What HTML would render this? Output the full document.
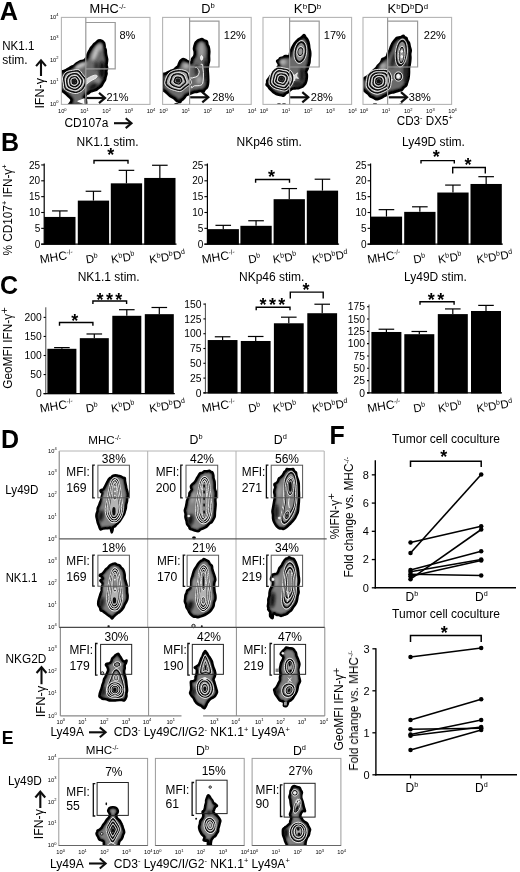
<!DOCTYPE html>
<html><head><meta charset="utf-8"><title>Figure</title>
<style>
html,body{margin:0;padding:0;background:#fff;}
body{width:520px;height:872px;overflow:hidden;font-family:"Liberation Sans",sans-serif;}
svg{display:block;font-family:"Liberation Sans",sans-serif;}
</style></head><body>
<svg width="520" height="872" viewBox="0 0 520 872">
<defs>
<filter id="gsoft" x="0" y="0" width="100%" height="100%" filterUnits="userSpaceOnUse"><feGaussianBlur stdDeviation="0.38"/></filter>
<filter id="soft" x="-5%" y="-5%" width="110%" height="110%"><feGaussianBlur stdDeviation="0.45"/></filter>
<filter id="soft3" x="-50%" y="-50%" width="200%" height="200%"><feGaussianBlur stdDeviation="1.6"/></filter>
<filter id="b06" x="-30%" y="-30%" width="160%" height="160%"><feGaussianBlur stdDeviation="0.6"/></filter>
<filter id="b08" x="-30%" y="-30%" width="160%" height="160%"><feGaussianBlur stdDeviation="0.9"/></filter>
<filter id="soft2" x="-5%" y="-5%" width="110%" height="110%"><feGaussianBlur stdDeviation="0.3"/></filter>
</defs>
<rect x="0" y="0" width="520" height="872" fill="#fff"/>
<g filter="url(#gsoft)">
<text x="-0.3" y="20.2" font-size="25.3" text-anchor="start" font-weight="bold" fill="#000">A</text>
<text x="0.9" y="150.9" font-size="25" text-anchor="start" font-weight="bold" fill="#000">B</text>
<text x="0.0" y="294.4" font-size="25" text-anchor="start" font-weight="bold" fill="#000">C</text>
<text x="0.9" y="447.9" font-size="25" text-anchor="start" font-weight="bold" fill="#000">D</text>
<text x="1.8" y="744.1" font-size="17.6" text-anchor="start" font-weight="bold" fill="#000">E</text>
<text x="329.5" y="443.8" font-size="25" text-anchor="start" font-weight="bold" fill="#000">F</text>
<text x="12.0" y="255.5" font-size="12" text-anchor="start" textLength="91" lengthAdjust="spacingAndGlyphs" fill="#000" transform="rotate(-90 12.0 255.5)">% CD107<tspan font-size="7.44" dy="-4.56">+</tspan><tspan dy="4.56"> IFN-γ</tspan><tspan font-size="7.44" dy="-4.56">+</tspan></text>
<rect x="44.2" y="216.938" width="31.3" height="27.762" fill="#000"/>
<line x1="59.85" y1="216.938" x2="59.85" y2="210.915" stroke="#000" stroke-width="1.2" stroke-linecap="butt"/>
<line x1="52.050000000000004" y1="210.915" x2="67.65" y2="210.915" stroke="#000" stroke-width="1.2" stroke-linecap="butt"/>
<rect x="77.8" y="200.61249999999998" width="31.3" height="44.087500000000006" fill="#000"/>
<line x1="93.45" y1="200.61249999999998" x2="93.45" y2="191.261" stroke="#000" stroke-width="1.2" stroke-linecap="butt"/>
<line x1="85.65" y1="191.261" x2="101.25" y2="191.261" stroke="#000" stroke-width="1.2" stroke-linecap="butt"/>
<rect x="110.8" y="183.33599999999998" width="31.3" height="61.364000000000004" fill="#000"/>
<line x1="126.45" y1="183.33599999999998" x2="126.45" y2="170.339" stroke="#000" stroke-width="1.2" stroke-linecap="butt"/>
<line x1="118.65" y1="170.339" x2="134.25" y2="170.339" stroke="#000" stroke-width="1.2" stroke-linecap="butt"/>
<rect x="144.2" y="177.947" width="31.3" height="66.75299999999999" fill="#000"/>
<line x1="159.85" y1="177.947" x2="159.85" y2="165.267" stroke="#000" stroke-width="1.2" stroke-linecap="butt"/>
<line x1="152.04999999999998" y1="165.267" x2="167.65" y2="165.267" stroke="#000" stroke-width="1.2" stroke-linecap="butt"/>
<line x1="44.2" y1="163.5" x2="44.2" y2="244.79999999999998" stroke="#000" stroke-width="1.2" stroke-linecap="butt"/>
<line x1="41.2" y1="244.2" x2="176.5" y2="244.2" stroke="#000" stroke-width="1.3" stroke-linecap="butt"/>
<line x1="41.2" y1="244.2" x2="44.2" y2="244.2" stroke="#000" stroke-width="1.1" stroke-linecap="butt"/>
<text x="40.2" y="247.79999999999998" font-size="10" text-anchor="end" fill="#000">0</text>
<line x1="41.2" y1="228.35" x2="44.2" y2="228.35" stroke="#000" stroke-width="1.1" stroke-linecap="butt"/>
<text x="40.2" y="231.95" font-size="10" text-anchor="end" fill="#000">5</text>
<line x1="41.2" y1="212.5" x2="44.2" y2="212.5" stroke="#000" stroke-width="1.1" stroke-linecap="butt"/>
<text x="40.2" y="216.1" font-size="10" text-anchor="end" fill="#000">10</text>
<line x1="41.2" y1="196.64999999999998" x2="44.2" y2="196.64999999999998" stroke="#000" stroke-width="1.1" stroke-linecap="butt"/>
<text x="40.2" y="200.24999999999997" font-size="10" text-anchor="end" fill="#000">15</text>
<line x1="41.2" y1="180.79999999999998" x2="44.2" y2="180.79999999999998" stroke="#000" stroke-width="1.1" stroke-linecap="butt"/>
<text x="40.2" y="184.39999999999998" font-size="10" text-anchor="end" fill="#000">20</text>
<line x1="41.2" y1="164.95" x2="44.2" y2="164.95" stroke="#000" stroke-width="1.1" stroke-linecap="butt"/>
<text x="40.2" y="168.54999999999998" font-size="10" text-anchor="end" fill="#000">25</text>
<text x="40.5" y="263.5" font-size="12" text-anchor="start" fill="#000" transform="rotate(-9 40.5 263.5)">MHC<tspan font-size="6.60" dy="-4.56">-/-</tspan></text>
<text x="86.5" y="263.5" font-size="11.5" text-anchor="start" fill="#000" transform="rotate(-9 86.5 263.5)">D<tspan font-size="7.13" dy="-4.37">b</tspan></text>
<text x="111.8" y="263.5" font-size="11.5" text-anchor="start" fill="#000" transform="rotate(-9 111.8 263.5)">K<tspan font-size="7.13" dy="-4.37">b</tspan><tspan dy="4.37">D</tspan><tspan font-size="7.13" dy="-4.37">b</tspan></text>
<text x="150" y="263.5" font-size="11.5" text-anchor="start" fill="#000" transform="rotate(-9 150 263.5)">K<tspan font-size="7.13" dy="-4.37">b</tspan><tspan dy="4.37">D</tspan><tspan font-size="7.13" dy="-4.37">b</tspan><tspan dy="4.37">D</tspan><tspan font-size="7.13" dy="-4.37">d</tspan></text>
<text x="76.5" y="145.5" font-size="12" text-anchor="start" fill="#000">NK1.1 stim.</text>
<path d="M94,163.7 L94,160.5 L128,160.5 L128,163.7" fill="none" stroke="#000" stroke-width="1.4" />
<text x="110.75" y="160.68" font-size="18" text-anchor="middle" font-weight="bold" fill="#000">*</text>
<rect x="207.6" y="229.14249999999998" width="31.3" height="15.557500000000005" fill="#000"/>
<line x1="223.25" y1="229.14249999999998" x2="223.25" y2="225.33849999999998" stroke="#000" stroke-width="1.2" stroke-linecap="butt"/>
<line x1="215.45" y1="225.33849999999998" x2="231.05" y2="225.33849999999998" stroke="#000" stroke-width="1.2" stroke-linecap="butt"/>
<rect x="240.4" y="225.814" width="31.3" height="18.885999999999996" fill="#000"/>
<line x1="256.05" y1="225.814" x2="256.05" y2="220.742" stroke="#000" stroke-width="1.2" stroke-linecap="butt"/>
<line x1="248.25" y1="220.742" x2="263.85" y2="220.742" stroke="#000" stroke-width="1.2" stroke-linecap="butt"/>
<rect x="273.6" y="199.18599999999998" width="31.3" height="45.51400000000001" fill="#000"/>
<line x1="289.25" y1="199.18599999999998" x2="289.25" y2="188.5665" stroke="#000" stroke-width="1.2" stroke-linecap="butt"/>
<line x1="281.45" y1="188.5665" x2="297.05" y2="188.5665" stroke="#000" stroke-width="1.2" stroke-linecap="butt"/>
<rect x="306.8" y="190.627" width="31.3" height="54.07299999999998" fill="#000"/>
<line x1="322.45" y1="190.627" x2="322.45" y2="179.21499999999997" stroke="#000" stroke-width="1.2" stroke-linecap="butt"/>
<line x1="314.65" y1="179.21499999999997" x2="330.25" y2="179.21499999999997" stroke="#000" stroke-width="1.2" stroke-linecap="butt"/>
<line x1="207.4" y1="163.5" x2="207.4" y2="244.79999999999998" stroke="#000" stroke-width="1.2" stroke-linecap="butt"/>
<line x1="204.4" y1="244.2" x2="339.1" y2="244.2" stroke="#000" stroke-width="1.3" stroke-linecap="butt"/>
<line x1="204.4" y1="244.2" x2="207.4" y2="244.2" stroke="#000" stroke-width="1.1" stroke-linecap="butt"/>
<text x="203.4" y="247.79999999999998" font-size="10" text-anchor="end" fill="#000">0</text>
<line x1="204.4" y1="228.35" x2="207.4" y2="228.35" stroke="#000" stroke-width="1.1" stroke-linecap="butt"/>
<text x="203.4" y="231.95" font-size="10" text-anchor="end" fill="#000">5</text>
<line x1="204.4" y1="212.5" x2="207.4" y2="212.5" stroke="#000" stroke-width="1.1" stroke-linecap="butt"/>
<text x="203.4" y="216.1" font-size="10" text-anchor="end" fill="#000">10</text>
<line x1="204.4" y1="196.64999999999998" x2="207.4" y2="196.64999999999998" stroke="#000" stroke-width="1.1" stroke-linecap="butt"/>
<text x="203.4" y="200.24999999999997" font-size="10" text-anchor="end" fill="#000">15</text>
<line x1="204.4" y1="180.79999999999998" x2="207.4" y2="180.79999999999998" stroke="#000" stroke-width="1.1" stroke-linecap="butt"/>
<text x="203.4" y="184.39999999999998" font-size="10" text-anchor="end" fill="#000">20</text>
<line x1="204.4" y1="164.95" x2="207.4" y2="164.95" stroke="#000" stroke-width="1.1" stroke-linecap="butt"/>
<text x="203.4" y="168.54999999999998" font-size="10" text-anchor="end" fill="#000">25</text>
<text x="202.5" y="263.5" font-size="12" text-anchor="start" fill="#000" transform="rotate(-9 202.5 263.5)">MHC<tspan font-size="6.60" dy="-4.56">-/-</tspan></text>
<text x="249" y="263.5" font-size="11.5" text-anchor="start" fill="#000" transform="rotate(-9 249 263.5)">D<tspan font-size="7.13" dy="-4.37">b</tspan></text>
<text x="273.5" y="263.5" font-size="11.5" text-anchor="start" fill="#000" transform="rotate(-9 273.5 263.5)">K<tspan font-size="7.13" dy="-4.37">b</tspan><tspan dy="4.37">D</tspan><tspan font-size="7.13" dy="-4.37">b</tspan></text>
<text x="312.7" y="263.5" font-size="11.5" text-anchor="start" fill="#000" transform="rotate(-9 312.7 263.5)">K<tspan font-size="7.13" dy="-4.37">b</tspan><tspan dy="4.37">D</tspan><tspan font-size="7.13" dy="-4.37">b</tspan><tspan dy="4.37">D</tspan><tspan font-size="7.13" dy="-4.37">d</tspan></text>
<text x="236.5" y="145.5" font-size="12" text-anchor="start" fill="#000">NKp46 stim.</text>
<path d="M255.6,182.7 L255.6,179.5 L289.5,179.5 L289.5,182.7" fill="none" stroke="#000" stroke-width="1.4" />
<text x="271.5" y="182.58" font-size="18" text-anchor="middle" font-weight="bold" fill="#000">*</text>
<rect x="370.8" y="216.62099999999998" width="31.3" height="28.079000000000008" fill="#000"/>
<line x1="386.45" y1="216.62099999999998" x2="386.45" y2="209.647" stroke="#000" stroke-width="1.2" stroke-linecap="butt"/>
<line x1="378.65" y1="209.647" x2="394.25" y2="209.647" stroke="#000" stroke-width="1.2" stroke-linecap="butt"/>
<rect x="404.2" y="211.86599999999999" width="31.3" height="32.834" fill="#000"/>
<line x1="419.84999999999997" y1="211.86599999999999" x2="419.84999999999997" y2="206.79399999999998" stroke="#000" stroke-width="1.2" stroke-linecap="butt"/>
<line x1="412.04999999999995" y1="206.79399999999998" x2="427.65" y2="206.79399999999998" stroke="#000" stroke-width="1.2" stroke-linecap="butt"/>
<rect x="437.3" y="192.529" width="31.3" height="52.17099999999999" fill="#000"/>
<line x1="452.95" y1="192.529" x2="452.95" y2="185.0795" stroke="#000" stroke-width="1.2" stroke-linecap="butt"/>
<line x1="445.15" y1="185.0795" x2="460.75" y2="185.0795" stroke="#000" stroke-width="1.2" stroke-linecap="butt"/>
<rect x="470.5" y="183.97" width="31.3" height="60.72999999999999" fill="#000"/>
<line x1="486.15" y1="183.97" x2="486.15" y2="176.67899999999997" stroke="#000" stroke-width="1.2" stroke-linecap="butt"/>
<line x1="478.34999999999997" y1="176.67899999999997" x2="493.95" y2="176.67899999999997" stroke="#000" stroke-width="1.2" stroke-linecap="butt"/>
<line x1="370.6" y1="163.5" x2="370.6" y2="244.79999999999998" stroke="#000" stroke-width="1.2" stroke-linecap="butt"/>
<line x1="367.6" y1="244.2" x2="502.8" y2="244.2" stroke="#000" stroke-width="1.3" stroke-linecap="butt"/>
<line x1="367.6" y1="244.2" x2="370.6" y2="244.2" stroke="#000" stroke-width="1.1" stroke-linecap="butt"/>
<text x="366.6" y="247.79999999999998" font-size="10" text-anchor="end" fill="#000">0</text>
<line x1="367.6" y1="228.35" x2="370.6" y2="228.35" stroke="#000" stroke-width="1.1" stroke-linecap="butt"/>
<text x="366.6" y="231.95" font-size="10" text-anchor="end" fill="#000">5</text>
<line x1="367.6" y1="212.5" x2="370.6" y2="212.5" stroke="#000" stroke-width="1.1" stroke-linecap="butt"/>
<text x="366.6" y="216.1" font-size="10" text-anchor="end" fill="#000">10</text>
<line x1="367.6" y1="196.64999999999998" x2="370.6" y2="196.64999999999998" stroke="#000" stroke-width="1.1" stroke-linecap="butt"/>
<text x="366.6" y="200.24999999999997" font-size="10" text-anchor="end" fill="#000">15</text>
<line x1="367.6" y1="180.79999999999998" x2="370.6" y2="180.79999999999998" stroke="#000" stroke-width="1.1" stroke-linecap="butt"/>
<text x="366.6" y="184.39999999999998" font-size="10" text-anchor="end" fill="#000">20</text>
<line x1="367.6" y1="164.95" x2="370.6" y2="164.95" stroke="#000" stroke-width="1.1" stroke-linecap="butt"/>
<text x="366.6" y="168.54999999999998" font-size="10" text-anchor="end" fill="#000">25</text>
<text x="368" y="263.5" font-size="12" text-anchor="start" fill="#000" transform="rotate(-9 368 263.5)">MHC<tspan font-size="6.60" dy="-4.56">-/-</tspan></text>
<text x="414" y="263.5" font-size="11.5" text-anchor="start" fill="#000" transform="rotate(-9 414 263.5)">D<tspan font-size="7.13" dy="-4.37">b</tspan></text>
<text x="438.7" y="263.5" font-size="11.5" text-anchor="start" fill="#000" transform="rotate(-9 438.7 263.5)">K<tspan font-size="7.13" dy="-4.37">b</tspan><tspan dy="4.37">D</tspan><tspan font-size="7.13" dy="-4.37">b</tspan></text>
<text x="477.3" y="263.5" font-size="11.5" text-anchor="start" fill="#000" transform="rotate(-9 477.3 263.5)">K<tspan font-size="7.13" dy="-4.37">b</tspan><tspan dy="4.37">D</tspan><tspan font-size="7.13" dy="-4.37">b</tspan><tspan dy="4.37">D</tspan><tspan font-size="7.13" dy="-4.37">d</tspan></text>
<text x="402" y="145.5" font-size="12" text-anchor="start" fill="#000">Ly49D stim.</text>
<path d="M421,163.6 L421,160.6 L454.3,160.6 L454.3,163.6" fill="none" stroke="#000" stroke-width="1.4" />
<text x="436.3" y="163.08" font-size="18" text-anchor="middle" font-weight="bold" fill="#000">*</text>
<path d="M452.7,173.5 L452.7,167.5 L485.3,167.5 L485.3,173.5" fill="none" stroke="#000" stroke-width="1.4" />
<text x="468.0" y="170.88000000000002" font-size="18" text-anchor="middle" font-weight="bold" fill="#000">*</text>
<text x="12.0" y="388.8" font-size="12" text-anchor="start" textLength="81.5" lengthAdjust="spacingAndGlyphs" fill="#000" transform="rotate(-90 12.0 388.8)">GeoMFI IFN-γ<tspan font-size="11.40" dy="-3.60">+</tspan></text>
<rect x="47.4" y="348.7944" width="29" height="45.30560000000003" fill="#000"/>
<line x1="61.9" y1="348.7944" x2="61.9" y2="347.61330000000004" stroke="#000" stroke-width="1.2" stroke-linecap="butt"/>
<line x1="54.1" y1="347.61330000000004" x2="69.7" y2="347.61330000000004" stroke="#000" stroke-width="1.2" stroke-linecap="butt"/>
<rect x="79.8" y="338.16450000000003" width="29" height="55.93549999999999" fill="#000"/>
<line x1="94.3" y1="338.16450000000003" x2="94.3" y2="333.9735" stroke="#000" stroke-width="1.2" stroke-linecap="butt"/>
<line x1="86.5" y1="333.9735" x2="102.1" y2="333.9735" stroke="#000" stroke-width="1.2" stroke-linecap="butt"/>
<rect x="112.3" y="315.7998" width="29" height="78.30020000000002" fill="#000"/>
<line x1="126.8" y1="315.7998" x2="126.8" y2="309.7038" stroke="#000" stroke-width="1.2" stroke-linecap="butt"/>
<line x1="119.0" y1="309.7038" x2="134.6" y2="309.7038" stroke="#000" stroke-width="1.2" stroke-linecap="butt"/>
<rect x="144.8" y="314.16150000000005" width="29" height="79.93849999999998" fill="#000"/>
<line x1="159.3" y1="314.16150000000005" x2="159.3" y2="307.494" stroke="#000" stroke-width="1.2" stroke-linecap="butt"/>
<line x1="151.5" y1="307.494" x2="167.10000000000002" y2="307.494" stroke="#000" stroke-width="1.2" stroke-linecap="butt"/>
<line x1="45.8" y1="307.3" x2="45.8" y2="394.20000000000005" stroke="#333" stroke-width="0.9" stroke-linecap="butt"/>
<line x1="43.599999999999994" y1="393.6" x2="174.8" y2="393.6" stroke="#000" stroke-width="1.3" stroke-linecap="butt"/>
<line x1="43.599999999999994" y1="393.6" x2="45.8" y2="393.6" stroke="#000" stroke-width="1.1" stroke-linecap="butt"/>
<text x="41.8" y="397.20000000000005" font-size="10.3" text-anchor="end" fill="#000">0</text>
<line x1="43.599999999999994" y1="374.55" x2="45.8" y2="374.55" stroke="#000" stroke-width="1.1" stroke-linecap="butt"/>
<text x="41.8" y="378.15000000000003" font-size="10.3" text-anchor="end" fill="#000">50</text>
<line x1="43.599999999999994" y1="355.5" x2="45.8" y2="355.5" stroke="#000" stroke-width="1.1" stroke-linecap="butt"/>
<text x="41.8" y="359.1" font-size="10.3" text-anchor="end" fill="#000">100</text>
<line x1="43.599999999999994" y1="336.45000000000005" x2="45.8" y2="336.45000000000005" stroke="#000" stroke-width="1.1" stroke-linecap="butt"/>
<text x="41.8" y="340.05000000000007" font-size="10.3" text-anchor="end" fill="#000">150</text>
<line x1="43.599999999999994" y1="317.40000000000003" x2="45.8" y2="317.40000000000003" stroke="#000" stroke-width="1.1" stroke-linecap="butt"/>
<text x="41.8" y="321.00000000000006" font-size="10.3" text-anchor="end" fill="#000">200</text>
<text x="40.5" y="412.5" font-size="12" text-anchor="start" fill="#000" transform="rotate(-9 40.5 412.5)">MHC<tspan font-size="6.60" dy="-4.56">-/-</tspan></text>
<text x="86.5" y="412.5" font-size="11.5" text-anchor="start" fill="#000" transform="rotate(-9 86.5 412.5)">D<tspan font-size="7.13" dy="-4.37">b</tspan></text>
<text x="111.8" y="412.5" font-size="11.5" text-anchor="start" fill="#000" transform="rotate(-9 111.8 412.5)">K<tspan font-size="7.13" dy="-4.37">b</tspan><tspan dy="4.37">D</tspan><tspan font-size="7.13" dy="-4.37">b</tspan></text>
<text x="150" y="412.5" font-size="11.5" text-anchor="start" fill="#000" transform="rotate(-9 150 412.5)">K<tspan font-size="7.13" dy="-4.37">b</tspan><tspan dy="4.37">D</tspan><tspan font-size="7.13" dy="-4.37">b</tspan><tspan dy="4.37">D</tspan><tspan font-size="7.13" dy="-4.37">d</tspan></text>
<text x="77.7" y="280.6" font-size="12" text-anchor="start" fill="#000">NK1.1 stim.</text>
<path d="M59.5,325.7 L59.5,322.5 L92.9,322.5 L92.9,325.7" fill="none" stroke="#000" stroke-width="1.4" />
<text x="74.7" y="327.38" font-size="18" text-anchor="middle" font-weight="bold" fill="#000">*</text>
<path d="M92.9,304 L92.9,301 L126.6,301 L126.6,304" fill="none" stroke="#000" stroke-width="1.4" />
<text x="100.10000000000001" y="305.68" font-size="18" text-anchor="middle" font-weight="bold" fill="#000">*</text>
<text x="109.4" y="305.68" font-size="18" text-anchor="middle" font-weight="bold" fill="#000">*</text>
<text x="118.70000000000002" y="305.68" font-size="18" text-anchor="middle" font-weight="bold" fill="#000">*</text>
<rect x="207.7" y="340.0344" width="29.8" height="53.36559999999997" fill="#000"/>
<line x1="222.6" y1="340.0344" x2="222.6" y2="336.7784" stroke="#000" stroke-width="1.2" stroke-linecap="butt"/>
<line x1="214.79999999999998" y1="336.7784" x2="230.4" y2="336.7784" stroke="#000" stroke-width="1.2" stroke-linecap="butt"/>
<rect x="240.8" y="340.98159999999996" width="29.8" height="52.41840000000002" fill="#000"/>
<line x1="255.70000000000002" y1="340.98159999999996" x2="255.70000000000002" y2="336.4824" stroke="#000" stroke-width="1.2" stroke-linecap="butt"/>
<line x1="247.9" y1="336.4824" x2="263.5" y2="336.4824" stroke="#000" stroke-width="1.2" stroke-linecap="butt"/>
<rect x="273.9" y="323.2808" width="29.8" height="70.11919999999998" fill="#000"/>
<line x1="288.79999999999995" y1="323.2808" x2="288.79999999999995" y2="317.18319999999994" stroke="#000" stroke-width="1.2" stroke-linecap="butt"/>
<line x1="280.99999999999994" y1="317.18319999999994" x2="296.59999999999997" y2="317.18319999999994" stroke="#000" stroke-width="1.2" stroke-linecap="butt"/>
<rect x="307.3" y="313.2168" width="29.8" height="80.1832" fill="#000"/>
<line x1="322.2" y1="313.2168" x2="322.2" y2="304.2184" stroke="#000" stroke-width="1.2" stroke-linecap="butt"/>
<line x1="314.4" y1="304.2184" x2="330.0" y2="304.2184" stroke="#000" stroke-width="1.2" stroke-linecap="butt"/>
<line x1="205.4" y1="303.4" x2="205.4" y2="393.5" stroke="#333" stroke-width="0.9" stroke-linecap="butt"/>
<line x1="203.4" y1="392.9" x2="338.1" y2="392.9" stroke="#000" stroke-width="1.3" stroke-linecap="butt"/>
<line x1="203.4" y1="392.9" x2="205.4" y2="392.9" stroke="#000" stroke-width="1.1" stroke-linecap="butt"/>
<text x="201.4" y="396.5" font-size="10.3" text-anchor="end" fill="#000">0</text>
<line x1="203.4" y1="378.09999999999997" x2="205.4" y2="378.09999999999997" stroke="#000" stroke-width="1.1" stroke-linecap="butt"/>
<text x="201.4" y="381.7" font-size="10.3" text-anchor="end" fill="#000">25</text>
<line x1="203.4" y1="363.29999999999995" x2="205.4" y2="363.29999999999995" stroke="#000" stroke-width="1.1" stroke-linecap="butt"/>
<text x="201.4" y="366.9" font-size="10.3" text-anchor="end" fill="#000">50</text>
<line x1="203.4" y1="348.5" x2="205.4" y2="348.5" stroke="#000" stroke-width="1.1" stroke-linecap="butt"/>
<text x="201.4" y="352.1" font-size="10.3" text-anchor="end" fill="#000">75</text>
<line x1="203.4" y1="333.7" x2="205.4" y2="333.7" stroke="#000" stroke-width="1.1" stroke-linecap="butt"/>
<text x="201.4" y="337.3" font-size="10.3" text-anchor="end" fill="#000">100</text>
<line x1="203.4" y1="318.9" x2="205.4" y2="318.9" stroke="#000" stroke-width="1.1" stroke-linecap="butt"/>
<text x="201.4" y="322.5" font-size="10.3" text-anchor="end" fill="#000">125</text>
<line x1="203.4" y1="304.09999999999997" x2="205.4" y2="304.09999999999997" stroke="#000" stroke-width="1.1" stroke-linecap="butt"/>
<text x="201.4" y="307.7" font-size="10.3" text-anchor="end" fill="#000">150</text>
<text x="202.5" y="412.5" font-size="12" text-anchor="start" fill="#000" transform="rotate(-9 202.5 412.5)">MHC<tspan font-size="6.60" dy="-4.56">-/-</tspan></text>
<text x="249" y="412.5" font-size="11.5" text-anchor="start" fill="#000" transform="rotate(-9 249 412.5)">D<tspan font-size="7.13" dy="-4.37">b</tspan></text>
<text x="273.5" y="412.5" font-size="11.5" text-anchor="start" fill="#000" transform="rotate(-9 273.5 412.5)">K<tspan font-size="7.13" dy="-4.37">b</tspan><tspan dy="4.37">D</tspan><tspan font-size="7.13" dy="-4.37">b</tspan></text>
<text x="312.7" y="412.5" font-size="11.5" text-anchor="start" fill="#000" transform="rotate(-9 312.7 412.5)">K<tspan font-size="7.13" dy="-4.37">b</tspan><tspan dy="4.37">D</tspan><tspan font-size="7.13" dy="-4.37">b</tspan><tspan dy="4.37">D</tspan><tspan font-size="7.13" dy="-4.37">d</tspan></text>
<text x="239" y="280.6" font-size="12" text-anchor="start" fill="#000">NKp46 stim.</text>
<path d="M256.2,310.3 L256.2,307.3 L290,307.3 L290,310.3" fill="none" stroke="#000" stroke-width="1.4" />
<text x="263.09999999999997" y="310.68" font-size="18" text-anchor="middle" font-weight="bold" fill="#000">*</text>
<text x="272.4" y="310.68" font-size="18" text-anchor="middle" font-weight="bold" fill="#000">*</text>
<text x="281.7" y="310.68" font-size="18" text-anchor="middle" font-weight="bold" fill="#000">*</text>
<path d="M290.3,298.6 L290.3,292.1 L323.2,292.1 L323.2,298.6" fill="none" stroke="#000" stroke-width="1.4" />
<text x="305.9" y="295.68" font-size="18" text-anchor="middle" font-weight="bold" fill="#000">*</text>
<rect x="371.4" y="331.97774999999996" width="30" height="61.42225000000002" fill="#000"/>
<line x1="386.4" y1="331.97774999999996" x2="386.4" y2="329.21975" stroke="#000" stroke-width="1.2" stroke-linecap="butt"/>
<line x1="378.59999999999997" y1="329.21975" x2="394.2" y2="329.21975" stroke="#000" stroke-width="1.2" stroke-linecap="butt"/>
<rect x="404.3" y="334.19399999999996" width="30" height="59.20600000000002" fill="#000"/>
<line x1="419.3" y1="334.19399999999996" x2="419.3" y2="331.48524999999995" stroke="#000" stroke-width="1.2" stroke-linecap="butt"/>
<line x1="411.5" y1="331.48524999999995" x2="427.1" y2="331.48524999999995" stroke="#000" stroke-width="1.2" stroke-linecap="butt"/>
<rect x="437.8" y="314.09999999999997" width="30" height="79.30000000000001" fill="#000"/>
<line x1="452.8" y1="314.09999999999997" x2="452.8" y2="308.92875" stroke="#000" stroke-width="1.2" stroke-linecap="butt"/>
<line x1="445.0" y1="308.92875" x2="460.6" y2="308.92875" stroke="#000" stroke-width="1.2" stroke-linecap="butt"/>
<rect x="471" y="310.99725" width="30" height="82.40274999999997" fill="#000"/>
<line x1="486.0" y1="310.99725" x2="486.0" y2="305.38275" stroke="#000" stroke-width="1.2" stroke-linecap="butt"/>
<line x1="478.2" y1="305.38275" x2="493.8" y2="305.38275" stroke="#000" stroke-width="1.2" stroke-linecap="butt"/>
<line x1="369" y1="304.5" x2="369" y2="393.5" stroke="#333" stroke-width="0.9" stroke-linecap="butt"/>
<line x1="367.0" y1="392.9" x2="502" y2="392.9" stroke="#000" stroke-width="1.3" stroke-linecap="butt"/>
<line x1="367.0" y1="392.9" x2="369" y2="392.9" stroke="#000" stroke-width="1.1" stroke-linecap="butt"/>
<text x="365.0" y="396.5" font-size="10.3" text-anchor="end" fill="#000">0</text>
<line x1="367.0" y1="380.5875" x2="369" y2="380.5875" stroke="#000" stroke-width="1.1" stroke-linecap="butt"/>
<text x="365.0" y="384.1875" font-size="10.3" text-anchor="end" fill="#000">25</text>
<line x1="367.0" y1="368.275" x2="369" y2="368.275" stroke="#000" stroke-width="1.1" stroke-linecap="butt"/>
<text x="365.0" y="371.875" font-size="10.3" text-anchor="end" fill="#000">50</text>
<line x1="367.0" y1="355.9625" x2="369" y2="355.9625" stroke="#000" stroke-width="1.1" stroke-linecap="butt"/>
<text x="365.0" y="359.5625" font-size="10.3" text-anchor="end" fill="#000">75</text>
<line x1="367.0" y1="343.65" x2="369" y2="343.65" stroke="#000" stroke-width="1.1" stroke-linecap="butt"/>
<text x="365.0" y="347.25" font-size="10.3" text-anchor="end" fill="#000">100</text>
<line x1="367.0" y1="331.3375" x2="369" y2="331.3375" stroke="#000" stroke-width="1.1" stroke-linecap="butt"/>
<text x="365.0" y="334.9375" font-size="10.3" text-anchor="end" fill="#000">125</text>
<line x1="367.0" y1="319.025" x2="369" y2="319.025" stroke="#000" stroke-width="1.1" stroke-linecap="butt"/>
<text x="365.0" y="322.625" font-size="10.3" text-anchor="end" fill="#000">150</text>
<line x1="367.0" y1="306.7125" x2="369" y2="306.7125" stroke="#000" stroke-width="1.1" stroke-linecap="butt"/>
<text x="365.0" y="310.3125" font-size="10.3" text-anchor="end" fill="#000">175</text>
<text x="368" y="412.5" font-size="12" text-anchor="start" fill="#000" transform="rotate(-9 368 412.5)">MHC<tspan font-size="6.60" dy="-4.56">-/-</tspan></text>
<text x="414" y="412.5" font-size="11.5" text-anchor="start" fill="#000" transform="rotate(-9 414 412.5)">D<tspan font-size="7.13" dy="-4.37">b</tspan></text>
<text x="438.7" y="412.5" font-size="11.5" text-anchor="start" fill="#000" transform="rotate(-9 438.7 412.5)">K<tspan font-size="7.13" dy="-4.37">b</tspan><tspan dy="4.37">D</tspan><tspan font-size="7.13" dy="-4.37">b</tspan></text>
<text x="477.3" y="412.5" font-size="11.5" text-anchor="start" fill="#000" transform="rotate(-9 477.3 412.5)">K<tspan font-size="7.13" dy="-4.37">b</tspan><tspan dy="4.37">D</tspan><tspan font-size="7.13" dy="-4.37">b</tspan><tspan dy="4.37">D</tspan><tspan font-size="7.13" dy="-4.37">d</tspan></text>
<text x="404" y="280.6" font-size="12" text-anchor="start" fill="#000">Ly49D stim.</text>
<path d="M420,304.8 L420,301.8 L454.1,301.8 L454.1,304.8" fill="none" stroke="#000" stroke-width="1.4" />
<text x="431.35" y="305.68" font-size="18" text-anchor="middle" font-weight="bold" fill="#000">*</text>
<text x="440.65000000000003" y="305.68" font-size="18" text-anchor="middle" font-weight="bold" fill="#000">*</text>
<text x="2.3" y="49.6" font-size="12" text-anchor="start" textLength="32" lengthAdjust="spacingAndGlyphs" fill="#000">NK1.1</text>
<text x="2.3" y="64.3" font-size="12" text-anchor="start" fill="#000">stim.</text>
<line x1="41" y1="76" x2="41" y2="61.3" stroke="#111" stroke-width="2.1" stroke-linecap="butt"/>
<path d="M36.07,66.1 L41,60.3 L45.93,66.1" fill="none" stroke="#111" stroke-width="2.1" />
<text x="44.2" y="108.6" font-size="12" text-anchor="start" textLength="30.5" lengthAdjust="spacingAndGlyphs" fill="#000" transform="rotate(-90 44.2 108.6)">IFN-γ</text>
<text x="64.5" y="126.6" font-size="12" text-anchor="start" textLength="43.8" lengthAdjust="spacingAndGlyphs" fill="#000">CD107a</text>
<line x1="114" y1="123.2" x2="130.5" y2="123.2" stroke="#111" stroke-width="2.1" stroke-linecap="butt"/>
<path d="M125.7,118.27000000000001 L131.5,123.2 L125.7,128.13" fill="none" stroke="#111" stroke-width="2.1" />
<clipPath id="clipA0"><rect x="61.4" y="17.4" width="88.6" height="87.0"/></clipPath>
<g clip-path="url(#clipA0)">
<clipPath id="bc1"><path d="M60.0,72.5C60.5,70.8 62.0,71.6 63.0,71.2C64.0,70.8 65.1,70.4 66.0,70.0C66.9,69.6 67.7,69.1 68.5,68.6C69.4,68.1 70.1,67.5 71.0,67.0C71.9,66.5 72.9,66.3 73.7,65.8C74.6,65.2 75.3,64.3 76.0,63.8C76.7,63.3 77.3,62.9 78.0,62.5C78.6,62.1 79.3,61.6 80.0,61.3C80.7,61.0 81.3,61.0 82.0,60.8C82.7,60.6 83.4,60.6 84.0,60.3C84.6,60.0 85.1,59.3 85.6,58.7C86.1,58.2 86.7,57.7 87.0,57.0C87.3,56.3 87.2,55.2 87.5,54.4C87.8,53.6 88.2,52.8 88.6,52.0C89.0,51.2 89.4,50.6 89.8,49.9C90.2,49.1 90.5,48.4 91.0,47.7C91.5,47.0 92.1,46.5 92.6,45.9C93.1,45.3 93.5,44.5 94.0,44.0C94.5,43.5 95.2,43.4 95.7,43.0C96.2,42.6 96.5,42.0 97.0,41.6C97.5,41.2 97.9,40.8 98.4,40.5C99.0,40.3 99.7,40.2 100.2,40.2C100.7,40.2 101.2,40.5 101.7,40.7C102.1,40.9 102.6,41.1 103.0,41.5C103.4,41.9 103.9,42.5 104.2,43.1C104.4,43.7 104.5,44.3 104.6,45.0C104.7,45.7 104.7,46.7 104.9,47.6C105.1,48.4 105.6,49.1 105.8,50.0C106.0,50.9 105.8,52.0 106.0,53.0C106.1,54.0 106.3,55.0 106.5,56.0C106.7,57.0 107.1,58.0 107.2,59.0C107.3,60.0 107.1,61.0 107.0,62.0C106.9,63.0 106.6,64.0 106.6,65.0C106.7,66.0 107.2,67.0 107.2,68.0C107.2,69.0 106.5,70.0 106.4,71.0C106.3,72.0 106.7,73.0 106.6,74.0C106.5,75.0 105.9,76.0 105.7,77.0C105.4,78.0 105.4,79.1 105.0,80.0C104.6,80.9 103.9,81.6 103.4,82.4C102.9,83.3 102.5,84.2 102.0,85.0C101.5,85.8 100.9,86.4 100.2,87.0C99.6,87.6 98.7,88.0 98.0,88.5C97.3,89.0 96.9,89.6 96.2,89.9C95.6,90.3 94.7,90.3 94.0,90.5C93.3,90.7 92.7,91.0 92.0,91.2C91.3,91.5 90.6,91.6 90.0,92.0C89.4,92.4 89.1,93.0 88.5,93.4C87.9,93.7 87.0,93.6 86.5,94.0C86.0,94.4 86.1,95.2 85.8,95.7C85.4,96.2 84.5,96.5 84.5,97.0C84.5,97.5 85.2,98.1 85.5,98.6C85.7,99.2 85.9,99.7 86.0,100.5C86.1,101.3 86.3,102.4 86.2,103.3C86.1,104.2 87.1,105.5 85.5,106.0C83.9,106.5 79.7,106.0 76.8,106.0C73.8,106.0 69.3,106.3 68.0,106.0C66.7,105.7 68.8,104.8 69.2,104.2C69.6,103.6 70.1,103.2 70.5,102.5C70.9,101.8 71.5,100.7 71.5,100.0C71.5,99.3 70.8,98.6 70.3,98.0C69.8,97.4 69.0,97.0 68.5,96.5C68.0,96.0 67.5,95.5 67.0,95.0C66.5,94.5 66.0,93.9 65.5,93.5C65.0,93.1 64.6,92.7 64.1,92.4C63.6,92.0 63.2,91.8 62.5,91.5C61.8,91.2 60.4,92.2 60.0,90.5C59.6,88.8 60.0,84.5 60.0,81.5C60.0,78.5 59.5,74.2 60.0,72.5Z"/></clipPath>
<path d="M60.0,72.5C60.5,70.8 62.0,71.6 63.0,71.2C64.0,70.8 65.1,70.4 66.0,70.0C66.9,69.6 67.7,69.1 68.5,68.6C69.4,68.1 70.1,67.5 71.0,67.0C71.9,66.5 72.9,66.3 73.7,65.8C74.6,65.2 75.3,64.3 76.0,63.8C76.7,63.3 77.3,62.9 78.0,62.5C78.6,62.1 79.3,61.6 80.0,61.3C80.7,61.0 81.3,61.0 82.0,60.8C82.7,60.6 83.4,60.6 84.0,60.3C84.6,60.0 85.1,59.3 85.6,58.7C86.1,58.2 86.7,57.7 87.0,57.0C87.3,56.3 87.2,55.2 87.5,54.4C87.8,53.6 88.2,52.8 88.6,52.0C89.0,51.2 89.4,50.6 89.8,49.9C90.2,49.1 90.5,48.4 91.0,47.7C91.5,47.0 92.1,46.5 92.6,45.9C93.1,45.3 93.5,44.5 94.0,44.0C94.5,43.5 95.2,43.4 95.7,43.0C96.2,42.6 96.5,42.0 97.0,41.6C97.5,41.2 97.9,40.8 98.4,40.5C99.0,40.3 99.7,40.2 100.2,40.2C100.7,40.2 101.2,40.5 101.7,40.7C102.1,40.9 102.6,41.1 103.0,41.5C103.4,41.9 103.9,42.5 104.2,43.1C104.4,43.7 104.5,44.3 104.6,45.0C104.7,45.7 104.7,46.7 104.9,47.6C105.1,48.4 105.6,49.1 105.8,50.0C106.0,50.9 105.8,52.0 106.0,53.0C106.1,54.0 106.3,55.0 106.5,56.0C106.7,57.0 107.1,58.0 107.2,59.0C107.3,60.0 107.1,61.0 107.0,62.0C106.9,63.0 106.6,64.0 106.6,65.0C106.7,66.0 107.2,67.0 107.2,68.0C107.2,69.0 106.5,70.0 106.4,71.0C106.3,72.0 106.7,73.0 106.6,74.0C106.5,75.0 105.9,76.0 105.7,77.0C105.4,78.0 105.4,79.1 105.0,80.0C104.6,80.9 103.9,81.6 103.4,82.4C102.9,83.3 102.5,84.2 102.0,85.0C101.5,85.8 100.9,86.4 100.2,87.0C99.6,87.6 98.7,88.0 98.0,88.5C97.3,89.0 96.9,89.6 96.2,89.9C95.6,90.3 94.7,90.3 94.0,90.5C93.3,90.7 92.7,91.0 92.0,91.2C91.3,91.5 90.6,91.6 90.0,92.0C89.4,92.4 89.1,93.0 88.5,93.4C87.9,93.7 87.0,93.6 86.5,94.0C86.0,94.4 86.1,95.2 85.8,95.7C85.4,96.2 84.5,96.5 84.5,97.0C84.5,97.5 85.2,98.1 85.5,98.6C85.7,99.2 85.9,99.7 86.0,100.5C86.1,101.3 86.3,102.4 86.2,103.3C86.1,104.2 87.1,105.5 85.5,106.0C83.9,106.5 79.7,106.0 76.8,106.0C73.8,106.0 69.3,106.3 68.0,106.0C66.7,105.7 68.8,104.8 69.2,104.2C69.6,103.6 70.1,103.2 70.5,102.5C70.9,101.8 71.5,100.7 71.5,100.0C71.5,99.3 70.8,98.6 70.3,98.0C69.8,97.4 69.0,97.0 68.5,96.5C68.0,96.0 67.5,95.5 67.0,95.0C66.5,94.5 66.0,93.9 65.5,93.5C65.0,93.1 64.6,92.7 64.1,92.4C63.6,92.0 63.2,91.8 62.5,91.5C61.8,91.2 60.4,92.2 60.0,90.5C59.6,88.8 60.0,84.5 60.0,81.5C60.0,78.5 59.5,74.2 60.0,72.5Z" fill="#6a6a6a" stroke="#000" stroke-width="2.4" stroke-linejoin="round"/>
<g clip-path="url(#bc1)">
<path d="M60.0,72.5C60.5,70.8 62.0,71.6 63.0,71.2C64.0,70.8 65.1,70.4 66.0,70.0C66.9,69.6 67.7,69.1 68.5,68.6C69.4,68.1 70.1,67.5 71.0,67.0C71.9,66.5 72.9,66.3 73.7,65.8C74.6,65.2 75.3,64.3 76.0,63.8C76.7,63.3 77.3,62.9 78.0,62.5C78.6,62.1 79.3,61.6 80.0,61.3C80.7,61.0 81.3,61.0 82.0,60.8C82.7,60.6 83.4,60.6 84.0,60.3C84.6,60.0 85.1,59.3 85.6,58.7C86.1,58.2 86.7,57.7 87.0,57.0C87.3,56.3 87.2,55.2 87.5,54.4C87.8,53.6 88.2,52.8 88.6,52.0C89.0,51.2 89.4,50.6 89.8,49.9C90.2,49.1 90.5,48.4 91.0,47.7C91.5,47.0 92.1,46.5 92.6,45.9C93.1,45.3 93.5,44.5 94.0,44.0C94.5,43.5 95.2,43.4 95.7,43.0C96.2,42.6 96.5,42.0 97.0,41.6C97.5,41.2 97.9,40.8 98.4,40.5C99.0,40.3 99.7,40.2 100.2,40.2C100.7,40.2 101.2,40.5 101.7,40.7C102.1,40.9 102.6,41.1 103.0,41.5C103.4,41.9 103.9,42.5 104.2,43.1C104.4,43.7 104.5,44.3 104.6,45.0C104.7,45.7 104.7,46.7 104.9,47.6C105.1,48.4 105.6,49.1 105.8,50.0C106.0,50.9 105.8,52.0 106.0,53.0C106.1,54.0 106.3,55.0 106.5,56.0C106.7,57.0 107.1,58.0 107.2,59.0C107.3,60.0 107.1,61.0 107.0,62.0C106.9,63.0 106.6,64.0 106.6,65.0C106.7,66.0 107.2,67.0 107.2,68.0C107.2,69.0 106.5,70.0 106.4,71.0C106.3,72.0 106.7,73.0 106.6,74.0C106.5,75.0 105.9,76.0 105.7,77.0C105.4,78.0 105.4,79.1 105.0,80.0C104.6,80.9 103.9,81.6 103.4,82.4C102.9,83.3 102.5,84.2 102.0,85.0C101.5,85.8 100.9,86.4 100.2,87.0C99.6,87.6 98.7,88.0 98.0,88.5C97.3,89.0 96.9,89.6 96.2,89.9C95.6,90.3 94.7,90.3 94.0,90.5C93.3,90.7 92.7,91.0 92.0,91.2C91.3,91.5 90.6,91.6 90.0,92.0C89.4,92.4 89.1,93.0 88.5,93.4C87.9,93.7 87.0,93.6 86.5,94.0C86.0,94.4 86.1,95.2 85.8,95.7C85.4,96.2 84.5,96.5 84.5,97.0C84.5,97.5 85.2,98.1 85.5,98.6C85.7,99.2 85.9,99.7 86.0,100.5C86.1,101.3 86.3,102.4 86.2,103.3C86.1,104.2 87.1,105.5 85.5,106.0C83.9,106.5 79.7,106.0 76.8,106.0C73.8,106.0 69.3,106.3 68.0,106.0C66.7,105.7 68.8,104.8 69.2,104.2C69.6,103.6 70.1,103.2 70.5,102.5C70.9,101.8 71.5,100.7 71.5,100.0C71.5,99.3 70.8,98.6 70.3,98.0C69.8,97.4 69.0,97.0 68.5,96.5C68.0,96.0 67.5,95.5 67.0,95.0C66.5,94.5 66.0,93.9 65.5,93.5C65.0,93.1 64.6,92.7 64.1,92.4C63.6,92.0 63.2,91.8 62.5,91.5C61.8,91.2 60.4,92.2 60.0,90.5C59.6,88.8 60.0,84.5 60.0,81.5C60.0,78.5 59.5,74.2 60.0,72.5Z" fill="none" stroke="#060606" stroke-width="4.2" filter="url(#b08)"/>
<ellipse cx="95.5" cy="53" rx="2.2" ry="8.5" fill="#d0d0d0" opacity="0.95" filter="url(#soft3)" transform="rotate(22 95.5 53)"/>
<ellipse cx="100" cy="47" rx="2.5" ry="3.5" fill="#bdbdbd" opacity="0.8" filter="url(#soft3)" transform="rotate(0 100 47)"/>
<ellipse cx="102" cy="70" rx="3.0" ry="9" fill="#080808" opacity="1" filter="url(#soft3)" transform="rotate(0 102 70)"/>
<ellipse cx="96.5" cy="66" rx="2.2" ry="4" fill="#2a2a2a" opacity="1" filter="url(#soft3)" transform="rotate(0 96.5 66)"/>
<ellipse cx="80.5" cy="65.5" rx="6.5" ry="2.0" fill="#cfcfcf" opacity="1" filter="url(#soft3)" transform="rotate(-25 80.5 65.5)"/>
<ellipse cx="93" cy="86.5" rx="5.5" ry="2.5" fill="#0c0c0c" opacity="1" filter="url(#soft3)" transform="rotate(-30 93 86.5)"/>
<ellipse cx="97" cy="80" rx="3" ry="3" fill="#9a9a9a" opacity="0.7" filter="url(#soft3)" transform="rotate(0 97 80)"/>
</g>
<path d="M86.0,80.0C86.5,78.9 88.1,78.0 89.5,77.2C90.9,76.4 93.2,75.4 94.5,75.2C95.8,75.0 97.0,75.3 97.2,75.8C97.5,76.3 96.8,77.3 96.0,78.0C95.2,78.7 93.7,79.3 92.5,80.0C91.3,80.7 90.0,81.5 89.0,82.2C88.0,82.9 87.0,84.4 86.5,84.0C86.0,83.6 85.5,81.1 86.0,80.0Z" fill="#d6d6d6" stroke="#fff" stroke-width="0.8"/>
<path d="M86.5,79.3C87.0,81.1 86.6,83.5 85.9,85.3C85.2,87.2 83.9,89.2 82.4,90.5C80.8,91.9 78.5,93.2 76.4,93.5C74.4,93.8 72.0,93.0 70.0,92.3C68.0,91.6 65.6,90.7 64.5,89.2C63.4,87.8 63.6,85.4 63.3,83.4C62.9,81.5 62.2,79.5 62.6,77.6C63.1,75.7 64.3,73.4 66.0,72.1C67.6,70.9 70.2,70.7 72.3,70.3C74.5,69.9 77.1,69.2 78.9,69.9C80.7,70.6 81.7,73.1 83.0,74.6C84.2,76.2 86.0,77.6 86.5,79.3Z" fill="#a8a8a8"/>
<path d="M85.5,79.5C85.9,81.2 85.5,83.3 84.9,85.0C84.3,86.7 83.1,88.5 81.7,89.8C80.2,91.0 78.1,92.2 76.2,92.5C74.3,92.7 72.2,92.0 70.4,91.4C68.5,90.7 66.4,89.9 65.3,88.6C64.3,87.2 64.5,85.1 64.2,83.3C63.9,81.5 63.2,79.7 63.6,78.0C64.0,76.2 65.2,74.0 66.7,72.9C68.1,71.8 70.5,71.6 72.5,71.2C74.5,70.9 76.9,70.2 78.5,70.9C80.2,71.5 81.1,73.8 82.2,75.2C83.4,76.7 85.0,77.9 85.5,79.5Z" fill="none" stroke="#080808" stroke-width="1.7" filter="url(#b06)"/>
<path d="M86.5,79.3C87.0,81.1 86.6,83.5 85.9,85.3C85.2,87.2 83.9,89.2 82.4,90.5C80.8,91.9 78.5,93.2 76.4,93.5C74.4,93.8 72.0,93.0 70.0,92.3C68.0,91.6 65.6,90.7 64.5,89.2C63.4,87.8 63.6,85.4 63.3,83.4C62.9,81.5 62.2,79.5 62.6,77.6C63.1,75.7 64.3,73.4 66.0,72.1C67.6,70.9 70.2,70.7 72.3,70.3C74.5,69.9 77.1,69.2 78.9,69.9C80.7,70.6 81.7,73.1 83.0,74.6C84.2,76.2 86.0,77.6 86.5,79.3Z" fill="none" stroke="#fff" stroke-width="0.85"/>
<path d="M83.4,79.9C83.7,81.3 83.3,83.0 82.8,84.4C82.2,85.7 81.2,87.0 80.0,88.0C78.9,89.1 77.4,90.3 75.9,90.6C74.4,90.9 72.6,90.2 71.1,89.6C69.6,89.1 68.0,88.4 67.1,87.3C66.2,86.2 66.0,84.5 65.7,83.0C65.5,81.6 65.3,80.0 65.7,78.6C66.1,77.2 67.1,75.7 68.3,74.7C69.5,73.7 71.2,73.0 72.7,72.7C74.3,72.4 76.3,72.4 77.6,73.0C79.0,73.6 80.0,75.0 80.9,76.2C81.9,77.3 83.1,78.5 83.4,79.9Z" fill="#a8a8a8"/>
<path d="M82.4,80.1C82.6,81.3 82.3,82.8 81.8,84.0C81.3,85.2 80.4,86.4 79.4,87.3C78.4,88.2 77.1,89.3 75.7,89.6C74.4,89.8 72.8,89.2 71.5,88.7C70.2,88.2 68.7,87.6 67.9,86.6C67.1,85.6 66.9,84.1 66.7,82.8C66.5,81.6 66.3,80.2 66.7,78.9C67.1,77.7 67.9,76.4 69.0,75.5C70.0,74.6 71.5,73.9 72.9,73.7C74.3,73.4 76.1,73.4 77.3,73.9C78.5,74.5 79.4,75.8 80.2,76.8C81.1,77.8 82.1,78.9 82.4,80.1Z" fill="none" stroke="#080808" stroke-width="1.7" filter="url(#b06)"/>
<path d="M83.4,79.9C83.7,81.3 83.3,83.0 82.8,84.4C82.2,85.7 81.2,87.0 80.0,88.0C78.9,89.1 77.4,90.3 75.9,90.6C74.4,90.9 72.6,90.2 71.1,89.6C69.6,89.1 68.0,88.4 67.1,87.3C66.2,86.2 66.0,84.5 65.7,83.0C65.5,81.6 65.3,80.0 65.7,78.6C66.1,77.2 67.1,75.7 68.3,74.7C69.5,73.7 71.2,73.0 72.7,72.7C74.3,72.4 76.3,72.4 77.6,73.0C79.0,73.6 80.0,75.0 80.9,76.2C81.9,77.3 83.1,78.5 83.4,79.9Z" fill="none" stroke="#fff" stroke-width="0.85"/>
<path d="M80.3,80.4C80.6,81.4 80.7,82.6 80.4,83.6C80.1,84.6 79.2,85.5 78.4,86.2C77.6,87.0 76.5,87.7 75.4,87.9C74.4,88.1 73.1,87.8 72.1,87.4C71.1,87.0 69.9,86.3 69.4,85.5C68.8,84.7 68.9,83.5 68.7,82.5C68.6,81.5 68.5,80.5 68.7,79.6C69.0,78.6 69.5,77.5 70.3,76.8C71.0,76.2 72.2,75.9 73.3,75.7C74.3,75.6 75.6,75.4 76.5,75.7C77.4,76.1 78.1,77.1 78.8,77.9C79.4,78.6 80.0,79.5 80.3,80.4Z" fill="#a8a8a8"/>
<path d="M79.3,80.6C79.5,81.4 79.7,82.5 79.4,83.3C79.1,84.1 78.4,84.9 77.7,85.5C77.0,86.1 76.1,86.7 75.2,86.8C74.4,87.0 73.3,86.8 72.4,86.4C71.6,86.1 70.7,85.5 70.2,84.8C69.7,84.2 69.7,83.1 69.7,82.3C69.6,81.5 69.4,80.7 69.7,79.9C69.9,79.1 70.3,78.1 70.9,77.6C71.6,77.1 72.6,76.8 73.5,76.7C74.3,76.5 75.4,76.4 76.1,76.7C76.9,76.9 77.5,77.8 78.0,78.5C78.6,79.1 79.1,79.8 79.3,80.6Z" fill="none" stroke="#080808" stroke-width="1.7" filter="url(#b06)"/>
<path d="M80.3,80.4C80.6,81.4 80.7,82.6 80.4,83.6C80.1,84.6 79.2,85.5 78.4,86.2C77.6,87.0 76.5,87.7 75.4,87.9C74.4,88.1 73.1,87.8 72.1,87.4C71.1,87.0 69.9,86.3 69.4,85.5C68.8,84.7 68.9,83.5 68.7,82.5C68.6,81.5 68.5,80.5 68.7,79.6C69.0,78.6 69.5,77.5 70.3,76.8C71.0,76.2 72.2,75.9 73.3,75.7C74.3,75.6 75.6,75.4 76.5,75.7C77.4,76.1 78.1,77.1 78.8,77.9C79.4,78.6 80.0,79.5 80.3,80.4Z" fill="none" stroke="#fff" stroke-width="0.85"/>
<path d="M77.7,80.9C77.9,81.5 77.9,82.2 77.7,82.8C77.6,83.3 77.1,83.9 76.6,84.3C76.1,84.7 75.5,85.0 74.9,85.1C74.3,85.2 73.6,85.2 73.0,85.0C72.5,84.8 71.8,84.4 71.5,83.9C71.1,83.4 71.2,82.7 71.1,82.1C71.1,81.5 70.9,80.9 71.0,80.3C71.2,79.7 71.4,79.0 71.9,78.6C72.3,78.2 73.1,78.2 73.7,78.1C74.3,78.0 75.1,77.7 75.6,77.9C76.1,78.1 76.4,78.9 76.7,79.4C77.1,79.9 77.5,80.4 77.7,80.9Z" fill="#a8a8a8"/>
<path d="M76.7,81.1C76.9,81.5 76.9,82.0 76.8,82.4C76.6,82.8 76.3,83.2 76.0,83.5C75.6,83.8 75.2,84.0 74.8,84.1C74.3,84.2 73.8,84.1 73.4,84.0C73.0,83.8 72.5,83.6 72.3,83.2C72.0,82.9 72.1,82.3 72.0,81.9C72.0,81.5 71.9,81.1 71.9,80.6C72.0,80.2 72.2,79.7 72.6,79.4C72.9,79.2 73.4,79.1 73.9,79.0C74.3,79.0 74.9,78.8 75.2,78.9C75.6,79.1 75.8,79.7 76.1,80.0C76.3,80.4 76.6,80.7 76.7,81.1Z" fill="none" stroke="#080808" stroke-width="1.7" filter="url(#b06)"/>
<path d="M77.7,80.9C77.9,81.5 77.9,82.2 77.7,82.8C77.6,83.3 77.1,83.9 76.6,84.3C76.1,84.7 75.5,85.0 74.9,85.1C74.3,85.2 73.6,85.2 73.0,85.0C72.5,84.8 71.8,84.4 71.5,83.9C71.1,83.4 71.2,82.7 71.1,82.1C71.1,81.5 70.9,80.9 71.0,80.3C71.2,79.7 71.4,79.0 71.9,78.6C72.3,78.2 73.1,78.2 73.7,78.1C74.3,78.0 75.1,77.7 75.6,77.9C76.1,78.1 76.4,78.9 76.7,79.4C77.1,79.9 77.5,80.4 77.7,80.9Z" fill="none" stroke="#fff" stroke-width="0.85"/>
<ellipse cx="74.3" cy="81.5" rx="1.75" ry="1.75" fill="#1a1a1a" filter="url(#b06)"/>
<path d="M84.5,98.8 L78,101.3 L84.5,103.6" fill="#fff" stroke="#fff" stroke-width="1.2" stroke-linejoin="round"/>
</g>
<rect x="61.4" y="17.4" width="88.6" height="87.0" fill="none" stroke="#b4b4b4" stroke-width="1.1"/>
<line x1="85.8" y1="17.4" x2="85.8" y2="104.4" stroke="#999" stroke-width="1.2" stroke-linecap="butt"/>
<path d="M85.8,22.5 L115.2,22.5 L115.2,68.8 L85.8,68.8" fill="none" stroke="#999" stroke-width="1.2" />
<text x="62.3" y="113.3" font-size="5.7" text-anchor="middle" fill="#000">10<tspan font-size="3.99" dy="-2.56">0</tspan></text>
<text x="84.45" y="113.3" font-size="5.7" text-anchor="middle" fill="#000">10<tspan font-size="3.99" dy="-2.56">1</tspan></text>
<text x="106.6" y="113.3" font-size="5.7" text-anchor="middle" fill="#000">10<tspan font-size="3.99" dy="-2.56">2</tspan></text>
<text x="128.75" y="113.3" font-size="5.7" text-anchor="middle" fill="#000">10<tspan font-size="3.99" dy="-2.56">3</tspan></text>
<text x="150.9" y="113.3" font-size="5.7" text-anchor="middle" fill="#000">10<tspan font-size="3.99" dy="-2.56">4</tspan></text>
<text x="58.5" y="18.5" font-size="5.7" text-anchor="end" fill="#000">10<tspan font-size="3.99" dy="-2.56">4</tspan></text>
<text x="58.5" y="40.25" font-size="5.7" text-anchor="end" fill="#000">10<tspan font-size="3.99" dy="-2.56">3</tspan></text>
<text x="58.5" y="62.0" font-size="5.7" text-anchor="end" fill="#000">10<tspan font-size="3.99" dy="-2.56">2</tspan></text>
<text x="58.5" y="83.75" font-size="5.7" text-anchor="end" fill="#000">10<tspan font-size="3.99" dy="-2.56">1</tspan></text>
<text x="58.5" y="105.5" font-size="5.7" text-anchor="end" fill="#000">10<tspan font-size="3.99" dy="-2.56">0</tspan></text>
<clipPath id="clipA1"><rect x="162.6" y="17.4" width="88.6" height="87.0"/></clipPath>
<g clip-path="url(#clipA1)">
<clipPath id="bc2"><path d="M201.8,38.9C201.1,38.8 200.5,39.4 199.9,39.6C199.3,39.9 198.6,40.0 198.0,40.3C197.4,40.6 197.0,41.1 196.6,41.5C196.2,42.0 195.7,42.3 195.4,43.0C195.1,43.7 194.7,44.9 194.5,45.9C194.2,46.8 193.9,47.8 193.9,48.8C193.9,49.8 194.5,50.7 194.6,51.6C194.7,52.6 194.7,53.6 194.6,54.5C194.5,55.4 194.2,56.2 193.7,56.9C193.3,57.7 192.3,58.2 192.0,58.9C191.7,59.6 191.8,60.2 191.6,60.9C191.5,61.5 191.4,62.6 191.0,62.8C190.6,63.0 189.7,62.4 189.1,62.1C188.5,61.8 188.0,61.4 187.4,61.0C186.8,60.6 186.1,60.0 185.4,59.7C184.7,59.3 183.7,58.9 183.1,58.9C182.5,58.9 182.0,59.4 181.5,59.8C181.1,60.1 180.6,60.4 180.2,61.0C179.8,61.6 179.4,62.7 179.0,63.5C178.6,64.4 178.5,65.4 178.0,66.1C177.5,66.8 176.5,67.3 175.8,67.9C175.1,68.5 174.5,69.2 173.7,69.7C172.9,70.2 172.0,70.3 171.1,70.6C170.3,71.0 169.6,71.3 168.7,71.8C167.8,72.3 166.6,73.0 165.5,73.5C164.4,73.9 162.6,73.1 162.0,74.5C161.4,75.9 162.1,79.5 162.1,82.0C162.1,84.5 161.5,88.0 162.0,89.5C162.5,91.0 163.9,90.6 164.8,91.2C165.7,91.9 166.4,92.7 167.2,93.5C168.0,94.3 168.9,95.3 169.9,96.0C170.8,96.7 172.2,97.3 173.0,97.8C173.8,98.3 174.3,98.4 174.8,98.8C175.3,99.3 175.5,100.0 176.0,100.5C176.5,101.0 177.3,101.4 178.0,101.6C178.7,101.9 179.6,102.4 180.2,102.2C180.8,102.0 180.9,100.9 181.3,100.4C181.8,100.0 182.5,99.8 183.1,99.3C183.7,98.8 184.2,98.2 184.7,97.6C185.2,97.0 185.4,96.2 186.0,95.7C186.6,95.2 187.6,94.8 188.4,94.5C189.3,94.1 190.3,93.8 191.0,93.5C191.7,93.2 192.2,92.9 192.8,92.7C193.4,92.4 193.9,92.1 194.6,92.0C195.3,91.9 196.1,92.1 196.9,92.0C197.6,91.9 198.3,91.4 199.0,91.3C199.7,91.2 200.5,91.1 201.2,91.2C201.9,91.3 202.7,92.3 203.3,92.0C203.9,91.7 204.2,90.3 204.8,89.6C205.4,88.9 206.4,88.6 206.9,87.7C207.4,86.8 207.8,85.4 208.0,84.2C208.2,83.0 208.3,81.7 208.3,80.5C208.3,79.3 208.2,78.1 208.2,76.9C208.1,75.7 208.1,74.6 208.0,73.3C207.9,72.0 207.7,70.4 207.7,68.9C207.8,67.5 208.1,66.0 208.3,64.6C208.5,63.2 209.1,61.8 209.2,60.3C209.3,58.9 209.1,57.5 209.1,56.0C209.1,54.5 209.4,53.1 209.4,51.6C209.3,50.2 209.1,48.5 208.8,47.3C208.5,46.1 207.8,45.5 207.5,44.5C207.2,43.6 207.4,42.2 206.9,41.5C206.4,40.8 205.2,40.7 204.3,40.3C203.5,39.8 202.5,39.0 201.8,38.9Z"/></clipPath>
<path d="M201.8,38.9C201.1,38.8 200.5,39.4 199.9,39.6C199.3,39.9 198.6,40.0 198.0,40.3C197.4,40.6 197.0,41.1 196.6,41.5C196.2,42.0 195.7,42.3 195.4,43.0C195.1,43.7 194.7,44.9 194.5,45.9C194.2,46.8 193.9,47.8 193.9,48.8C193.9,49.8 194.5,50.7 194.6,51.6C194.7,52.6 194.7,53.6 194.6,54.5C194.5,55.4 194.2,56.2 193.7,56.9C193.3,57.7 192.3,58.2 192.0,58.9C191.7,59.6 191.8,60.2 191.6,60.9C191.5,61.5 191.4,62.6 191.0,62.8C190.6,63.0 189.7,62.4 189.1,62.1C188.5,61.8 188.0,61.4 187.4,61.0C186.8,60.6 186.1,60.0 185.4,59.7C184.7,59.3 183.7,58.9 183.1,58.9C182.5,58.9 182.0,59.4 181.5,59.8C181.1,60.1 180.6,60.4 180.2,61.0C179.8,61.6 179.4,62.7 179.0,63.5C178.6,64.4 178.5,65.4 178.0,66.1C177.5,66.8 176.5,67.3 175.8,67.9C175.1,68.5 174.5,69.2 173.7,69.7C172.9,70.2 172.0,70.3 171.1,70.6C170.3,71.0 169.6,71.3 168.7,71.8C167.8,72.3 166.6,73.0 165.5,73.5C164.4,73.9 162.6,73.1 162.0,74.5C161.4,75.9 162.1,79.5 162.1,82.0C162.1,84.5 161.5,88.0 162.0,89.5C162.5,91.0 163.9,90.6 164.8,91.2C165.7,91.9 166.4,92.7 167.2,93.5C168.0,94.3 168.9,95.3 169.9,96.0C170.8,96.7 172.2,97.3 173.0,97.8C173.8,98.3 174.3,98.4 174.8,98.8C175.3,99.3 175.5,100.0 176.0,100.5C176.5,101.0 177.3,101.4 178.0,101.6C178.7,101.9 179.6,102.4 180.2,102.2C180.8,102.0 180.9,100.9 181.3,100.4C181.8,100.0 182.5,99.8 183.1,99.3C183.7,98.8 184.2,98.2 184.7,97.6C185.2,97.0 185.4,96.2 186.0,95.7C186.6,95.2 187.6,94.8 188.4,94.5C189.3,94.1 190.3,93.8 191.0,93.5C191.7,93.2 192.2,92.9 192.8,92.7C193.4,92.4 193.9,92.1 194.6,92.0C195.3,91.9 196.1,92.1 196.9,92.0C197.6,91.9 198.3,91.4 199.0,91.3C199.7,91.2 200.5,91.1 201.2,91.2C201.9,91.3 202.7,92.3 203.3,92.0C203.9,91.7 204.2,90.3 204.8,89.6C205.4,88.9 206.4,88.6 206.9,87.7C207.4,86.8 207.8,85.4 208.0,84.2C208.2,83.0 208.3,81.7 208.3,80.5C208.3,79.3 208.2,78.1 208.2,76.9C208.1,75.7 208.1,74.6 208.0,73.3C207.9,72.0 207.7,70.4 207.7,68.9C207.8,67.5 208.1,66.0 208.3,64.6C208.5,63.2 209.1,61.8 209.2,60.3C209.3,58.9 209.1,57.5 209.1,56.0C209.1,54.5 209.4,53.1 209.4,51.6C209.3,50.2 209.1,48.5 208.8,47.3C208.5,46.1 207.8,45.5 207.5,44.5C207.2,43.6 207.4,42.2 206.9,41.5C206.4,40.8 205.2,40.7 204.3,40.3C203.5,39.8 202.5,39.0 201.8,38.9Z" fill="#6a6a6a" stroke="#000" stroke-width="2.4" stroke-linejoin="round"/>
<g clip-path="url(#bc2)">
<path d="M201.8,38.9C201.1,38.8 200.5,39.4 199.9,39.6C199.3,39.9 198.6,40.0 198.0,40.3C197.4,40.6 197.0,41.1 196.6,41.5C196.2,42.0 195.7,42.3 195.4,43.0C195.1,43.7 194.7,44.9 194.5,45.9C194.2,46.8 193.9,47.8 193.9,48.8C193.9,49.8 194.5,50.7 194.6,51.6C194.7,52.6 194.7,53.6 194.6,54.5C194.5,55.4 194.2,56.2 193.7,56.9C193.3,57.7 192.3,58.2 192.0,58.9C191.7,59.6 191.8,60.2 191.6,60.9C191.5,61.5 191.4,62.6 191.0,62.8C190.6,63.0 189.7,62.4 189.1,62.1C188.5,61.8 188.0,61.4 187.4,61.0C186.8,60.6 186.1,60.0 185.4,59.7C184.7,59.3 183.7,58.9 183.1,58.9C182.5,58.9 182.0,59.4 181.5,59.8C181.1,60.1 180.6,60.4 180.2,61.0C179.8,61.6 179.4,62.7 179.0,63.5C178.6,64.4 178.5,65.4 178.0,66.1C177.5,66.8 176.5,67.3 175.8,67.9C175.1,68.5 174.5,69.2 173.7,69.7C172.9,70.2 172.0,70.3 171.1,70.6C170.3,71.0 169.6,71.3 168.7,71.8C167.8,72.3 166.6,73.0 165.5,73.5C164.4,73.9 162.6,73.1 162.0,74.5C161.4,75.9 162.1,79.5 162.1,82.0C162.1,84.5 161.5,88.0 162.0,89.5C162.5,91.0 163.9,90.6 164.8,91.2C165.7,91.9 166.4,92.7 167.2,93.5C168.0,94.3 168.9,95.3 169.9,96.0C170.8,96.7 172.2,97.3 173.0,97.8C173.8,98.3 174.3,98.4 174.8,98.8C175.3,99.3 175.5,100.0 176.0,100.5C176.5,101.0 177.3,101.4 178.0,101.6C178.7,101.9 179.6,102.4 180.2,102.2C180.8,102.0 180.9,100.9 181.3,100.4C181.8,100.0 182.5,99.8 183.1,99.3C183.7,98.8 184.2,98.2 184.7,97.6C185.2,97.0 185.4,96.2 186.0,95.7C186.6,95.2 187.6,94.8 188.4,94.5C189.3,94.1 190.3,93.8 191.0,93.5C191.7,93.2 192.2,92.9 192.8,92.7C193.4,92.4 193.9,92.1 194.6,92.0C195.3,91.9 196.1,92.1 196.9,92.0C197.6,91.9 198.3,91.4 199.0,91.3C199.7,91.2 200.5,91.1 201.2,91.2C201.9,91.3 202.7,92.3 203.3,92.0C203.9,91.7 204.2,90.3 204.8,89.6C205.4,88.9 206.4,88.6 206.9,87.7C207.4,86.8 207.8,85.4 208.0,84.2C208.2,83.0 208.3,81.7 208.3,80.5C208.3,79.3 208.2,78.1 208.2,76.9C208.1,75.7 208.1,74.6 208.0,73.3C207.9,72.0 207.7,70.4 207.7,68.9C207.8,67.5 208.1,66.0 208.3,64.6C208.5,63.2 209.1,61.8 209.2,60.3C209.3,58.9 209.1,57.5 209.1,56.0C209.1,54.5 209.4,53.1 209.4,51.6C209.3,50.2 209.1,48.5 208.8,47.3C208.5,46.1 207.8,45.5 207.5,44.5C207.2,43.6 207.4,42.2 206.9,41.5C206.4,40.8 205.2,40.7 204.3,40.3C203.5,39.8 202.5,39.0 201.8,38.9Z" fill="none" stroke="#060606" stroke-width="4.2" filter="url(#b08)"/>
<ellipse cx="201.5" cy="50" rx="2.6" ry="8" fill="#a8a8a8" opacity="0.9" filter="url(#soft3)" transform="rotate(0 201.5 50)"/>
<ellipse cx="205.5" cy="70" rx="2" ry="12" fill="#141414" opacity="1" filter="url(#soft3)" transform="rotate(0 205.5 70)"/>
<ellipse cx="196.5" cy="70" rx="2" ry="6" fill="#202020" opacity="1" filter="url(#soft3)" transform="rotate(0 196.5 70)"/>
<ellipse cx="186" cy="66" rx="3.5" ry="3" fill="#b0b0b0" opacity="1" filter="url(#soft3)" transform="rotate(0 186 66)"/>
<ellipse cx="199" cy="80" rx="3" ry="4" fill="#b0b0b0" opacity="0.8" filter="url(#soft3)" transform="rotate(0 199 80)"/>
</g>
<path d="M201.1,64.6C203.0,61.7 202.6,67.1 203.0,69.0C203.4,70.9 203.5,73.6 203.4,76.0C203.3,78.4 203.2,81.8 202.6,83.4C201.9,85.0 200.8,85.2 199.5,85.6C198.2,86.0 195.9,85.6 194.6,85.8C193.3,86.0 190.4,90.0 191.5,86.5" fill="none" stroke="#fff" stroke-width="0.95" stroke-linecap="round"/>
<path d="M195.4,67.5C196.6,66.2 197.8,68.7 198.4,69.5C199.0,70.3 199.3,71.4 199.2,72.5C199.0,73.6 198.4,75.4 197.5,76.2C196.6,77.0 195.1,77.2 194.0,77.4C192.9,77.6 190.8,79.2 191.0,77.6" fill="none" stroke="#fff" stroke-width="0.95" stroke-linecap="round"/>
<path d="M202.6,57.9C202.6,58.2 202.6,58.5 202.5,58.8C202.5,59.1 202.4,59.3 202.3,59.5C202.2,59.7 202.1,59.9 202.0,60.0C201.9,60.1 201.7,60.2 201.6,60.2C201.5,60.2 201.3,60.1 201.2,60.0C201.1,59.9 201.0,59.7 200.9,59.5C200.8,59.3 200.7,59.1 200.7,58.8C200.6,58.5 200.6,58.2 200.6,57.9C200.6,57.6 200.6,57.3 200.7,57.0C200.7,56.7 200.8,56.5 200.9,56.3C201.0,56.1 201.1,55.9 201.2,55.8C201.3,55.7 201.5,55.6 201.6,55.6C201.7,55.6 201.9,55.7 202.0,55.8C202.1,55.9 202.2,56.1 202.3,56.3C202.4,56.5 202.5,56.7 202.5,57.0C202.6,57.3 202.6,57.6 202.6,57.9Z" fill="#ddd" stroke="#fff" stroke-width="0.95" stroke-linecap="round"/>
<path d="M189.6,77.4C190.2,79.3 191.8,81.6 191.2,83.3C190.6,85.0 187.7,86.2 186.0,87.6C184.3,88.9 182.8,90.9 180.9,91.4C179.0,91.9 176.6,91.0 174.7,90.5C172.7,90.0 170.9,89.4 169.2,88.4C167.6,87.3 165.4,85.7 164.9,84.0C164.3,82.3 165.3,79.9 166.0,78.0C166.7,76.1 167.7,74.0 169.2,72.7C170.7,71.4 173.1,70.5 175.2,70.0C177.3,69.5 179.5,69.4 181.6,69.7C183.6,70.1 186.2,70.7 187.6,71.9C188.9,73.2 189.0,75.5 189.6,77.4Z" fill="#a8a8a8"/>
<path d="M188.6,77.6C189.2,79.4 190.7,81.5 190.1,83.0C189.6,84.6 186.9,85.7 185.3,87.0C183.7,88.2 182.4,90.1 180.7,90.5C179.0,91.0 176.7,90.1 174.9,89.7C173.2,89.2 171.5,88.7 170.0,87.7C168.5,86.7 166.5,85.3 166.0,83.7C165.5,82.1 166.3,79.9 167.0,78.2C167.7,76.5 168.5,74.6 169.9,73.4C171.4,72.1 173.5,71.4 175.4,70.9C177.3,70.5 179.4,70.3 181.3,70.6C183.2,70.9 185.5,71.5 186.8,72.7C188.0,73.8 188.1,75.9 188.6,77.6Z" fill="none" stroke="#080808" stroke-width="1.7" filter="url(#b06)"/>
<path d="M189.6,77.4C190.2,79.3 191.8,81.6 191.2,83.3C190.6,85.0 187.7,86.2 186.0,87.6C184.3,88.9 182.8,90.9 180.9,91.4C179.0,91.9 176.6,91.0 174.7,90.5C172.7,90.0 170.9,89.4 169.2,88.4C167.6,87.3 165.4,85.7 164.9,84.0C164.3,82.3 165.3,79.9 166.0,78.0C166.7,76.1 167.7,74.0 169.2,72.7C170.7,71.4 173.1,70.5 175.2,70.0C177.3,69.5 179.5,69.4 181.6,69.7C183.6,70.1 186.2,70.7 187.6,71.9C188.9,73.2 189.0,75.5 189.6,77.4Z" fill="none" stroke="#fff" stroke-width="0.85"/>
<path d="M185.7,78.4C186.2,79.7 187.2,81.4 186.8,82.6C186.5,83.8 184.7,84.7 183.6,85.7C182.5,86.7 181.5,88.2 180.2,88.5C178.9,88.9 177.2,88.2 175.8,87.8C174.4,87.4 173.1,87.0 172.0,86.2C170.9,85.4 169.4,84.1 169.1,82.9C168.8,81.6 169.6,80.0 170.0,78.6C170.5,77.3 170.8,75.6 171.8,74.7C172.8,73.7 174.5,73.1 175.9,72.8C177.3,72.5 178.9,72.6 180.3,72.9C181.6,73.3 183.1,74.0 184.0,74.9C184.9,75.8 185.3,77.1 185.7,78.4Z" fill="#a8a8a8"/>
<path d="M184.8,78.7C185.2,79.8 186.1,81.3 185.8,82.3C185.4,83.4 183.9,84.2 182.9,85.1C181.9,86.0 181.0,87.3 179.9,87.6C178.8,87.9 177.3,87.2 176.1,86.9C174.9,86.5 173.7,86.2 172.7,85.5C171.7,84.8 170.5,83.7 170.2,82.6C169.9,81.5 170.6,80.1 171.0,78.9C171.4,77.6 171.7,76.2 172.5,75.4C173.4,74.5 174.9,74.0 176.2,73.7C177.4,73.5 178.8,73.5 180.0,73.9C181.2,74.2 182.4,74.8 183.2,75.6C184.0,76.4 184.4,77.6 184.8,78.7Z" fill="none" stroke="#080808" stroke-width="1.7" filter="url(#b06)"/>
<path d="M185.7,78.4C186.2,79.7 187.2,81.4 186.8,82.6C186.5,83.8 184.7,84.7 183.6,85.7C182.5,86.7 181.5,88.2 180.2,88.5C178.9,88.9 177.2,88.2 175.8,87.8C174.4,87.4 173.1,87.0 172.0,86.2C170.9,85.4 169.4,84.1 169.1,82.9C168.8,81.6 169.6,80.0 170.0,78.6C170.5,77.3 170.8,75.6 171.8,74.7C172.8,73.7 174.5,73.1 175.9,72.8C177.3,72.5 178.9,72.6 180.3,72.9C181.6,73.3 183.1,74.0 184.0,74.9C184.9,75.8 185.3,77.1 185.7,78.4Z" fill="none" stroke="#fff" stroke-width="0.85"/>
<path d="M182.6,79.3C182.8,80.0 183.2,81.0 182.9,81.7C182.7,82.4 181.7,82.9 181.1,83.5C180.5,84.1 180.0,85.0 179.3,85.2C178.5,85.4 177.5,85.0 176.8,84.7C176.0,84.5 175.3,84.2 174.6,83.7C174.0,83.3 173.1,82.6 172.9,81.9C172.7,81.1 173.4,80.2 173.6,79.4C173.9,78.6 174.1,77.8 174.6,77.2C175.1,76.7 176.0,76.1 176.8,76.0C177.6,75.8 178.5,76.0 179.2,76.2C180.0,76.4 180.9,76.6 181.5,77.1C182.0,77.7 182.4,78.5 182.6,79.3Z" fill="#a8a8a8"/>
<path d="M181.6,79.5C181.8,80.1 182.1,80.9 181.9,81.5C181.7,82.0 180.9,82.4 180.4,82.9C180.0,83.3 179.6,84.0 179.0,84.2C178.4,84.4 177.6,84.0 177.0,83.8C176.4,83.6 175.9,83.4 175.4,83.0C174.9,82.7 174.1,82.1 174.0,81.6C173.9,81.0 174.3,80.3 174.6,79.6C174.8,79.0 174.9,78.4 175.3,77.9C175.7,77.5 176.4,77.1 177.0,76.9C177.7,76.8 178.4,76.9 179.0,77.1C179.6,77.2 180.3,77.5 180.7,77.9C181.2,78.3 181.4,78.9 181.6,79.5Z" fill="none" stroke="#080808" stroke-width="1.7" filter="url(#b06)"/>
<path d="M182.6,79.3C182.8,80.0 183.2,81.0 182.9,81.7C182.7,82.4 181.7,82.9 181.1,83.5C180.5,84.1 180.0,85.0 179.3,85.2C178.5,85.4 177.5,85.0 176.8,84.7C176.0,84.5 175.3,84.2 174.6,83.7C174.0,83.3 173.1,82.6 172.9,81.9C172.7,81.1 173.4,80.2 173.6,79.4C173.9,78.6 174.1,77.8 174.6,77.2C175.1,76.7 176.0,76.1 176.8,76.0C177.6,75.8 178.5,76.0 179.2,76.2C180.0,76.4 180.9,76.6 181.5,77.1C182.0,77.7 182.4,78.5 182.6,79.3Z" fill="none" stroke="#fff" stroke-width="0.85"/>
<ellipse cx="178" cy="80.5" rx="2.4" ry="2.3" fill="#1a1a1a" filter="url(#b06)"/>
<ellipse cx="176.5" cy="104.3" rx="2.5" ry="1.5" fill="#111"/>
</g>
<rect x="162.6" y="17.4" width="88.6" height="87.0" fill="none" stroke="#b4b4b4" stroke-width="1.1"/>
<line x1="189.6" y1="17.4" x2="189.6" y2="104.4" stroke="#999" stroke-width="1.2" stroke-linecap="butt"/>
<path d="M189.6,21.2 L219.0,21.2 L219.0,67.0 L189.6,67.0" fill="none" stroke="#999" stroke-width="1.2" />
<text x="163.5" y="113.3" font-size="5.7" text-anchor="middle" fill="#000">10<tspan font-size="3.99" dy="-2.56">0</tspan></text>
<text x="185.65" y="113.3" font-size="5.7" text-anchor="middle" fill="#000">10<tspan font-size="3.99" dy="-2.56">1</tspan></text>
<text x="207.79999999999998" y="113.3" font-size="5.7" text-anchor="middle" fill="#000">10<tspan font-size="3.99" dy="-2.56">2</tspan></text>
<text x="229.95" y="113.3" font-size="5.7" text-anchor="middle" fill="#000">10<tspan font-size="3.99" dy="-2.56">3</tspan></text>
<text x="252.1" y="113.3" font-size="5.7" text-anchor="middle" fill="#000">10<tspan font-size="3.99" dy="-2.56">4</tspan></text>
<clipPath id="clipA2"><rect x="263.0" y="17.4" width="88.6" height="87.0"/></clipPath>
<g clip-path="url(#clipA2)">
<clipPath id="bc3"><path d="M304.0,35.0C303.3,35.1 302.2,36.7 301.2,37.4C300.3,38.1 299.1,38.7 298.2,39.4C297.3,40.1 296.6,40.9 295.9,41.8C295.2,42.6 294.5,43.5 293.9,44.4C293.3,45.3 292.8,46.3 292.3,47.2C291.8,48.2 291.4,49.3 291.0,50.2C290.6,51.1 290.2,51.9 290.0,52.8C289.7,53.7 290.0,55.0 289.6,55.6C289.2,56.2 288.2,56.0 287.5,56.1C286.8,56.2 286.1,55.8 285.3,56.0C284.5,56.2 283.7,56.9 282.9,57.3C282.0,57.6 280.9,57.7 280.2,58.1C279.5,58.5 279.4,59.3 278.8,59.8C278.3,60.3 277.1,60.5 277.0,61.0C276.9,61.5 277.9,62.4 278.2,63.1C278.5,63.8 279.0,64.6 278.8,65.4C278.6,66.2 277.6,67.2 277.1,68.1C276.7,69.1 276.5,70.2 275.9,71.1C275.3,72.0 274.4,72.8 273.6,73.6C272.7,74.3 271.6,74.8 270.8,75.5C270.0,76.2 269.6,77.1 269.0,78.0C268.4,78.8 267.5,79.7 267.2,80.5C266.9,81.3 267.2,82.0 267.1,82.7C267.0,83.4 266.3,84.2 266.5,84.8C266.7,85.4 267.6,85.9 268.1,86.5C268.6,87.1 268.9,87.8 269.4,88.4C269.9,89.0 270.6,89.6 271.2,90.2C271.8,90.8 272.2,91.4 273.0,92.0C273.8,92.6 274.8,93.3 275.7,93.8C276.7,94.2 277.9,94.6 278.8,94.9C279.7,95.2 280.4,95.3 281.3,95.4C282.1,95.5 283.1,96.0 283.8,95.7C284.5,95.4 284.9,94.2 285.7,93.7C286.4,93.1 287.5,92.9 288.1,92.4C288.7,91.9 288.9,91.3 289.4,90.8C289.9,90.4 290.3,90.0 291.0,89.6C291.7,89.2 292.6,88.9 293.4,88.7C294.3,88.5 295.1,88.5 296.0,88.4C296.9,88.3 298.1,88.3 299.0,88.1C300.0,87.8 301.1,87.4 301.9,87.0C302.7,86.6 303.3,86.0 303.9,85.4C304.5,84.8 305.1,84.2 305.5,83.4C305.9,82.6 306.3,81.5 306.5,80.6C306.7,79.6 306.8,78.6 306.9,77.6C307.0,76.6 307.0,75.6 306.9,74.7C306.8,73.7 306.1,72.7 306.2,71.8C306.3,70.9 307.1,70.0 307.5,69.0C307.8,68.1 308.0,67.2 308.3,66.1C308.6,65.0 309.2,63.8 309.5,62.6C309.7,61.4 309.7,60.1 309.8,58.9C309.9,57.7 310.2,56.5 310.3,55.3C310.4,54.0 310.4,52.8 310.2,51.6C310.0,50.4 309.6,49.2 309.4,48.0C309.2,46.8 309.2,45.5 309.0,44.4C308.8,43.3 308.6,42.4 308.3,41.4C307.9,40.5 307.4,39.5 306.9,38.7C306.4,37.9 305.9,37.5 305.4,36.9C305.0,36.2 304.7,34.9 304.0,35.0Z"/></clipPath>
<path d="M304.0,35.0C303.3,35.1 302.2,36.7 301.2,37.4C300.3,38.1 299.1,38.7 298.2,39.4C297.3,40.1 296.6,40.9 295.9,41.8C295.2,42.6 294.5,43.5 293.9,44.4C293.3,45.3 292.8,46.3 292.3,47.2C291.8,48.2 291.4,49.3 291.0,50.2C290.6,51.1 290.2,51.9 290.0,52.8C289.7,53.7 290.0,55.0 289.6,55.6C289.2,56.2 288.2,56.0 287.5,56.1C286.8,56.2 286.1,55.8 285.3,56.0C284.5,56.2 283.7,56.9 282.9,57.3C282.0,57.6 280.9,57.7 280.2,58.1C279.5,58.5 279.4,59.3 278.8,59.8C278.3,60.3 277.1,60.5 277.0,61.0C276.9,61.5 277.9,62.4 278.2,63.1C278.5,63.8 279.0,64.6 278.8,65.4C278.6,66.2 277.6,67.2 277.1,68.1C276.7,69.1 276.5,70.2 275.9,71.1C275.3,72.0 274.4,72.8 273.6,73.6C272.7,74.3 271.6,74.8 270.8,75.5C270.0,76.2 269.6,77.1 269.0,78.0C268.4,78.8 267.5,79.7 267.2,80.5C266.9,81.3 267.2,82.0 267.1,82.7C267.0,83.4 266.3,84.2 266.5,84.8C266.7,85.4 267.6,85.9 268.1,86.5C268.6,87.1 268.9,87.8 269.4,88.4C269.9,89.0 270.6,89.6 271.2,90.2C271.8,90.8 272.2,91.4 273.0,92.0C273.8,92.6 274.8,93.3 275.7,93.8C276.7,94.2 277.9,94.6 278.8,94.9C279.7,95.2 280.4,95.3 281.3,95.4C282.1,95.5 283.1,96.0 283.8,95.7C284.5,95.4 284.9,94.2 285.7,93.7C286.4,93.1 287.5,92.9 288.1,92.4C288.7,91.9 288.9,91.3 289.4,90.8C289.9,90.4 290.3,90.0 291.0,89.6C291.7,89.2 292.6,88.9 293.4,88.7C294.3,88.5 295.1,88.5 296.0,88.4C296.9,88.3 298.1,88.3 299.0,88.1C300.0,87.8 301.1,87.4 301.9,87.0C302.7,86.6 303.3,86.0 303.9,85.4C304.5,84.8 305.1,84.2 305.5,83.4C305.9,82.6 306.3,81.5 306.5,80.6C306.7,79.6 306.8,78.6 306.9,77.6C307.0,76.6 307.0,75.6 306.9,74.7C306.8,73.7 306.1,72.7 306.2,71.8C306.3,70.9 307.1,70.0 307.5,69.0C307.8,68.1 308.0,67.2 308.3,66.1C308.6,65.0 309.2,63.8 309.5,62.6C309.7,61.4 309.7,60.1 309.8,58.9C309.9,57.7 310.2,56.5 310.3,55.3C310.4,54.0 310.4,52.8 310.2,51.6C310.0,50.4 309.6,49.2 309.4,48.0C309.2,46.8 309.2,45.5 309.0,44.4C308.8,43.3 308.6,42.4 308.3,41.4C307.9,40.5 307.4,39.5 306.9,38.7C306.4,37.9 305.9,37.5 305.4,36.9C305.0,36.2 304.7,34.9 304.0,35.0Z" fill="#6a6a6a" stroke="#000" stroke-width="2.4" stroke-linejoin="round"/>
<g clip-path="url(#bc3)">
<path d="M304.0,35.0C303.3,35.1 302.2,36.7 301.2,37.4C300.3,38.1 299.1,38.7 298.2,39.4C297.3,40.1 296.6,40.9 295.9,41.8C295.2,42.6 294.5,43.5 293.9,44.4C293.3,45.3 292.8,46.3 292.3,47.2C291.8,48.2 291.4,49.3 291.0,50.2C290.6,51.1 290.2,51.9 290.0,52.8C289.7,53.7 290.0,55.0 289.6,55.6C289.2,56.2 288.2,56.0 287.5,56.1C286.8,56.2 286.1,55.8 285.3,56.0C284.5,56.2 283.7,56.9 282.9,57.3C282.0,57.6 280.9,57.7 280.2,58.1C279.5,58.5 279.4,59.3 278.8,59.8C278.3,60.3 277.1,60.5 277.0,61.0C276.9,61.5 277.9,62.4 278.2,63.1C278.5,63.8 279.0,64.6 278.8,65.4C278.6,66.2 277.6,67.2 277.1,68.1C276.7,69.1 276.5,70.2 275.9,71.1C275.3,72.0 274.4,72.8 273.6,73.6C272.7,74.3 271.6,74.8 270.8,75.5C270.0,76.2 269.6,77.1 269.0,78.0C268.4,78.8 267.5,79.7 267.2,80.5C266.9,81.3 267.2,82.0 267.1,82.7C267.0,83.4 266.3,84.2 266.5,84.8C266.7,85.4 267.6,85.9 268.1,86.5C268.6,87.1 268.9,87.8 269.4,88.4C269.9,89.0 270.6,89.6 271.2,90.2C271.8,90.8 272.2,91.4 273.0,92.0C273.8,92.6 274.8,93.3 275.7,93.8C276.7,94.2 277.9,94.6 278.8,94.9C279.7,95.2 280.4,95.3 281.3,95.4C282.1,95.5 283.1,96.0 283.8,95.7C284.5,95.4 284.9,94.2 285.7,93.7C286.4,93.1 287.5,92.9 288.1,92.4C288.7,91.9 288.9,91.3 289.4,90.8C289.9,90.4 290.3,90.0 291.0,89.6C291.7,89.2 292.6,88.9 293.4,88.7C294.3,88.5 295.1,88.5 296.0,88.4C296.9,88.3 298.1,88.3 299.0,88.1C300.0,87.8 301.1,87.4 301.9,87.0C302.7,86.6 303.3,86.0 303.9,85.4C304.5,84.8 305.1,84.2 305.5,83.4C305.9,82.6 306.3,81.5 306.5,80.6C306.7,79.6 306.8,78.6 306.9,77.6C307.0,76.6 307.0,75.6 306.9,74.7C306.8,73.7 306.1,72.7 306.2,71.8C306.3,70.9 307.1,70.0 307.5,69.0C307.8,68.1 308.0,67.2 308.3,66.1C308.6,65.0 309.2,63.8 309.5,62.6C309.7,61.4 309.7,60.1 309.8,58.9C309.9,57.7 310.2,56.5 310.3,55.3C310.4,54.0 310.4,52.8 310.2,51.6C310.0,50.4 309.6,49.2 309.4,48.0C309.2,46.8 309.2,45.5 309.0,44.4C308.8,43.3 308.6,42.4 308.3,41.4C307.9,40.5 307.4,39.5 306.9,38.7C306.4,37.9 305.9,37.5 305.4,36.9C305.0,36.2 304.7,34.9 304.0,35.0Z" fill="none" stroke="#060606" stroke-width="4.2" filter="url(#b08)"/>
<ellipse cx="283" cy="62" rx="3.5" ry="3" fill="#b0b0b0" opacity="1" filter="url(#soft3)" transform="rotate(0 283 62)"/>
<ellipse cx="302" cy="75" rx="2.5" ry="8" fill="#161616" opacity="1" filter="url(#soft3)" transform="rotate(0 302 75)"/>
<ellipse cx="297" cy="84" rx="5" ry="2.5" fill="#1c1c1c" opacity="1" filter="url(#soft3)" transform="rotate(0 297 84)"/>
</g>
<path d="M306.6,52.9C306.4,54.8 305.8,56.9 305.0,58.5C304.3,60.0 303.2,61.5 302.1,62.3C301.1,63.1 299.8,63.5 298.8,63.4C297.8,63.2 296.7,62.5 295.9,61.4C295.1,60.3 294.5,58.7 294.2,56.9C293.9,55.2 293.9,53.0 294.2,51.1C294.4,49.2 295.0,47.1 295.8,45.5C296.5,44.0 297.6,42.5 298.7,41.7C299.7,40.9 301.0,40.5 302.0,40.6C303.0,40.8 304.1,41.5 304.9,42.6C305.7,43.7 306.3,45.3 306.6,47.1C306.9,48.8 306.9,51.0 306.6,52.9Z" fill="#8c8c8c"/>
<path d="M305.8,52.8C305.6,54.4 305.0,56.2 304.4,57.6C303.7,59.0 302.8,60.2 301.9,60.9C301.0,61.7 299.9,62.0 299.0,61.9C298.1,61.8 297.2,61.1 296.5,60.2C295.8,59.2 295.3,57.8 295.0,56.3C294.8,54.8 294.8,52.9 295.0,51.2C295.2,49.6 295.8,47.8 296.4,46.4C297.1,45.0 298.0,43.8 298.9,43.1C299.8,42.3 300.9,42.0 301.8,42.1C302.7,42.2 303.6,42.9 304.3,43.8C305.0,44.8 305.5,46.2 305.8,47.7C306.0,49.2 306.0,51.1 305.8,52.8Z" fill="none" stroke="#0c0c0c" stroke-width="2.0" filter="url(#b06)"/>
<path d="M306.6,52.9C306.4,54.8 305.8,56.9 305.0,58.5C304.3,60.0 303.2,61.5 302.1,62.3C301.1,63.1 299.8,63.5 298.8,63.4C297.8,63.2 296.7,62.5 295.9,61.4C295.1,60.3 294.5,58.7 294.2,56.9C293.9,55.2 293.9,53.0 294.2,51.1C294.4,49.2 295.0,47.1 295.8,45.5C296.5,44.0 297.6,42.5 298.7,41.7C299.7,40.9 301.0,40.5 302.0,40.6C303.0,40.8 304.1,41.5 304.9,42.6C305.7,43.7 306.3,45.3 306.6,47.1C306.9,48.8 306.9,51.0 306.6,52.9Z" fill="none" stroke="#fff" stroke-width="0.85"/>
<path d="M303.8,52.1C303.7,52.9 303.3,53.8 303.0,54.5C302.6,55.2 302.0,55.8 301.5,56.1C300.9,56.5 300.3,56.6 299.7,56.6C299.1,56.5 298.5,56.1 298.1,55.7C297.7,55.2 297.3,54.4 297.1,53.7C297.0,52.9 296.9,52.0 297.0,51.1C297.1,50.3 297.5,49.4 297.8,48.7C298.2,48.0 298.8,47.4 299.3,47.1C299.9,46.7 300.5,46.6 301.1,46.6C301.7,46.7 302.3,47.1 302.7,47.5C303.1,48.0 303.5,48.8 303.7,49.5C303.8,50.3 303.9,51.2 303.8,52.1Z" fill="#9a9a9a"/>
<path d="M303.1,52.0C303.0,52.7 302.8,53.4 302.5,53.9C302.2,54.5 301.7,55.0 301.3,55.3C300.8,55.5 300.3,55.7 299.8,55.6C299.4,55.6 298.9,55.3 298.5,54.9C298.2,54.5 297.9,53.9 297.8,53.3C297.6,52.7 297.6,51.9 297.7,51.2C297.8,50.5 298.0,49.8 298.3,49.3C298.6,48.7 299.1,48.2 299.5,47.9C300.0,47.7 300.5,47.5 301.0,47.6C301.4,47.6 301.9,47.9 302.3,48.3C302.6,48.7 302.9,49.3 303.0,49.9C303.2,50.5 303.2,51.3 303.1,52.0Z" fill="none" stroke="#0c0c0c" stroke-width="1.2" filter="url(#b06)"/>
<path d="M303.8,52.1C303.7,52.9 303.3,53.8 303.0,54.5C302.6,55.2 302.0,55.8 301.5,56.1C300.9,56.5 300.3,56.6 299.7,56.6C299.1,56.5 298.5,56.1 298.1,55.7C297.7,55.2 297.3,54.4 297.1,53.7C297.0,52.9 296.9,52.0 297.0,51.1C297.1,50.3 297.5,49.4 297.8,48.7C298.2,48.0 298.8,47.4 299.3,47.1C299.9,46.7 300.5,46.6 301.1,46.6C301.7,46.7 302.3,47.1 302.7,47.5C303.1,48.0 303.5,48.8 303.7,49.5C303.8,50.3 303.9,51.2 303.8,52.1Z" fill="none" stroke="#fff" stroke-width="0.85"/>
<path d="M291.5,73.5C292.1,72.9 293.5,75.1 294.5,75.0C295.5,74.9 297.1,72.6 297.5,72.8C297.9,73.0 296.6,75.0 296.8,76.0C297.0,77.0 298.7,78.1 298.5,78.5C298.3,78.9 296.2,77.8 295.5,78.2C294.8,78.6 294.9,81.0 294.5,81.0C294.1,81.0 293.9,78.6 293.3,78.2C292.7,77.8 291.3,79.3 291.0,78.5C290.7,77.7 290.9,74.1 291.5,73.5Z" fill="#d8d8d8" stroke="#fff" stroke-width="0.6"/>
<path d="M293.4,74.8C294.0,76.7 294.0,79.1 293.5,81.1C293.1,83.1 292.0,85.0 290.7,86.6C289.4,88.3 287.7,90.3 285.9,90.9C284.0,91.5 281.6,90.5 279.6,90.1C277.6,89.7 275.5,89.3 273.8,88.3C272.1,87.2 270.0,85.4 269.3,83.6C268.6,81.7 269.3,79.2 269.8,77.1C270.2,75.0 270.8,72.8 272.0,71.2C273.3,69.5 275.3,67.8 277.3,67.2C279.2,66.7 281.6,67.5 283.7,67.9C285.7,68.3 288.0,68.5 289.6,69.7C291.2,70.8 292.7,72.9 293.4,74.8Z" fill="#a8a8a8"/>
<path d="M292.4,75.2C293.0,76.9 292.9,79.1 292.5,81.0C292.1,82.8 291.1,84.5 290.0,86.0C288.8,87.5 287.2,89.4 285.5,89.9C283.8,90.4 281.6,89.6 279.7,89.2C277.9,88.8 276.0,88.5 274.5,87.5C272.9,86.5 270.9,84.9 270.3,83.2C269.7,81.5 270.3,79.2 270.7,77.3C271.2,75.4 271.7,73.3 272.8,71.8C274.0,70.3 275.9,68.7 277.6,68.2C279.4,67.7 281.6,68.5 283.5,68.8C285.4,69.2 287.5,69.4 288.9,70.5C290.4,71.5 291.8,73.4 292.4,75.2Z" fill="none" stroke="#080808" stroke-width="1.7" filter="url(#b06)"/>
<path d="M293.4,74.8C294.0,76.7 294.0,79.1 293.5,81.1C293.1,83.1 292.0,85.0 290.7,86.6C289.4,88.3 287.7,90.3 285.9,90.9C284.0,91.5 281.6,90.5 279.6,90.1C277.6,89.7 275.5,89.3 273.8,88.3C272.1,87.2 270.0,85.4 269.3,83.6C268.6,81.7 269.3,79.2 269.8,77.1C270.2,75.0 270.8,72.8 272.0,71.2C273.3,69.5 275.3,67.8 277.3,67.2C279.2,66.7 281.6,67.5 283.7,67.9C285.7,68.3 288.0,68.5 289.6,69.7C291.2,70.8 292.7,72.9 293.4,74.8Z" fill="none" stroke="#fff" stroke-width="0.85"/>
<path d="M290.4,75.9C290.9,77.4 291.1,79.2 290.8,80.7C290.5,82.2 289.7,83.7 288.7,85.0C287.8,86.4 286.6,88.3 285.1,88.7C283.7,89.2 281.6,88.3 280.0,87.9C278.4,87.5 276.8,87.2 275.5,86.3C274.2,85.4 272.6,84.0 272.1,82.5C271.7,81.1 272.5,79.2 272.8,77.6C273.2,76.0 273.4,74.3 274.3,73.0C275.2,71.7 276.7,70.2 278.2,69.7C279.7,69.3 281.5,70.1 283.2,70.4C284.8,70.8 286.7,70.7 287.9,71.6C289.1,72.6 289.9,74.4 290.4,75.9Z" fill="#a8a8a8"/>
<path d="M289.5,76.2C289.9,77.6 290.1,79.2 289.9,80.5C289.6,81.9 288.8,83.2 288.0,84.4C287.1,85.6 286.0,87.3 284.7,87.7C283.4,88.1 281.6,87.3 280.2,86.9C278.8,86.6 277.3,86.3 276.2,85.5C275.0,84.7 273.5,83.5 273.1,82.2C272.7,80.9 273.4,79.2 273.7,77.8C274.1,76.3 274.2,74.8 275.0,73.6C275.8,72.5 277.2,71.1 278.6,70.7C279.9,70.3 281.6,71.1 283.0,71.4C284.5,71.6 286.2,71.6 287.2,72.4C288.3,73.2 289.0,74.9 289.5,76.2Z" fill="none" stroke="#080808" stroke-width="1.7" filter="url(#b06)"/>
<path d="M290.4,75.9C290.9,77.4 291.1,79.2 290.8,80.7C290.5,82.2 289.7,83.7 288.7,85.0C287.8,86.4 286.6,88.3 285.1,88.7C283.7,89.2 281.6,88.3 280.0,87.9C278.4,87.5 276.8,87.2 275.5,86.3C274.2,85.4 272.6,84.0 272.1,82.5C271.7,81.1 272.5,79.2 272.8,77.6C273.2,76.0 273.4,74.3 274.3,73.0C275.2,71.7 276.7,70.2 278.2,69.7C279.7,69.3 281.5,70.1 283.2,70.4C284.8,70.8 286.7,70.7 287.9,71.6C289.1,72.6 289.9,74.4 290.4,75.9Z" fill="none" stroke="#fff" stroke-width="0.85"/>
<path d="M288.2,76.7C288.5,77.7 288.3,79.0 288.0,80.1C287.7,81.2 287.2,82.1 286.5,83.0C285.8,84.0 285.0,85.3 284.0,85.6C283.0,85.9 281.6,85.2 280.4,85.0C279.3,84.7 278.1,84.8 277.1,84.2C276.2,83.7 274.9,82.7 274.6,81.7C274.3,80.6 275.1,79.3 275.4,78.1C275.7,77.0 275.7,75.7 276.3,74.8C277.0,74.0 278.3,73.3 279.4,73.0C280.4,72.6 281.7,72.8 282.8,72.9C283.9,73.1 285.2,73.3 286.1,73.9C287.0,74.5 287.9,75.7 288.2,76.7Z" fill="#a8a8a8"/>
<path d="M287.2,77.1C287.5,77.9 287.3,79.1 287.0,80.0C286.8,80.9 286.3,81.7 285.8,82.5C285.2,83.2 284.5,84.4 283.6,84.6C282.8,84.9 281.6,84.3 280.6,84.1C279.7,83.9 278.6,83.9 277.8,83.4C277.0,83.0 275.9,82.1 275.6,81.3C275.4,80.4 276.1,79.2 276.4,78.3C276.6,77.3 276.6,76.2 277.1,75.5C277.7,74.8 278.8,74.2 279.7,73.9C280.6,73.6 281.7,73.7 282.6,73.9C283.6,74.0 284.7,74.2 285.5,74.7C286.2,75.2 287.0,76.2 287.2,77.1Z" fill="none" stroke="#080808" stroke-width="1.7" filter="url(#b06)"/>
<path d="M288.2,76.7C288.5,77.7 288.3,79.0 288.0,80.1C287.7,81.2 287.2,82.1 286.5,83.0C285.8,84.0 285.0,85.3 284.0,85.6C283.0,85.9 281.6,85.2 280.4,85.0C279.3,84.7 278.1,84.8 277.1,84.2C276.2,83.7 274.9,82.7 274.6,81.7C274.3,80.6 275.1,79.3 275.4,78.1C275.7,77.0 275.7,75.7 276.3,74.8C277.0,74.0 278.3,73.3 279.4,73.0C280.4,72.6 281.7,72.8 282.8,72.9C283.9,73.1 285.2,73.3 286.1,73.9C287.0,74.5 287.9,75.7 288.2,76.7Z" fill="none" stroke="#fff" stroke-width="0.85"/>
<path d="M285.3,77.8C285.5,78.4 285.5,79.1 285.3,79.8C285.2,80.4 284.8,80.9 284.4,81.5C284.0,82.0 283.6,82.9 283.0,83.1C282.5,83.3 281.6,82.8 281.0,82.6C280.3,82.5 279.7,82.4 279.1,82.1C278.5,81.7 277.9,81.2 277.6,80.5C277.4,79.9 277.6,79.1 277.8,78.4C277.9,77.8 278.1,77.0 278.5,76.5C278.9,76.0 279.6,75.5 280.2,75.3C280.8,75.1 281.6,75.2 282.3,75.4C282.9,75.5 283.6,75.8 284.1,76.2C284.6,76.6 285.0,77.2 285.3,77.8Z" fill="#a8a8a8"/>
<path d="M284.3,78.1C284.5,78.6 284.5,79.1 284.4,79.6C284.3,80.0 284.0,80.5 283.7,80.9C283.4,81.3 283.1,81.9 282.7,82.0C282.2,82.2 281.6,81.9 281.1,81.7C280.6,81.6 280.2,81.6 279.7,81.3C279.3,81.1 278.8,80.6 278.6,80.2C278.5,79.7 278.6,79.1 278.8,78.6C278.9,78.1 279.0,77.6 279.3,77.2C279.6,76.8 280.1,76.4 280.6,76.3C281.0,76.1 281.6,76.2 282.1,76.3C282.6,76.4 283.1,76.6 283.4,76.9C283.8,77.2 284.2,77.7 284.3,78.1Z" fill="none" stroke="#080808" stroke-width="1.7" filter="url(#b06)"/>
<path d="M285.3,77.8C285.5,78.4 285.5,79.1 285.3,79.8C285.2,80.4 284.8,80.9 284.4,81.5C284.0,82.0 283.6,82.9 283.0,83.1C282.5,83.3 281.6,82.8 281.0,82.6C280.3,82.5 279.7,82.4 279.1,82.1C278.5,81.7 277.9,81.2 277.6,80.5C277.4,79.9 277.6,79.1 277.8,78.4C277.9,77.8 278.1,77.0 278.5,76.5C278.9,76.0 279.6,75.5 280.2,75.3C280.8,75.1 281.6,75.2 282.3,75.4C282.9,75.5 283.6,75.8 284.1,76.2C284.6,76.6 285.0,77.2 285.3,77.8Z" fill="none" stroke="#fff" stroke-width="0.85"/>
<ellipse cx="281.6" cy="79.1" rx="2.0" ry="2.0" fill="#1a1a1a" filter="url(#b06)"/>
<ellipse cx="279" cy="104.5" rx="2.2" ry="1.2" fill="#111"/>
<ellipse cx="284" cy="104.5" rx="2.2" ry="1.2" fill="#111"/>
</g>
<rect x="263.0" y="17.4" width="88.6" height="87.0" fill="none" stroke="#b4b4b4" stroke-width="1.1"/>
<line x1="289.6" y1="17.4" x2="289.6" y2="104.4" stroke="#999" stroke-width="1.2" stroke-linecap="butt"/>
<path d="M289.6,21.2 L319.2,21.2 L319.2,67.0 L289.6,67.0" fill="none" stroke="#999" stroke-width="1.2" />
<text x="263.9" y="113.3" font-size="5.7" text-anchor="middle" fill="#000">10<tspan font-size="3.99" dy="-2.56">0</tspan></text>
<text x="286.04999999999995" y="113.3" font-size="5.7" text-anchor="middle" fill="#000">10<tspan font-size="3.99" dy="-2.56">1</tspan></text>
<text x="308.2" y="113.3" font-size="5.7" text-anchor="middle" fill="#000">10<tspan font-size="3.99" dy="-2.56">2</tspan></text>
<text x="330.35" y="113.3" font-size="5.7" text-anchor="middle" fill="#000">10<tspan font-size="3.99" dy="-2.56">3</tspan></text>
<text x="352.5" y="113.3" font-size="5.7" text-anchor="middle" fill="#000">10<tspan font-size="3.99" dy="-2.56">4</tspan></text>
<clipPath id="clipA3"><rect x="363.0" y="17.4" width="88.6" height="87.0"/></clipPath>
<g clip-path="url(#clipA3)">
<clipPath id="bc4"><path d="M403.3,35.8C402.5,35.8 401.3,36.9 400.2,37.2C399.1,37.6 397.7,37.4 396.8,37.9C395.9,38.4 395.2,39.5 394.5,40.3C393.8,41.2 393.1,42.0 392.5,43.0C391.9,44.0 391.4,45.3 390.9,46.5C390.4,47.7 390.1,49.1 389.6,50.2C389.1,51.3 388.2,52.2 387.7,53.3C387.3,54.4 387.2,55.9 386.7,56.7C386.2,57.5 385.4,57.6 384.7,58.0C383.9,58.4 382.9,58.4 382.4,58.9C381.9,59.4 381.9,60.4 381.5,61.2C381.2,61.9 380.8,62.5 380.2,63.2C379.6,63.9 378.6,64.7 377.9,65.5C377.2,66.4 376.7,67.3 375.9,68.2C375.1,69.1 373.9,70.0 372.9,71.0C371.9,72.0 371.0,73.2 370.1,74.0C369.2,74.8 368.5,75.4 367.7,76.0C366.8,76.6 365.8,77.1 365.0,77.6C364.2,78.1 363.7,78.4 363.1,78.9C362.5,79.4 361.8,79.6 361.5,80.5C361.2,81.4 361.6,82.9 361.6,84.1C361.6,85.3 361.2,86.7 361.5,87.7C361.8,88.7 362.7,89.3 363.5,90.0C364.2,90.8 365.0,91.4 365.8,92.0C366.6,92.6 367.5,93.2 368.2,93.9C368.9,94.7 369.3,95.8 370.1,96.4C370.9,97.0 372.2,97.1 373.1,97.6C374.1,98.1 374.9,99.1 375.9,99.3C376.9,99.5 377.9,99.2 378.9,98.9C379.8,98.7 380.7,98.3 381.6,97.8C382.5,97.3 383.2,96.7 384.1,96.2C384.9,95.7 385.9,95.3 386.7,94.9C387.5,94.5 388.0,94.0 388.7,93.6C389.5,93.3 390.1,93.0 391.0,92.8C391.9,92.6 393.0,92.6 394.0,92.3C394.9,92.1 395.9,91.6 396.8,91.3C397.7,91.0 398.5,91.0 399.3,90.7C400.2,90.5 401.1,90.4 401.8,89.9C402.5,89.4 403.0,88.2 403.8,87.5C404.5,86.8 405.6,86.5 406.2,85.6C406.8,84.7 406.9,83.4 407.3,82.4C407.6,81.3 408.0,80.2 408.3,79.1C408.6,78.0 408.7,76.7 408.9,75.5C409.0,74.3 409.1,73.0 409.1,71.8C409.1,70.6 409.0,69.4 409.1,68.2C409.2,67.0 409.6,65.8 409.8,64.6C410.0,63.4 410.2,62.2 410.3,61.0C410.4,59.8 410.5,58.6 410.5,57.4C410.5,56.2 410.2,55.0 410.3,53.8C410.3,52.6 410.9,51.4 410.8,50.2C410.7,49.0 410.1,47.8 409.8,46.6C409.5,45.4 409.5,44.0 409.1,43.0C408.7,42.0 407.9,41.5 407.4,40.6C407.0,39.8 406.9,38.5 406.5,37.9C406.1,37.3 405.3,37.4 404.7,37.1C404.2,36.7 404.1,35.8 403.3,35.8Z"/></clipPath>
<path d="M403.3,35.8C402.5,35.8 401.3,36.9 400.2,37.2C399.1,37.6 397.7,37.4 396.8,37.9C395.9,38.4 395.2,39.5 394.5,40.3C393.8,41.2 393.1,42.0 392.5,43.0C391.9,44.0 391.4,45.3 390.9,46.5C390.4,47.7 390.1,49.1 389.6,50.2C389.1,51.3 388.2,52.2 387.7,53.3C387.3,54.4 387.2,55.9 386.7,56.7C386.2,57.5 385.4,57.6 384.7,58.0C383.9,58.4 382.9,58.4 382.4,58.9C381.9,59.4 381.9,60.4 381.5,61.2C381.2,61.9 380.8,62.5 380.2,63.2C379.6,63.9 378.6,64.7 377.9,65.5C377.2,66.4 376.7,67.3 375.9,68.2C375.1,69.1 373.9,70.0 372.9,71.0C371.9,72.0 371.0,73.2 370.1,74.0C369.2,74.8 368.5,75.4 367.7,76.0C366.8,76.6 365.8,77.1 365.0,77.6C364.2,78.1 363.7,78.4 363.1,78.9C362.5,79.4 361.8,79.6 361.5,80.5C361.2,81.4 361.6,82.9 361.6,84.1C361.6,85.3 361.2,86.7 361.5,87.7C361.8,88.7 362.7,89.3 363.5,90.0C364.2,90.8 365.0,91.4 365.8,92.0C366.6,92.6 367.5,93.2 368.2,93.9C368.9,94.7 369.3,95.8 370.1,96.4C370.9,97.0 372.2,97.1 373.1,97.6C374.1,98.1 374.9,99.1 375.9,99.3C376.9,99.5 377.9,99.2 378.9,98.9C379.8,98.7 380.7,98.3 381.6,97.8C382.5,97.3 383.2,96.7 384.1,96.2C384.9,95.7 385.9,95.3 386.7,94.9C387.5,94.5 388.0,94.0 388.7,93.6C389.5,93.3 390.1,93.0 391.0,92.8C391.9,92.6 393.0,92.6 394.0,92.3C394.9,92.1 395.9,91.6 396.8,91.3C397.7,91.0 398.5,91.0 399.3,90.7C400.2,90.5 401.1,90.4 401.8,89.9C402.5,89.4 403.0,88.2 403.8,87.5C404.5,86.8 405.6,86.5 406.2,85.6C406.8,84.7 406.9,83.4 407.3,82.4C407.6,81.3 408.0,80.2 408.3,79.1C408.6,78.0 408.7,76.7 408.9,75.5C409.0,74.3 409.1,73.0 409.1,71.8C409.1,70.6 409.0,69.4 409.1,68.2C409.2,67.0 409.6,65.8 409.8,64.6C410.0,63.4 410.2,62.2 410.3,61.0C410.4,59.8 410.5,58.6 410.5,57.4C410.5,56.2 410.2,55.0 410.3,53.8C410.3,52.6 410.9,51.4 410.8,50.2C410.7,49.0 410.1,47.8 409.8,46.6C409.5,45.4 409.5,44.0 409.1,43.0C408.7,42.0 407.9,41.5 407.4,40.6C407.0,39.8 406.9,38.5 406.5,37.9C406.1,37.3 405.3,37.4 404.7,37.1C404.2,36.7 404.1,35.8 403.3,35.8Z" fill="#6a6a6a" stroke="#000" stroke-width="2.4" stroke-linejoin="round"/>
<g clip-path="url(#bc4)">
<path d="M403.3,35.8C402.5,35.8 401.3,36.9 400.2,37.2C399.1,37.6 397.7,37.4 396.8,37.9C395.9,38.4 395.2,39.5 394.5,40.3C393.8,41.2 393.1,42.0 392.5,43.0C391.9,44.0 391.4,45.3 390.9,46.5C390.4,47.7 390.1,49.1 389.6,50.2C389.1,51.3 388.2,52.2 387.7,53.3C387.3,54.4 387.2,55.9 386.7,56.7C386.2,57.5 385.4,57.6 384.7,58.0C383.9,58.4 382.9,58.4 382.4,58.9C381.9,59.4 381.9,60.4 381.5,61.2C381.2,61.9 380.8,62.5 380.2,63.2C379.6,63.9 378.6,64.7 377.9,65.5C377.2,66.4 376.7,67.3 375.9,68.2C375.1,69.1 373.9,70.0 372.9,71.0C371.9,72.0 371.0,73.2 370.1,74.0C369.2,74.8 368.5,75.4 367.7,76.0C366.8,76.6 365.8,77.1 365.0,77.6C364.2,78.1 363.7,78.4 363.1,78.9C362.5,79.4 361.8,79.6 361.5,80.5C361.2,81.4 361.6,82.9 361.6,84.1C361.6,85.3 361.2,86.7 361.5,87.7C361.8,88.7 362.7,89.3 363.5,90.0C364.2,90.8 365.0,91.4 365.8,92.0C366.6,92.6 367.5,93.2 368.2,93.9C368.9,94.7 369.3,95.8 370.1,96.4C370.9,97.0 372.2,97.1 373.1,97.6C374.1,98.1 374.9,99.1 375.9,99.3C376.9,99.5 377.9,99.2 378.9,98.9C379.8,98.7 380.7,98.3 381.6,97.8C382.5,97.3 383.2,96.7 384.1,96.2C384.9,95.7 385.9,95.3 386.7,94.9C387.5,94.5 388.0,94.0 388.7,93.6C389.5,93.3 390.1,93.0 391.0,92.8C391.9,92.6 393.0,92.6 394.0,92.3C394.9,92.1 395.9,91.6 396.8,91.3C397.7,91.0 398.5,91.0 399.3,90.7C400.2,90.5 401.1,90.4 401.8,89.9C402.5,89.4 403.0,88.2 403.8,87.5C404.5,86.8 405.6,86.5 406.2,85.6C406.8,84.7 406.9,83.4 407.3,82.4C407.6,81.3 408.0,80.2 408.3,79.1C408.6,78.0 408.7,76.7 408.9,75.5C409.0,74.3 409.1,73.0 409.1,71.8C409.1,70.6 409.0,69.4 409.1,68.2C409.2,67.0 409.6,65.8 409.8,64.6C410.0,63.4 410.2,62.2 410.3,61.0C410.4,59.8 410.5,58.6 410.5,57.4C410.5,56.2 410.2,55.0 410.3,53.8C410.3,52.6 410.9,51.4 410.8,50.2C410.7,49.0 410.1,47.8 409.8,46.6C409.5,45.4 409.5,44.0 409.1,43.0C408.7,42.0 407.9,41.5 407.4,40.6C407.0,39.8 406.9,38.5 406.5,37.9C406.1,37.3 405.3,37.4 404.7,37.1C404.2,36.7 404.1,35.8 403.3,35.8Z" fill="none" stroke="#060606" stroke-width="4.2" filter="url(#b08)"/>
<ellipse cx="383" cy="66" rx="3.5" ry="3" fill="#a8a8a8" opacity="1" filter="url(#soft3)" transform="rotate(-40 383 66)"/>
<ellipse cx="405.5" cy="72" rx="2" ry="12" fill="#141414" opacity="1" filter="url(#soft3)" transform="rotate(0 405.5 72)"/>
<ellipse cx="393.5" cy="60" rx="2" ry="8" fill="#181818" opacity="1" filter="url(#soft3)" transform="rotate(15 393.5 60)"/>
</g>
<path d="M407.3,53.6C407.0,55.9 406.4,58.5 405.7,60.5C405.0,62.5 404.0,64.3 403.0,65.4C402.0,66.4 400.8,67.0 399.8,66.9C398.8,66.8 397.8,66.0 397.0,64.7C396.3,63.5 395.7,61.5 395.4,59.4C395.1,57.4 395.1,54.7 395.3,52.4C395.6,50.1 396.2,47.5 396.9,45.5C397.6,43.5 398.6,41.7 399.6,40.6C400.6,39.6 401.8,39.0 402.8,39.1C403.8,39.2 404.8,40.0 405.6,41.3C406.3,42.5 406.9,44.5 407.2,46.6C407.5,48.6 407.5,51.3 407.3,53.6Z" fill="#8c8c8c"/>
<path d="M406.6,53.6C406.4,55.6 405.9,57.9 405.2,59.6C404.6,61.4 403.7,63.0 402.8,63.9C401.9,64.9 400.9,65.4 400.0,65.3C399.1,65.2 398.2,64.5 397.5,63.4C396.9,62.3 396.3,60.5 396.1,58.7C395.8,56.9 395.8,54.5 396.0,52.4C396.2,50.4 396.7,48.1 397.4,46.4C398.0,44.6 398.9,43.0 399.8,42.1C400.7,41.1 401.7,40.6 402.6,40.7C403.5,40.8 404.4,41.5 405.1,42.6C405.7,43.7 406.3,45.5 406.5,47.3C406.8,49.1 406.8,51.5 406.6,53.6Z" fill="none" stroke="#0c0c0c" stroke-width="2.0" filter="url(#b06)"/>
<path d="M407.3,53.6C407.0,55.9 406.4,58.5 405.7,60.5C405.0,62.5 404.0,64.3 403.0,65.4C402.0,66.4 400.8,67.0 399.8,66.9C398.8,66.8 397.8,66.0 397.0,64.7C396.3,63.5 395.7,61.5 395.4,59.4C395.1,57.4 395.1,54.7 395.3,52.4C395.6,50.1 396.2,47.5 396.9,45.5C397.6,43.5 398.6,41.7 399.6,40.6C400.6,39.6 401.8,39.0 402.8,39.1C403.8,39.2 404.8,40.0 405.6,41.3C406.3,42.5 406.9,44.5 407.2,46.6C407.5,48.6 407.5,51.3 407.3,53.6Z" fill="none" stroke="#fff" stroke-width="0.85"/>
<path d="M404.8,55.2C404.7,56.6 404.5,58.3 404.1,59.5C403.8,60.8 403.3,62.0 402.8,62.7C402.3,63.4 401.7,63.8 401.1,63.8C400.6,63.8 400.0,63.3 399.6,62.5C399.2,61.8 398.8,60.5 398.6,59.2C398.4,58.0 398.3,56.3 398.4,54.8C398.5,53.4 398.7,51.7 399.1,50.5C399.4,49.2 399.9,48.0 400.4,47.3C400.9,46.6 401.5,46.2 402.1,46.2C402.6,46.2 403.2,46.7 403.6,47.5C404.0,48.2 404.4,49.5 404.6,50.8C404.8,52.0 404.9,53.7 404.8,55.2Z" fill="#9a9a9a"/>
<path d="M404.4,55.1C404.3,56.4 404.1,57.9 403.8,59.0C403.5,60.1 403.1,61.1 402.6,61.7C402.2,62.3 401.7,62.7 401.2,62.7C400.7,62.7 400.2,62.2 399.9,61.6C399.5,60.9 399.2,59.8 399.0,58.7C398.8,57.6 398.7,56.1 398.8,54.9C398.9,53.6 399.1,52.1 399.4,51.0C399.7,49.9 400.1,48.9 400.6,48.3C401.0,47.7 401.5,47.3 402.0,47.3C402.5,47.3 403.0,47.8 403.3,48.4C403.7,49.1 404.0,50.2 404.2,51.3C404.4,52.4 404.5,53.9 404.4,55.1Z" fill="none" stroke="#0c0c0c" stroke-width="1.3" filter="url(#b06)"/>
<path d="M404.8,55.2C404.7,56.6 404.5,58.3 404.1,59.5C403.8,60.8 403.3,62.0 402.8,62.7C402.3,63.4 401.7,63.8 401.1,63.8C400.6,63.8 400.0,63.3 399.6,62.5C399.2,61.8 398.8,60.5 398.6,59.2C398.4,58.0 398.3,56.3 398.4,54.8C398.5,53.4 398.7,51.7 399.1,50.5C399.4,49.2 399.9,48.0 400.4,47.3C400.9,46.6 401.5,46.2 402.1,46.2C402.6,46.2 403.2,46.7 403.6,47.5C404.0,48.2 404.4,49.5 404.6,50.8C404.8,52.0 404.9,53.7 404.8,55.2Z" fill="none" stroke="#fff" stroke-width="0.85"/>
<path d="M402.5,51.4C402.5,51.5 402.5,51.7 402.4,51.8C402.4,51.9 402.4,52.0 402.3,52.1C402.2,52.2 402.2,52.3 402.1,52.3C402.0,52.4 401.9,52.4 401.8,52.4C401.7,52.4 401.6,52.4 401.5,52.3C401.4,52.3 401.4,52.2 401.3,52.1C401.2,52.0 401.2,51.9 401.2,51.8C401.1,51.7 401.1,51.5 401.1,51.4C401.1,51.3 401.1,51.1 401.2,51.0C401.2,50.9 401.2,50.8 401.3,50.7C401.4,50.6 401.4,50.5 401.5,50.5C401.6,50.4 401.7,50.4 401.8,50.4C401.9,50.4 402.0,50.4 402.1,50.5C402.2,50.5 402.2,50.6 402.3,50.7C402.4,50.8 402.4,50.9 402.4,51.0C402.5,51.1 402.5,51.3 402.5,51.4Z" fill="#eee" stroke="#fff" stroke-width="0.95" stroke-linecap="round"/>
<path d="M402.5,56.7C402.5,56.9 402.5,57.0 402.4,57.2C402.4,57.4 402.4,57.5 402.3,57.6C402.2,57.7 402.2,57.8 402.1,57.9C402.0,58.0 401.9,58.0 401.8,58.0C401.7,58.0 401.6,58.0 401.5,57.9C401.4,57.8 401.4,57.7 401.3,57.6C401.2,57.5 401.2,57.4 401.2,57.2C401.1,57.0 401.1,56.9 401.1,56.7C401.1,56.5 401.1,56.4 401.2,56.2C401.2,56.0 401.2,55.9 401.3,55.8C401.4,55.7 401.4,55.6 401.5,55.5C401.6,55.4 401.7,55.4 401.8,55.4C401.9,55.4 402.0,55.4 402.1,55.5C402.2,55.6 402.2,55.7 402.3,55.8C402.4,55.9 402.4,56.0 402.4,56.2C402.5,56.4 402.5,56.5 402.5,56.7Z" fill="#eee" stroke="#fff" stroke-width="0.95" stroke-linecap="round"/>
<path d="M402.6,76.5C402.6,77.3 402.4,78.1 402.0,78.8C401.7,79.5 401.1,80.1 400.5,80.5C399.9,80.9 399.1,81.1 398.4,81.1C397.7,81.1 396.9,80.9 396.3,80.5C395.7,80.1 395.1,79.5 394.8,78.8C394.4,78.1 394.2,77.3 394.2,76.5C394.2,75.7 394.4,74.9 394.8,74.2C395.1,73.5 395.7,72.9 396.3,72.5C396.9,72.1 397.7,71.9 398.4,71.9C399.1,71.9 399.9,72.1 400.5,72.5C401.1,72.9 401.7,73.5 402.0,74.2C402.4,74.9 402.6,75.7 402.6,76.5Z" fill="#9a9a9a"/>
<path d="M401.7,76.5C401.7,77.1 401.6,77.8 401.3,78.3C401.0,78.9 400.6,79.4 400.1,79.7C399.6,80.0 399.0,80.2 398.4,80.2C397.8,80.2 397.2,80.0 396.7,79.7C396.2,79.4 395.8,78.9 395.5,78.3C395.2,77.8 395.1,77.1 395.1,76.5C395.1,75.9 395.2,75.2 395.5,74.7C395.8,74.1 396.2,73.6 396.7,73.3C397.2,73.0 397.8,72.8 398.4,72.8C399.0,72.8 399.6,73.0 400.1,73.3C400.6,73.6 401.0,74.1 401.3,74.7C401.6,75.2 401.7,75.9 401.7,76.5Z" fill="none" stroke="#0c0c0c" stroke-width="1.4" filter="url(#b06)"/>
<path d="M402.6,76.5C402.6,77.3 402.4,78.1 402.0,78.8C401.7,79.5 401.1,80.1 400.5,80.5C399.9,80.9 399.1,81.1 398.4,81.1C397.7,81.1 396.9,80.9 396.3,80.5C395.7,80.1 395.1,79.5 394.8,78.8C394.4,78.1 394.2,77.3 394.2,76.5C394.2,75.7 394.4,74.9 394.8,74.2C395.1,73.5 395.7,72.9 396.3,72.5C396.9,72.1 397.7,71.9 398.4,71.9C399.1,71.9 399.9,72.1 400.5,72.5C401.1,72.9 401.7,73.5 402.0,74.2C402.4,74.9 402.6,75.7 402.6,76.5Z" fill="none" stroke="#fff" stroke-width="0.85"/>
<path d="M399.3,76.2C399.3,76.4 399.3,76.7 399.2,76.9C399.2,77.2 399.1,77.4 399.0,77.5C398.9,77.7 398.8,77.9 398.6,78.0C398.5,78.0 398.3,78.1 398.2,78.1C398.1,78.1 397.9,78.0 397.8,78.0C397.6,77.9 397.5,77.7 397.4,77.5C397.3,77.4 397.2,77.2 397.2,76.9C397.1,76.7 397.1,76.4 397.1,76.2C397.1,76.0 397.1,75.7 397.2,75.5C397.2,75.2 397.3,75.0 397.4,74.9C397.5,74.7 397.6,74.5 397.8,74.4C397.9,74.4 398.1,74.3 398.2,74.3C398.3,74.3 398.5,74.4 398.6,74.4C398.8,74.5 398.9,74.7 399.0,74.9C399.1,75.0 399.2,75.2 399.2,75.5C399.3,75.7 399.3,76.0 399.3,76.2Z" fill="#eee" stroke="#fff" stroke-width="0.95" stroke-linecap="round"/>
<path d="M389.0,77.5C389.6,77.0 392.5,79.0 392.5,79.8C392.5,80.6 389.6,82.9 389.0,82.5C388.4,82.1 388.4,78.0 389.0,77.5Z" fill="#ddd" stroke="#fff" stroke-width="0.6"/>
<path d="M391.3,75.4C392.0,77.4 391.5,79.8 391.2,82.0C391.0,84.1 390.9,86.7 389.7,88.4C388.5,90.1 385.9,91.1 383.9,92.1C381.8,93.0 379.5,94.2 377.3,94.2C375.1,94.2 372.6,93.2 370.8,92.0C369.0,90.8 367.2,88.9 366.4,87.0C365.7,85.0 366.2,82.6 366.5,80.5C366.8,78.3 366.9,75.9 368.1,74.1C369.3,72.4 371.6,70.9 373.6,70.1C375.6,69.3 377.9,69.5 380.2,69.4C382.4,69.4 385.3,68.9 387.2,69.9C389.0,70.9 390.6,73.4 391.3,75.4Z" fill="#a8a8a8"/>
<path d="M390.3,75.8C391.0,77.7 390.5,79.9 390.3,81.9C390.0,83.9 390.0,86.3 388.9,87.8C387.7,89.4 385.4,90.3 383.5,91.2C381.6,92.1 379.4,93.2 377.4,93.2C375.4,93.1 373.1,92.2 371.4,91.1C369.8,90.0 368.1,88.3 367.4,86.5C366.7,84.7 367.2,82.5 367.4,80.5C367.7,78.5 367.8,76.3 368.9,74.7C370.0,73.1 372.2,71.7 374.0,71.0C375.9,70.2 378.0,70.4 380.1,70.4C382.1,70.3 384.8,69.9 386.5,70.8C388.2,71.7 389.7,74.0 390.3,75.8Z" fill="none" stroke="#080808" stroke-width="1.7" filter="url(#b06)"/>
<path d="M391.3,75.4C392.0,77.4 391.5,79.8 391.2,82.0C391.0,84.1 390.9,86.7 389.7,88.4C388.5,90.1 385.9,91.1 383.9,92.1C381.8,93.0 379.5,94.2 377.3,94.2C375.1,94.2 372.6,93.2 370.8,92.0C369.0,90.8 367.2,88.9 366.4,87.0C365.7,85.0 366.2,82.6 366.5,80.5C366.8,78.3 366.9,75.9 368.1,74.1C369.3,72.4 371.6,70.9 373.6,70.1C375.6,69.3 377.9,69.5 380.2,69.4C382.4,69.4 385.3,68.9 387.2,69.9C389.0,70.9 390.6,73.4 391.3,75.4Z" fill="none" stroke="#fff" stroke-width="0.85"/>
<path d="M388.6,76.6C389.3,78.2 389.5,80.2 389.3,81.8C389.0,83.5 388.4,85.5 387.3,86.8C386.2,88.1 384.2,88.7 382.6,89.4C381.0,90.2 379.3,91.2 377.7,91.2C376.0,91.2 374.1,90.5 372.6,89.6C371.1,88.7 369.4,87.3 368.9,85.8C368.3,84.3 368.9,82.3 369.2,80.6C369.5,78.9 369.6,77.1 370.6,75.7C371.5,74.4 373.1,72.9 374.6,72.3C376.2,71.6 378.1,71.8 379.9,71.8C381.6,71.8 383.8,71.6 385.3,72.4C386.8,73.2 388.0,75.0 388.6,76.6Z" fill="#a8a8a8"/>
<path d="M387.7,77.1C388.3,78.5 388.4,80.3 388.2,81.8C388.0,83.3 387.4,85.1 386.4,86.2C385.4,87.4 383.7,88.0 382.3,88.6C380.8,89.3 379.3,90.2 377.8,90.2C376.3,90.2 374.5,89.6 373.2,88.8C371.9,88.0 370.4,86.7 369.9,85.4C369.3,84.0 369.9,82.2 370.1,80.7C370.4,79.1 370.5,77.5 371.4,76.3C372.2,75.0 373.7,73.8 375.1,73.2C376.5,72.6 378.2,72.7 379.8,72.7C381.4,72.7 383.3,72.5 384.7,73.3C386.0,74.0 387.1,75.6 387.7,77.1Z" fill="none" stroke="#080808" stroke-width="1.7" filter="url(#b06)"/>
<path d="M388.6,76.6C389.3,78.2 389.5,80.2 389.3,81.8C389.0,83.5 388.4,85.5 387.3,86.8C386.2,88.1 384.2,88.7 382.6,89.4C381.0,90.2 379.3,91.2 377.7,91.2C376.0,91.2 374.1,90.5 372.6,89.6C371.1,88.7 369.4,87.3 368.9,85.8C368.3,84.3 368.9,82.3 369.2,80.6C369.5,78.9 369.6,77.1 370.6,75.7C371.5,74.4 373.1,72.9 374.6,72.3C376.2,71.6 378.1,71.8 379.9,71.8C381.6,71.8 383.8,71.6 385.3,72.4C386.8,73.2 388.0,75.0 388.6,76.6Z" fill="none" stroke="#fff" stroke-width="0.85"/>
<path d="M385.5,78.1C386.0,79.2 385.9,80.5 385.8,81.7C385.7,82.9 385.6,84.4 384.9,85.4C384.2,86.3 382.9,87.1 381.8,87.6C380.7,88.1 379.3,88.6 378.1,88.6C376.8,88.5 375.4,88.0 374.4,87.3C373.4,86.6 372.4,85.5 372.0,84.4C371.6,83.3 371.9,81.9 372.1,80.7C372.2,79.5 372.2,78.1 372.8,77.1C373.4,76.1 374.6,75.2 375.8,74.7C376.9,74.2 378.2,74.1 379.5,74.2C380.8,74.2 382.4,74.2 383.4,74.8C384.4,75.5 385.1,76.9 385.5,78.1Z" fill="#a8a8a8"/>
<path d="M384.6,78.5C385.0,79.5 385.0,80.6 384.9,81.7C384.8,82.7 384.6,83.9 384.1,84.8C383.5,85.6 382.4,86.3 381.4,86.7C380.4,87.2 379.2,87.6 378.2,87.5C377.1,87.5 375.9,87.1 375.0,86.5C374.1,85.9 373.3,84.9 372.9,83.9C372.6,83.0 372.9,81.8 373.0,80.8C373.1,79.7 373.1,78.5 373.6,77.7C374.2,76.8 375.2,76.0 376.2,75.6C377.1,75.2 378.3,75.1 379.4,75.1C380.5,75.1 381.9,75.1 382.7,75.7C383.6,76.3 384.3,77.5 384.6,78.5Z" fill="none" stroke="#080808" stroke-width="1.7" filter="url(#b06)"/>
<path d="M385.5,78.1C386.0,79.2 385.9,80.5 385.8,81.7C385.7,82.9 385.6,84.4 384.9,85.4C384.2,86.3 382.9,87.1 381.8,87.6C380.7,88.1 379.3,88.6 378.1,88.6C376.8,88.5 375.4,88.0 374.4,87.3C373.4,86.6 372.4,85.5 372.0,84.4C371.6,83.3 371.9,81.9 372.1,80.7C372.2,79.5 372.2,78.1 372.8,77.1C373.4,76.1 374.6,75.2 375.8,74.7C376.9,74.2 378.2,74.1 379.5,74.2C380.8,74.2 382.4,74.2 383.4,74.8C384.4,75.5 385.1,76.9 385.5,78.1Z" fill="none" stroke="#fff" stroke-width="0.85"/>
<path d="M383.0,79.2C383.3,79.9 383.2,80.8 383.1,81.6C383.0,82.3 383.0,83.2 382.5,83.8C382.1,84.4 381.3,84.7 380.6,85.1C379.9,85.4 379.1,85.9 378.4,85.9C377.6,85.9 376.8,85.4 376.2,85.0C375.5,84.5 374.8,83.9 374.6,83.2C374.3,82.5 374.6,81.6 374.7,80.8C374.8,80.1 374.8,79.3 375.2,78.7C375.6,78.1 376.2,77.5 376.9,77.1C377.6,76.8 378.4,76.7 379.2,76.7C380.0,76.8 380.9,76.9 381.5,77.3C382.2,77.7 382.8,78.5 383.0,79.2Z" fill="#a8a8a8"/>
<path d="M382.1,79.7C382.3,80.2 382.2,80.9 382.2,81.5C382.1,82.1 382.0,82.8 381.7,83.2C381.4,83.7 380.7,83.9 380.2,84.2C379.7,84.5 379.1,84.9 378.5,84.9C377.9,84.9 377.3,84.5 376.8,84.1C376.3,83.8 375.7,83.3 375.5,82.7C375.3,82.2 375.5,81.5 375.6,80.9C375.7,80.3 375.7,79.7 376.0,79.2C376.3,78.8 376.8,78.3 377.3,78.0C377.8,77.8 378.5,77.7 379.1,77.7C379.7,77.7 380.4,77.8 380.9,78.2C381.4,78.5 381.9,79.1 382.1,79.7Z" fill="none" stroke="#080808" stroke-width="1.7" filter="url(#b06)"/>
<path d="M383.0,79.2C383.3,79.9 383.2,80.8 383.1,81.6C383.0,82.3 383.0,83.2 382.5,83.8C382.1,84.4 381.3,84.7 380.6,85.1C379.9,85.4 379.1,85.9 378.4,85.9C377.6,85.9 376.8,85.4 376.2,85.0C375.5,84.5 374.8,83.9 374.6,83.2C374.3,82.5 374.6,81.6 374.7,80.8C374.8,80.1 374.8,79.3 375.2,78.7C375.6,78.1 376.2,77.5 376.9,77.1C377.6,76.8 378.4,76.7 379.2,76.7C380.0,76.8 380.9,76.9 381.5,77.3C382.2,77.7 382.8,78.5 383.0,79.2Z" fill="none" stroke="#fff" stroke-width="0.85"/>
<ellipse cx="378.8" cy="81.2" rx="2.25" ry="2.25" fill="#111" filter="url(#b06)"/>
<ellipse cx="375" cy="104.5" rx="2.5" ry="1.2" fill="#111"/>
<ellipse cx="401" cy="104.6" rx="2.2" ry="1.0" fill="#111"/>
</g>
<rect x="363.0" y="17.4" width="88.6" height="87.0" fill="none" stroke="#b4b4b4" stroke-width="1.1"/>
<line x1="387.6" y1="17.4" x2="387.6" y2="104.4" stroke="#999" stroke-width="1.2" stroke-linecap="butt"/>
<path d="M387.6,21.2 L417.6,21.2 L417.6,67.0 L387.6,67.0" fill="none" stroke="#999" stroke-width="1.2" />
<text x="363.9" y="113.3" font-size="5.7" text-anchor="middle" fill="#000">10<tspan font-size="3.99" dy="-2.56">0</tspan></text>
<text x="386.04999999999995" y="113.3" font-size="5.7" text-anchor="middle" fill="#000">10<tspan font-size="3.99" dy="-2.56">1</tspan></text>
<text x="408.2" y="113.3" font-size="5.7" text-anchor="middle" fill="#000">10<tspan font-size="3.99" dy="-2.56">2</tspan></text>
<text x="430.35" y="113.3" font-size="5.7" text-anchor="middle" fill="#000">10<tspan font-size="3.99" dy="-2.56">3</tspan></text>
<text x="452.5" y="113.3" font-size="5.7" text-anchor="middle" fill="#000">10<tspan font-size="3.99" dy="-2.56">4</tspan></text>
<text x="89.5" y="13.3" font-size="12.8" text-anchor="start" fill="#000">MHC<tspan font-size="7.68" dy="-4.61">-/-</tspan></text>
<text x="201.3" y="13.3" font-size="12.8" text-anchor="start" fill="#000">D<tspan font-size="7.68" dy="-4.86">b</tspan></text>
<text x="293.8" y="13.3" font-size="12.5" text-anchor="start" textLength="27.5" lengthAdjust="spacingAndGlyphs" fill="#000">K<tspan font-size="7.50" dy="-4.75">b</tspan><tspan dy="4.75">D</tspan><tspan font-size="7.50" dy="-4.75">b</tspan></text>
<text x="387.5" y="13.3" font-size="12.5" text-anchor="start" textLength="40.5" lengthAdjust="spacingAndGlyphs" fill="#000">K<tspan font-size="7.50" dy="-4.75">b</tspan><tspan dy="4.75">D</tspan><tspan font-size="7.50" dy="-4.75">b</tspan><tspan dy="4.75">D</tspan><tspan font-size="7.50" dy="-4.75">d</tspan></text>
<text x="119.5" y="38.8" font-size="11" text-anchor="start" fill="#000">8%</text>
<text x="223.8" y="38.8" font-size="11" text-anchor="start" fill="#000">12%</text>
<text x="323.8" y="38.8" font-size="11" text-anchor="start" fill="#000">17%</text>
<text x="423.8" y="38.8" font-size="11" text-anchor="start" fill="#000">22%</text>
<text x="106.5" y="100.5" font-size="11" text-anchor="start" fill="#000">21%</text>
<text x="212.2" y="100.5" font-size="11" text-anchor="start" fill="#000">28%</text>
<text x="310.8" y="100.5" font-size="11" text-anchor="start" fill="#000">28%</text>
<text x="408.8" y="100.5" font-size="11" text-anchor="start" fill="#000">38%</text>
<line x1="86.5" y1="98" x2="104" y2="98" stroke="#111" stroke-width="2.2" stroke-linecap="butt"/>
<path d="M99.0,92.9 L105,98 L99.0,103.1" fill="none" stroke="#111" stroke-width="2.2" />
<line x1="190.2" y1="97.3" x2="207.3" y2="97.3" stroke="#111" stroke-width="2.2" stroke-linecap="butt"/>
<path d="M202.3,92.2 L208.3,97.3 L202.3,102.39999999999999" fill="none" stroke="#111" stroke-width="2.2" />
<line x1="290.2" y1="97.3" x2="307.3" y2="97.3" stroke="#111" stroke-width="2.2" stroke-linecap="butt"/>
<path d="M302.3,92.2 L308.3,97.3 L302.3,102.39999999999999" fill="none" stroke="#111" stroke-width="2.2" />
<line x1="388.8" y1="97.3" x2="406" y2="97.3" stroke="#111" stroke-width="2.2" stroke-linecap="butt"/>
<path d="M401.0,92.2 L407,97.3 L401.0,102.39999999999999" fill="none" stroke="#111" stroke-width="2.2" />
<text x="396.8" y="125" font-size="12" text-anchor="start" textLength="55.8" lengthAdjust="spacingAndGlyphs" fill="#000">CD3<tspan font-size="7.44" dy="-4.56">-</tspan><tspan dy="4.56"> DX5</tspan><tspan font-size="7.44" dy="-4.56">+</tspan></text>
<line x1="375.3" y1="460.2" x2="375.3" y2="588.5" stroke="#000" stroke-width="1.4" stroke-linecap="butt"/>
<line x1="374.6" y1="587.8" x2="516" y2="587.8" stroke="#000" stroke-width="1.5" stroke-linecap="butt"/>
<line x1="371.8" y1="587.8" x2="375.3" y2="587.8" stroke="#000" stroke-width="1.3" stroke-linecap="butt"/>
<text x="368.90000000000003" y="591.6999999999999" font-size="11" text-anchor="end" fill="#000">0</text>
<line x1="371.8" y1="559.56" x2="375.3" y2="559.56" stroke="#000" stroke-width="1.3" stroke-linecap="butt"/>
<text x="368.90000000000003" y="563.4599999999999" font-size="11" text-anchor="end" fill="#000">2</text>
<line x1="371.8" y1="531.3199999999999" x2="375.3" y2="531.3199999999999" stroke="#000" stroke-width="1.3" stroke-linecap="butt"/>
<text x="368.90000000000003" y="535.2199999999999" font-size="11" text-anchor="end" fill="#000">4</text>
<line x1="371.8" y1="503.0799999999999" x2="375.3" y2="503.0799999999999" stroke="#000" stroke-width="1.3" stroke-linecap="butt"/>
<text x="368.90000000000003" y="506.9799999999999" font-size="11" text-anchor="end" fill="#000">6</text>
<line x1="371.8" y1="474.84" x2="375.3" y2="474.84" stroke="#000" stroke-width="1.3" stroke-linecap="butt"/>
<text x="368.90000000000003" y="478.73999999999995" font-size="11" text-anchor="end" fill="#000">8</text>
<line x1="410.5" y1="553" x2="481.2" y2="474.5" stroke="#000" stroke-width="1.6" stroke-linecap="butt"/>
<line x1="410.5" y1="542.5" x2="481.2" y2="526.2" stroke="#000" stroke-width="1.6" stroke-linecap="butt"/>
<line x1="410.5" y1="579.2" x2="481.2" y2="529.5" stroke="#000" stroke-width="1.6" stroke-linecap="butt"/>
<line x1="410.5" y1="570" x2="481.2" y2="551.2" stroke="#000" stroke-width="1.6" stroke-linecap="butt"/>
<line x1="410.5" y1="571.8" x2="481.2" y2="559.5" stroke="#000" stroke-width="1.6" stroke-linecap="butt"/>
<line x1="410.5" y1="576.2" x2="481.2" y2="560.5" stroke="#000" stroke-width="1.6" stroke-linecap="butt"/>
<line x1="410.5" y1="574.2" x2="481.2" y2="575.5" stroke="#000" stroke-width="1.6" stroke-linecap="butt"/>
<circle cx="410.5" cy="553" r="2.25" fill="#000"/>
<circle cx="481.2" cy="474.5" r="2.25" fill="#000"/>
<circle cx="410.5" cy="542.5" r="2.25" fill="#000"/>
<circle cx="481.2" cy="526.2" r="2.25" fill="#000"/>
<circle cx="410.5" cy="579.2" r="2.25" fill="#000"/>
<circle cx="481.2" cy="529.5" r="2.25" fill="#000"/>
<circle cx="410.5" cy="570" r="2.25" fill="#000"/>
<circle cx="481.2" cy="551.2" r="2.25" fill="#000"/>
<circle cx="410.5" cy="571.8" r="2.25" fill="#000"/>
<circle cx="481.2" cy="559.5" r="2.25" fill="#000"/>
<circle cx="410.5" cy="576.2" r="2.25" fill="#000"/>
<circle cx="481.2" cy="560.5" r="2.25" fill="#000"/>
<circle cx="410.5" cy="574.2" r="2.25" fill="#000"/>
<circle cx="481.2" cy="575.5" r="2.25" fill="#000"/>
<path d="M410.5,467.0 L410.5,461.2 L481.2,461.2 L481.2,467.0" fill="none" stroke="#000" stroke-width="1.5" />
<text x="443.8" y="462.58" font-size="18" text-anchor="middle" font-weight="bold" fill="#000">*</text>
<text x="405.5" y="600.5" font-size="12" text-anchor="start" fill="#000">D<tspan font-size="7.20" dy="-4.56">b</tspan></text>
<text x="475.0" y="600.5" font-size="12" text-anchor="start" fill="#000">D<tspan font-size="7.20" dy="-4.56">d</tspan></text>
<text x="392.1" y="442.5" font-size="12" text-anchor="start" textLength="107.8" lengthAdjust="spacingAndGlyphs" fill="#000">Tumor cell coculture</text>
<text x="338.7" y="539.3" font-size="12" text-anchor="start" textLength="46" lengthAdjust="spacingAndGlyphs" fill="#000" transform="rotate(-90 338.7 539.3)">%IFN-γ<tspan font-size="11.40" dy="-3.60">+</tspan></text>
<text x="353.1" y="577.6" font-size="12" text-anchor="start" textLength="120.6" lengthAdjust="spacingAndGlyphs" fill="#000" transform="rotate(-90 353.1 577.6)">Fold change vs. MHC<tspan font-size="6.96" dy="-4.56">-/-</tspan></text>
<text x="392.1" y="618" font-size="12" text-anchor="start" textLength="107.8" lengthAdjust="spacingAndGlyphs" fill="#000">Tumor cell coculture</text>
<line x1="375.9" y1="648.2" x2="375.9" y2="775.5" stroke="#000" stroke-width="1.4" stroke-linecap="butt"/>
<line x1="375.2" y1="774.8" x2="517" y2="774.8" stroke="#000" stroke-width="1.5" stroke-linecap="butt"/>
<line x1="372.4" y1="774.8" x2="375.9" y2="774.8" stroke="#000" stroke-width="1.3" stroke-linecap="butt"/>
<text x="369.5" y="778.6999999999999" font-size="11" text-anchor="end" fill="#000">0</text>
<line x1="372.4" y1="732.8" x2="375.9" y2="732.8" stroke="#000" stroke-width="1.3" stroke-linecap="butt"/>
<text x="369.5" y="736.6999999999999" font-size="11" text-anchor="end" fill="#000">1</text>
<line x1="372.4" y1="690.8" x2="375.9" y2="690.8" stroke="#000" stroke-width="1.3" stroke-linecap="butt"/>
<text x="369.5" y="694.6999999999999" font-size="11" text-anchor="end" fill="#000">2</text>
<line x1="372.4" y1="648.8" x2="375.9" y2="648.8" stroke="#000" stroke-width="1.3" stroke-linecap="butt"/>
<text x="369.5" y="652.6999999999999" font-size="11" text-anchor="end" fill="#000">3</text>
<line x1="410.5" y1="657" x2="481.2" y2="648" stroke="#000" stroke-width="1.6" stroke-linecap="butt"/>
<line x1="410.5" y1="720" x2="481.2" y2="699.2" stroke="#000" stroke-width="1.6" stroke-linecap="butt"/>
<line x1="410.5" y1="729.2" x2="481.2" y2="728.2" stroke="#000" stroke-width="1.6" stroke-linecap="butt"/>
<line x1="410.5" y1="734.5" x2="481.2" y2="720" stroke="#000" stroke-width="1.6" stroke-linecap="butt"/>
<line x1="410.5" y1="735.8" x2="481.2" y2="727" stroke="#000" stroke-width="1.6" stroke-linecap="butt"/>
<line x1="410.5" y1="750" x2="481.2" y2="730" stroke="#000" stroke-width="1.6" stroke-linecap="butt"/>
<circle cx="410.5" cy="657" r="2.25" fill="#000"/>
<circle cx="481.2" cy="648" r="2.25" fill="#000"/>
<circle cx="410.5" cy="720" r="2.25" fill="#000"/>
<circle cx="481.2" cy="699.2" r="2.25" fill="#000"/>
<circle cx="410.5" cy="729.2" r="2.25" fill="#000"/>
<circle cx="481.2" cy="728.2" r="2.25" fill="#000"/>
<circle cx="410.5" cy="734.5" r="2.25" fill="#000"/>
<circle cx="481.2" cy="720" r="2.25" fill="#000"/>
<circle cx="410.5" cy="735.8" r="2.25" fill="#000"/>
<circle cx="481.2" cy="727" r="2.25" fill="#000"/>
<circle cx="410.5" cy="750" r="2.25" fill="#000"/>
<circle cx="481.2" cy="730" r="2.25" fill="#000"/>
<line x1="410.5" y1="774.8" x2="410.5" y2="778.4" stroke="#000" stroke-width="1.2" stroke-linecap="butt"/>
<line x1="481.2" y1="774.8" x2="481.2" y2="778.4" stroke="#000" stroke-width="1.2" stroke-linecap="butt"/>
<path d="M410.5,642.0 L410.5,635.5 L481.2,635.5 L481.2,642.0" fill="none" stroke="#000" stroke-width="1.5" />
<text x="444.2" y="639.2800000000001" font-size="18" text-anchor="middle" font-weight="bold" fill="#000">*</text>
<text x="405.5" y="792" font-size="12" text-anchor="start" fill="#000">D<tspan font-size="7.20" dy="-4.56">b</tspan></text>
<text x="475.0" y="792" font-size="12" text-anchor="start" fill="#000">D<tspan font-size="7.20" dy="-4.56">d</tspan></text>
<text x="392.1" y="-100" font-size="12" text-anchor="start" textLength="107.8" lengthAdjust="spacingAndGlyphs" fill="#000">Tumor cell coculture</text>
<text x="343.1" y="750.6" font-size="12" text-anchor="start" textLength="83" lengthAdjust="spacingAndGlyphs" fill="#000" transform="rotate(-90 343.1 750.6)">GeoMFI IFN-γ<tspan font-size="11.40" dy="-3.60">+</tspan></text>
<text x="357.6" y="770.6" font-size="12" text-anchor="start" textLength="120" lengthAdjust="spacingAndGlyphs" fill="#000" transform="rotate(-90 357.6 770.6)">Fold change vs. MHC<tspan font-size="6.96" dy="-4.56">-/-</tspan></text>
<clipPath id="bc5"><path d="M115.6,475.3C116.5,475.3 117.4,475.4 118.3,475.6C119.1,475.7 120.1,476.1 120.8,476.4C121.5,476.7 122.1,477.1 122.7,477.4C123.4,477.7 124.4,477.6 124.8,478.1C125.2,478.6 124.9,479.7 125.0,480.5C125.1,481.2 125.2,481.9 125.4,482.8C125.6,483.7 125.8,484.7 126.0,485.6C126.2,486.6 126.2,487.5 126.5,488.5C126.8,489.5 127.2,490.7 127.5,491.9C127.7,493.0 128.0,494.3 128.0,495.4C128.0,496.5 127.4,497.3 127.3,498.3C127.1,499.2 127.3,500.1 127.1,501.2C126.9,502.3 126.4,503.5 126.2,504.6C126.0,505.8 126.1,507.0 125.9,508.1C125.7,509.2 125.3,510.0 125.0,511.0C124.8,512.0 124.6,512.9 124.2,513.9C123.8,514.9 123.1,515.8 122.5,516.8C121.9,517.8 121.4,518.8 120.8,519.7C120.2,520.6 119.6,521.4 118.9,522.2C118.2,522.9 117.3,523.6 116.7,524.3C116.1,525.0 115.8,525.6 115.2,526.1C114.7,526.6 113.6,526.6 113.2,527.2C112.8,527.8 112.8,529.0 112.6,529.9C112.4,530.8 112.1,532.6 111.8,532.6C111.5,532.6 111.3,530.9 111.1,530.1C110.8,529.3 110.7,528.0 110.2,527.7C109.7,527.4 108.8,528.3 108.1,528.4C107.3,528.5 106.6,528.3 105.8,528.3C105.0,528.3 104.0,528.4 103.1,528.6C102.3,528.8 101.2,529.7 100.6,529.5C100.0,529.3 99.8,528.2 99.5,527.5C99.2,526.9 99.1,526.2 98.8,525.4C98.5,524.6 98.0,523.6 97.7,522.6C97.4,521.7 97.3,520.7 97.1,519.7C96.9,518.7 96.5,517.8 96.4,516.8C96.3,515.9 96.3,514.9 96.5,513.9C96.7,512.9 97.3,512.1 97.5,511.1C97.7,510.1 97.4,509.1 97.7,508.1C98.0,507.1 98.7,506.3 99.0,505.3C99.4,504.4 99.6,503.4 100.0,502.4C100.4,501.4 100.9,500.6 101.2,499.6C101.5,498.6 101.5,497.4 101.7,496.6C101.9,495.8 102.1,495.5 102.2,494.9C102.3,494.3 102.7,493.6 102.5,493.1C102.3,492.6 101.5,492.5 101.1,492.1C100.8,491.7 100.3,491.0 100.4,490.6C100.5,490.2 101.4,490.0 101.9,489.7C102.4,489.5 103.0,489.6 103.5,489.1C104.0,488.6 104.4,487.4 104.9,486.5C105.4,485.6 105.8,484.8 106.3,483.9C106.8,483.0 107.2,481.8 107.8,480.8C108.3,479.9 109.2,478.7 109.8,478.1C110.4,477.5 111.0,477.7 111.5,477.3C112.0,476.9 112.0,476.1 112.7,475.8C113.4,475.5 114.7,475.3 115.6,475.3Z"/></clipPath>
<path d="M115.6,475.3C116.5,475.3 117.4,475.4 118.3,475.6C119.1,475.7 120.1,476.1 120.8,476.4C121.5,476.7 122.1,477.1 122.7,477.4C123.4,477.7 124.4,477.6 124.8,478.1C125.2,478.6 124.9,479.7 125.0,480.5C125.1,481.2 125.2,481.9 125.4,482.8C125.6,483.7 125.8,484.7 126.0,485.6C126.2,486.6 126.2,487.5 126.5,488.5C126.8,489.5 127.2,490.7 127.5,491.9C127.7,493.0 128.0,494.3 128.0,495.4C128.0,496.5 127.4,497.3 127.3,498.3C127.1,499.2 127.3,500.1 127.1,501.2C126.9,502.3 126.4,503.5 126.2,504.6C126.0,505.8 126.1,507.0 125.9,508.1C125.7,509.2 125.3,510.0 125.0,511.0C124.8,512.0 124.6,512.9 124.2,513.9C123.8,514.9 123.1,515.8 122.5,516.8C121.9,517.8 121.4,518.8 120.8,519.7C120.2,520.6 119.6,521.4 118.9,522.2C118.2,522.9 117.3,523.6 116.7,524.3C116.1,525.0 115.8,525.6 115.2,526.1C114.7,526.6 113.6,526.6 113.2,527.2C112.8,527.8 112.8,529.0 112.6,529.9C112.4,530.8 112.1,532.6 111.8,532.6C111.5,532.6 111.3,530.9 111.1,530.1C110.8,529.3 110.7,528.0 110.2,527.7C109.7,527.4 108.8,528.3 108.1,528.4C107.3,528.5 106.6,528.3 105.8,528.3C105.0,528.3 104.0,528.4 103.1,528.6C102.3,528.8 101.2,529.7 100.6,529.5C100.0,529.3 99.8,528.2 99.5,527.5C99.2,526.9 99.1,526.2 98.8,525.4C98.5,524.6 98.0,523.6 97.7,522.6C97.4,521.7 97.3,520.7 97.1,519.7C96.9,518.7 96.5,517.8 96.4,516.8C96.3,515.9 96.3,514.9 96.5,513.9C96.7,512.9 97.3,512.1 97.5,511.1C97.7,510.1 97.4,509.1 97.7,508.1C98.0,507.1 98.7,506.3 99.0,505.3C99.4,504.4 99.6,503.4 100.0,502.4C100.4,501.4 100.9,500.6 101.2,499.6C101.5,498.6 101.5,497.4 101.7,496.6C101.9,495.8 102.1,495.5 102.2,494.9C102.3,494.3 102.7,493.6 102.5,493.1C102.3,492.6 101.5,492.5 101.1,492.1C100.8,491.7 100.3,491.0 100.4,490.6C100.5,490.2 101.4,490.0 101.9,489.7C102.4,489.5 103.0,489.6 103.5,489.1C104.0,488.6 104.4,487.4 104.9,486.5C105.4,485.6 105.8,484.8 106.3,483.9C106.8,483.0 107.2,481.8 107.8,480.8C108.3,479.9 109.2,478.7 109.8,478.1C110.4,477.5 111.0,477.7 111.5,477.3C112.0,476.9 112.0,476.1 112.7,475.8C113.4,475.5 114.7,475.3 115.6,475.3Z" fill="#808080" stroke="#000" stroke-width="2.4" stroke-linejoin="round"/>
<g clip-path="url(#bc5)">
<path d="M115.6,475.3C116.5,475.3 117.4,475.4 118.3,475.6C119.1,475.7 120.1,476.1 120.8,476.4C121.5,476.7 122.1,477.1 122.7,477.4C123.4,477.7 124.4,477.6 124.8,478.1C125.2,478.6 124.9,479.7 125.0,480.5C125.1,481.2 125.2,481.9 125.4,482.8C125.6,483.7 125.8,484.7 126.0,485.6C126.2,486.6 126.2,487.5 126.5,488.5C126.8,489.5 127.2,490.7 127.5,491.9C127.7,493.0 128.0,494.3 128.0,495.4C128.0,496.5 127.4,497.3 127.3,498.3C127.1,499.2 127.3,500.1 127.1,501.2C126.9,502.3 126.4,503.5 126.2,504.6C126.0,505.8 126.1,507.0 125.9,508.1C125.7,509.2 125.3,510.0 125.0,511.0C124.8,512.0 124.6,512.9 124.2,513.9C123.8,514.9 123.1,515.8 122.5,516.8C121.9,517.8 121.4,518.8 120.8,519.7C120.2,520.6 119.6,521.4 118.9,522.2C118.2,522.9 117.3,523.6 116.7,524.3C116.1,525.0 115.8,525.6 115.2,526.1C114.7,526.6 113.6,526.6 113.2,527.2C112.8,527.8 112.8,529.0 112.6,529.9C112.4,530.8 112.1,532.6 111.8,532.6C111.5,532.6 111.3,530.9 111.1,530.1C110.8,529.3 110.7,528.0 110.2,527.7C109.7,527.4 108.8,528.3 108.1,528.4C107.3,528.5 106.6,528.3 105.8,528.3C105.0,528.3 104.0,528.4 103.1,528.6C102.3,528.8 101.2,529.7 100.6,529.5C100.0,529.3 99.8,528.2 99.5,527.5C99.2,526.9 99.1,526.2 98.8,525.4C98.5,524.6 98.0,523.6 97.7,522.6C97.4,521.7 97.3,520.7 97.1,519.7C96.9,518.7 96.5,517.8 96.4,516.8C96.3,515.9 96.3,514.9 96.5,513.9C96.7,512.9 97.3,512.1 97.5,511.1C97.7,510.1 97.4,509.1 97.7,508.1C98.0,507.1 98.7,506.3 99.0,505.3C99.4,504.4 99.6,503.4 100.0,502.4C100.4,501.4 100.9,500.6 101.2,499.6C101.5,498.6 101.5,497.4 101.7,496.6C101.9,495.8 102.1,495.5 102.2,494.9C102.3,494.3 102.7,493.6 102.5,493.1C102.3,492.6 101.5,492.5 101.1,492.1C100.8,491.7 100.3,491.0 100.4,490.6C100.5,490.2 101.4,490.0 101.9,489.7C102.4,489.5 103.0,489.6 103.5,489.1C104.0,488.6 104.4,487.4 104.9,486.5C105.4,485.6 105.8,484.8 106.3,483.9C106.8,483.0 107.2,481.8 107.8,480.8C108.3,479.9 109.2,478.7 109.8,478.1C110.4,477.5 111.0,477.7 111.5,477.3C112.0,476.9 112.0,476.1 112.7,475.8C113.4,475.5 114.7,475.3 115.6,475.3Z" fill="none" stroke="#060606" stroke-width="3.0" filter="url(#b08)"/>
<ellipse cx="101" cy="516" rx="2.5" ry="6" fill="#0a0a0a" opacity="1" filter="url(#soft3)" transform="rotate(10 101 516)"/>
<ellipse cx="104.5" cy="497" rx="1.8" ry="5" fill="#b0b0b0" opacity="0.8" filter="url(#soft3)" transform="rotate(15 104.5 497)"/>
</g>
<path d="M114.8,477.6C115.7,477.6 117.0,478.1 117.8,479.1C118.5,480.1 118.9,481.3 119.5,483.3C120.0,485.3 120.5,488.4 120.9,491.2C121.3,494.0 121.6,497.1 122.0,500.0C122.4,502.8 123.2,505.9 123.3,508.4C123.4,510.8 122.9,512.7 122.4,514.5C121.9,516.4 121.0,518.2 120.0,519.5C119.1,520.8 117.8,521.8 116.9,522.3C115.9,522.9 115.2,522.8 114.2,522.8C113.2,522.7 111.8,522.7 110.8,522.1C109.8,521.5 109.1,520.5 108.3,519.3C107.5,518.1 106.4,516.6 105.9,514.8C105.4,512.9 105.1,510.7 105.3,508.3C105.4,505.8 106.3,503.1 106.8,500.2C107.3,497.3 107.9,493.8 108.4,490.9C109.0,488.1 109.5,485.3 110.1,483.3C110.8,481.3 111.4,479.9 112.2,479.0C113.0,478.0 113.9,477.6 114.8,477.6Z" fill="#b4b4b4"/>
<path d="M114.8,478.7C115.7,478.7 116.9,479.2 117.6,480.1C118.3,481.0 118.7,482.2 119.2,484.1C119.7,486.0 120.2,489.0 120.6,491.7C121.0,494.3 121.3,497.3 121.6,500.0C122.0,502.7 122.8,505.7 122.9,508.0C122.9,510.3 122.5,512.1 122.0,513.9C121.5,515.6 120.7,517.3 119.8,518.5C118.9,519.8 117.7,520.7 116.8,521.3C115.8,521.8 115.2,521.7 114.2,521.7C113.2,521.7 111.9,521.6 111.0,521.1C110.0,520.5 109.4,519.6 108.6,518.4C107.8,517.2 106.8,515.8 106.3,514.1C105.9,512.3 105.6,510.2 105.7,507.9C105.9,505.6 106.6,502.9 107.1,500.2C107.6,497.4 108.2,494.1 108.7,491.4C109.3,488.7 109.7,486.0 110.3,484.1C110.9,482.2 111.6,480.9 112.3,480.0C113.0,479.1 113.9,478.6 114.8,478.7Z" fill="none" stroke="#050505" stroke-width="1.15" filter="url(#b06)"/>
<path d="M114.8,477.6C115.7,477.6 117.0,478.1 117.8,479.1C118.5,480.1 118.9,481.3 119.5,483.3C120.0,485.3 120.5,488.4 120.9,491.2C121.3,494.0 121.6,497.1 122.0,500.0C122.4,502.8 123.2,505.9 123.3,508.4C123.4,510.8 122.9,512.7 122.4,514.5C121.9,516.4 121.0,518.2 120.0,519.5C119.1,520.8 117.8,521.8 116.9,522.3C115.9,522.9 115.2,522.8 114.2,522.8C113.2,522.7 111.8,522.7 110.8,522.1C109.8,521.5 109.1,520.5 108.3,519.3C107.5,518.1 106.4,516.6 105.9,514.8C105.4,512.9 105.1,510.7 105.3,508.3C105.4,505.8 106.3,503.1 106.8,500.2C107.3,497.3 107.9,493.8 108.4,490.9C109.0,488.1 109.5,485.3 110.1,483.3C110.8,481.3 111.4,479.9 112.2,479.0C113.0,478.0 113.9,477.6 114.8,477.6Z" fill="none" stroke="#fff" stroke-width="0.85"/>
<path d="M115.2,479.6C115.8,479.6 116.4,480.2 116.9,481.1C117.5,482.0 118.1,483.4 118.5,485.2C118.8,487.0 118.8,489.4 119.2,491.9C119.5,494.5 120.2,497.8 120.6,500.4C121.0,503.0 121.6,505.5 121.6,507.7C121.6,509.9 121.3,512.0 120.8,513.6C120.4,515.3 119.5,516.6 118.8,517.7C118.1,518.9 117.4,519.8 116.6,520.3C115.8,520.9 114.9,521.1 114.0,521.0C113.1,521.0 112.2,520.6 111.4,520.0C110.6,519.5 110.1,518.7 109.4,517.6C108.8,516.6 107.9,515.2 107.5,513.6C107.2,511.9 107.2,510.1 107.4,507.8C107.5,505.6 108.0,502.9 108.4,500.3C108.9,497.7 109.5,494.7 110.1,492.2C110.6,489.6 111.0,486.8 111.5,484.9C112.0,483.1 112.5,481.9 113.1,481.0C113.7,480.1 114.5,479.6 115.2,479.6Z" fill="#b4b4b4"/>
<path d="M115.1,480.7C115.7,480.7 116.3,481.2 116.8,482.1C117.3,483.0 117.9,484.3 118.2,486.0C118.6,487.7 118.6,490.0 118.9,492.4C119.3,494.8 119.9,497.9 120.3,500.4C120.7,502.9 121.2,505.2 121.2,507.3C121.2,509.4 120.9,511.3 120.5,512.9C120.0,514.5 119.2,515.7 118.5,516.8C117.9,517.9 117.2,518.7 116.5,519.3C115.7,519.8 114.9,520.0 114.0,519.9C113.2,519.9 112.3,519.5 111.6,519.0C110.8,518.4 110.3,517.7 109.7,516.7C109.1,515.7 108.2,514.4 107.9,512.9C107.6,511.3 107.6,509.5 107.8,507.4C107.9,505.3 108.3,502.7 108.7,500.3C109.2,497.8 109.8,495.0 110.3,492.6C110.8,490.2 111.2,487.5 111.7,485.7C112.2,484.0 112.6,482.9 113.1,482.0C113.7,481.2 114.5,480.7 115.1,480.7Z" fill="none" stroke="#050505" stroke-width="1.15" filter="url(#b06)"/>
<path d="M115.2,479.6C115.8,479.6 116.4,480.2 116.9,481.1C117.5,482.0 118.1,483.4 118.5,485.2C118.8,487.0 118.8,489.4 119.2,491.9C119.5,494.5 120.2,497.8 120.6,500.4C121.0,503.0 121.6,505.5 121.6,507.7C121.6,509.9 121.3,512.0 120.8,513.6C120.4,515.3 119.5,516.6 118.8,517.7C118.1,518.9 117.4,519.8 116.6,520.3C115.8,520.9 114.9,521.1 114.0,521.0C113.1,521.0 112.2,520.6 111.4,520.0C110.6,519.5 110.1,518.7 109.4,517.6C108.8,516.6 107.9,515.2 107.5,513.6C107.2,511.9 107.2,510.1 107.4,507.8C107.5,505.6 108.0,502.9 108.4,500.3C108.9,497.7 109.5,494.7 110.1,492.2C110.6,489.6 111.0,486.8 111.5,484.9C112.0,483.1 112.5,481.9 113.1,481.0C113.7,480.1 114.5,479.6 115.2,479.6Z" fill="none" stroke="#fff" stroke-width="0.85"/>
<path d="M114.8,481.9C115.2,481.9 115.9,482.6 116.3,483.3C116.7,484.1 116.7,484.8 116.9,486.5C117.2,488.1 117.5,490.9 117.9,493.2C118.2,495.5 118.7,498.1 119.0,500.4C119.3,502.7 119.8,504.9 119.8,507.0C119.8,509.0 119.4,511.0 119.1,512.5C118.7,514.0 118.3,515.0 117.7,516.0C117.2,517.0 116.3,517.8 115.7,518.3C115.1,518.7 114.8,518.7 114.2,518.8C113.7,518.8 113.0,518.9 112.4,518.4C111.8,518.0 111.2,517.2 110.7,516.1C110.2,515.1 109.7,513.8 109.5,512.3C109.2,510.8 109.0,509.0 109.1,507.1C109.1,505.1 109.5,503.0 109.9,500.6C110.3,498.2 111.1,495.1 111.6,492.8C112.0,490.5 112.4,488.2 112.8,486.6C113.1,485.0 113.5,484.0 113.8,483.2C114.1,482.4 114.4,481.9 114.8,481.9Z" fill="#b4b4b4"/>
<path d="M114.8,483.0C115.1,483.0 115.9,483.6 116.2,484.4C116.5,485.1 116.5,485.8 116.8,487.3C117.0,488.9 117.3,491.4 117.7,493.6C118.0,495.8 118.4,498.3 118.7,500.4C119.0,502.6 119.5,504.7 119.5,506.5C119.5,508.4 119.1,510.4 118.8,511.8C118.5,513.2 118.1,514.1 117.5,515.0C117.0,515.9 116.2,516.7 115.6,517.2C115.1,517.6 114.8,517.6 114.2,517.6C113.7,517.6 113.0,517.7 112.5,517.3C111.9,516.9 111.4,516.1 110.9,515.2C110.4,514.2 110.0,513.0 109.8,511.6C109.5,510.2 109.3,508.5 109.4,506.6C109.5,504.8 109.8,502.8 110.2,500.6C110.6,498.3 111.3,495.4 111.7,493.3C112.2,491.1 112.5,489.0 112.9,487.5C113.2,486.0 113.5,485.0 113.8,484.2C114.1,483.5 114.4,483.0 114.8,483.0Z" fill="none" stroke="#050505" stroke-width="1.15" filter="url(#b06)"/>
<path d="M114.8,481.9C115.2,481.9 115.9,482.6 116.3,483.3C116.7,484.1 116.7,484.8 116.9,486.5C117.2,488.1 117.5,490.9 117.9,493.2C118.2,495.5 118.7,498.1 119.0,500.4C119.3,502.7 119.8,504.9 119.8,507.0C119.8,509.0 119.4,511.0 119.1,512.5C118.7,514.0 118.3,515.0 117.7,516.0C117.2,517.0 116.3,517.8 115.7,518.3C115.1,518.7 114.8,518.7 114.2,518.8C113.7,518.8 113.0,518.9 112.4,518.4C111.8,518.0 111.2,517.2 110.7,516.1C110.2,515.1 109.7,513.8 109.5,512.3C109.2,510.8 109.0,509.0 109.1,507.1C109.1,505.1 109.5,503.0 109.9,500.6C110.3,498.2 111.1,495.1 111.6,492.8C112.0,490.5 112.4,488.2 112.8,486.6C113.1,485.0 113.5,484.0 113.8,483.2C114.1,482.4 114.4,481.9 114.8,481.9Z" fill="none" stroke="#fff" stroke-width="0.85"/>
<path d="M114.8,483.5C115.1,483.5 115.5,483.8 115.8,484.2C116.1,484.5 116.2,484.9 116.4,485.6C116.5,486.4 116.6,487.4 116.6,488.4C116.7,489.5 116.8,490.7 116.8,491.8C116.9,492.8 116.9,493.8 116.9,494.7C116.9,495.6 116.8,496.4 116.7,497.0C116.6,497.7 116.4,498.2 116.2,498.7C116.0,499.1 115.8,499.5 115.5,499.7C115.3,499.9 115.0,500.0 114.8,500.0C114.6,500.0 114.3,499.9 114.1,499.7C113.8,499.5 113.6,499.1 113.4,498.7C113.2,498.2 113.0,497.7 112.9,497.0C112.8,496.4 112.7,495.6 112.7,494.7C112.7,493.8 112.7,492.8 112.8,491.8C112.8,490.7 112.9,489.5 113.0,488.4C113.0,487.4 113.1,486.4 113.2,485.6C113.4,484.9 113.5,484.5 113.8,484.2C114.1,483.8 114.5,483.5 114.8,483.5Z" fill="#8a8a8a"/>
<path d="M114.8,484.3C115.1,484.3 115.5,484.5 115.7,484.9C115.9,485.2 116.1,485.5 116.2,486.2C116.3,486.8 116.4,487.8 116.4,488.7C116.5,489.6 116.6,490.7 116.6,491.7C116.7,492.6 116.7,493.6 116.7,494.3C116.7,495.1 116.6,495.8 116.5,496.4C116.4,497.0 116.3,497.5 116.1,497.9C115.9,498.3 115.7,498.6 115.4,498.8C115.2,499.0 115.0,499.1 114.8,499.1C114.6,499.1 114.4,499.0 114.2,498.8C113.9,498.6 113.7,498.3 113.5,497.9C113.3,497.5 113.2,497.0 113.1,496.4C113.0,495.8 112.9,495.1 112.9,494.3C112.9,493.6 112.9,492.6 113.0,491.7C113.0,490.7 113.1,489.6 113.2,488.7C113.2,487.8 113.3,486.8 113.4,486.2C113.5,485.5 113.7,485.2 113.9,484.9C114.1,484.5 114.5,484.3 114.8,484.3Z" fill="none" stroke="#0c0c0c" stroke-width="0.9" filter="url(#b06)"/>
<path d="M114.8,483.5C115.1,483.5 115.5,483.8 115.8,484.2C116.1,484.5 116.2,484.9 116.4,485.6C116.5,486.4 116.6,487.4 116.6,488.4C116.7,489.5 116.8,490.7 116.8,491.8C116.9,492.8 116.9,493.8 116.9,494.7C116.9,495.6 116.8,496.4 116.7,497.0C116.6,497.7 116.4,498.2 116.2,498.7C116.0,499.1 115.8,499.5 115.5,499.7C115.3,499.9 115.0,500.0 114.8,500.0C114.6,500.0 114.3,499.9 114.1,499.7C113.8,499.5 113.6,499.1 113.4,498.7C113.2,498.2 113.0,497.7 112.9,497.0C112.8,496.4 112.7,495.6 112.7,494.7C112.7,493.8 112.7,492.8 112.8,491.8C112.8,490.7 112.9,489.5 113.0,488.4C113.0,487.4 113.1,486.4 113.2,485.6C113.4,484.9 113.5,484.5 113.8,484.2C114.1,483.8 114.5,483.5 114.8,483.5Z" fill="none" stroke="#fff" stroke-width="0.85"/>
<ellipse cx="114.8" cy="486.8" rx="0.6" ry="0.6" fill="#e8e8e8" stroke="#fff" stroke-width="0.5"/>
<ellipse cx="115" cy="491.4" rx="0.6" ry="0.6" fill="#e8e8e8" stroke="#fff" stroke-width="0.5"/>
<ellipse cx="114.8" cy="495.4" rx="0.5" ry="0.5" fill="#e8e8e8" stroke="#fff" stroke-width="0.5"/>
<ellipse cx="113.9" cy="511.3" rx="1.7" ry="4.2" fill="#111" filter="url(#b06)" transform="rotate(0 113.9 511.3)"/>
<clipPath id="bc6"><path d="M209.6,470.7C210.2,470.8 210.4,471.6 210.8,471.9C211.3,472.2 212.1,471.9 212.5,472.4C212.9,472.9 213.2,474.2 213.4,475.2C213.6,476.1 213.4,477.0 213.6,478.1C213.8,479.2 214.4,480.4 214.6,481.5C214.8,482.7 214.8,483.9 214.8,485.1C214.8,486.3 214.7,487.5 214.9,488.6C215.1,489.8 215.7,490.8 215.9,492.0C216.1,493.2 216.0,494.7 215.9,496.1C215.9,497.4 215.4,498.8 215.4,500.1C215.4,501.4 215.7,502.8 215.7,504.1C215.7,505.4 215.5,506.8 215.4,508.1C215.3,509.4 215.1,510.8 215.0,512.1C214.9,513.5 215.0,515.0 214.8,516.2C214.6,517.4 214.0,518.2 213.5,519.2C213.0,520.1 212.6,521.2 211.9,522.0C211.2,522.8 210.1,523.1 209.4,523.7C208.6,524.4 208.1,525.3 207.3,526.0C206.5,526.7 205.7,527.2 204.8,527.7C204.0,528.1 202.9,528.6 202.1,528.9C201.3,529.2 200.7,529.3 200.1,529.7C199.5,530.1 199.2,531.0 198.6,531.2C198.0,531.4 197.2,531.2 196.6,531.1C195.9,531.0 195.3,530.8 194.6,530.6C193.9,530.4 193.1,529.9 192.3,529.7C191.6,529.4 190.6,529.4 190.0,528.9C189.4,528.4 189.4,527.2 188.9,526.4C188.4,525.6 187.5,525.2 187.1,524.3C186.7,523.4 186.7,522.0 186.4,520.8C186.1,519.7 185.6,518.6 185.4,517.4C185.2,516.2 185.6,515.0 185.5,513.9C185.4,512.7 184.7,511.5 184.8,510.4C184.9,509.3 185.5,508.1 185.8,507.0C186.1,505.8 186.3,504.6 186.5,503.5C186.7,502.4 186.7,501.5 187.0,500.5C187.3,499.6 187.9,498.6 188.3,497.8C188.7,497.0 189.0,496.3 189.2,495.5C189.4,494.7 189.2,493.8 189.4,493.1C189.6,492.4 190.2,492.0 190.6,491.4C191.0,490.9 191.6,490.3 191.7,489.7C191.8,489.1 191.3,488.6 191.1,488.0C191.0,487.4 190.7,486.8 190.9,486.2C191.1,485.6 191.7,484.9 192.2,484.3C192.8,483.7 193.4,483.4 194.0,482.8C194.6,482.2 195.2,481.4 195.7,480.6C196.2,479.8 196.5,478.9 196.9,478.1C197.3,477.3 197.9,476.6 198.4,475.8C198.9,475.1 199.2,474.0 199.8,473.5C200.4,473.0 201.5,473.1 202.3,472.7C203.0,472.3 203.6,471.5 204.4,471.2C205.2,470.9 206.2,471.3 207.0,471.2C207.9,471.1 209.0,470.6 209.6,470.7Z"/></clipPath>
<path d="M209.6,470.7C210.2,470.8 210.4,471.6 210.8,471.9C211.3,472.2 212.1,471.9 212.5,472.4C212.9,472.9 213.2,474.2 213.4,475.2C213.6,476.1 213.4,477.0 213.6,478.1C213.8,479.2 214.4,480.4 214.6,481.5C214.8,482.7 214.8,483.9 214.8,485.1C214.8,486.3 214.7,487.5 214.9,488.6C215.1,489.8 215.7,490.8 215.9,492.0C216.1,493.2 216.0,494.7 215.9,496.1C215.9,497.4 215.4,498.8 215.4,500.1C215.4,501.4 215.7,502.8 215.7,504.1C215.7,505.4 215.5,506.8 215.4,508.1C215.3,509.4 215.1,510.8 215.0,512.1C214.9,513.5 215.0,515.0 214.8,516.2C214.6,517.4 214.0,518.2 213.5,519.2C213.0,520.1 212.6,521.2 211.9,522.0C211.2,522.8 210.1,523.1 209.4,523.7C208.6,524.4 208.1,525.3 207.3,526.0C206.5,526.7 205.7,527.2 204.8,527.7C204.0,528.1 202.9,528.6 202.1,528.9C201.3,529.2 200.7,529.3 200.1,529.7C199.5,530.1 199.2,531.0 198.6,531.2C198.0,531.4 197.2,531.2 196.6,531.1C195.9,531.0 195.3,530.8 194.6,530.6C193.9,530.4 193.1,529.9 192.3,529.7C191.6,529.4 190.6,529.4 190.0,528.9C189.4,528.4 189.4,527.2 188.9,526.4C188.4,525.6 187.5,525.2 187.1,524.3C186.7,523.4 186.7,522.0 186.4,520.8C186.1,519.7 185.6,518.6 185.4,517.4C185.2,516.2 185.6,515.0 185.5,513.9C185.4,512.7 184.7,511.5 184.8,510.4C184.9,509.3 185.5,508.1 185.8,507.0C186.1,505.8 186.3,504.6 186.5,503.5C186.7,502.4 186.7,501.5 187.0,500.5C187.3,499.6 187.9,498.6 188.3,497.8C188.7,497.0 189.0,496.3 189.2,495.5C189.4,494.7 189.2,493.8 189.4,493.1C189.6,492.4 190.2,492.0 190.6,491.4C191.0,490.9 191.6,490.3 191.7,489.7C191.8,489.1 191.3,488.6 191.1,488.0C191.0,487.4 190.7,486.8 190.9,486.2C191.1,485.6 191.7,484.9 192.2,484.3C192.8,483.7 193.4,483.4 194.0,482.8C194.6,482.2 195.2,481.4 195.7,480.6C196.2,479.8 196.5,478.9 196.9,478.1C197.3,477.3 197.9,476.6 198.4,475.8C198.9,475.1 199.2,474.0 199.8,473.5C200.4,473.0 201.5,473.1 202.3,472.7C203.0,472.3 203.6,471.5 204.4,471.2C205.2,470.9 206.2,471.3 207.0,471.2C207.9,471.1 209.0,470.6 209.6,470.7Z" fill="#808080" stroke="#000" stroke-width="2.4" stroke-linejoin="round"/>
<g clip-path="url(#bc6)">
<path d="M209.6,470.7C210.2,470.8 210.4,471.6 210.8,471.9C211.3,472.2 212.1,471.9 212.5,472.4C212.9,472.9 213.2,474.2 213.4,475.2C213.6,476.1 213.4,477.0 213.6,478.1C213.8,479.2 214.4,480.4 214.6,481.5C214.8,482.7 214.8,483.9 214.8,485.1C214.8,486.3 214.7,487.5 214.9,488.6C215.1,489.8 215.7,490.8 215.9,492.0C216.1,493.2 216.0,494.7 215.9,496.1C215.9,497.4 215.4,498.8 215.4,500.1C215.4,501.4 215.7,502.8 215.7,504.1C215.7,505.4 215.5,506.8 215.4,508.1C215.3,509.4 215.1,510.8 215.0,512.1C214.9,513.5 215.0,515.0 214.8,516.2C214.6,517.4 214.0,518.2 213.5,519.2C213.0,520.1 212.6,521.2 211.9,522.0C211.2,522.8 210.1,523.1 209.4,523.7C208.6,524.4 208.1,525.3 207.3,526.0C206.5,526.7 205.7,527.2 204.8,527.7C204.0,528.1 202.9,528.6 202.1,528.9C201.3,529.2 200.7,529.3 200.1,529.7C199.5,530.1 199.2,531.0 198.6,531.2C198.0,531.4 197.2,531.2 196.6,531.1C195.9,531.0 195.3,530.8 194.6,530.6C193.9,530.4 193.1,529.9 192.3,529.7C191.6,529.4 190.6,529.4 190.0,528.9C189.4,528.4 189.4,527.2 188.9,526.4C188.4,525.6 187.5,525.2 187.1,524.3C186.7,523.4 186.7,522.0 186.4,520.8C186.1,519.7 185.6,518.6 185.4,517.4C185.2,516.2 185.6,515.0 185.5,513.9C185.4,512.7 184.7,511.5 184.8,510.4C184.9,509.3 185.5,508.1 185.8,507.0C186.1,505.8 186.3,504.6 186.5,503.5C186.7,502.4 186.7,501.5 187.0,500.5C187.3,499.6 187.9,498.6 188.3,497.8C188.7,497.0 189.0,496.3 189.2,495.5C189.4,494.7 189.2,493.8 189.4,493.1C189.6,492.4 190.2,492.0 190.6,491.4C191.0,490.9 191.6,490.3 191.7,489.7C191.8,489.1 191.3,488.6 191.1,488.0C191.0,487.4 190.7,486.8 190.9,486.2C191.1,485.6 191.7,484.9 192.2,484.3C192.8,483.7 193.4,483.4 194.0,482.8C194.6,482.2 195.2,481.4 195.7,480.6C196.2,479.8 196.5,478.9 196.9,478.1C197.3,477.3 197.9,476.6 198.4,475.8C198.9,475.1 199.2,474.0 199.8,473.5C200.4,473.0 201.5,473.1 202.3,472.7C203.0,472.3 203.6,471.5 204.4,471.2C205.2,470.9 206.2,471.3 207.0,471.2C207.9,471.1 209.0,470.6 209.6,470.7Z" fill="none" stroke="#060606" stroke-width="3.0" filter="url(#b08)"/>
<ellipse cx="190.5" cy="520" rx="3" ry="6" fill="#0a0a0a" opacity="1" filter="url(#soft3)" transform="rotate(10 190.5 520)"/>
<ellipse cx="193" cy="498" rx="1.8" ry="6" fill="#b0b0b0" opacity="0.8" filter="url(#soft3)" transform="rotate(15 193 498)"/>
</g>
<path d="M204.8,476.4C205.7,476.4 206.4,476.9 207.2,477.9C207.9,478.9 208.8,480.4 209.4,482.5C209.9,484.6 210.1,487.5 210.4,490.4C210.8,493.4 211.1,497.1 211.4,500.2C211.7,503.2 212.1,506.0 212.0,508.5C212.0,511.1 211.6,513.4 211.1,515.3C210.7,517.3 210.0,519.1 209.2,520.4C208.4,521.7 207.4,522.5 206.4,523.1C205.5,523.6 204.4,523.9 203.4,523.9C202.4,523.8 201.3,523.4 200.4,522.8C199.5,522.2 198.6,521.3 197.9,520.1C197.2,518.9 196.4,517.5 196.0,515.6C195.6,513.7 195.5,511.4 195.6,508.7C195.7,506.1 196.1,502.9 196.5,499.9C196.9,496.8 197.5,493.2 198.1,490.4C198.6,487.5 199.1,484.7 199.7,482.7C200.3,480.6 200.9,479.0 201.8,478.0C202.6,476.9 203.9,476.4 204.8,476.4Z" fill="#b4b4b4"/>
<path d="M204.8,477.5C205.6,477.5 206.3,478.0 207.0,478.9C207.8,479.9 208.6,481.3 209.1,483.3C209.6,485.3 209.8,488.1 210.1,490.9C210.4,493.7 210.8,497.3 211.1,500.2C211.3,503.0 211.7,505.7 211.7,508.1C211.6,510.6 211.2,512.7 210.8,514.6C210.3,516.5 209.7,518.3 208.9,519.5C208.2,520.7 207.2,521.5 206.3,522.0C205.4,522.6 204.4,522.8 203.4,522.8C202.4,522.7 201.4,522.4 200.6,521.8C199.7,521.2 198.9,520.3 198.2,519.2C197.5,518.0 196.7,516.7 196.4,514.9C196.0,513.1 195.9,510.8 196.0,508.3C196.1,505.8 196.5,502.8 196.9,499.9C197.3,497.0 197.8,493.5 198.3,490.8C198.8,488.1 199.3,485.4 199.9,483.5C200.5,481.5 201.1,480.0 201.9,479.0C202.7,478.0 203.9,477.5 204.8,477.5Z" fill="none" stroke="#050505" stroke-width="1.15" filter="url(#b06)"/>
<path d="M204.8,476.4C205.7,476.4 206.4,476.9 207.2,477.9C207.9,478.9 208.8,480.4 209.4,482.5C209.9,484.6 210.1,487.5 210.4,490.4C210.8,493.4 211.1,497.1 211.4,500.2C211.7,503.2 212.1,506.0 212.0,508.5C212.0,511.1 211.6,513.4 211.1,515.3C210.7,517.3 210.0,519.1 209.2,520.4C208.4,521.7 207.4,522.5 206.4,523.1C205.5,523.6 204.4,523.9 203.4,523.9C202.4,523.8 201.3,523.4 200.4,522.8C199.5,522.2 198.6,521.3 197.9,520.1C197.2,518.9 196.4,517.5 196.0,515.6C195.6,513.7 195.5,511.4 195.6,508.7C195.7,506.1 196.1,502.9 196.5,499.9C196.9,496.8 197.5,493.2 198.1,490.4C198.6,487.5 199.1,484.7 199.7,482.7C200.3,480.6 200.9,479.0 201.8,478.0C202.6,476.9 203.9,476.4 204.8,476.4Z" fill="none" stroke="#fff" stroke-width="0.85"/>
<path d="M204.8,478.5C205.5,478.6 206.2,479.4 206.7,480.3C207.3,481.3 207.8,482.3 208.1,484.2C208.4,486.1 208.5,489.1 208.8,491.7C209.1,494.4 209.7,497.3 209.9,500.0C210.2,502.8 210.4,505.8 210.4,508.2C210.3,510.5 209.9,512.4 209.5,514.2C209.1,515.9 208.5,517.5 207.9,518.7C207.2,519.9 206.4,520.7 205.6,521.3C204.9,521.9 204.0,522.2 203.3,522.2C202.6,522.2 202.1,521.7 201.4,521.1C200.7,520.5 199.8,519.9 199.1,518.7C198.5,517.6 198.1,515.9 197.8,514.1C197.5,512.4 197.1,510.3 197.2,508.0C197.3,505.6 198.0,502.8 198.4,500.0C198.8,497.3 199.4,494.0 199.8,491.4C200.3,488.7 200.6,485.8 201.1,484.0C201.6,482.1 202.1,481.2 202.7,480.2C203.3,479.3 204.1,478.5 204.8,478.5Z" fill="#b4b4b4"/>
<path d="M204.8,479.7C205.4,479.7 206.1,480.5 206.6,481.4C207.1,482.3 207.6,483.2 207.9,485.0C208.2,486.8 208.2,489.7 208.5,492.2C208.8,494.7 209.4,497.4 209.6,500.0C209.9,502.6 210.1,505.5 210.0,507.7C210.0,510.0 209.6,511.8 209.2,513.4C208.9,515.1 208.3,516.6 207.7,517.8C207.1,518.9 206.3,519.7 205.5,520.2C204.8,520.7 204.0,521.1 203.4,521.1C202.7,521.0 202.2,520.6 201.6,520.0C200.9,519.5 200.0,518.9 199.4,517.8C198.8,516.7 198.4,515.1 198.1,513.4C197.8,511.7 197.4,509.8 197.5,507.6C197.6,505.3 198.3,502.7 198.7,500.0C199.1,497.4 199.6,494.4 200.0,491.8C200.5,489.3 200.8,486.6 201.3,484.8C201.7,483.0 202.2,482.1 202.8,481.3C203.4,480.4 204.1,479.6 204.8,479.7Z" fill="none" stroke="#050505" stroke-width="1.15" filter="url(#b06)"/>
<path d="M204.8,478.5C205.5,478.6 206.2,479.4 206.7,480.3C207.3,481.3 207.8,482.3 208.1,484.2C208.4,486.1 208.5,489.1 208.8,491.7C209.1,494.4 209.7,497.3 209.9,500.0C210.2,502.8 210.4,505.8 210.4,508.2C210.3,510.5 209.9,512.4 209.5,514.2C209.1,515.9 208.5,517.5 207.9,518.7C207.2,519.9 206.4,520.7 205.6,521.3C204.9,521.9 204.0,522.2 203.3,522.2C202.6,522.2 202.1,521.7 201.4,521.1C200.7,520.5 199.8,519.9 199.1,518.7C198.5,517.6 198.1,515.9 197.8,514.1C197.5,512.4 197.1,510.3 197.2,508.0C197.3,505.6 198.0,502.8 198.4,500.0C198.8,497.3 199.4,494.0 199.8,491.4C200.3,488.7 200.6,485.8 201.1,484.0C201.6,482.1 202.1,481.2 202.7,480.2C203.3,479.3 204.1,478.5 204.8,478.5Z" fill="none" stroke="#fff" stroke-width="0.85"/>
<path d="M204.6,480.6C205.1,480.6 205.6,481.4 205.9,482.2C206.3,483.0 206.4,483.8 206.6,485.6C206.9,487.3 207.1,490.2 207.4,492.6C207.6,495.1 207.9,497.6 208.1,500.1C208.3,502.6 208.6,505.4 208.6,507.5C208.7,509.6 208.4,511.2 208.1,512.8C207.8,514.3 207.3,515.6 206.8,516.6C206.3,517.7 205.7,518.5 205.1,519.1C204.5,519.7 203.8,520.2 203.3,520.2C202.7,520.2 202.1,519.8 201.6,519.2C201.2,518.6 200.9,517.7 200.5,516.7C200.1,515.7 199.4,514.6 199.1,513.1C198.9,511.6 198.9,509.6 199.0,507.5C199.1,505.4 199.4,502.7 199.7,500.2C200.0,497.7 200.6,494.9 200.9,492.5C201.3,490.1 201.6,487.7 202.0,485.9C202.3,484.2 202.6,483.2 203.0,482.3C203.5,481.4 204.1,480.6 204.6,480.6Z" fill="#b4b4b4"/>
<path d="M204.6,481.7C205.0,481.7 205.5,482.5 205.8,483.3C206.1,484.0 206.2,484.8 206.5,486.4C206.7,488.1 207.0,490.8 207.2,493.1C207.4,495.4 207.7,497.8 207.9,500.1C208.1,502.4 208.4,505.1 208.4,507.1C208.4,509.1 208.2,510.6 207.9,512.0C207.6,513.4 207.1,514.7 206.6,515.7C206.2,516.7 205.6,517.4 205.0,518.0C204.5,518.5 203.9,519.0 203.3,519.0C202.8,519.0 202.2,518.6 201.8,518.1C201.3,517.6 201.1,516.7 200.7,515.7C200.3,514.8 199.7,513.8 199.4,512.3C199.2,510.9 199.2,509.1 199.3,507.1C199.4,505.0 199.7,502.6 200.0,500.2C200.3,497.9 200.8,495.2 201.1,493.0C201.5,490.7 201.8,488.4 202.1,486.8C202.4,485.2 202.7,484.2 203.1,483.3C203.5,482.5 204.1,481.8 204.6,481.7Z" fill="none" stroke="#050505" stroke-width="1.15" filter="url(#b06)"/>
<path d="M204.6,480.6C205.1,480.6 205.6,481.4 205.9,482.2C206.3,483.0 206.4,483.8 206.6,485.6C206.9,487.3 207.1,490.2 207.4,492.6C207.6,495.1 207.9,497.6 208.1,500.1C208.3,502.6 208.6,505.4 208.6,507.5C208.7,509.6 208.4,511.2 208.1,512.8C207.8,514.3 207.3,515.6 206.8,516.6C206.3,517.7 205.7,518.5 205.1,519.1C204.5,519.7 203.8,520.2 203.3,520.2C202.7,520.2 202.1,519.8 201.6,519.2C201.2,518.6 200.9,517.7 200.5,516.7C200.1,515.7 199.4,514.6 199.1,513.1C198.9,511.6 198.9,509.6 199.0,507.5C199.1,505.4 199.4,502.7 199.7,500.2C200.0,497.7 200.6,494.9 200.9,492.5C201.3,490.1 201.6,487.7 202.0,485.9C202.3,484.2 202.6,483.2 203.0,482.3C203.5,481.4 204.1,480.6 204.6,480.6Z" fill="none" stroke="#fff" stroke-width="0.85"/>
<path d="M204.4,481.0C204.8,481.0 205.2,481.7 205.5,482.5C205.7,483.3 205.9,484.2 206.1,485.9C206.3,487.5 206.3,489.9 206.4,492.2C206.5,494.6 206.6,497.4 206.7,499.8C206.7,502.1 206.8,504.5 206.8,506.5C206.8,508.5 206.7,510.2 206.6,511.8C206.5,513.2 206.3,514.5 206.0,515.5C205.8,516.5 205.5,517.2 205.2,517.8C204.9,518.2 204.7,518.5 204.4,518.5C204.1,518.5 203.9,518.2 203.6,517.8C203.3,517.2 203.0,516.5 202.8,515.5C202.5,514.5 202.3,513.2 202.2,511.8C202.1,510.2 202.0,508.5 202.0,506.5C202.0,504.5 202.1,502.1 202.1,499.8C202.2,497.4 202.3,494.6 202.4,492.2C202.5,489.9 202.5,487.5 202.7,485.9C202.9,484.2 203.1,483.3 203.3,482.5C203.6,481.7 204.0,481.0 204.4,481.0Z" fill="#8a8a8a"/>
<path d="M204.4,481.9C204.7,481.9 205.1,482.6 205.4,483.3C205.7,484.1 205.9,485.0 206.0,486.5C206.2,488.1 206.2,490.4 206.3,492.6C206.4,494.8 206.5,497.5 206.5,499.8C206.6,502.0 206.7,504.3 206.7,506.2C206.7,508.1 206.6,509.8 206.5,511.2C206.4,512.6 206.2,513.8 205.9,514.8C205.7,515.7 205.4,516.4 205.2,516.9C204.9,517.4 204.6,517.6 204.4,517.6C204.1,517.6 203.9,517.4 203.6,516.9C203.4,516.4 203.1,515.7 202.8,514.8C202.6,513.8 202.4,512.6 202.3,511.2C202.2,509.8 202.1,508.1 202.1,506.2C202.1,504.3 202.2,502.0 202.2,499.8C202.3,497.5 202.4,494.8 202.5,492.6C202.6,490.4 202.6,488.1 202.8,486.5C202.9,485.0 203.1,484.1 203.4,483.3C203.6,482.6 204.1,481.9 204.4,481.9Z" fill="none" stroke="#0c0c0c" stroke-width="0.9" filter="url(#b06)"/>
<path d="M204.4,481.0C204.8,481.0 205.2,481.7 205.5,482.5C205.7,483.3 205.9,484.2 206.1,485.9C206.3,487.5 206.3,489.9 206.4,492.2C206.5,494.6 206.6,497.4 206.7,499.8C206.7,502.1 206.8,504.5 206.8,506.5C206.8,508.5 206.7,510.2 206.6,511.8C206.5,513.2 206.3,514.5 206.0,515.5C205.8,516.5 205.5,517.2 205.2,517.8C204.9,518.2 204.7,518.5 204.4,518.5C204.1,518.5 203.9,518.2 203.6,517.8C203.3,517.2 203.0,516.5 202.8,515.5C202.5,514.5 202.3,513.2 202.2,511.8C202.1,510.2 202.0,508.5 202.0,506.5C202.0,504.5 202.1,502.1 202.1,499.8C202.2,497.4 202.3,494.6 202.4,492.2C202.5,489.9 202.5,487.5 202.7,485.9C202.9,484.2 203.1,483.3 203.3,482.5C203.6,481.7 204.0,481.0 204.4,481.0Z" fill="none" stroke="#fff" stroke-width="0.85"/>
<ellipse cx="204.1" cy="486" rx="0.9" ry="1.8" fill="#111" filter="url(#b06)" transform="rotate(0 204.1 486)"/>
<ellipse cx="204.1" cy="492" rx="0.9" ry="1.8" fill="#111" filter="url(#b06)" transform="rotate(0 204.1 492)"/>
<ellipse cx="204.1" cy="498.5" rx="0.9" ry="1.8" fill="#111" filter="url(#b06)" transform="rotate(0 204.1 498.5)"/>
<ellipse cx="204.1" cy="505" rx="0.9" ry="1.8" fill="#111" filter="url(#b06)" transform="rotate(0 204.1 505)"/>
<ellipse cx="204.1" cy="512" rx="0.9" ry="1.8" fill="#111" filter="url(#b06)" transform="rotate(0 204.1 512)"/>
<ellipse cx="188.8" cy="516" rx="1.2" ry="0.9" fill="#e8e8e8" stroke="#fff" stroke-width="0.5"/>
<ellipse cx="194" cy="537.8" rx="1.9" ry="1.6" fill="#111"/>
<clipPath id="bc7"><path d="M286.8,468.9C287.5,468.7 288.9,469.3 290.0,469.3C291.0,469.3 292.4,468.6 293.1,468.9C293.8,469.2 293.8,470.3 294.2,470.9C294.7,471.5 295.6,471.6 296.0,472.4C296.4,473.2 296.3,474.8 296.6,475.9C296.9,477.1 297.4,478.2 297.8,479.3C298.2,480.4 298.5,481.5 298.7,482.7C298.9,483.8 298.9,484.9 298.9,486.2C298.9,487.5 298.9,488.9 298.9,490.3C299.0,491.6 299.1,493.0 299.1,494.3C299.1,495.6 299.1,497.0 299.1,498.4C299.0,499.7 299.0,501.2 298.9,502.4C298.8,503.6 298.7,504.7 298.6,505.8C298.5,507.0 298.4,508.2 298.3,509.3C298.2,510.4 298.1,511.3 297.8,512.3C297.5,513.3 297.0,514.1 296.6,515.1C296.2,516.1 295.7,517.1 295.1,518.1C294.5,519.0 293.8,520.0 293.1,520.8C292.4,521.6 291.6,522.4 290.8,523.1C290.1,523.9 289.2,524.7 288.5,525.4C287.8,526.1 287.1,526.8 286.4,527.3C285.6,527.9 284.7,528.7 283.9,528.9C283.1,529.1 282.4,528.7 281.6,528.6C280.8,528.5 280.1,528.6 279.3,528.3C278.5,528.0 277.7,527.3 277.0,526.6C276.3,525.9 275.8,525.1 275.3,524.3C274.8,523.5 274.2,522.5 273.8,521.5C273.4,520.6 273.2,519.6 273.0,518.5C272.8,517.4 273.0,516.2 272.9,515.0C272.8,513.9 272.4,512.7 272.4,511.6C272.4,510.5 272.7,509.3 272.9,508.1C273.1,507.0 273.3,505.8 273.5,504.7C273.7,503.6 273.9,502.4 274.1,501.3C274.3,500.1 274.6,498.9 274.7,497.8C274.8,496.7 274.7,495.8 274.6,494.9C274.5,493.9 274.1,492.9 274.1,492.0C274.1,491.1 274.4,490.2 274.6,489.4C274.8,488.5 275.3,487.5 275.3,486.8C275.3,486.1 274.6,485.9 274.5,485.5C274.4,485.0 274.2,484.3 274.5,483.9C274.8,483.5 275.7,483.3 276.2,483.0C276.7,482.6 277.3,482.1 277.6,481.6C277.9,481.1 278.0,480.7 278.2,480.2C278.4,479.7 278.3,479.2 278.7,478.7C279.1,478.2 280.0,477.8 280.5,477.4C281.1,476.9 281.7,476.4 282.2,475.8C282.7,475.2 283.1,474.5 283.4,473.9C283.8,473.2 284.1,472.3 284.5,471.8C284.9,471.3 285.6,471.1 286.0,470.6C286.4,470.1 286.1,469.1 286.8,468.9Z"/></clipPath>
<path d="M286.8,468.9C287.5,468.7 288.9,469.3 290.0,469.3C291.0,469.3 292.4,468.6 293.1,468.9C293.8,469.2 293.8,470.3 294.2,470.9C294.7,471.5 295.6,471.6 296.0,472.4C296.4,473.2 296.3,474.8 296.6,475.9C296.9,477.1 297.4,478.2 297.8,479.3C298.2,480.4 298.5,481.5 298.7,482.7C298.9,483.8 298.9,484.9 298.9,486.2C298.9,487.5 298.9,488.9 298.9,490.3C299.0,491.6 299.1,493.0 299.1,494.3C299.1,495.6 299.1,497.0 299.1,498.4C299.0,499.7 299.0,501.2 298.9,502.4C298.8,503.6 298.7,504.7 298.6,505.8C298.5,507.0 298.4,508.2 298.3,509.3C298.2,510.4 298.1,511.3 297.8,512.3C297.5,513.3 297.0,514.1 296.6,515.1C296.2,516.1 295.7,517.1 295.1,518.1C294.5,519.0 293.8,520.0 293.1,520.8C292.4,521.6 291.6,522.4 290.8,523.1C290.1,523.9 289.2,524.7 288.5,525.4C287.8,526.1 287.1,526.8 286.4,527.3C285.6,527.9 284.7,528.7 283.9,528.9C283.1,529.1 282.4,528.7 281.6,528.6C280.8,528.5 280.1,528.6 279.3,528.3C278.5,528.0 277.7,527.3 277.0,526.6C276.3,525.9 275.8,525.1 275.3,524.3C274.8,523.5 274.2,522.5 273.8,521.5C273.4,520.6 273.2,519.6 273.0,518.5C272.8,517.4 273.0,516.2 272.9,515.0C272.8,513.9 272.4,512.7 272.4,511.6C272.4,510.5 272.7,509.3 272.9,508.1C273.1,507.0 273.3,505.8 273.5,504.7C273.7,503.6 273.9,502.4 274.1,501.3C274.3,500.1 274.6,498.9 274.7,497.8C274.8,496.7 274.7,495.8 274.6,494.9C274.5,493.9 274.1,492.9 274.1,492.0C274.1,491.1 274.4,490.2 274.6,489.4C274.8,488.5 275.3,487.5 275.3,486.8C275.3,486.1 274.6,485.9 274.5,485.5C274.4,485.0 274.2,484.3 274.5,483.9C274.8,483.5 275.7,483.3 276.2,483.0C276.7,482.6 277.3,482.1 277.6,481.6C277.9,481.1 278.0,480.7 278.2,480.2C278.4,479.7 278.3,479.2 278.7,478.7C279.1,478.2 280.0,477.8 280.5,477.4C281.1,476.9 281.7,476.4 282.2,475.8C282.7,475.2 283.1,474.5 283.4,473.9C283.8,473.2 284.1,472.3 284.5,471.8C284.9,471.3 285.6,471.1 286.0,470.6C286.4,470.1 286.1,469.1 286.8,468.9Z" fill="#808080" stroke="#000" stroke-width="2.4" stroke-linejoin="round"/>
<g clip-path="url(#bc7)">
<path d="M286.8,468.9C287.5,468.7 288.9,469.3 290.0,469.3C291.0,469.3 292.4,468.6 293.1,468.9C293.8,469.2 293.8,470.3 294.2,470.9C294.7,471.5 295.6,471.6 296.0,472.4C296.4,473.2 296.3,474.8 296.6,475.9C296.9,477.1 297.4,478.2 297.8,479.3C298.2,480.4 298.5,481.5 298.7,482.7C298.9,483.8 298.9,484.9 298.9,486.2C298.9,487.5 298.9,488.9 298.9,490.3C299.0,491.6 299.1,493.0 299.1,494.3C299.1,495.6 299.1,497.0 299.1,498.4C299.0,499.7 299.0,501.2 298.9,502.4C298.8,503.6 298.7,504.7 298.6,505.8C298.5,507.0 298.4,508.2 298.3,509.3C298.2,510.4 298.1,511.3 297.8,512.3C297.5,513.3 297.0,514.1 296.6,515.1C296.2,516.1 295.7,517.1 295.1,518.1C294.5,519.0 293.8,520.0 293.1,520.8C292.4,521.6 291.6,522.4 290.8,523.1C290.1,523.9 289.2,524.7 288.5,525.4C287.8,526.1 287.1,526.8 286.4,527.3C285.6,527.9 284.7,528.7 283.9,528.9C283.1,529.1 282.4,528.7 281.6,528.6C280.8,528.5 280.1,528.6 279.3,528.3C278.5,528.0 277.7,527.3 277.0,526.6C276.3,525.9 275.8,525.1 275.3,524.3C274.8,523.5 274.2,522.5 273.8,521.5C273.4,520.6 273.2,519.6 273.0,518.5C272.8,517.4 273.0,516.2 272.9,515.0C272.8,513.9 272.4,512.7 272.4,511.6C272.4,510.5 272.7,509.3 272.9,508.1C273.1,507.0 273.3,505.8 273.5,504.7C273.7,503.6 273.9,502.4 274.1,501.3C274.3,500.1 274.6,498.9 274.7,497.8C274.8,496.7 274.7,495.8 274.6,494.9C274.5,493.9 274.1,492.9 274.1,492.0C274.1,491.1 274.4,490.2 274.6,489.4C274.8,488.5 275.3,487.5 275.3,486.8C275.3,486.1 274.6,485.9 274.5,485.5C274.4,485.0 274.2,484.3 274.5,483.9C274.8,483.5 275.7,483.3 276.2,483.0C276.7,482.6 277.3,482.1 277.6,481.6C277.9,481.1 278.0,480.7 278.2,480.2C278.4,479.7 278.3,479.2 278.7,478.7C279.1,478.2 280.0,477.8 280.5,477.4C281.1,476.9 281.7,476.4 282.2,475.8C282.7,475.2 283.1,474.5 283.4,473.9C283.8,473.2 284.1,472.3 284.5,471.8C284.9,471.3 285.6,471.1 286.0,470.6C286.4,470.1 286.1,469.1 286.8,468.9Z" fill="none" stroke="#060606" stroke-width="3.0" filter="url(#b08)"/>
<ellipse cx="276.5" cy="512" rx="2" ry="8" fill="#0a0a0a" opacity="1" filter="url(#soft3)" transform="rotate(0 276.5 512)"/>
<ellipse cx="279.5" cy="492" rx="1.6" ry="7" fill="#b0b0b0" opacity="0.8" filter="url(#soft3)" transform="rotate(8 279.5 492)"/>
</g>
<path d="M290.5,471.3C292.0,470.8 293.5,472.4 294.5,474.0C295.5,475.6 295.9,478.3 296.3,481.0C296.7,483.7 296.9,486.8 297.0,490.0C297.1,493.2 297.1,496.8 296.8,500.0C296.6,503.2 296.2,506.3 295.5,509.0C294.8,511.7 293.7,513.9 292.5,516.0C291.3,518.1 289.8,520.1 288.5,521.5C287.2,522.9 285.7,524.4 284.5,524.5C283.3,524.6 282.1,523.8 281.5,522.0C280.9,520.2 280.9,516.8 281.2,514.0C281.4,511.2 282.6,508.2 283.0,505.0C283.4,501.8 283.4,498.3 283.5,495.0C283.6,491.7 283.5,488.0 283.8,485.0C284.1,482.0 284.4,479.3 285.5,477.0C286.6,474.7 289.0,471.8 290.5,471.3Z" fill="#868686"/>
<path d="M290.5,472.8C291.9,472.3 293.3,473.8 294.2,475.3C295.2,476.8 295.6,479.4 295.9,481.9C296.3,484.4 296.5,487.4 296.6,490.4C296.7,493.4 296.7,496.8 296.4,499.8C296.2,502.8 295.9,505.8 295.2,508.3C294.5,510.8 293.5,513.0 292.4,514.9C291.3,516.9 289.8,518.8 288.6,520.1C287.3,521.5 285.9,522.9 284.8,522.9C283.7,523.0 282.5,522.2 282.0,520.6C281.5,518.9 281.5,515.7 281.7,513.0C281.9,510.4 283.0,507.5 283.4,504.5C283.8,501.6 283.7,498.3 283.9,495.1C284.0,492.0 283.8,488.5 284.2,485.7C284.5,482.8 284.7,480.3 285.8,478.1C286.8,476.0 289.1,473.2 290.5,472.8Z" fill="none" stroke="#080808" stroke-width="1.7" filter="url(#b06)"/>
<path d="M290.5,471.3C292.0,470.8 293.5,472.4 294.5,474.0C295.5,475.6 295.9,478.3 296.3,481.0C296.7,483.7 296.9,486.8 297.0,490.0C297.1,493.2 297.1,496.8 296.8,500.0C296.6,503.2 296.2,506.3 295.5,509.0C294.8,511.7 293.7,513.9 292.5,516.0C291.3,518.1 289.8,520.1 288.5,521.5C287.2,522.9 285.7,524.4 284.5,524.5C283.3,524.6 282.1,523.8 281.5,522.0C280.9,520.2 280.9,516.8 281.2,514.0C281.4,511.2 282.6,508.2 283.0,505.0C283.4,501.8 283.4,498.3 283.5,495.0C283.6,491.7 283.5,488.0 283.8,485.0C284.1,482.0 284.4,479.3 285.5,477.0C286.6,474.7 289.0,471.8 290.5,471.3Z" fill="none" stroke="#fff" stroke-width="0.85"/>
<path d="M290.4,477.0C291.6,476.6 292.8,477.8 293.5,479.1C294.3,480.3 294.6,482.4 294.9,484.5C295.2,486.6 295.4,489.1 295.5,491.5C295.5,494.0 295.5,496.9 295.3,499.3C295.1,501.8 294.8,504.3 294.3,506.4C293.7,508.4 292.9,510.2 291.9,511.8C291.0,513.4 289.9,515.0 288.8,516.1C287.8,517.2 286.6,518.4 285.7,518.5C284.8,518.5 283.8,517.9 283.4,516.5C282.9,515.1 282.9,512.5 283.1,510.3C283.3,508.1 284.2,505.7 284.5,503.2C284.8,500.8 284.8,498.0 284.9,495.4C285.0,492.8 284.9,490.0 285.2,487.6C285.4,485.3 285.6,483.2 286.5,481.4C287.4,479.6 289.2,477.3 290.4,477.0Z" fill="#868686"/>
<path d="M290.4,478.4C291.4,478.0 292.6,479.2 293.3,480.4C294.0,481.5 294.3,483.5 294.6,485.4C294.9,487.4 295.0,489.6 295.1,491.9C295.1,494.2 295.1,496.9 294.9,499.2C294.7,501.5 294.5,503.8 294.0,505.7C293.5,507.6 292.7,509.2 291.8,510.7C291.0,512.3 289.9,513.7 288.9,514.7C288.0,515.8 286.9,516.8 286.0,516.9C285.2,517.0 284.2,516.4 283.9,515.1C283.5,513.8 283.5,511.3 283.6,509.3C283.8,507.2 284.7,505.1 284.9,502.8C285.2,500.5 285.2,498.0 285.3,495.6C285.4,493.1 285.3,490.5 285.5,488.3C285.8,486.1 285.9,484.2 286.7,482.5C287.6,480.9 289.3,478.8 290.4,478.4Z" fill="none" stroke="#080808" stroke-width="1.7" filter="url(#b06)"/>
<path d="M290.4,477.0C291.6,476.6 292.8,477.8 293.5,479.1C294.3,480.3 294.6,482.4 294.9,484.5C295.2,486.6 295.4,489.1 295.5,491.5C295.5,494.0 295.5,496.9 295.3,499.3C295.1,501.8 294.8,504.3 294.3,506.4C293.7,508.4 292.9,510.2 291.9,511.8C291.0,513.4 289.9,515.0 288.8,516.1C287.8,517.2 286.6,518.4 285.7,518.5C284.8,518.5 283.8,517.9 283.4,516.5C282.9,515.1 282.9,512.5 283.1,510.3C283.3,508.1 284.2,505.7 284.5,503.2C284.8,500.8 284.8,498.0 284.9,495.4C285.0,492.8 284.9,490.0 285.2,487.6C285.4,485.3 285.6,483.2 286.5,481.4C287.4,479.6 289.2,477.3 290.4,477.0Z" fill="none" stroke="#fff" stroke-width="0.85"/>
<path d="M293.8,487.2C293.7,488.6 293.5,490.2 293.1,491.4C292.8,492.7 292.2,493.8 291.7,494.5C291.2,495.2 290.5,495.6 289.9,495.6C289.4,495.6 288.8,495.1 288.3,494.3C287.9,493.6 287.5,492.4 287.2,491.1C287.0,489.9 286.9,488.3 287.0,486.8C287.1,485.4 287.3,483.8 287.7,482.6C288.0,481.3 288.6,480.2 289.1,479.5C289.6,478.8 290.3,478.4 290.9,478.4C291.4,478.4 292.0,478.9 292.5,479.7C292.9,480.4 293.3,481.6 293.6,482.9C293.8,484.1 293.9,485.7 293.8,487.2Z" fill="#9a9a9a"/>
<path d="M293.4,487.2C293.3,488.4 293.1,489.8 292.8,490.9C292.5,492.0 292.0,493.0 291.5,493.6C291.1,494.2 290.5,494.5 290.0,494.5C289.5,494.5 289.0,494.1 288.6,493.4C288.2,492.8 287.8,491.7 287.6,490.6C287.4,489.5 287.4,488.1 287.4,486.8C287.5,485.6 287.7,484.2 288.0,483.1C288.3,482.0 288.8,481.0 289.3,480.4C289.7,479.8 290.3,479.5 290.8,479.5C291.3,479.5 291.8,479.9 292.2,480.6C292.6,481.2 293.0,482.3 293.2,483.4C293.4,484.5 293.4,485.9 293.4,487.2Z" fill="none" stroke="#0c0c0c" stroke-width="1.2" filter="url(#b06)"/>
<path d="M293.8,487.2C293.7,488.6 293.5,490.2 293.1,491.4C292.8,492.7 292.2,493.8 291.7,494.5C291.2,495.2 290.5,495.6 289.9,495.6C289.4,495.6 288.8,495.1 288.3,494.3C287.9,493.6 287.5,492.4 287.2,491.1C287.0,489.9 286.9,488.3 287.0,486.8C287.1,485.4 287.3,483.8 287.7,482.6C288.0,481.3 288.6,480.2 289.1,479.5C289.6,478.8 290.3,478.4 290.9,478.4C291.4,478.4 292.0,478.9 292.5,479.7C292.9,480.4 293.3,481.6 293.6,482.9C293.8,484.1 293.9,485.7 293.8,487.2Z" fill="none" stroke="#fff" stroke-width="0.85"/>
<ellipse cx="290.3" cy="486.8" rx="1.5" ry="5.0" fill="#111" filter="url(#b06)" transform="rotate(0 290.3 486.8)"/>
<path d="M289.5,515.9C289.3,516.6 289.0,517.4 288.6,517.9C288.2,518.5 287.7,519.0 287.3,519.2C286.8,519.5 286.3,519.6 285.9,519.5C285.4,519.3 285.0,519.0 284.8,518.5C284.5,518.1 284.3,517.4 284.3,516.7C284.2,516.1 284.3,515.2 284.5,514.5C284.7,513.8 285.0,513.0 285.4,512.5C285.8,511.9 286.3,511.4 286.7,511.2C287.2,510.9 287.7,510.8 288.1,510.9C288.6,511.1 289.0,511.4 289.2,511.9C289.5,512.3 289.7,513.0 289.7,513.7C289.8,514.3 289.7,515.2 289.5,515.9Z" fill="#9a9a9a"/>
<path d="M289.0,515.7C288.9,516.3 288.6,516.9 288.3,517.4C288.0,517.8 287.6,518.2 287.2,518.4C286.8,518.6 286.4,518.7 286.1,518.6C285.7,518.5 285.4,518.2 285.2,517.9C285.0,517.5 284.8,517.0 284.8,516.4C284.8,515.9 284.8,515.2 285.0,514.7C285.1,514.1 285.4,513.5 285.7,513.0C286.0,512.6 286.4,512.2 286.8,512.0C287.2,511.8 287.6,511.7 287.9,511.8C288.3,511.9 288.6,512.2 288.8,512.5C289.0,512.9 289.2,513.4 289.2,514.0C289.2,514.5 289.2,515.2 289.0,515.7Z" fill="none" stroke="#0c0c0c" stroke-width="1.1" filter="url(#b06)"/>
<path d="M289.5,515.9C289.3,516.6 289.0,517.4 288.6,517.9C288.2,518.5 287.7,519.0 287.3,519.2C286.8,519.5 286.3,519.6 285.9,519.5C285.4,519.3 285.0,519.0 284.8,518.5C284.5,518.1 284.3,517.4 284.3,516.7C284.2,516.1 284.3,515.2 284.5,514.5C284.7,513.8 285.0,513.0 285.4,512.5C285.8,511.9 286.3,511.4 286.7,511.2C287.2,510.9 287.7,510.8 288.1,510.9C288.6,511.1 289.0,511.4 289.2,511.9C289.5,512.3 289.7,513.0 289.7,513.7C289.8,514.3 289.7,515.2 289.5,515.9Z" fill="none" stroke="#fff" stroke-width="0.85"/>
<ellipse cx="287" cy="515.6" rx="0.9" ry="2.2" fill="#111" filter="url(#b06)" transform="rotate(15 287 515.6)"/>
<path d="M289.5,497.0C289.3,496.2 288.6,501.2 288.6,503.0C288.6,504.8 289.5,509.0 289.6,508.0" fill="none" stroke="#fff" stroke-width="0.95" stroke-linecap="round"/>
<ellipse cx="279.3" cy="518" rx="1.2" ry="1.0" fill="#e8e8e8" stroke="#fff" stroke-width="0.5"/>
<clipPath id="bc8"><path d="M115.0,563.5C115.8,563.6 116.5,564.3 117.2,564.6C118.0,564.9 119.0,564.8 119.6,565.3C120.2,565.8 120.5,566.8 121.1,567.5C121.7,568.2 122.6,568.5 123.1,569.3C123.6,570.1 123.9,571.2 124.2,572.1C124.5,573.1 124.7,574.0 124.8,575.1C124.9,576.2 124.7,577.5 124.9,578.6C125.1,579.8 125.6,580.9 125.9,582.0C126.2,583.1 126.6,584.3 126.8,585.4C127.0,586.6 127.0,587.7 127.1,588.9C127.2,590.1 127.1,591.2 127.2,592.4C127.3,593.5 127.7,594.7 127.7,595.8C127.7,596.9 127.7,597.8 127.5,598.8C127.3,599.7 126.9,600.7 126.5,601.6C126.1,602.5 125.3,603.4 124.8,604.4C124.4,605.4 124.1,606.5 123.6,607.4C123.1,608.3 122.5,609.1 121.8,609.9C121.2,610.7 120.3,611.4 119.6,612.0C118.9,612.6 118.2,612.8 117.5,613.3C116.8,613.8 116.2,614.4 115.6,614.9C115.0,615.4 114.3,616.0 113.7,616.6C113.1,617.2 112.6,618.4 112.1,618.5C111.6,618.6 111.3,617.5 110.8,617.1C110.3,616.7 109.8,616.4 109.2,616.0C108.6,615.6 107.8,615.1 107.2,614.6C106.5,614.1 105.9,613.6 105.2,613.1C104.5,612.6 103.8,611.9 103.1,611.4C102.3,610.9 101.1,610.9 100.6,610.2C100.1,609.5 100.2,608.3 99.9,607.5C99.5,606.6 98.6,606.0 98.3,605.1C98.0,604.2 98.1,603.1 98.2,602.2C98.3,601.2 98.5,600.3 98.8,599.3C99.1,598.3 99.4,597.4 99.7,596.4C100.0,595.4 100.3,594.4 100.6,593.5C100.9,592.6 101.4,591.7 101.6,590.7C101.7,589.8 101.6,588.6 101.7,587.8C101.8,587.0 102.2,586.4 102.4,585.6C102.5,584.9 102.8,584.0 102.6,583.4C102.4,582.8 101.8,582.5 101.4,582.0C101.0,581.6 100.2,581.0 100.2,580.6C100.2,580.2 101.0,579.8 101.5,579.4C102.0,579.1 103.0,578.9 103.0,578.5C103.0,578.1 102.1,577.2 101.6,576.7C101.0,576.3 99.7,576.0 99.6,575.6C99.5,575.2 100.3,574.6 100.7,574.3C101.2,574.0 101.7,574.1 102.3,573.6C102.9,573.1 103.6,572.3 104.2,571.6C104.8,570.9 105.2,570.0 105.8,569.3C106.4,568.6 107.4,568.2 108.0,567.5C108.7,566.9 109.1,565.9 109.8,565.3C110.5,564.7 111.4,564.4 112.3,564.1C113.2,563.8 114.2,563.4 115.0,563.5Z"/></clipPath>
<path d="M115.0,563.5C115.8,563.6 116.5,564.3 117.2,564.6C118.0,564.9 119.0,564.8 119.6,565.3C120.2,565.8 120.5,566.8 121.1,567.5C121.7,568.2 122.6,568.5 123.1,569.3C123.6,570.1 123.9,571.2 124.2,572.1C124.5,573.1 124.7,574.0 124.8,575.1C124.9,576.2 124.7,577.5 124.9,578.6C125.1,579.8 125.6,580.9 125.9,582.0C126.2,583.1 126.6,584.3 126.8,585.4C127.0,586.6 127.0,587.7 127.1,588.9C127.2,590.1 127.1,591.2 127.2,592.4C127.3,593.5 127.7,594.7 127.7,595.8C127.7,596.9 127.7,597.8 127.5,598.8C127.3,599.7 126.9,600.7 126.5,601.6C126.1,602.5 125.3,603.4 124.8,604.4C124.4,605.4 124.1,606.5 123.6,607.4C123.1,608.3 122.5,609.1 121.8,609.9C121.2,610.7 120.3,611.4 119.6,612.0C118.9,612.6 118.2,612.8 117.5,613.3C116.8,613.8 116.2,614.4 115.6,614.9C115.0,615.4 114.3,616.0 113.7,616.6C113.1,617.2 112.6,618.4 112.1,618.5C111.6,618.6 111.3,617.5 110.8,617.1C110.3,616.7 109.8,616.4 109.2,616.0C108.6,615.6 107.8,615.1 107.2,614.6C106.5,614.1 105.9,613.6 105.2,613.1C104.5,612.6 103.8,611.9 103.1,611.4C102.3,610.9 101.1,610.9 100.6,610.2C100.1,609.5 100.2,608.3 99.9,607.5C99.5,606.6 98.6,606.0 98.3,605.1C98.0,604.2 98.1,603.1 98.2,602.2C98.3,601.2 98.5,600.3 98.8,599.3C99.1,598.3 99.4,597.4 99.7,596.4C100.0,595.4 100.3,594.4 100.6,593.5C100.9,592.6 101.4,591.7 101.6,590.7C101.7,589.8 101.6,588.6 101.7,587.8C101.8,587.0 102.2,586.4 102.4,585.6C102.5,584.9 102.8,584.0 102.6,583.4C102.4,582.8 101.8,582.5 101.4,582.0C101.0,581.6 100.2,581.0 100.2,580.6C100.2,580.2 101.0,579.8 101.5,579.4C102.0,579.1 103.0,578.9 103.0,578.5C103.0,578.1 102.1,577.2 101.6,576.7C101.0,576.3 99.7,576.0 99.6,575.6C99.5,575.2 100.3,574.6 100.7,574.3C101.2,574.0 101.7,574.1 102.3,573.6C102.9,573.1 103.6,572.3 104.2,571.6C104.8,570.9 105.2,570.0 105.8,569.3C106.4,568.6 107.4,568.2 108.0,567.5C108.7,566.9 109.1,565.9 109.8,565.3C110.5,564.7 111.4,564.4 112.3,564.1C113.2,563.8 114.2,563.4 115.0,563.5Z" fill="#808080" stroke="#000" stroke-width="2.4" stroke-linejoin="round"/>
<g clip-path="url(#bc8)">
<path d="M115.0,563.5C115.8,563.6 116.5,564.3 117.2,564.6C118.0,564.9 119.0,564.8 119.6,565.3C120.2,565.8 120.5,566.8 121.1,567.5C121.7,568.2 122.6,568.5 123.1,569.3C123.6,570.1 123.9,571.2 124.2,572.1C124.5,573.1 124.7,574.0 124.8,575.1C124.9,576.2 124.7,577.5 124.9,578.6C125.1,579.8 125.6,580.9 125.9,582.0C126.2,583.1 126.6,584.3 126.8,585.4C127.0,586.6 127.0,587.7 127.1,588.9C127.2,590.1 127.1,591.2 127.2,592.4C127.3,593.5 127.7,594.7 127.7,595.8C127.7,596.9 127.7,597.8 127.5,598.8C127.3,599.7 126.9,600.7 126.5,601.6C126.1,602.5 125.3,603.4 124.8,604.4C124.4,605.4 124.1,606.5 123.6,607.4C123.1,608.3 122.5,609.1 121.8,609.9C121.2,610.7 120.3,611.4 119.6,612.0C118.9,612.6 118.2,612.8 117.5,613.3C116.8,613.8 116.2,614.4 115.6,614.9C115.0,615.4 114.3,616.0 113.7,616.6C113.1,617.2 112.6,618.4 112.1,618.5C111.6,618.6 111.3,617.5 110.8,617.1C110.3,616.7 109.8,616.4 109.2,616.0C108.6,615.6 107.8,615.1 107.2,614.6C106.5,614.1 105.9,613.6 105.2,613.1C104.5,612.6 103.8,611.9 103.1,611.4C102.3,610.9 101.1,610.9 100.6,610.2C100.1,609.5 100.2,608.3 99.9,607.5C99.5,606.6 98.6,606.0 98.3,605.1C98.0,604.2 98.1,603.1 98.2,602.2C98.3,601.2 98.5,600.3 98.8,599.3C99.1,598.3 99.4,597.4 99.7,596.4C100.0,595.4 100.3,594.4 100.6,593.5C100.9,592.6 101.4,591.7 101.6,590.7C101.7,589.8 101.6,588.6 101.7,587.8C101.8,587.0 102.2,586.4 102.4,585.6C102.5,584.9 102.8,584.0 102.6,583.4C102.4,582.8 101.8,582.5 101.4,582.0C101.0,581.6 100.2,581.0 100.2,580.6C100.2,580.2 101.0,579.8 101.5,579.4C102.0,579.1 103.0,578.9 103.0,578.5C103.0,578.1 102.1,577.2 101.6,576.7C101.0,576.3 99.7,576.0 99.6,575.6C99.5,575.2 100.3,574.6 100.7,574.3C101.2,574.0 101.7,574.1 102.3,573.6C102.9,573.1 103.6,572.3 104.2,571.6C104.8,570.9 105.2,570.0 105.8,569.3C106.4,568.6 107.4,568.2 108.0,567.5C108.7,566.9 109.1,565.9 109.8,565.3C110.5,564.7 111.4,564.4 112.3,564.1C113.2,563.8 114.2,563.4 115.0,563.5Z" fill="none" stroke="#060606" stroke-width="3.0" filter="url(#b08)"/>
<ellipse cx="102" cy="603" rx="2.2" ry="6" fill="#0a0a0a" opacity="1" filter="url(#soft3)" transform="rotate(10 102 603)"/>
<ellipse cx="105" cy="588" rx="1.6" ry="5" fill="#b0b0b0" opacity="0.8" filter="url(#soft3)" transform="rotate(10 105 588)"/>
</g>
<path d="M114.9,567.6C115.7,567.6 116.8,568.4 117.6,569.4C118.3,570.3 118.6,571.5 119.2,573.4C119.7,575.3 120.4,578.3 120.8,581.0C121.3,583.6 121.6,586.7 121.9,589.4C122.2,592.1 122.6,594.9 122.6,597.2C122.6,599.5 122.2,601.4 121.7,603.2C121.2,605.0 120.5,606.7 119.7,607.9C119.0,609.2 118.2,610.0 117.3,610.5C116.4,611.0 115.5,611.1 114.6,611.0C113.6,611.0 112.5,610.9 111.6,610.4C110.7,609.9 109.8,609.1 109.1,607.9C108.4,606.7 107.8,604.9 107.3,603.2C106.9,601.4 106.6,599.7 106.6,597.4C106.7,595.1 107.2,592.1 107.6,589.3C108.0,586.5 108.5,583.2 109.0,580.6C109.5,578.0 110.1,575.5 110.7,573.6C111.2,571.8 111.7,570.4 112.4,569.4C113.1,568.4 114.0,567.6 114.9,567.6Z" fill="#b4b4b4"/>
<path d="M114.9,568.7C115.7,568.7 116.7,569.5 117.4,570.4C118.1,571.3 118.4,572.4 118.9,574.2C119.5,576.0 120.1,578.9 120.5,581.4C121.0,583.9 121.3,586.8 121.6,589.4C121.9,591.9 122.2,594.6 122.2,596.8C122.2,599.0 121.8,600.8 121.4,602.5C120.9,604.2 120.2,605.9 119.5,607.0C118.8,608.2 118.0,608.9 117.2,609.4C116.3,609.9 115.5,610.0 114.6,610.0C113.7,609.9 112.6,609.8 111.8,609.3C110.9,608.8 110.1,608.1 109.4,607.0C108.7,605.8 108.1,604.2 107.7,602.5C107.3,600.8 107.0,599.2 107.1,597.0C107.1,594.8 107.6,592.0 108.0,589.3C108.3,586.7 108.8,583.5 109.3,581.1C109.8,578.6 110.3,576.2 110.9,574.4C111.4,572.7 111.8,571.4 112.5,570.4C113.1,569.5 114.0,568.7 114.9,568.7Z" fill="none" stroke="#050505" stroke-width="1.15" filter="url(#b06)"/>
<path d="M114.9,567.6C115.7,567.6 116.8,568.4 117.6,569.4C118.3,570.3 118.6,571.5 119.2,573.4C119.7,575.3 120.4,578.3 120.8,581.0C121.3,583.6 121.6,586.7 121.9,589.4C122.2,592.1 122.6,594.9 122.6,597.2C122.6,599.5 122.2,601.4 121.7,603.2C121.2,605.0 120.5,606.7 119.7,607.9C119.0,609.2 118.2,610.0 117.3,610.5C116.4,611.0 115.5,611.1 114.6,611.0C113.6,611.0 112.5,610.9 111.6,610.4C110.7,609.9 109.8,609.1 109.1,607.9C108.4,606.7 107.8,604.9 107.3,603.2C106.9,601.4 106.6,599.7 106.6,597.4C106.7,595.1 107.2,592.1 107.6,589.3C108.0,586.5 108.5,583.2 109.0,580.6C109.5,578.0 110.1,575.5 110.7,573.6C111.2,571.8 111.7,570.4 112.4,569.4C113.1,568.4 114.0,567.6 114.9,567.6Z" fill="none" stroke="#fff" stroke-width="0.85"/>
<path d="M115.2,570.0C115.9,570.1 116.5,570.9 117.0,571.7C117.5,572.6 117.8,573.4 118.1,575.1C118.5,576.7 118.9,579.3 119.2,581.7C119.5,584.1 119.7,587.1 120.0,589.5C120.3,592.0 121.0,594.3 121.0,596.4C121.0,598.5 120.4,600.6 120.0,602.2C119.6,603.8 119.2,605.1 118.6,606.1C118.0,607.1 117.2,607.8 116.5,608.3C115.9,608.8 115.4,609.1 114.6,609.0C113.9,609.0 113.0,608.8 112.2,608.3C111.5,607.8 110.9,607.0 110.3,606.0C109.7,605.0 109.0,603.8 108.7,602.3C108.4,600.7 108.1,598.8 108.3,596.7C108.4,594.5 109.1,591.9 109.5,589.4C109.8,586.9 109.9,584.0 110.3,581.6C110.7,579.2 111.4,576.8 111.8,575.2C112.3,573.5 112.4,572.3 113.0,571.5C113.5,570.6 114.5,570.0 115.2,570.0Z" fill="#b4b4b4"/>
<path d="M115.2,571.1C115.8,571.2 116.4,572.0 116.9,572.8C117.4,573.5 117.6,574.3 117.9,575.9C118.3,577.4 118.6,579.9 118.9,582.2C119.2,584.4 119.4,587.2 119.7,589.5C120.0,591.8 120.6,594.0 120.6,596.0C120.6,598.0 120.1,600.0 119.7,601.5C119.3,603.0 118.9,604.2 118.4,605.1C117.8,606.1 117.0,606.8 116.4,607.3C115.8,607.7 115.3,607.9 114.7,607.9C114.0,607.9 113.1,607.7 112.4,607.2C111.7,606.7 111.1,606.0 110.5,605.0C110.0,604.1 109.3,603.0 109.0,601.5C108.7,600.1 108.5,598.3 108.6,596.3C108.7,594.3 109.4,591.8 109.8,589.4C110.1,587.0 110.2,584.3 110.5,582.1C110.9,579.8 111.6,577.6 112.0,576.0C112.4,574.4 112.6,573.3 113.1,572.5C113.6,571.7 114.5,571.1 115.2,571.1Z" fill="none" stroke="#050505" stroke-width="1.15" filter="url(#b06)"/>
<path d="M115.2,570.0C115.9,570.1 116.5,570.9 117.0,571.7C117.5,572.6 117.8,573.4 118.1,575.1C118.5,576.7 118.9,579.3 119.2,581.7C119.5,584.1 119.7,587.1 120.0,589.5C120.3,592.0 121.0,594.3 121.0,596.4C121.0,598.5 120.4,600.6 120.0,602.2C119.6,603.8 119.2,605.1 118.6,606.1C118.0,607.1 117.2,607.8 116.5,608.3C115.9,608.8 115.4,609.1 114.6,609.0C113.9,609.0 113.0,608.8 112.2,608.3C111.5,607.8 110.9,607.0 110.3,606.0C109.7,605.0 109.0,603.8 108.7,602.3C108.4,600.7 108.1,598.8 108.3,596.7C108.4,594.5 109.1,591.9 109.5,589.4C109.8,586.9 109.9,584.0 110.3,581.6C110.7,579.2 111.4,576.8 111.8,575.2C112.3,573.5 112.4,572.3 113.0,571.5C113.5,570.6 114.5,570.0 115.2,570.0Z" fill="none" stroke="#fff" stroke-width="0.85"/>
<path d="M114.8,572.2C115.2,572.2 115.4,572.9 115.8,573.7C116.2,574.5 116.8,575.4 117.1,577.0C117.4,578.5 117.6,580.8 117.8,582.9C118.0,585.0 118.0,587.4 118.2,589.6C118.5,591.8 119.3,594.2 119.3,596.1C119.4,598.1 118.9,599.7 118.6,601.1C118.3,602.5 118.0,603.7 117.6,604.6C117.1,605.4 116.4,605.9 115.8,606.3C115.3,606.8 114.9,607.0 114.4,607.0C113.9,607.1 113.3,607.2 112.8,606.7C112.3,606.3 111.8,605.2 111.3,604.2C110.9,603.2 110.3,602.1 110.1,600.7C110.0,599.4 110.1,597.8 110.2,595.9C110.3,594.1 110.5,591.7 110.8,589.5C111.1,587.3 111.9,584.8 112.2,582.7C112.6,580.5 112.6,578.1 112.8,576.5C113.1,575.0 113.3,574.2 113.7,573.4C114.0,572.7 114.5,572.1 114.8,572.2Z" fill="#b4b4b4"/>
<path d="M114.8,573.3C115.2,573.4 115.4,574.0 115.8,574.7C116.1,575.5 116.6,576.4 116.9,577.8C117.2,579.2 117.4,581.4 117.6,583.4C117.8,585.3 117.8,587.5 118.0,589.6C118.3,591.6 119.0,593.9 119.0,595.7C119.1,597.5 118.6,599.0 118.3,600.4C118.1,601.7 117.8,602.8 117.4,603.6C116.9,604.4 116.3,604.9 115.8,605.2C115.3,605.6 114.9,605.8 114.4,605.9C113.9,605.9 113.4,606.0 112.9,605.6C112.5,605.2 111.9,604.1 111.5,603.2C111.1,602.3 110.6,601.3 110.4,600.0C110.3,598.7 110.4,597.3 110.5,595.5C110.6,593.8 110.8,591.6 111.1,589.5C111.4,587.4 112.1,585.1 112.4,583.1C112.7,581.1 112.7,578.8 112.9,577.4C113.2,575.9 113.4,575.2 113.7,574.5C114.1,573.8 114.5,573.3 114.8,573.3Z" fill="none" stroke="#050505" stroke-width="1.15" filter="url(#b06)"/>
<path d="M114.8,572.2C115.2,572.2 115.4,572.9 115.8,573.7C116.2,574.5 116.8,575.4 117.1,577.0C117.4,578.5 117.6,580.8 117.8,582.9C118.0,585.0 118.0,587.4 118.2,589.6C118.5,591.8 119.3,594.2 119.3,596.1C119.4,598.1 118.9,599.7 118.6,601.1C118.3,602.5 118.0,603.7 117.6,604.6C117.1,605.4 116.4,605.9 115.8,606.3C115.3,606.8 114.9,607.0 114.4,607.0C113.9,607.1 113.3,607.2 112.8,606.7C112.3,606.3 111.8,605.2 111.3,604.2C110.9,603.2 110.3,602.1 110.1,600.7C110.0,599.4 110.1,597.8 110.2,595.9C110.3,594.1 110.5,591.7 110.8,589.5C111.1,587.3 111.9,584.8 112.2,582.7C112.6,580.5 112.6,578.1 112.8,576.5C113.1,575.0 113.3,574.2 113.7,573.4C114.0,572.7 114.5,572.1 114.8,572.2Z" fill="none" stroke="#fff" stroke-width="0.85"/>
<path d="M114.9,574.0C115.3,574.0 115.7,574.3 116.0,574.7C116.2,575.1 116.4,575.6 116.6,576.3C116.7,577.1 116.8,578.3 116.9,579.4C117.0,580.5 117.0,581.9 117.1,583.0C117.1,584.1 117.2,585.3 117.2,586.2C117.2,587.2 117.1,588.0 117.0,588.8C116.9,589.5 116.7,590.1 116.5,590.6C116.2,591.0 115.9,591.4 115.7,591.6C115.4,591.9 115.2,592.0 114.9,592.0C114.6,592.0 114.4,591.9 114.1,591.6C113.9,591.4 113.6,591.0 113.3,590.6C113.1,590.1 112.9,589.5 112.8,588.8C112.7,588.0 112.6,587.2 112.6,586.2C112.6,585.3 112.7,584.1 112.7,583.0C112.8,581.9 112.8,580.5 112.9,579.4C113.0,578.3 113.1,577.1 113.2,576.3C113.4,575.6 113.6,575.1 113.8,574.7C114.1,574.3 114.5,574.0 114.9,574.0Z" fill="#8a8a8a"/>
<path d="M114.9,574.9C115.2,574.9 115.6,575.2 115.9,575.5C116.1,575.9 116.3,576.3 116.4,577.0C116.6,577.7 116.6,578.7 116.7,579.7C116.8,580.7 116.8,582.0 116.9,583.0C116.9,584.0 117.0,585.1 117.0,585.9C117.0,586.8 116.9,587.6 116.8,588.2C116.7,588.9 116.5,589.4 116.3,589.8C116.1,590.3 115.8,590.6 115.6,590.8C115.4,591.0 115.1,591.1 114.9,591.1C114.7,591.1 114.4,591.0 114.2,590.8C114.0,590.6 113.7,590.3 113.5,589.8C113.3,589.4 113.1,588.9 113.0,588.2C112.9,587.6 112.8,586.8 112.8,585.9C112.8,585.1 112.9,584.0 112.9,583.0C113.0,582.0 113.0,580.7 113.1,579.7C113.2,578.7 113.2,577.7 113.4,577.0C113.5,576.3 113.7,575.9 113.9,575.5C114.2,575.2 114.6,574.9 114.9,574.9Z" fill="none" stroke="#0c0c0c" stroke-width="0.9" filter="url(#b06)"/>
<path d="M114.9,574.0C115.3,574.0 115.7,574.3 116.0,574.7C116.2,575.1 116.4,575.6 116.6,576.3C116.7,577.1 116.8,578.3 116.9,579.4C117.0,580.5 117.0,581.9 117.1,583.0C117.1,584.1 117.2,585.3 117.2,586.2C117.2,587.2 117.1,588.0 117.0,588.8C116.9,589.5 116.7,590.1 116.5,590.6C116.2,591.0 115.9,591.4 115.7,591.6C115.4,591.9 115.2,592.0 114.9,592.0C114.6,592.0 114.4,591.9 114.1,591.6C113.9,591.4 113.6,591.0 113.3,590.6C113.1,590.1 112.9,589.5 112.8,588.8C112.7,588.0 112.6,587.2 112.6,586.2C112.6,585.3 112.7,584.1 112.7,583.0C112.8,581.9 112.8,580.5 112.9,579.4C113.0,578.3 113.1,577.1 113.2,576.3C113.4,575.6 113.6,575.1 113.8,574.7C114.1,574.3 114.5,574.0 114.9,574.0Z" fill="none" stroke="#fff" stroke-width="0.85"/>
<ellipse cx="114.8" cy="579.7" rx="0.6" ry="0.6" fill="#e8e8e8" stroke="#fff" stroke-width="0.5"/>
<ellipse cx="115.2" cy="588.9" rx="0.6" ry="1.0" fill="#e8e8e8" stroke="#fff" stroke-width="0.5"/>
<ellipse cx="114.4" cy="600.4" rx="1.7" ry="3.2" fill="#111" filter="url(#b06)" transform="rotate(0 114.4 600.4)"/>
<ellipse cx="108.6" cy="626.2" rx="1.2" ry="1.0" fill="#111"/>
<clipPath id="bc9"><path d="M203.8,558.9C204.4,558.9 205.4,559.6 206.1,560.0C206.9,560.3 207.8,560.6 208.4,561.2C209.0,561.8 209.3,563.0 209.8,563.7C210.4,564.5 211.5,564.9 211.9,565.8C212.3,566.7 212.2,568.2 212.4,569.4C212.7,570.5 213.2,571.7 213.6,572.8C214.0,573.9 214.4,575.0 214.7,576.2C215.0,577.3 215.4,578.7 215.4,579.7C215.4,580.7 214.7,581.5 214.5,582.5C214.3,583.4 214.2,584.3 214.2,585.4C214.2,586.5 214.3,587.7 214.4,588.9C214.5,590.1 214.6,591.2 214.8,592.4C215.0,593.6 215.4,594.7 215.5,595.8C215.6,597.0 215.6,598.2 215.4,599.3C215.2,600.4 214.4,601.5 214.1,602.6C213.8,603.8 214.0,605.1 213.6,606.2C213.2,607.3 212.4,608.3 211.8,609.2C211.1,610.2 210.4,611.2 209.6,612.0C208.8,612.8 207.8,613.3 206.8,613.9C205.8,614.4 204.8,615.0 203.8,615.4C202.8,615.8 201.9,616.1 201.0,616.4C200.0,616.7 199.0,617.1 198.1,617.2C197.2,617.3 196.6,616.9 195.8,616.8C195.0,616.7 194.3,616.9 193.5,616.6C192.7,616.3 191.9,615.5 191.2,614.8C190.5,614.2 189.9,613.4 189.4,612.6C188.9,611.8 188.6,610.8 188.1,609.9C187.6,609.1 186.9,608.3 186.5,607.4C186.1,606.5 186.2,605.4 185.9,604.4C185.7,603.4 184.9,602.6 184.8,601.6C184.7,600.6 185.0,599.5 185.1,598.5C185.2,597.4 185.2,596.2 185.4,595.3C185.6,594.4 186.2,593.8 186.5,593.0C186.8,592.3 186.7,591.2 187.1,590.6C187.5,590.0 188.3,589.8 188.9,589.3C189.5,588.8 190.2,588.5 190.6,587.8C191.0,587.1 191.1,585.9 191.1,584.9C191.2,584.0 191.1,583.0 191.1,582.0C191.1,581.0 191.2,580.0 191.4,579.0C191.6,578.1 192.0,577.2 192.3,576.2C192.6,575.2 192.7,574.3 193.0,573.3C193.3,572.4 193.6,571.5 194.0,570.5C194.4,569.5 195.1,568.6 195.7,567.6C196.3,566.6 197.0,565.6 197.5,564.7C198.0,563.8 198.4,563.1 199.0,562.5C199.6,561.8 200.4,561.1 201.0,560.7C201.6,560.3 202.2,560.5 202.6,560.2C203.1,559.9 203.2,558.9 203.8,558.9Z"/></clipPath>
<path d="M203.8,558.9C204.4,558.9 205.4,559.6 206.1,560.0C206.9,560.3 207.8,560.6 208.4,561.2C209.0,561.8 209.3,563.0 209.8,563.7C210.4,564.5 211.5,564.9 211.9,565.8C212.3,566.7 212.2,568.2 212.4,569.4C212.7,570.5 213.2,571.7 213.6,572.8C214.0,573.9 214.4,575.0 214.7,576.2C215.0,577.3 215.4,578.7 215.4,579.7C215.4,580.7 214.7,581.5 214.5,582.5C214.3,583.4 214.2,584.3 214.2,585.4C214.2,586.5 214.3,587.7 214.4,588.9C214.5,590.1 214.6,591.2 214.8,592.4C215.0,593.6 215.4,594.7 215.5,595.8C215.6,597.0 215.6,598.2 215.4,599.3C215.2,600.4 214.4,601.5 214.1,602.6C213.8,603.8 214.0,605.1 213.6,606.2C213.2,607.3 212.4,608.3 211.8,609.2C211.1,610.2 210.4,611.2 209.6,612.0C208.8,612.8 207.8,613.3 206.8,613.9C205.8,614.4 204.8,615.0 203.8,615.4C202.8,615.8 201.9,616.1 201.0,616.4C200.0,616.7 199.0,617.1 198.1,617.2C197.2,617.3 196.6,616.9 195.8,616.8C195.0,616.7 194.3,616.9 193.5,616.6C192.7,616.3 191.9,615.5 191.2,614.8C190.5,614.2 189.9,613.4 189.4,612.6C188.9,611.8 188.6,610.8 188.1,609.9C187.6,609.1 186.9,608.3 186.5,607.4C186.1,606.5 186.2,605.4 185.9,604.4C185.7,603.4 184.9,602.6 184.8,601.6C184.7,600.6 185.0,599.5 185.1,598.5C185.2,597.4 185.2,596.2 185.4,595.3C185.6,594.4 186.2,593.8 186.5,593.0C186.8,592.3 186.7,591.2 187.1,590.6C187.5,590.0 188.3,589.8 188.9,589.3C189.5,588.8 190.2,588.5 190.6,587.8C191.0,587.1 191.1,585.9 191.1,584.9C191.2,584.0 191.1,583.0 191.1,582.0C191.1,581.0 191.2,580.0 191.4,579.0C191.6,578.1 192.0,577.2 192.3,576.2C192.6,575.2 192.7,574.3 193.0,573.3C193.3,572.4 193.6,571.5 194.0,570.5C194.4,569.5 195.1,568.6 195.7,567.6C196.3,566.6 197.0,565.6 197.5,564.7C198.0,563.8 198.4,563.1 199.0,562.5C199.6,561.8 200.4,561.1 201.0,560.7C201.6,560.3 202.2,560.5 202.6,560.2C203.1,559.9 203.2,558.9 203.8,558.9Z" fill="#808080" stroke="#000" stroke-width="2.4" stroke-linejoin="round"/>
<g clip-path="url(#bc9)">
<path d="M203.8,558.9C204.4,558.9 205.4,559.6 206.1,560.0C206.9,560.3 207.8,560.6 208.4,561.2C209.0,561.8 209.3,563.0 209.8,563.7C210.4,564.5 211.5,564.9 211.9,565.8C212.3,566.7 212.2,568.2 212.4,569.4C212.7,570.5 213.2,571.7 213.6,572.8C214.0,573.9 214.4,575.0 214.7,576.2C215.0,577.3 215.4,578.7 215.4,579.7C215.4,580.7 214.7,581.5 214.5,582.5C214.3,583.4 214.2,584.3 214.2,585.4C214.2,586.5 214.3,587.7 214.4,588.9C214.5,590.1 214.6,591.2 214.8,592.4C215.0,593.6 215.4,594.7 215.5,595.8C215.6,597.0 215.6,598.2 215.4,599.3C215.2,600.4 214.4,601.5 214.1,602.6C213.8,603.8 214.0,605.1 213.6,606.2C213.2,607.3 212.4,608.3 211.8,609.2C211.1,610.2 210.4,611.2 209.6,612.0C208.8,612.8 207.8,613.3 206.8,613.9C205.8,614.4 204.8,615.0 203.8,615.4C202.8,615.8 201.9,616.1 201.0,616.4C200.0,616.7 199.0,617.1 198.1,617.2C197.2,617.3 196.6,616.9 195.8,616.8C195.0,616.7 194.3,616.9 193.5,616.6C192.7,616.3 191.9,615.5 191.2,614.8C190.5,614.2 189.9,613.4 189.4,612.6C188.9,611.8 188.6,610.8 188.1,609.9C187.6,609.1 186.9,608.3 186.5,607.4C186.1,606.5 186.2,605.4 185.9,604.4C185.7,603.4 184.9,602.6 184.8,601.6C184.7,600.6 185.0,599.5 185.1,598.5C185.2,597.4 185.2,596.2 185.4,595.3C185.6,594.4 186.2,593.8 186.5,593.0C186.8,592.3 186.7,591.2 187.1,590.6C187.5,590.0 188.3,589.8 188.9,589.3C189.5,588.8 190.2,588.5 190.6,587.8C191.0,587.1 191.1,585.9 191.1,584.9C191.2,584.0 191.1,583.0 191.1,582.0C191.1,581.0 191.2,580.0 191.4,579.0C191.6,578.1 192.0,577.2 192.3,576.2C192.6,575.2 192.7,574.3 193.0,573.3C193.3,572.4 193.6,571.5 194.0,570.5C194.4,569.5 195.1,568.6 195.7,567.6C196.3,566.6 197.0,565.6 197.5,564.7C198.0,563.8 198.4,563.1 199.0,562.5C199.6,561.8 200.4,561.1 201.0,560.7C201.6,560.3 202.2,560.5 202.6,560.2C203.1,559.9 203.2,558.9 203.8,558.9Z" fill="none" stroke="#060606" stroke-width="3.0" filter="url(#b08)"/>
<ellipse cx="190" cy="606" rx="3.2" ry="6" fill="#0a0a0a" opacity="1" filter="url(#soft3)" transform="rotate(20 190 606)"/>
<ellipse cx="193.5" cy="584" rx="1.5" ry="6" fill="#b0b0b0" opacity="0.8" filter="url(#soft3)" transform="rotate(8 193.5 584)"/>
</g>
<path d="M203.7,564.6C204.6,564.6 205.7,565.6 206.5,566.6C207.2,567.6 207.8,568.8 208.2,570.8C208.6,572.8 208.6,575.7 209.0,578.6C209.4,581.5 210.1,585.2 210.5,588.1C210.8,591.1 211.2,593.9 211.1,596.3C211.1,598.8 210.7,601.1 210.2,603.0C209.8,604.9 209.2,606.6 208.4,607.9C207.6,609.1 206.4,609.9 205.5,610.5C204.7,611.2 203.9,611.8 203.1,611.8C202.3,611.8 201.6,611.2 200.8,610.5C199.9,609.8 198.9,608.9 198.2,607.7C197.5,606.4 196.8,604.8 196.3,602.9C195.9,601.1 195.5,599.2 195.5,596.7C195.5,594.2 196.0,590.9 196.4,587.9C196.8,584.9 197.6,581.7 198.0,578.8C198.4,576.0 198.4,572.9 198.9,570.9C199.4,568.8 200.1,567.5 200.9,566.5C201.7,565.4 202.7,564.6 203.7,564.6Z" fill="#b4b4b4"/>
<path d="M203.6,565.7C204.5,565.8 205.6,566.6 206.3,567.6C207.0,568.6 207.6,569.7 208.0,571.7C208.4,573.6 208.4,576.3 208.7,579.1C209.1,581.8 209.8,585.3 210.1,588.1C210.5,590.9 210.8,593.6 210.8,595.9C210.7,598.3 210.4,600.5 209.9,602.3C209.5,604.1 208.9,605.7 208.2,606.9C207.4,608.1 206.3,608.8 205.4,609.5C204.6,610.1 203.9,610.7 203.1,610.7C202.3,610.7 201.7,610.1 200.9,609.4C200.1,608.8 199.2,607.9 198.5,606.7C197.8,605.5 197.1,604.0 196.7,602.2C196.2,600.5 195.8,598.7 195.9,596.3C195.9,593.9 196.3,590.8 196.7,587.9C197.1,585.1 197.8,582.0 198.2,579.3C198.6,576.5 198.7,573.6 199.1,571.7C199.6,569.7 200.2,568.5 201.0,567.5C201.7,566.5 202.8,565.7 203.6,565.7Z" fill="none" stroke="#050505" stroke-width="1.15" filter="url(#b06)"/>
<path d="M203.7,564.6C204.6,564.6 205.7,565.6 206.5,566.6C207.2,567.6 207.8,568.8 208.2,570.8C208.6,572.8 208.6,575.7 209.0,578.6C209.4,581.5 210.1,585.2 210.5,588.1C210.8,591.1 211.2,593.9 211.1,596.3C211.1,598.8 210.7,601.1 210.2,603.0C209.8,604.9 209.2,606.6 208.4,607.9C207.6,609.1 206.4,609.9 205.5,610.5C204.7,611.2 203.9,611.8 203.1,611.8C202.3,611.8 201.6,611.2 200.8,610.5C199.9,609.8 198.9,608.9 198.2,607.7C197.5,606.4 196.8,604.8 196.3,602.9C195.9,601.1 195.5,599.2 195.5,596.7C195.5,594.2 196.0,590.9 196.4,587.9C196.8,584.9 197.6,581.7 198.0,578.8C198.4,576.0 198.4,572.9 198.9,570.9C199.4,568.8 200.1,567.5 200.9,566.5C201.7,565.4 202.7,564.6 203.7,564.6Z" fill="none" stroke="#fff" stroke-width="0.85"/>
<path d="M203.5,566.9C204.1,566.9 205.0,567.8 205.6,568.6C206.2,569.5 206.7,570.4 207.0,572.2C207.4,574.0 207.4,576.8 207.7,579.4C207.9,582.0 208.2,585.2 208.4,587.9C208.7,590.7 209.1,593.6 209.1,595.9C209.1,598.3 208.7,600.3 208.4,602.0C208.1,603.7 207.6,604.9 207.1,606.1C206.6,607.2 206.0,608.1 205.4,608.7C204.7,609.3 203.8,609.6 203.1,609.6C202.4,609.6 201.9,609.1 201.3,608.5C200.7,607.9 200.0,607.0 199.5,605.9C198.9,604.9 198.4,603.7 198.0,602.1C197.6,600.4 197.2,598.3 197.2,596.0C197.3,593.7 197.8,591.0 198.1,588.2C198.4,585.4 198.6,582.0 199.0,579.3C199.3,576.7 199.7,574.3 200.1,572.5C200.5,570.7 200.9,569.5 201.5,568.5C202.0,567.6 202.8,566.9 203.5,566.9Z" fill="#b4b4b4"/>
<path d="M203.4,568.0C204.1,568.1 204.9,568.8 205.5,569.7C206.1,570.5 206.5,571.3 206.8,573.0C207.2,574.7 207.2,577.4 207.4,579.9C207.7,582.3 207.9,585.3 208.2,587.9C208.4,590.5 208.8,593.3 208.8,595.5C208.8,597.7 208.4,599.6 208.1,601.2C207.8,602.8 207.4,604.0 206.9,605.1C206.4,606.2 205.9,607.1 205.3,607.6C204.6,608.2 203.8,608.5 203.1,608.4C202.5,608.4 202.0,608.0 201.4,607.4C200.9,606.9 200.2,606.0 199.7,605.0C199.2,604.0 198.7,602.9 198.3,601.3C197.9,599.7 197.5,597.8 197.6,595.6C197.6,593.4 198.1,590.8 198.4,588.2C198.7,585.6 198.9,582.3 199.2,579.8C199.5,577.3 199.9,575.0 200.3,573.3C200.7,571.6 201.1,570.5 201.6,569.6C202.1,568.7 202.8,568.0 203.4,568.0Z" fill="none" stroke="#050505" stroke-width="1.15" filter="url(#b06)"/>
<path d="M203.5,566.9C204.1,566.9 205.0,567.8 205.6,568.6C206.2,569.5 206.7,570.4 207.0,572.2C207.4,574.0 207.4,576.8 207.7,579.4C207.9,582.0 208.2,585.2 208.4,587.9C208.7,590.7 209.1,593.6 209.1,595.9C209.1,598.3 208.7,600.3 208.4,602.0C208.1,603.7 207.6,604.9 207.1,606.1C206.6,607.2 206.0,608.1 205.4,608.7C204.7,609.3 203.8,609.6 203.1,609.6C202.4,609.6 201.9,609.1 201.3,608.5C200.7,607.9 200.0,607.0 199.5,605.9C198.9,604.9 198.4,603.7 198.0,602.1C197.6,600.4 197.2,598.3 197.2,596.0C197.3,593.7 197.8,591.0 198.1,588.2C198.4,585.4 198.6,582.0 199.0,579.3C199.3,576.7 199.7,574.3 200.1,572.5C200.5,570.7 200.9,569.5 201.5,568.5C202.0,567.6 202.8,566.9 203.5,566.9Z" fill="none" stroke="#fff" stroke-width="0.85"/>
<path d="M203.8,569.1C204.2,569.1 204.4,569.6 204.7,570.4C205.0,571.2 205.4,572.4 205.6,574.1C205.8,575.8 205.8,578.2 206.1,580.6C206.3,583.0 206.9,586.0 207.1,588.4C207.3,590.9 207.2,593.4 207.2,595.4C207.2,597.5 207.0,599.0 206.8,600.6C206.7,602.1 206.5,603.6 206.1,604.7C205.7,605.8 205.0,606.6 204.5,607.0C204.0,607.5 203.7,607.6 203.2,607.5C202.8,607.4 202.2,607.2 201.7,606.7C201.2,606.1 200.6,605.3 200.2,604.3C199.9,603.4 199.8,602.4 199.6,600.9C199.4,599.3 199.0,597.1 199.1,595.0C199.1,592.9 199.8,590.7 200.1,588.3C200.4,585.8 200.4,582.7 200.7,580.4C200.9,578.0 201.3,575.8 201.6,574.1C201.8,572.4 202.0,571.2 202.4,570.4C202.8,569.6 203.4,569.1 203.8,569.1Z" fill="#b4b4b4"/>
<path d="M203.8,570.3C204.1,570.3 204.3,570.7 204.6,571.4C204.9,572.2 205.3,573.3 205.5,574.9C205.7,576.5 205.7,578.8 205.9,581.1C206.1,583.3 206.7,586.1 206.9,588.4C207.0,590.7 207.0,593.1 207.0,595.0C206.9,596.9 206.8,598.3 206.6,599.8C206.5,601.3 206.3,602.7 205.9,603.7C205.6,604.7 204.9,605.5 204.5,605.9C204.0,606.3 203.7,606.4 203.2,606.3C202.8,606.3 202.3,606.0 201.8,605.5C201.4,605.0 200.8,604.3 200.4,603.3C200.1,602.4 200.0,601.6 199.8,600.1C199.6,598.6 199.2,596.5 199.3,594.6C199.4,592.6 200.0,590.5 200.3,588.3C200.5,586.0 200.6,583.1 200.8,580.8C201.0,578.6 201.4,576.5 201.7,574.9C201.9,573.4 202.1,572.3 202.5,571.5C202.8,570.7 203.4,570.3 203.8,570.3Z" fill="none" stroke="#050505" stroke-width="1.15" filter="url(#b06)"/>
<path d="M203.8,569.1C204.2,569.1 204.4,569.6 204.7,570.4C205.0,571.2 205.4,572.4 205.6,574.1C205.8,575.8 205.8,578.2 206.1,580.6C206.3,583.0 206.9,586.0 207.1,588.4C207.3,590.9 207.2,593.4 207.2,595.4C207.2,597.5 207.0,599.0 206.8,600.6C206.7,602.1 206.5,603.6 206.1,604.7C205.7,605.8 205.0,606.6 204.5,607.0C204.0,607.5 203.7,607.6 203.2,607.5C202.8,607.4 202.2,607.2 201.7,606.7C201.2,606.1 200.6,605.3 200.2,604.3C199.9,603.4 199.8,602.4 199.6,600.9C199.4,599.3 199.0,597.1 199.1,595.0C199.1,592.9 199.8,590.7 200.1,588.3C200.4,585.8 200.4,582.7 200.7,580.4C200.9,578.0 201.3,575.8 201.6,574.1C201.8,572.4 202.0,571.2 202.4,570.4C202.8,569.6 203.4,569.1 203.8,569.1Z" fill="none" stroke="#fff" stroke-width="0.85"/>
<path d="M203.5,572.0C203.8,572.0 204.2,572.3 204.5,572.7C204.8,573.1 204.9,573.6 205.1,574.4C205.2,575.2 205.3,576.4 205.3,577.5C205.4,578.7 205.5,580.1 205.5,581.2C205.6,582.4 205.6,583.6 205.6,584.6C205.6,585.6 205.5,586.4 205.4,587.2C205.3,587.9 205.1,588.5 204.9,589.0C204.7,589.5 204.5,589.9 204.2,590.1C204.0,590.4 203.7,590.5 203.5,590.5C203.3,590.5 203.0,590.4 202.8,590.1C202.5,589.9 202.3,589.5 202.1,589.0C201.9,588.5 201.7,587.9 201.6,587.2C201.5,586.4 201.4,585.6 201.4,584.6C201.4,583.6 201.4,582.4 201.5,581.2C201.5,580.1 201.6,578.7 201.7,577.5C201.7,576.4 201.8,575.2 201.9,574.4C202.1,573.6 202.2,573.1 202.5,572.7C202.8,572.3 203.2,572.0 203.5,572.0Z" fill="#8a8a8a"/>
<path d="M203.5,572.8C203.8,572.8 204.2,573.1 204.4,573.5C204.6,573.9 204.8,574.3 204.9,575.0C205.1,575.7 205.1,576.8 205.2,577.9C205.2,578.9 205.3,580.2 205.3,581.2C205.4,582.3 205.4,583.4 205.4,584.2C205.4,585.1 205.4,585.9 205.3,586.6C205.2,587.3 205.0,587.8 204.8,588.3C204.6,588.7 204.4,589.1 204.1,589.3C203.9,589.5 203.7,589.6 203.5,589.6C203.3,589.6 203.1,589.5 202.9,589.3C202.6,589.1 202.4,588.7 202.2,588.3C202.0,587.8 201.8,587.3 201.7,586.6C201.6,585.9 201.6,585.1 201.6,584.2C201.6,583.4 201.6,582.3 201.7,581.2C201.7,580.2 201.8,578.9 201.8,577.9C201.9,576.8 201.9,575.7 202.1,575.0C202.2,574.3 202.4,573.9 202.6,573.5C202.8,573.1 203.2,572.8 203.5,572.8Z" fill="none" stroke="#0c0c0c" stroke-width="0.9" filter="url(#b06)"/>
<path d="M203.5,572.0C203.8,572.0 204.2,572.3 204.5,572.7C204.8,573.1 204.9,573.6 205.1,574.4C205.2,575.2 205.3,576.4 205.3,577.5C205.4,578.7 205.5,580.1 205.5,581.2C205.6,582.4 205.6,583.6 205.6,584.6C205.6,585.6 205.5,586.4 205.4,587.2C205.3,587.9 205.1,588.5 204.9,589.0C204.7,589.5 204.5,589.9 204.2,590.1C204.0,590.4 203.7,590.5 203.5,590.5C203.3,590.5 203.0,590.4 202.8,590.1C202.5,589.9 202.3,589.5 202.1,589.0C201.9,588.5 201.7,587.9 201.6,587.2C201.5,586.4 201.4,585.6 201.4,584.6C201.4,583.6 201.4,582.4 201.5,581.2C201.5,580.1 201.6,578.7 201.7,577.5C201.7,576.4 201.8,575.2 201.9,574.4C202.1,573.6 202.2,573.1 202.5,572.7C202.8,572.3 203.2,572.0 203.5,572.0Z" fill="none" stroke="#fff" stroke-width="0.85"/>
<ellipse cx="203.5" cy="582" rx="0.7" ry="6.5" fill="#111" filter="url(#b06)" transform="rotate(0 203.5 582)"/>
<path d="M205.4,600.4C205.4,601.0 205.3,601.7 205.1,602.2C204.9,602.7 204.7,603.2 204.4,603.5C204.0,603.8 203.7,604.0 203.3,604.0C203.0,604.0 202.6,603.8 202.2,603.5C201.9,603.2 201.7,602.7 201.5,602.2C201.3,601.7 201.2,601.0 201.2,600.4C201.2,599.8 201.3,599.1 201.5,598.6C201.7,598.1 201.9,597.6 202.2,597.3C202.6,597.0 203.0,596.8 203.3,596.8C203.7,596.8 204.0,597.0 204.4,597.3C204.7,597.6 204.9,598.1 205.1,598.6C205.3,599.1 205.4,599.8 205.4,600.4Z" fill="#909090"/>
<path d="M205.0,600.4C205.0,600.9 204.9,601.4 204.7,601.8C204.6,602.2 204.4,602.6 204.1,602.9C203.9,603.1 203.6,603.3 203.3,603.3C203.0,603.3 202.7,603.1 202.5,602.9C202.2,602.6 202.0,602.2 201.9,601.8C201.7,601.4 201.6,600.9 201.6,600.4C201.6,599.9 201.7,599.4 201.9,599.0C202.0,598.6 202.2,598.2 202.5,597.9C202.7,597.7 203.0,597.5 203.3,597.5C203.6,597.5 203.9,597.7 204.1,597.9C204.4,598.2 204.6,598.6 204.7,599.0C204.9,599.4 205.0,599.9 205.0,600.4Z" fill="none" stroke="#0c0c0c" stroke-width="0.9" filter="url(#b06)"/>
<path d="M205.4,600.4C205.4,601.0 205.3,601.7 205.1,602.2C204.9,602.7 204.7,603.2 204.4,603.5C204.0,603.8 203.7,604.0 203.3,604.0C203.0,604.0 202.6,603.8 202.2,603.5C201.9,603.2 201.7,602.7 201.5,602.2C201.3,601.7 201.2,601.0 201.2,600.4C201.2,599.8 201.3,599.1 201.5,598.6C201.7,598.1 201.9,597.6 202.2,597.3C202.6,597.0 203.0,596.8 203.3,596.8C203.7,596.8 204.0,597.0 204.4,597.3C204.7,597.6 204.9,598.1 205.1,598.6C205.3,599.1 205.4,599.8 205.4,600.4Z" fill="none" stroke="#fff" stroke-width="0.85"/>
<circle cx="193.5" cy="626.0" r="1.7" fill="#ddd" stroke="#111" stroke-width="0.9"/>
<ellipse cx="201.8" cy="626.2" rx="1.0" ry="0.9" fill="#111"/>
<clipPath id="bc10"><path d="M289.1,557.2C289.7,557.2 290.6,558.0 291.3,558.3C292.1,558.5 293.0,558.3 293.7,558.9C294.4,559.5 294.9,560.7 295.4,561.7C295.9,562.6 296.2,563.6 296.6,564.7C297.0,565.8 297.4,566.9 297.7,568.1C298.0,569.2 298.1,570.4 298.3,571.6C298.5,572.8 298.5,573.9 298.6,575.1C298.7,576.2 299.0,577.3 299.1,578.5C299.2,579.7 299.2,580.8 299.1,582.0C299.0,583.1 298.4,584.2 298.3,585.4C298.2,586.6 298.2,587.7 298.3,588.9C298.3,590.1 298.8,591.3 298.7,592.4C298.6,593.5 298.0,594.6 297.7,595.8C297.5,596.9 297.4,598.2 297.2,599.3C297.0,600.4 296.8,601.4 296.4,602.4C296.1,603.3 295.5,604.2 294.9,605.1C294.3,606.0 293.6,606.7 293.0,607.6C292.4,608.5 292.1,609.5 291.4,610.3C290.7,611.1 289.7,611.6 288.8,612.3C287.9,613.0 287.1,613.8 286.2,614.3C285.3,614.8 284.4,614.8 283.6,615.0C282.7,615.3 281.8,616.0 281.0,616.0C280.2,616.0 279.6,615.2 278.8,615.1C278.0,614.9 277.2,615.2 276.4,614.9C275.6,614.6 274.8,613.1 274.2,613.2C273.6,613.3 273.2,614.7 273.0,615.6C272.7,616.4 273.1,618.0 272.6,618.2C272.1,618.4 270.6,617.2 270.2,616.5C269.8,615.8 270.1,614.9 270.0,614.2C270.0,613.4 270.3,612.6 270.0,611.8C269.7,611.0 268.5,610.2 268.2,609.5C267.9,608.8 268.4,608.4 268.3,607.8C268.2,607.3 267.8,607.0 267.8,606.2C267.8,605.4 268.2,603.9 268.3,602.8C268.4,601.6 268.1,600.4 268.3,599.3C268.5,598.2 269.1,597.1 269.3,595.9C269.5,594.8 269.3,593.5 269.5,592.4C269.7,591.3 269.9,590.3 270.3,589.3C270.6,588.4 271.4,587.4 271.8,586.6C272.2,585.8 272.6,585.3 272.9,584.5C273.1,583.8 273.4,582.8 273.2,582.2C273.0,581.6 272.2,581.4 271.8,580.9C271.4,580.4 270.9,580.0 270.8,579.3C270.7,578.6 271.2,577.6 271.5,576.8C271.8,576.0 272.2,575.0 272.8,574.5C273.4,574.0 274.2,574.2 274.9,574.0C275.6,573.8 276.4,573.8 277.0,573.3C277.6,572.8 278.0,571.7 278.4,570.8C278.8,570.0 278.8,568.9 279.3,568.1C279.8,567.3 280.8,566.6 281.4,565.8C282.0,564.9 282.3,563.8 282.8,563.0C283.3,562.2 283.6,561.6 284.1,560.9C284.6,560.2 285.0,559.3 285.6,558.9C286.2,558.5 286.9,558.6 287.5,558.3C288.1,558.0 288.5,557.2 289.1,557.2Z"/></clipPath>
<path d="M289.1,557.2C289.7,557.2 290.6,558.0 291.3,558.3C292.1,558.5 293.0,558.3 293.7,558.9C294.4,559.5 294.9,560.7 295.4,561.7C295.9,562.6 296.2,563.6 296.6,564.7C297.0,565.8 297.4,566.9 297.7,568.1C298.0,569.2 298.1,570.4 298.3,571.6C298.5,572.8 298.5,573.9 298.6,575.1C298.7,576.2 299.0,577.3 299.1,578.5C299.2,579.7 299.2,580.8 299.1,582.0C299.0,583.1 298.4,584.2 298.3,585.4C298.2,586.6 298.2,587.7 298.3,588.9C298.3,590.1 298.8,591.3 298.7,592.4C298.6,593.5 298.0,594.6 297.7,595.8C297.5,596.9 297.4,598.2 297.2,599.3C297.0,600.4 296.8,601.4 296.4,602.4C296.1,603.3 295.5,604.2 294.9,605.1C294.3,606.0 293.6,606.7 293.0,607.6C292.4,608.5 292.1,609.5 291.4,610.3C290.7,611.1 289.7,611.6 288.8,612.3C287.9,613.0 287.1,613.8 286.2,614.3C285.3,614.8 284.4,614.8 283.6,615.0C282.7,615.3 281.8,616.0 281.0,616.0C280.2,616.0 279.6,615.2 278.8,615.1C278.0,614.9 277.2,615.2 276.4,614.9C275.6,614.6 274.8,613.1 274.2,613.2C273.6,613.3 273.2,614.7 273.0,615.6C272.7,616.4 273.1,618.0 272.6,618.2C272.1,618.4 270.6,617.2 270.2,616.5C269.8,615.8 270.1,614.9 270.0,614.2C270.0,613.4 270.3,612.6 270.0,611.8C269.7,611.0 268.5,610.2 268.2,609.5C267.9,608.8 268.4,608.4 268.3,607.8C268.2,607.3 267.8,607.0 267.8,606.2C267.8,605.4 268.2,603.9 268.3,602.8C268.4,601.6 268.1,600.4 268.3,599.3C268.5,598.2 269.1,597.1 269.3,595.9C269.5,594.8 269.3,593.5 269.5,592.4C269.7,591.3 269.9,590.3 270.3,589.3C270.6,588.4 271.4,587.4 271.8,586.6C272.2,585.8 272.6,585.3 272.9,584.5C273.1,583.8 273.4,582.8 273.2,582.2C273.0,581.6 272.2,581.4 271.8,580.9C271.4,580.4 270.9,580.0 270.8,579.3C270.7,578.6 271.2,577.6 271.5,576.8C271.8,576.0 272.2,575.0 272.8,574.5C273.4,574.0 274.2,574.2 274.9,574.0C275.6,573.8 276.4,573.8 277.0,573.3C277.6,572.8 278.0,571.7 278.4,570.8C278.8,570.0 278.8,568.9 279.3,568.1C279.8,567.3 280.8,566.6 281.4,565.8C282.0,564.9 282.3,563.8 282.8,563.0C283.3,562.2 283.6,561.6 284.1,560.9C284.6,560.2 285.0,559.3 285.6,558.9C286.2,558.5 286.9,558.6 287.5,558.3C288.1,558.0 288.5,557.2 289.1,557.2Z" fill="#808080" stroke="#000" stroke-width="2.4" stroke-linejoin="round"/>
<g clip-path="url(#bc10)">
<path d="M289.1,557.2C289.7,557.2 290.6,558.0 291.3,558.3C292.1,558.5 293.0,558.3 293.7,558.9C294.4,559.5 294.9,560.7 295.4,561.7C295.9,562.6 296.2,563.6 296.6,564.7C297.0,565.8 297.4,566.9 297.7,568.1C298.0,569.2 298.1,570.4 298.3,571.6C298.5,572.8 298.5,573.9 298.6,575.1C298.7,576.2 299.0,577.3 299.1,578.5C299.2,579.7 299.2,580.8 299.1,582.0C299.0,583.1 298.4,584.2 298.3,585.4C298.2,586.6 298.2,587.7 298.3,588.9C298.3,590.1 298.8,591.3 298.7,592.4C298.6,593.5 298.0,594.6 297.7,595.8C297.5,596.9 297.4,598.2 297.2,599.3C297.0,600.4 296.8,601.4 296.4,602.4C296.1,603.3 295.5,604.2 294.9,605.1C294.3,606.0 293.6,606.7 293.0,607.6C292.4,608.5 292.1,609.5 291.4,610.3C290.7,611.1 289.7,611.6 288.8,612.3C287.9,613.0 287.1,613.8 286.2,614.3C285.3,614.8 284.4,614.8 283.6,615.0C282.7,615.3 281.8,616.0 281.0,616.0C280.2,616.0 279.6,615.2 278.8,615.1C278.0,614.9 277.2,615.2 276.4,614.9C275.6,614.6 274.8,613.1 274.2,613.2C273.6,613.3 273.2,614.7 273.0,615.6C272.7,616.4 273.1,618.0 272.6,618.2C272.1,618.4 270.6,617.2 270.2,616.5C269.8,615.8 270.1,614.9 270.0,614.2C270.0,613.4 270.3,612.6 270.0,611.8C269.7,611.0 268.5,610.2 268.2,609.5C267.9,608.8 268.4,608.4 268.3,607.8C268.2,607.3 267.8,607.0 267.8,606.2C267.8,605.4 268.2,603.9 268.3,602.8C268.4,601.6 268.1,600.4 268.3,599.3C268.5,598.2 269.1,597.1 269.3,595.9C269.5,594.8 269.3,593.5 269.5,592.4C269.7,591.3 269.9,590.3 270.3,589.3C270.6,588.4 271.4,587.4 271.8,586.6C272.2,585.8 272.6,585.3 272.9,584.5C273.1,583.8 273.4,582.8 273.2,582.2C273.0,581.6 272.2,581.4 271.8,580.9C271.4,580.4 270.9,580.0 270.8,579.3C270.7,578.6 271.2,577.6 271.5,576.8C271.8,576.0 272.2,575.0 272.8,574.5C273.4,574.0 274.2,574.2 274.9,574.0C275.6,573.8 276.4,573.8 277.0,573.3C277.6,572.8 278.0,571.7 278.4,570.8C278.8,570.0 278.8,568.9 279.3,568.1C279.8,567.3 280.8,566.6 281.4,565.8C282.0,564.9 282.3,563.8 282.8,563.0C283.3,562.2 283.6,561.6 284.1,560.9C284.6,560.2 285.0,559.3 285.6,558.9C286.2,558.5 286.9,558.6 287.5,558.3C288.1,558.0 288.5,557.2 289.1,557.2Z" fill="none" stroke="#060606" stroke-width="3.0" filter="url(#b08)"/>
<ellipse cx="272.5" cy="600" rx="2.5" ry="8" fill="#0a0a0a" opacity="1" filter="url(#soft3)" transform="rotate(5 272.5 600)"/>
<ellipse cx="276.5" cy="582" rx="1.6" ry="5" fill="#b0b0b0" opacity="0.8" filter="url(#soft3)" transform="rotate(8 276.5 582)"/>
<ellipse cx="271.5" cy="614.5" rx="1.6" ry="3" fill="#000" opacity="1" filter="url(#soft3)" transform="rotate(0 271.5 614.5)"/>
</g>
<path d="M289.8,561.6C291.0,561.6 292.6,562.9 293.6,564.5C294.6,566.1 295.1,568.4 295.6,571.0C296.1,573.6 296.5,576.8 296.6,580.0C296.7,583.2 296.7,587.0 296.4,590.0C296.1,593.0 295.7,595.6 295.0,598.0C294.3,600.4 293.2,602.7 292.0,604.5C290.8,606.3 289.2,608.0 288.0,608.6C286.8,609.2 285.5,609.2 284.5,608.4C283.5,607.6 282.5,606.1 282.0,604.0C281.5,601.9 281.5,598.8 281.6,596.0C281.7,593.2 282.2,590.0 282.4,587.0C282.6,584.0 282.7,580.8 283.0,578.0C283.3,575.2 283.5,572.2 284.0,570.0C284.5,567.8 285.2,565.9 286.2,564.5C287.2,563.1 288.6,561.6 289.8,561.6Z" fill="#868686"/>
<path d="M289.8,563.0C290.9,563.0 292.4,564.3 293.4,565.8C294.3,567.2 294.8,569.4 295.2,571.9C295.7,574.3 296.0,577.3 296.2,580.3C296.3,583.3 296.2,586.9 296.0,589.7C295.7,592.5 295.4,594.9 294.7,597.2C294.0,599.5 292.9,601.7 291.9,603.3C290.8,605.0 289.3,606.5 288.1,607.2C286.9,607.8 285.8,607.7 284.8,607.0C283.9,606.3 282.9,604.8 282.5,602.8C282.0,600.9 282.0,598.0 282.1,595.3C282.2,592.7 282.6,589.7 282.8,586.9C283.1,584.1 283.2,581.1 283.4,578.4C283.7,575.8 283.8,573.0 284.3,570.9C284.8,568.8 285.5,567.1 286.4,565.8C287.3,564.4 288.6,563.0 289.8,563.0Z" fill="none" stroke="#080808" stroke-width="1.7" filter="url(#b06)"/>
<path d="M289.8,561.6C291.0,561.6 292.6,562.9 293.6,564.5C294.6,566.1 295.1,568.4 295.6,571.0C296.1,573.6 296.5,576.8 296.6,580.0C296.7,583.2 296.7,587.0 296.4,590.0C296.1,593.0 295.7,595.6 295.0,598.0C294.3,600.4 293.2,602.7 292.0,604.5C290.8,606.3 289.2,608.0 288.0,608.6C286.8,609.2 285.5,609.2 284.5,608.4C283.5,607.6 282.5,606.1 282.0,604.0C281.5,601.9 281.5,598.8 281.6,596.0C281.7,593.2 282.2,590.0 282.4,587.0C282.6,584.0 282.7,580.8 283.0,578.0C283.3,575.2 283.5,572.2 284.0,570.0C284.5,567.8 285.2,565.9 286.2,564.5C287.2,563.1 288.6,561.6 289.8,561.6Z" fill="none" stroke="#fff" stroke-width="0.85"/>
<path d="M289.8,566.3C290.7,566.3 292.0,567.3 292.8,568.6C293.6,569.9 294.0,571.7 294.4,573.8C294.8,575.9 295.1,578.5 295.2,581.0C295.3,583.5 295.3,586.6 295.0,589.0C294.8,591.4 294.5,593.5 293.9,595.4C293.3,597.3 292.5,599.2 291.5,600.6C290.6,602.0 289.3,603.4 288.3,603.9C287.3,604.4 286.3,604.3 285.5,603.7C284.7,603.1 283.9,601.9 283.5,600.2C283.1,598.5 283.1,596.1 283.2,593.8C283.3,591.5 283.7,589.0 283.8,586.6C284.0,584.2 284.1,581.7 284.3,579.4C284.5,577.1 284.7,574.8 285.1,573.0C285.5,571.2 286.1,569.7 286.9,568.6C287.7,567.5 288.8,566.3 289.8,566.3Z" fill="#868686"/>
<path d="M289.7,567.7C290.7,567.7 291.8,568.7 292.6,569.9C293.3,571.0 293.7,572.7 294.0,574.7C294.4,576.6 294.7,579.0 294.8,581.3C294.9,583.6 294.8,586.5 294.6,588.7C294.4,590.9 294.1,592.8 293.6,594.6C293.0,596.4 292.2,598.1 291.4,599.4C290.5,600.7 289.3,602.0 288.4,602.4C287.5,602.9 286.6,602.9 285.8,602.3C285.1,601.7 284.3,600.6 284.0,599.0C283.6,597.5 283.6,595.2 283.7,593.1C283.7,591.0 284.1,588.7 284.3,586.5C284.5,584.3 284.5,581.9 284.7,579.8C284.9,577.7 285.1,575.6 285.5,573.9C285.9,572.3 286.4,570.9 287.1,569.9C287.8,568.8 288.8,567.7 289.7,567.7Z" fill="none" stroke="#080808" stroke-width="1.7" filter="url(#b06)"/>
<path d="M289.8,566.3C290.7,566.3 292.0,567.3 292.8,568.6C293.6,569.9 294.0,571.7 294.4,573.8C294.8,575.9 295.1,578.5 295.2,581.0C295.3,583.5 295.3,586.6 295.0,589.0C294.8,591.4 294.5,593.5 293.9,595.4C293.3,597.3 292.5,599.2 291.5,600.6C290.6,602.0 289.3,603.4 288.3,603.9C287.3,604.4 286.3,604.3 285.5,603.7C284.7,603.1 283.9,601.9 283.5,600.2C283.1,598.5 283.1,596.1 283.2,593.8C283.3,591.5 283.7,589.0 283.8,586.6C284.0,584.2 284.1,581.7 284.3,579.4C284.5,577.1 284.7,574.8 285.1,573.0C285.5,571.2 286.1,569.7 286.9,568.6C287.7,567.5 288.8,566.3 289.8,566.3Z" fill="none" stroke="#fff" stroke-width="0.85"/>
<path d="M289.7,571.0C290.5,571.0 291.4,571.8 292.0,572.7C292.6,573.6 292.9,575.1 293.2,576.6C293.5,578.1 293.7,580.1 293.8,582.0C293.9,583.9 293.8,586.2 293.7,588.0C293.5,589.8 293.3,591.3 292.8,592.8C292.4,594.2 291.7,595.6 291.0,596.7C290.3,597.8 289.4,598.8 288.6,599.2C287.9,599.5 287.1,599.5 286.5,599.0C285.9,598.6 285.3,597.6 285.0,596.4C284.8,595.2 284.8,593.3 284.8,591.6C284.8,589.9 285.1,588.0 285.3,586.2C285.4,584.4 285.5,582.5 285.6,580.8C285.8,579.1 285.9,577.4 286.2,576.0C286.6,574.6 287.0,573.5 287.6,572.7C288.1,571.9 289.0,571.0 289.7,571.0Z" fill="#868686"/>
<path d="M289.7,572.4C290.4,572.4 291.2,573.1 291.8,574.0C292.3,574.8 292.6,576.1 292.8,577.5C293.1,578.8 293.3,580.6 293.4,582.3C293.4,584.0 293.4,586.1 293.3,587.7C293.1,589.3 292.9,590.7 292.5,592.0C292.1,593.3 291.5,594.6 290.9,595.5C290.3,596.5 289.4,597.4 288.7,597.7C288.1,598.1 287.4,598.0 286.9,597.6C286.3,597.2 285.8,596.4 285.5,595.2C285.2,594.1 285.3,592.5 285.3,590.9C285.3,589.4 285.6,587.7 285.7,586.1C285.8,584.5 285.9,582.8 286.0,581.2C286.2,579.7 286.3,578.1 286.6,576.9C286.9,575.7 287.2,574.7 287.8,574.0C288.3,573.2 289.0,572.4 289.7,572.4Z" fill="none" stroke="#080808" stroke-width="1.7" filter="url(#b06)"/>
<path d="M289.7,571.0C290.5,571.0 291.4,571.8 292.0,572.7C292.6,573.6 292.9,575.1 293.2,576.6C293.5,578.1 293.7,580.1 293.8,582.0C293.9,583.9 293.8,586.2 293.7,588.0C293.5,589.8 293.3,591.3 292.8,592.8C292.4,594.2 291.7,595.6 291.0,596.7C290.3,597.8 289.4,598.8 288.6,599.2C287.9,599.5 287.1,599.5 286.5,599.0C285.9,598.6 285.3,597.6 285.0,596.4C284.8,595.2 284.8,593.3 284.8,591.6C284.8,589.9 285.1,588.0 285.3,586.2C285.4,584.4 285.5,582.5 285.6,580.8C285.8,579.1 285.9,577.4 286.2,576.0C286.6,574.6 287.0,573.5 287.6,572.7C288.1,571.9 289.0,571.0 289.7,571.0Z" fill="none" stroke="#fff" stroke-width="0.85"/>
<path d="M290.0,569.5C290.3,569.5 290.7,569.9 290.9,570.4C291.2,570.9 291.3,571.5 291.5,572.6C291.6,573.6 291.6,575.1 291.7,576.5C291.7,578.0 291.8,579.8 291.8,581.2C291.8,582.7 291.9,584.2 291.9,585.5C291.8,586.7 291.8,587.8 291.6,588.8C291.5,589.7 291.3,590.5 291.0,591.1C290.8,591.7 290.5,592.2 290.3,592.5C290.0,592.8 289.7,593.0 289.5,593.0C289.3,593.0 289.0,592.8 288.8,592.5C288.5,592.2 288.2,591.7 288.0,591.1C287.8,590.5 287.7,589.7 287.6,588.8C287.5,587.8 287.4,586.7 287.5,585.5C287.5,584.2 287.6,582.7 287.7,581.2C287.8,579.8 287.9,578.0 288.0,576.5C288.1,575.1 288.2,573.6 288.4,572.6C288.6,571.5 288.8,570.9 289.0,570.4C289.3,569.9 289.7,569.5 290.0,569.5Z" fill="#8a8a8a"/>
<path d="M290.0,570.4C290.3,570.4 290.6,570.8 290.8,571.2C291.1,571.7 291.2,572.2 291.3,573.2C291.5,574.1 291.5,575.5 291.5,576.9C291.6,578.2 291.6,579.9 291.7,581.2C291.7,582.6 291.7,584.0 291.7,585.1C291.7,586.3 291.6,587.3 291.5,588.2C291.4,589.1 291.2,589.8 290.9,590.4C290.7,590.9 290.5,591.4 290.2,591.7C290.0,592.0 289.8,592.1 289.5,592.1C289.3,592.1 289.1,592.0 288.8,591.7C288.6,591.4 288.4,590.9 288.2,590.4C288.0,589.8 287.8,589.1 287.7,588.2C287.6,587.3 287.6,586.3 287.6,585.1C287.7,584.0 287.8,582.6 287.8,581.2C287.9,579.9 288.0,578.2 288.2,576.9C288.3,575.5 288.4,574.1 288.5,573.2C288.7,572.2 288.8,571.7 289.1,571.2C289.3,570.8 289.7,570.4 290.0,570.4Z" fill="none" stroke="#0c0c0c" stroke-width="0.9" filter="url(#b06)"/>
<path d="M290.0,569.5C290.3,569.5 290.7,569.9 290.9,570.4C291.2,570.9 291.3,571.5 291.5,572.6C291.6,573.6 291.6,575.1 291.7,576.5C291.7,578.0 291.8,579.8 291.8,581.2C291.8,582.7 291.9,584.2 291.9,585.5C291.8,586.7 291.8,587.8 291.6,588.8C291.5,589.7 291.3,590.5 291.0,591.1C290.8,591.7 290.5,592.2 290.3,592.5C290.0,592.8 289.7,593.0 289.5,593.0C289.3,593.0 289.0,592.8 288.8,592.5C288.5,592.2 288.2,591.7 288.0,591.1C287.8,590.5 287.7,589.7 287.6,588.8C287.5,587.8 287.4,586.7 287.5,585.5C287.5,584.2 287.6,582.7 287.7,581.2C287.8,579.8 287.9,578.0 288.0,576.5C288.1,575.1 288.2,573.6 288.4,572.6C288.6,571.5 288.8,570.9 289.0,570.4C289.3,569.9 289.7,569.5 290.0,569.5Z" fill="none" stroke="#fff" stroke-width="0.85"/>
<path d="M286.5,591.0C286.7,590.0 288.4,594.2 288.5,596.0C288.6,597.8 287.5,602.8 287.2,602.0" fill="none" stroke="#fff" stroke-width="0.95" stroke-linecap="round"/>
<ellipse cx="272.8" cy="579.4" rx="1.3" ry="1.3" fill="#fff" stroke="#fff" stroke-width="0.5"/>
<clipPath id="bc11"><path d="M118.4,653.8C118.8,654.0 119.1,655.0 119.5,655.6C119.9,656.2 120.4,656.7 120.8,657.3C121.2,657.9 121.5,658.7 122.0,659.4C122.4,660.1 122.9,661.0 123.4,661.3C123.9,661.6 124.6,661.4 125.1,661.2C125.7,661.1 126.6,660.1 126.7,660.4C126.8,660.7 126.3,662.2 126.0,663.0C125.7,663.8 125.0,664.5 124.8,665.4C124.6,666.3 124.9,667.3 124.8,668.3C124.7,669.2 124.2,670.1 124.2,671.1C124.2,672.1 124.3,673.1 124.5,674.1C124.7,675.0 125.1,675.9 125.4,676.9C125.7,677.9 125.9,679.2 126.1,680.3C126.3,681.5 126.4,682.6 126.5,683.8C126.6,685.0 126.8,686.1 126.9,687.3C127.0,688.5 127.2,689.7 127.1,690.8C127.0,691.9 126.6,692.7 126.5,693.6C126.4,694.6 126.7,695.7 126.5,696.5C126.3,697.3 126.0,698.0 125.6,698.7C125.2,699.4 124.8,700.4 124.2,700.6C123.6,700.8 122.7,700.1 121.9,700.0C121.2,699.9 120.5,699.9 119.6,700.0C118.7,700.1 117.7,700.2 116.7,700.3C115.7,700.4 114.8,700.5 113.8,700.6C112.8,700.7 111.9,700.7 110.9,700.6C110.0,700.5 109.0,700.3 108.1,700.0C107.2,699.7 106.2,699.3 105.3,699.1C104.3,698.9 103.0,699.0 102.3,698.8C101.6,698.6 101.4,698.0 100.9,697.6C100.4,697.2 99.6,697.2 99.4,696.5C99.2,695.8 99.5,694.5 99.7,693.6C99.9,692.6 100.3,691.7 100.6,690.8C100.9,689.9 101.4,688.9 101.7,688.0C102.0,687.0 102.0,686.0 102.3,685.0C102.6,684.0 103.1,683.1 103.4,682.2C103.6,681.2 103.7,680.1 104.0,679.2C104.3,678.3 104.9,677.8 105.3,677.0C105.7,676.2 106.0,675.4 106.3,674.6C106.6,673.8 107.0,673.1 107.3,672.3C107.6,671.6 108.1,670.9 108.1,670.0C108.1,669.1 107.7,668.0 107.3,667.1C106.9,666.2 105.7,665.2 105.8,664.6C105.9,664.0 107.0,663.7 107.7,663.5C108.3,663.2 109.2,663.5 109.8,663.1C110.4,662.7 110.9,661.7 111.3,661.0C111.7,660.2 111.7,659.2 112.1,658.5C112.5,657.8 113.3,657.4 113.9,656.8C114.5,656.2 115.1,655.4 115.6,655.0C116.1,654.6 116.5,654.4 116.9,654.2C117.4,654.0 118.0,653.6 118.4,653.8Z"/></clipPath>
<path d="M118.4,653.8C118.8,654.0 119.1,655.0 119.5,655.6C119.9,656.2 120.4,656.7 120.8,657.3C121.2,657.9 121.5,658.7 122.0,659.4C122.4,660.1 122.9,661.0 123.4,661.3C123.9,661.6 124.6,661.4 125.1,661.2C125.7,661.1 126.6,660.1 126.7,660.4C126.8,660.7 126.3,662.2 126.0,663.0C125.7,663.8 125.0,664.5 124.8,665.4C124.6,666.3 124.9,667.3 124.8,668.3C124.7,669.2 124.2,670.1 124.2,671.1C124.2,672.1 124.3,673.1 124.5,674.1C124.7,675.0 125.1,675.9 125.4,676.9C125.7,677.9 125.9,679.2 126.1,680.3C126.3,681.5 126.4,682.6 126.5,683.8C126.6,685.0 126.8,686.1 126.9,687.3C127.0,688.5 127.2,689.7 127.1,690.8C127.0,691.9 126.6,692.7 126.5,693.6C126.4,694.6 126.7,695.7 126.5,696.5C126.3,697.3 126.0,698.0 125.6,698.7C125.2,699.4 124.8,700.4 124.2,700.6C123.6,700.8 122.7,700.1 121.9,700.0C121.2,699.9 120.5,699.9 119.6,700.0C118.7,700.1 117.7,700.2 116.7,700.3C115.7,700.4 114.8,700.5 113.8,700.6C112.8,700.7 111.9,700.7 110.9,700.6C110.0,700.5 109.0,700.3 108.1,700.0C107.2,699.7 106.2,699.3 105.3,699.1C104.3,698.9 103.0,699.0 102.3,698.8C101.6,698.6 101.4,698.0 100.9,697.6C100.4,697.2 99.6,697.2 99.4,696.5C99.2,695.8 99.5,694.5 99.7,693.6C99.9,692.6 100.3,691.7 100.6,690.8C100.9,689.9 101.4,688.9 101.7,688.0C102.0,687.0 102.0,686.0 102.3,685.0C102.6,684.0 103.1,683.1 103.4,682.2C103.6,681.2 103.7,680.1 104.0,679.2C104.3,678.3 104.9,677.8 105.3,677.0C105.7,676.2 106.0,675.4 106.3,674.6C106.6,673.8 107.0,673.1 107.3,672.3C107.6,671.6 108.1,670.9 108.1,670.0C108.1,669.1 107.7,668.0 107.3,667.1C106.9,666.2 105.7,665.2 105.8,664.6C105.9,664.0 107.0,663.7 107.7,663.5C108.3,663.2 109.2,663.5 109.8,663.1C110.4,662.7 110.9,661.7 111.3,661.0C111.7,660.2 111.7,659.2 112.1,658.5C112.5,657.8 113.3,657.4 113.9,656.8C114.5,656.2 115.1,655.4 115.6,655.0C116.1,654.6 116.5,654.4 116.9,654.2C117.4,654.0 118.0,653.6 118.4,653.8Z" fill="#808080" stroke="#000" stroke-width="2.4" stroke-linejoin="round"/>
<g clip-path="url(#bc11)">
<path d="M118.4,653.8C118.8,654.0 119.1,655.0 119.5,655.6C119.9,656.2 120.4,656.7 120.8,657.3C121.2,657.9 121.5,658.7 122.0,659.4C122.4,660.1 122.9,661.0 123.4,661.3C123.9,661.6 124.6,661.4 125.1,661.2C125.7,661.1 126.6,660.1 126.7,660.4C126.8,660.7 126.3,662.2 126.0,663.0C125.7,663.8 125.0,664.5 124.8,665.4C124.6,666.3 124.9,667.3 124.8,668.3C124.7,669.2 124.2,670.1 124.2,671.1C124.2,672.1 124.3,673.1 124.5,674.1C124.7,675.0 125.1,675.9 125.4,676.9C125.7,677.9 125.9,679.2 126.1,680.3C126.3,681.5 126.4,682.6 126.5,683.8C126.6,685.0 126.8,686.1 126.9,687.3C127.0,688.5 127.2,689.7 127.1,690.8C127.0,691.9 126.6,692.7 126.5,693.6C126.4,694.6 126.7,695.7 126.5,696.5C126.3,697.3 126.0,698.0 125.6,698.7C125.2,699.4 124.8,700.4 124.2,700.6C123.6,700.8 122.7,700.1 121.9,700.0C121.2,699.9 120.5,699.9 119.6,700.0C118.7,700.1 117.7,700.2 116.7,700.3C115.7,700.4 114.8,700.5 113.8,700.6C112.8,700.7 111.9,700.7 110.9,700.6C110.0,700.5 109.0,700.3 108.1,700.0C107.2,699.7 106.2,699.3 105.3,699.1C104.3,698.9 103.0,699.0 102.3,698.8C101.6,698.6 101.4,698.0 100.9,697.6C100.4,697.2 99.6,697.2 99.4,696.5C99.2,695.8 99.5,694.5 99.7,693.6C99.9,692.6 100.3,691.7 100.6,690.8C100.9,689.9 101.4,688.9 101.7,688.0C102.0,687.0 102.0,686.0 102.3,685.0C102.6,684.0 103.1,683.1 103.4,682.2C103.6,681.2 103.7,680.1 104.0,679.2C104.3,678.3 104.9,677.8 105.3,677.0C105.7,676.2 106.0,675.4 106.3,674.6C106.6,673.8 107.0,673.1 107.3,672.3C107.6,671.6 108.1,670.9 108.1,670.0C108.1,669.1 107.7,668.0 107.3,667.1C106.9,666.2 105.7,665.2 105.8,664.6C105.9,664.0 107.0,663.7 107.7,663.5C108.3,663.2 109.2,663.5 109.8,663.1C110.4,662.7 110.9,661.7 111.3,661.0C111.7,660.2 111.7,659.2 112.1,658.5C112.5,657.8 113.3,657.4 113.9,656.8C114.5,656.2 115.1,655.4 115.6,655.0C116.1,654.6 116.5,654.4 116.9,654.2C117.4,654.0 118.0,653.6 118.4,653.8Z" fill="none" stroke="#060606" stroke-width="3.0" filter="url(#b08)"/>
<ellipse cx="103.5" cy="692" rx="2.0" ry="5" fill="#0a0a0a" opacity="1" filter="url(#soft3)" transform="rotate(15 103.5 692)"/>
</g>
<path d="M116.2,668.5C117.4,668.3 118.5,669.6 119.5,671.0C120.5,672.4 121.2,674.8 122.0,677.0C122.8,679.2 123.6,681.7 124.0,684.0C124.4,686.3 124.8,688.9 124.6,691.0C124.4,693.1 124.1,695.4 123.0,696.6C121.9,697.8 119.8,698.2 118.0,698.4C116.2,698.6 113.8,698.5 112.0,698.0C110.2,697.5 108.4,696.8 107.5,695.5C106.6,694.2 106.3,691.9 106.4,690.0C106.5,688.1 107.3,686.0 108.0,684.0C108.7,682.0 109.7,680.0 110.5,678.0C111.3,676.0 111.6,673.6 112.6,672.0C113.5,670.4 115.0,668.7 116.2,668.5Z" fill="#7a7a7a"/>
<path d="M116.1,670.0C117.2,669.8 118.3,671.0 119.1,672.3C120.0,673.6 120.8,675.8 121.4,677.8C122.1,679.7 122.9,682.0 123.3,684.2C123.7,686.3 124.0,688.7 123.8,690.6C123.7,692.5 123.4,694.6 122.4,695.7C121.3,696.8 119.5,697.1 117.8,697.4C116.1,697.6 113.9,697.4 112.3,697.0C110.7,696.6 109.0,695.9 108.2,694.7C107.3,693.5 107.1,691.4 107.1,689.7C107.2,687.9 108.0,686.0 108.6,684.2C109.2,682.3 110.2,680.5 110.9,678.7C111.6,676.8 112.0,674.6 112.8,673.2C113.7,671.7 115.1,670.1 116.1,670.0Z" fill="none" stroke="#0c0c0c" stroke-width="1.6" filter="url(#b06)"/>
<path d="M116.2,668.5C117.4,668.3 118.5,669.6 119.5,671.0C120.5,672.4 121.2,674.8 122.0,677.0C122.8,679.2 123.6,681.7 124.0,684.0C124.4,686.3 124.8,688.9 124.6,691.0C124.4,693.1 124.1,695.4 123.0,696.6C121.9,697.8 119.8,698.2 118.0,698.4C116.2,698.6 113.8,698.5 112.0,698.0C110.2,697.5 108.4,696.8 107.5,695.5C106.6,694.2 106.3,691.9 106.4,690.0C106.5,688.1 107.3,686.0 108.0,684.0C108.7,682.0 109.7,680.0 110.5,678.0C111.3,676.0 111.6,673.6 112.6,672.0C113.5,670.4 115.0,668.7 116.2,668.5Z" fill="none" stroke="#fff" stroke-width="0.85"/>
<path d="M123.0,689.4C123.0,690.7 122.6,692.1 121.9,693.2C121.3,694.3 120.2,695.3 119.0,696.0C117.8,696.6 116.3,697.0 115.0,697.0C113.7,697.0 112.2,696.6 111.0,696.0C109.8,695.3 108.7,694.3 108.1,693.2C107.4,692.1 107.0,690.7 107.0,689.4C107.0,688.1 107.4,686.7 108.1,685.6C108.7,684.5 109.8,683.5 111.0,682.8C112.2,682.2 113.7,681.8 115.0,681.8C116.3,681.8 117.8,682.2 119.0,682.8C120.2,683.5 121.3,684.5 121.9,685.6C122.6,686.7 123.0,688.1 123.0,689.4Z" fill="#9a9a9a"/>
<path d="M122.0,689.4C122.0,690.5 121.6,691.8 121.0,692.7C120.5,693.7 119.5,694.6 118.5,695.1C117.5,695.7 116.2,696.0 115.0,696.0C113.8,696.0 112.5,695.7 111.5,695.1C110.5,694.6 109.5,693.7 109.0,692.7C108.4,691.8 108.0,690.5 108.0,689.4C108.0,688.3 108.4,687.0 109.0,686.1C109.5,685.1 110.5,684.2 111.5,683.7C112.5,683.1 113.8,682.8 115.0,682.8C116.2,682.8 117.5,683.1 118.5,683.7C119.5,684.2 120.5,685.1 121.0,686.1C121.6,687.0 122.0,688.3 122.0,689.4Z" fill="none" stroke="#0c0c0c" stroke-width="1.5" filter="url(#b06)"/>
<path d="M123.0,689.4C123.0,690.7 122.6,692.1 121.9,693.2C121.3,694.3 120.2,695.3 119.0,696.0C117.8,696.6 116.3,697.0 115.0,697.0C113.7,697.0 112.2,696.6 111.0,696.0C109.8,695.3 108.7,694.3 108.1,693.2C107.4,692.1 107.0,690.7 107.0,689.4C107.0,688.1 107.4,686.7 108.1,685.6C108.7,684.5 109.8,683.5 111.0,682.8C112.2,682.2 113.7,681.8 115.0,681.8C116.3,681.8 117.8,682.2 119.0,682.8C120.2,683.5 121.3,684.5 121.9,685.6C122.6,686.7 123.0,688.1 123.0,689.4Z" fill="none" stroke="#fff" stroke-width="0.85"/>
<path d="M120.9,689.6C120.9,690.6 120.6,691.7 120.1,692.5C119.6,693.3 118.8,694.1 118.0,694.6C117.1,695.1 116.0,695.4 115.0,695.4C114.0,695.4 112.9,695.1 112.0,694.6C111.2,694.1 110.4,693.3 109.9,692.5C109.4,691.7 109.1,690.6 109.1,689.6C109.1,688.6 109.4,687.5 109.9,686.7C110.4,685.9 111.2,685.1 112.0,684.6C112.9,684.1 114.0,683.8 115.0,683.8C116.0,683.8 117.1,684.1 118.0,684.6C118.8,685.1 119.6,685.9 120.1,686.7C120.6,687.5 120.9,688.6 120.9,689.6Z" fill="#9a9a9a"/>
<path d="M120.0,689.6C120.0,690.4 119.7,691.3 119.3,692.1C118.9,692.8 118.2,693.4 117.5,693.9C116.8,694.3 115.8,694.5 115.0,694.5C114.2,694.5 113.2,694.3 112.5,693.9C111.8,693.4 111.1,692.8 110.7,692.1C110.3,691.3 110.0,690.4 110.0,689.6C110.0,688.8 110.3,687.9 110.7,687.1C111.1,686.4 111.8,685.8 112.5,685.3C113.2,684.9 114.2,684.7 115.0,684.7C115.8,684.7 116.8,684.9 117.5,685.3C118.2,685.8 118.9,686.4 119.3,687.1C119.7,687.9 120.0,688.8 120.0,689.6Z" fill="none" stroke="#0c0c0c" stroke-width="1.4" filter="url(#b06)"/>
<path d="M120.9,689.6C120.9,690.6 120.6,691.7 120.1,692.5C119.6,693.3 118.8,694.1 118.0,694.6C117.1,695.1 116.0,695.4 115.0,695.4C114.0,695.4 112.9,695.1 112.0,694.6C111.2,694.1 110.4,693.3 109.9,692.5C109.4,691.7 109.1,690.6 109.1,689.6C109.1,688.6 109.4,687.5 109.9,686.7C110.4,685.9 111.2,685.1 112.0,684.6C112.9,684.1 114.0,683.8 115.0,683.8C116.0,683.8 117.1,684.1 118.0,684.6C118.8,685.1 119.6,685.9 120.1,686.7C120.6,687.5 120.9,688.6 120.9,689.6Z" fill="none" stroke="#fff" stroke-width="0.85"/>
<path d="M118.9,689.6C118.9,690.3 118.7,691.1 118.4,691.8C118.1,692.4 117.5,693.0 117.0,693.3C116.4,693.7 115.7,693.9 115.0,693.9C114.3,693.9 113.6,693.7 113.0,693.3C112.5,693.0 111.9,692.4 111.6,691.8C111.3,691.1 111.1,690.3 111.1,689.6C111.1,688.9 111.3,688.1 111.6,687.5C111.9,686.8 112.5,686.2 113.0,685.9C113.6,685.5 114.3,685.3 115.0,685.3C115.7,685.3 116.4,685.5 117.0,685.9C117.5,686.2 118.1,686.8 118.4,687.5C118.7,688.1 118.9,688.9 118.9,689.6Z" fill="#a8a8a8"/>
<path d="M118.1,689.6C118.1,690.2 118.0,690.8 117.7,691.3C117.5,691.8 117.0,692.3 116.6,692.6C116.1,692.9 115.5,693.1 115.0,693.1C114.5,693.1 113.9,692.9 113.4,692.6C113.0,692.3 112.5,691.8 112.3,691.3C112.0,690.8 111.9,690.2 111.9,689.6C111.9,689.0 112.0,688.4 112.3,687.9C112.5,687.4 113.0,686.9 113.4,686.6C113.9,686.3 114.5,686.1 115.0,686.1C115.5,686.1 116.1,686.3 116.6,686.6C117.0,686.9 117.5,687.4 117.7,687.9C118.0,688.4 118.1,689.0 118.1,689.6Z" fill="none" stroke="#0c0c0c" stroke-width="1.2" filter="url(#b06)"/>
<path d="M118.9,689.6C118.9,690.3 118.7,691.1 118.4,691.8C118.1,692.4 117.5,693.0 117.0,693.3C116.4,693.7 115.7,693.9 115.0,693.9C114.3,693.9 113.6,693.7 113.0,693.3C112.5,693.0 111.9,692.4 111.6,691.8C111.3,691.1 111.1,690.3 111.1,689.6C111.1,688.9 111.3,688.1 111.6,687.5C111.9,686.8 112.5,686.2 113.0,685.9C113.6,685.5 114.3,685.3 115.0,685.3C115.7,685.3 116.4,685.5 117.0,685.9C117.5,686.2 118.1,686.8 118.4,687.5C118.7,688.1 118.9,688.9 118.9,689.6Z" fill="none" stroke="#fff" stroke-width="0.85"/>
<ellipse cx="114.8" cy="689.8" rx="1.8" ry="2.3" fill="#111" filter="url(#b06)" transform="rotate(0 114.8 689.8)"/>
<path d="M116.1,673.6C116.9,673.6 118.2,676.0 118.4,677.2C118.7,678.4 118.3,680.1 117.6,680.6C116.9,681.1 115.1,680.8 114.4,680.2C113.7,679.6 113.3,678.1 113.6,677.0C113.9,675.9 115.3,673.6 116.1,673.6Z" fill="#b0b0b0"/>
<path d="M116.1,674.3C116.7,674.4 117.7,676.3 117.9,677.2C118.1,678.2 117.8,679.6 117.3,680.0C116.8,680.4 115.2,680.1 114.7,679.7C114.2,679.2 113.8,678.0 114.1,677.1C114.3,676.2 115.4,674.3 116.1,674.3Z" fill="none" stroke="#0c0c0c" stroke-width="0.9" filter="url(#b06)"/>
<path d="M116.1,673.6C116.9,673.6 118.2,676.0 118.4,677.2C118.7,678.4 118.3,680.1 117.6,680.6C116.9,681.1 115.1,680.8 114.4,680.2C113.7,679.6 113.3,678.1 113.6,677.0C113.9,675.9 115.3,673.6 116.1,673.6Z" fill="none" stroke="#fff" stroke-width="0.85"/>
<path d="M120.7,664.0C120.7,664.4 120.6,665.0 120.4,665.4C120.1,665.8 119.7,666.3 119.2,666.6C118.7,666.9 118.1,667.1 117.5,667.2C116.9,667.3 116.2,667.2 115.6,667.1C115.1,666.9 114.6,666.6 114.2,666.3C113.8,665.9 113.6,665.4 113.5,665.0C113.5,664.6 113.6,664.0 113.8,663.6C114.1,663.2 114.5,662.7 115.0,662.4C115.5,662.1 116.1,661.9 116.7,661.8C117.3,661.7 118.0,661.8 118.6,661.9C119.1,662.1 119.6,662.4 120.0,662.7C120.4,663.1 120.6,663.6 120.7,664.0Z" fill="#8c8c8c"/>
<path d="M119.8,664.1C119.8,664.5 119.7,664.9 119.5,665.2C119.4,665.5 119.0,665.8 118.7,666.0C118.3,666.3 117.8,666.4 117.4,666.5C116.9,666.6 116.4,666.5 116.0,666.4C115.6,666.3 115.2,666.1 114.9,665.8C114.7,665.6 114.5,665.2 114.4,664.9C114.4,664.5 114.5,664.1 114.7,663.8C114.8,663.5 115.2,663.2 115.5,663.0C115.9,662.7 116.4,662.6 116.8,662.5C117.3,662.4 117.8,662.5 118.2,662.6C118.6,662.7 119.0,662.9 119.3,663.2C119.5,663.4 119.7,663.8 119.8,664.1Z" fill="none" stroke="#0c0c0c" stroke-width="1.2" filter="url(#b06)"/>
<path d="M120.7,664.0C120.7,664.4 120.6,665.0 120.4,665.4C120.1,665.8 119.7,666.3 119.2,666.6C118.7,666.9 118.1,667.1 117.5,667.2C116.9,667.3 116.2,667.2 115.6,667.1C115.1,666.9 114.6,666.6 114.2,666.3C113.8,665.9 113.6,665.4 113.5,665.0C113.5,664.6 113.6,664.0 113.8,663.6C114.1,663.2 114.5,662.7 115.0,662.4C115.5,662.1 116.1,661.9 116.7,661.8C117.3,661.7 118.0,661.8 118.6,661.9C119.1,662.1 119.6,662.4 120.0,662.7C120.4,663.1 120.6,663.6 120.7,664.0Z" fill="none" stroke="#fff" stroke-width="0.85"/>
<circle cx="102.3" cy="673.2" r="1.5" fill="#ddd" stroke="#111" stroke-width="0.9"/>
<clipPath id="bc12"><path d="M205.2,651.0C205.7,651.1 206.5,652.4 207.1,653.1C207.6,653.9 207.8,654.7 208.4,655.6C209.0,656.5 209.8,657.3 210.4,658.3C211.0,659.2 211.5,660.3 211.9,661.3C212.3,662.3 212.4,663.5 212.7,664.5C213.0,665.6 213.3,666.7 213.6,667.7C213.9,668.7 214.4,669.5 214.7,670.5C215.0,671.4 215.4,672.4 215.4,673.4C215.4,674.4 215.1,675.4 214.8,676.4C214.5,677.4 213.6,678.2 213.6,679.2C213.6,680.2 214.2,681.3 214.5,682.4C214.8,683.5 215.1,684.5 215.4,685.6C215.7,686.7 216.0,687.7 216.3,688.7C216.6,689.8 217.1,691.0 217.1,691.9C217.1,692.8 216.5,693.5 216.2,694.3C215.8,695.1 215.4,695.9 214.8,696.5C214.2,697.1 213.5,697.3 212.8,697.7C212.2,698.1 211.5,698.3 210.8,698.8C210.1,699.3 209.4,700.0 208.8,700.7C208.3,701.4 207.8,702.1 207.3,702.9C206.8,703.7 206.6,704.8 206.1,705.7C205.6,706.6 205.0,708.1 204.4,708.3C203.8,708.5 203.1,707.6 202.5,707.2C202.0,706.8 201.7,706.1 201.0,705.7C200.3,705.3 199.2,705.1 198.5,704.6C197.7,704.2 196.9,703.6 196.3,702.9C195.7,702.2 195.2,701.4 194.7,700.7C194.3,699.9 194.0,699.0 193.5,698.2C193.0,697.4 192.1,696.7 191.5,695.8C190.9,695.0 190.1,694.0 190.0,693.1C189.9,692.2 190.7,691.2 190.9,690.3C191.1,689.3 191.1,688.3 191.1,687.3C191.1,686.3 190.9,685.4 190.9,684.4C190.8,683.4 190.5,682.1 190.9,681.5C191.3,680.9 192.5,681.3 193.2,681.0C193.9,680.7 194.8,680.4 195.2,679.8C195.6,679.2 195.3,678.0 195.5,677.1C195.6,676.3 196.1,675.5 196.3,674.6C196.5,673.7 196.7,672.8 196.7,671.9C196.8,671.0 196.9,669.9 196.5,669.2C196.1,668.5 194.6,668.0 194.6,667.5C194.6,667.0 195.9,666.6 196.6,666.2C197.3,665.7 198.0,665.5 198.6,664.8C199.2,664.1 199.5,662.9 199.9,662.0C200.3,661.0 200.6,659.9 201.0,659.0C201.4,658.1 201.9,657.3 202.3,656.5C202.7,655.6 203.0,654.5 203.3,653.8C203.6,653.1 203.8,652.8 204.1,652.3C204.4,651.8 204.7,650.9 205.2,651.0Z"/></clipPath>
<path d="M205.2,651.0C205.7,651.1 206.5,652.4 207.1,653.1C207.6,653.9 207.8,654.7 208.4,655.6C209.0,656.5 209.8,657.3 210.4,658.3C211.0,659.2 211.5,660.3 211.9,661.3C212.3,662.3 212.4,663.5 212.7,664.5C213.0,665.6 213.3,666.7 213.6,667.7C213.9,668.7 214.4,669.5 214.7,670.5C215.0,671.4 215.4,672.4 215.4,673.4C215.4,674.4 215.1,675.4 214.8,676.4C214.5,677.4 213.6,678.2 213.6,679.2C213.6,680.2 214.2,681.3 214.5,682.4C214.8,683.5 215.1,684.5 215.4,685.6C215.7,686.7 216.0,687.7 216.3,688.7C216.6,689.8 217.1,691.0 217.1,691.9C217.1,692.8 216.5,693.5 216.2,694.3C215.8,695.1 215.4,695.9 214.8,696.5C214.2,697.1 213.5,697.3 212.8,697.7C212.2,698.1 211.5,698.3 210.8,698.8C210.1,699.3 209.4,700.0 208.8,700.7C208.3,701.4 207.8,702.1 207.3,702.9C206.8,703.7 206.6,704.8 206.1,705.7C205.6,706.6 205.0,708.1 204.4,708.3C203.8,708.5 203.1,707.6 202.5,707.2C202.0,706.8 201.7,706.1 201.0,705.7C200.3,705.3 199.2,705.1 198.5,704.6C197.7,704.2 196.9,703.6 196.3,702.9C195.7,702.2 195.2,701.4 194.7,700.7C194.3,699.9 194.0,699.0 193.5,698.2C193.0,697.4 192.1,696.7 191.5,695.8C190.9,695.0 190.1,694.0 190.0,693.1C189.9,692.2 190.7,691.2 190.9,690.3C191.1,689.3 191.1,688.3 191.1,687.3C191.1,686.3 190.9,685.4 190.9,684.4C190.8,683.4 190.5,682.1 190.9,681.5C191.3,680.9 192.5,681.3 193.2,681.0C193.9,680.7 194.8,680.4 195.2,679.8C195.6,679.2 195.3,678.0 195.5,677.1C195.6,676.3 196.1,675.5 196.3,674.6C196.5,673.7 196.7,672.8 196.7,671.9C196.8,671.0 196.9,669.9 196.5,669.2C196.1,668.5 194.6,668.0 194.6,667.5C194.6,667.0 195.9,666.6 196.6,666.2C197.3,665.7 198.0,665.5 198.6,664.8C199.2,664.1 199.5,662.9 199.9,662.0C200.3,661.0 200.6,659.9 201.0,659.0C201.4,658.1 201.9,657.3 202.3,656.5C202.7,655.6 203.0,654.5 203.3,653.8C203.6,653.1 203.8,652.8 204.1,652.3C204.4,651.8 204.7,650.9 205.2,651.0Z" fill="#808080" stroke="#000" stroke-width="2.4" stroke-linejoin="round"/>
<g clip-path="url(#bc12)">
<path d="M205.2,651.0C205.7,651.1 206.5,652.4 207.1,653.1C207.6,653.9 207.8,654.7 208.4,655.6C209.0,656.5 209.8,657.3 210.4,658.3C211.0,659.2 211.5,660.3 211.9,661.3C212.3,662.3 212.4,663.5 212.7,664.5C213.0,665.6 213.3,666.7 213.6,667.7C213.9,668.7 214.4,669.5 214.7,670.5C215.0,671.4 215.4,672.4 215.4,673.4C215.4,674.4 215.1,675.4 214.8,676.4C214.5,677.4 213.6,678.2 213.6,679.2C213.6,680.2 214.2,681.3 214.5,682.4C214.8,683.5 215.1,684.5 215.4,685.6C215.7,686.7 216.0,687.7 216.3,688.7C216.6,689.8 217.1,691.0 217.1,691.9C217.1,692.8 216.5,693.5 216.2,694.3C215.8,695.1 215.4,695.9 214.8,696.5C214.2,697.1 213.5,697.3 212.8,697.7C212.2,698.1 211.5,698.3 210.8,698.8C210.1,699.3 209.4,700.0 208.8,700.7C208.3,701.4 207.8,702.1 207.3,702.9C206.8,703.7 206.6,704.8 206.1,705.7C205.6,706.6 205.0,708.1 204.4,708.3C203.8,708.5 203.1,707.6 202.5,707.2C202.0,706.8 201.7,706.1 201.0,705.7C200.3,705.3 199.2,705.1 198.5,704.6C197.7,704.2 196.9,703.6 196.3,702.9C195.7,702.2 195.2,701.4 194.7,700.7C194.3,699.9 194.0,699.0 193.5,698.2C193.0,697.4 192.1,696.7 191.5,695.8C190.9,695.0 190.1,694.0 190.0,693.1C189.9,692.2 190.7,691.2 190.9,690.3C191.1,689.3 191.1,688.3 191.1,687.3C191.1,686.3 190.9,685.4 190.9,684.4C190.8,683.4 190.5,682.1 190.9,681.5C191.3,680.9 192.5,681.3 193.2,681.0C193.9,680.7 194.8,680.4 195.2,679.8C195.6,679.2 195.3,678.0 195.5,677.1C195.6,676.3 196.1,675.5 196.3,674.6C196.5,673.7 196.7,672.8 196.7,671.9C196.8,671.0 196.9,669.9 196.5,669.2C196.1,668.5 194.6,668.0 194.6,667.5C194.6,667.0 195.9,666.6 196.6,666.2C197.3,665.7 198.0,665.5 198.6,664.8C199.2,664.1 199.5,662.9 199.9,662.0C200.3,661.0 200.6,659.9 201.0,659.0C201.4,658.1 201.9,657.3 202.3,656.5C202.7,655.6 203.0,654.5 203.3,653.8C203.6,653.1 203.8,652.8 204.1,652.3C204.4,651.8 204.7,650.9 205.2,651.0Z" fill="none" stroke="#060606" stroke-width="3.0" filter="url(#b08)"/>
<ellipse cx="193.5" cy="692" rx="2.0" ry="5" fill="#0a0a0a" opacity="1" filter="url(#soft3)" transform="rotate(15 193.5 692)"/>
</g>
<path d="M205.2,654.8C206.1,654.8 207.3,658.1 208.2,660.0C209.1,661.9 209.8,663.9 210.4,666.0C211.0,668.1 211.8,671.1 211.6,672.5C211.4,673.9 210.5,674.4 209.5,674.6C208.5,674.8 206.9,673.6 205.6,673.6C204.3,673.6 202.5,674.8 201.5,674.6C200.5,674.4 199.8,673.9 199.6,672.5C199.4,671.1 200.1,668.1 200.6,666.0C201.1,663.9 201.8,661.9 202.6,660.0C203.4,658.1 204.3,654.8 205.2,654.8Z" fill="#8c8c8c"/>
<path d="M205.2,656.4C206.1,656.4 207.1,659.3 207.9,660.9C208.6,662.5 209.3,664.3 209.8,666.1C210.3,667.9 210.9,670.5 210.8,671.8C210.7,673.0 209.9,673.5 209.0,673.6C208.1,673.8 206.7,672.7 205.6,672.7C204.4,672.7 202.9,673.8 202.0,673.6C201.1,673.5 200.5,673.0 200.4,671.8C200.2,670.5 200.8,667.9 201.2,666.1C201.7,664.3 202.3,662.5 203.0,660.9C203.6,659.3 204.4,656.4 205.2,656.4Z" fill="none" stroke="#0c0c0c" stroke-width="1.5" filter="url(#b06)"/>
<path d="M205.2,654.8C206.1,654.8 207.3,658.1 208.2,660.0C209.1,661.9 209.8,663.9 210.4,666.0C211.0,668.1 211.8,671.1 211.6,672.5C211.4,673.9 210.5,674.4 209.5,674.6C208.5,674.8 206.9,673.6 205.6,673.6C204.3,673.6 202.5,674.8 201.5,674.6C200.5,674.4 199.8,673.9 199.6,672.5C199.4,671.1 200.1,668.1 200.6,666.0C201.1,663.9 201.8,661.9 202.6,660.0C203.4,658.1 204.3,654.8 205.2,654.8Z" fill="none" stroke="#fff" stroke-width="0.85"/>
<path d="M205.4,660.5C206.0,660.5 206.9,663.7 207.4,665.5C207.9,667.3 208.7,670.7 208.4,671.5C208.1,672.3 206.5,670.2 205.6,670.2C204.7,670.2 203.1,672.3 202.8,671.5C202.5,670.7 203.2,667.3 203.6,665.5C204.0,663.7 204.8,660.5 205.4,660.5Z" fill="#a0a0a0"/>
<path d="M205.4,661.6C205.9,661.6 206.7,664.2 207.1,665.8C207.5,667.3 208.2,670.1 207.9,670.7C207.7,671.4 206.4,669.7 205.6,669.7C204.8,669.7 203.5,671.4 203.3,670.7C203.0,670.1 203.6,667.3 203.9,665.8C204.3,664.2 204.9,661.6 205.4,661.6Z" fill="none" stroke="#0c0c0c" stroke-width="1.1" filter="url(#b06)"/>
<path d="M205.4,660.5C206.0,660.5 206.9,663.7 207.4,665.5C207.9,667.3 208.7,670.7 208.4,671.5C208.1,672.3 206.5,670.2 205.6,670.2C204.7,670.2 203.1,672.3 202.8,671.5C202.5,670.7 203.2,667.3 203.6,665.5C204.0,663.7 204.8,660.5 205.4,660.5Z" fill="none" stroke="#fff" stroke-width="0.85"/>
<ellipse cx="205.5" cy="667.5" rx="0.8" ry="2.6" fill="#111" filter="url(#b06)" transform="rotate(0 205.5 667.5)"/>
<path d="M213.4,687.0C213.7,688.7 213.5,690.7 213.0,692.2C212.5,693.8 211.5,695.3 210.4,696.3C209.3,697.4 207.7,698.1 206.3,698.3C204.9,698.5 203.2,698.2 201.9,697.5C200.5,696.9 199.1,695.6 198.2,694.3C197.3,692.9 196.6,691.1 196.4,689.4C196.1,687.7 196.3,685.7 196.8,684.2C197.3,682.6 198.3,681.1 199.4,680.1C200.5,679.0 202.1,678.3 203.5,678.1C204.9,677.9 206.6,678.2 207.9,678.9C209.3,679.5 210.7,680.8 211.6,682.1C212.5,683.5 213.2,685.3 213.4,687.0Z" fill="#7a7a7a"/>
<path d="M212.5,687.1C212.7,688.6 212.6,690.4 212.1,691.8C211.7,693.2 210.8,694.6 209.8,695.5C208.8,696.4 207.4,697.0 206.2,697.2C204.9,697.4 203.4,697.2 202.2,696.6C201.0,696.0 199.8,694.9 198.9,693.6C198.1,692.4 197.5,690.8 197.3,689.3C197.1,687.8 197.2,686.0 197.7,684.6C198.1,683.2 199.0,681.8 200.0,680.9C201.0,680.0 202.4,679.4 203.6,679.2C204.9,679.0 206.4,679.2 207.6,679.8C208.8,680.4 210.0,681.5 210.9,682.8C211.7,684.0 212.3,685.6 212.5,687.1Z" fill="none" stroke="#0c0c0c" stroke-width="1.6" filter="url(#b06)"/>
<path d="M213.4,687.0C213.7,688.7 213.5,690.7 213.0,692.2C212.5,693.8 211.5,695.3 210.4,696.3C209.3,697.4 207.7,698.1 206.3,698.3C204.9,698.5 203.2,698.2 201.9,697.5C200.5,696.9 199.1,695.6 198.2,694.3C197.3,692.9 196.6,691.1 196.4,689.4C196.1,687.7 196.3,685.7 196.8,684.2C197.3,682.6 198.3,681.1 199.4,680.1C200.5,679.0 202.1,678.3 203.5,678.1C204.9,677.9 206.6,678.2 207.9,678.9C209.3,679.5 210.7,680.8 211.6,682.1C212.5,683.5 213.2,685.3 213.4,687.0Z" fill="none" stroke="#fff" stroke-width="0.85"/>
<path d="M211.0,687.5C211.1,688.8 210.9,690.4 210.5,691.6C210.1,692.8 209.3,694.0 208.5,694.8C207.7,695.6 206.5,696.1 205.5,696.2C204.5,696.3 203.3,695.9 202.3,695.3C201.4,694.7 200.4,693.7 199.8,692.6C199.2,691.4 198.7,689.9 198.6,688.5C198.5,687.2 198.7,685.6 199.1,684.4C199.5,683.2 200.3,682.0 201.1,681.2C201.9,680.4 203.1,679.9 204.1,679.8C205.1,679.7 206.3,680.1 207.3,680.7C208.2,681.3 209.2,682.3 209.8,683.4C210.4,684.6 210.9,686.1 211.0,687.5Z" fill="#9a9a9a"/>
<path d="M210.2,687.5C210.3,688.7 210.2,690.1 209.8,691.2C209.4,692.2 208.8,693.3 208.0,694.0C207.3,694.6 206.3,695.1 205.4,695.2C204.5,695.2 203.5,695.0 202.6,694.4C201.8,693.9 201.0,693.0 200.4,692.0C199.9,691.0 199.5,689.7 199.4,688.5C199.3,687.3 199.4,685.9 199.8,684.8C200.2,683.8 200.8,682.7 201.6,682.0C202.3,681.4 203.3,680.9 204.2,680.8C205.1,680.8 206.1,681.0 207.0,681.6C207.8,682.1 208.6,683.0 209.2,684.0C209.7,685.0 210.1,686.3 210.2,687.5Z" fill="none" stroke="#0c0c0c" stroke-width="1.4" filter="url(#b06)"/>
<path d="M211.0,687.5C211.1,688.8 210.9,690.4 210.5,691.6C210.1,692.8 209.3,694.0 208.5,694.8C207.7,695.6 206.5,696.1 205.5,696.2C204.5,696.3 203.3,695.9 202.3,695.3C201.4,694.7 200.4,693.7 199.8,692.6C199.2,691.4 198.7,689.9 198.6,688.5C198.5,687.2 198.7,685.6 199.1,684.4C199.5,683.2 200.3,682.0 201.1,681.2C201.9,680.4 203.1,679.9 204.1,679.8C205.1,679.7 206.3,680.1 207.3,680.7C208.2,681.3 209.2,682.3 209.8,683.4C210.4,684.6 210.9,686.1 211.0,687.5Z" fill="none" stroke="#fff" stroke-width="0.85"/>
<path d="M208.4,688.4C208.4,689.3 208.2,690.2 207.9,691.0C207.6,691.8 207.1,692.5 206.6,692.9C206.1,693.3 205.4,693.6 204.8,693.6C204.2,693.6 203.5,693.3 203.0,692.9C202.5,692.5 202.0,691.8 201.7,691.0C201.4,690.2 201.2,689.3 201.2,688.4C201.2,687.5 201.4,686.6 201.7,685.8C202.0,685.0 202.5,684.3 203.0,683.9C203.5,683.5 204.2,683.2 204.8,683.2C205.4,683.2 206.1,683.5 206.6,683.9C207.1,684.3 207.6,685.0 207.9,685.8C208.2,686.6 208.4,687.5 208.4,688.4Z" fill="#a8a8a8"/>
<path d="M207.8,688.4C207.8,689.1 207.6,689.9 207.4,690.5C207.1,691.1 206.7,691.7 206.3,692.1C205.8,692.4 205.3,692.7 204.8,692.7C204.3,692.7 203.8,692.4 203.3,692.1C202.9,691.7 202.5,691.1 202.2,690.5C202.0,689.9 201.8,689.1 201.8,688.4C201.8,687.7 202.0,686.9 202.2,686.3C202.5,685.7 202.9,685.1 203.3,684.7C203.8,684.4 204.3,684.1 204.8,684.1C205.3,684.1 205.8,684.4 206.3,684.7C206.7,685.1 207.1,685.7 207.4,686.3C207.6,686.9 207.8,687.7 207.8,688.4Z" fill="none" stroke="#0c0c0c" stroke-width="1.2" filter="url(#b06)"/>
<path d="M208.4,688.4C208.4,689.3 208.2,690.2 207.9,691.0C207.6,691.8 207.1,692.5 206.6,692.9C206.1,693.3 205.4,693.6 204.8,693.6C204.2,693.6 203.5,693.3 203.0,692.9C202.5,692.5 202.0,691.8 201.7,691.0C201.4,690.2 201.2,689.3 201.2,688.4C201.2,687.5 201.4,686.6 201.7,685.8C202.0,685.0 202.5,684.3 203.0,683.9C203.5,683.5 204.2,683.2 204.8,683.2C205.4,683.2 206.1,683.5 206.6,683.9C207.1,684.3 207.6,685.0 207.9,685.8C208.2,686.6 208.4,687.5 208.4,688.4Z" fill="none" stroke="#fff" stroke-width="0.85"/>
<ellipse cx="204.8" cy="688.8" rx="1.5" ry="2.4" fill="#111" filter="url(#b06)" transform="rotate(0 204.8 688.8)"/>
<ellipse cx="204.9" cy="678.8" rx="1.6" ry="1.2" fill="#e8e8e8" stroke="#fff" stroke-width="0.5"/>
<clipPath id="bc13"><path d="M286.2,647.5C287.0,647.3 288.5,647.9 289.6,648.1C290.8,648.3 292.3,648.3 293.1,648.7C293.9,649.1 294.2,650.0 294.6,650.6C295.1,651.3 295.7,651.9 296.0,652.7C296.3,653.5 296.3,654.7 296.6,655.7C296.9,656.6 297.4,657.6 297.8,658.5C298.2,659.4 298.5,660.4 298.8,661.3C299.1,662.3 299.5,663.2 299.5,664.2C299.5,665.2 299.1,666.1 298.9,667.1C298.7,668.1 298.3,669.0 298.3,670.0C298.3,671.0 298.6,671.9 298.7,672.9C298.8,673.9 298.8,674.8 298.9,675.8C299.0,676.8 299.4,677.7 299.6,678.6C299.8,679.6 300.3,680.6 300.1,681.5C299.9,682.4 299.0,683.3 298.6,684.3C298.2,685.2 298.0,686.3 297.8,687.3C297.6,688.3 297.5,689.3 297.2,690.3C296.9,691.3 296.5,692.2 296.0,693.1C295.5,694.0 294.9,695.0 294.3,696.0C293.8,696.9 293.2,698.1 292.6,698.8C292.0,699.5 291.4,699.9 290.7,700.4C290.0,700.9 289.0,701.1 288.5,701.7C288.0,702.3 288.0,703.1 287.8,703.8C287.5,704.5 287.4,705.6 286.8,705.9C286.2,706.2 284.4,706.3 283.9,705.9C283.4,705.5 284.1,704.4 284.0,703.7C283.9,703.0 283.8,702.2 283.3,701.7C282.8,701.2 281.9,701.3 281.2,701.0C280.6,700.7 279.9,700.7 279.3,700.0C278.7,699.3 278.0,698.0 277.4,697.1C276.7,696.1 275.8,695.1 275.3,694.2C274.8,693.3 274.8,692.7 274.6,691.9C274.4,691.1 273.9,690.3 274.1,689.6C274.3,688.9 275.2,688.6 275.7,688.0C276.2,687.4 276.5,686.9 277.0,686.1C277.5,685.3 277.9,684.2 278.4,683.2C278.9,682.3 279.6,681.4 279.9,680.4C280.2,679.4 279.8,678.4 279.9,677.5C280.0,676.5 280.5,675.6 280.5,674.6C280.5,673.6 280.2,672.7 280.1,671.7C280.0,670.7 279.9,669.8 279.9,668.8C279.9,667.8 280.2,666.9 280.4,665.9C280.6,665.0 280.7,664.0 281.0,663.1C281.3,662.2 282.0,661.3 282.4,660.3C282.8,659.3 283.4,658.1 283.3,657.3C283.2,656.5 282.4,656.2 282.0,655.6C281.5,655.1 280.6,654.6 280.6,654.0C280.6,653.4 281.3,652.7 281.8,652.1C282.2,651.5 282.8,650.9 283.3,650.4C283.8,649.9 284.4,649.5 284.8,649.0C285.3,648.6 285.4,647.7 286.2,647.5Z"/></clipPath>
<path d="M286.2,647.5C287.0,647.3 288.5,647.9 289.6,648.1C290.8,648.3 292.3,648.3 293.1,648.7C293.9,649.1 294.2,650.0 294.6,650.6C295.1,651.3 295.7,651.9 296.0,652.7C296.3,653.5 296.3,654.7 296.6,655.7C296.9,656.6 297.4,657.6 297.8,658.5C298.2,659.4 298.5,660.4 298.8,661.3C299.1,662.3 299.5,663.2 299.5,664.2C299.5,665.2 299.1,666.1 298.9,667.1C298.7,668.1 298.3,669.0 298.3,670.0C298.3,671.0 298.6,671.9 298.7,672.9C298.8,673.9 298.8,674.8 298.9,675.8C299.0,676.8 299.4,677.7 299.6,678.6C299.8,679.6 300.3,680.6 300.1,681.5C299.9,682.4 299.0,683.3 298.6,684.3C298.2,685.2 298.0,686.3 297.8,687.3C297.6,688.3 297.5,689.3 297.2,690.3C296.9,691.3 296.5,692.2 296.0,693.1C295.5,694.0 294.9,695.0 294.3,696.0C293.8,696.9 293.2,698.1 292.6,698.8C292.0,699.5 291.4,699.9 290.7,700.4C290.0,700.9 289.0,701.1 288.5,701.7C288.0,702.3 288.0,703.1 287.8,703.8C287.5,704.5 287.4,705.6 286.8,705.9C286.2,706.2 284.4,706.3 283.9,705.9C283.4,705.5 284.1,704.4 284.0,703.7C283.9,703.0 283.8,702.2 283.3,701.7C282.8,701.2 281.9,701.3 281.2,701.0C280.6,700.7 279.9,700.7 279.3,700.0C278.7,699.3 278.0,698.0 277.4,697.1C276.7,696.1 275.8,695.1 275.3,694.2C274.8,693.3 274.8,692.7 274.6,691.9C274.4,691.1 273.9,690.3 274.1,689.6C274.3,688.9 275.2,688.6 275.7,688.0C276.2,687.4 276.5,686.9 277.0,686.1C277.5,685.3 277.9,684.2 278.4,683.2C278.9,682.3 279.6,681.4 279.9,680.4C280.2,679.4 279.8,678.4 279.9,677.5C280.0,676.5 280.5,675.6 280.5,674.6C280.5,673.6 280.2,672.7 280.1,671.7C280.0,670.7 279.9,669.8 279.9,668.8C279.9,667.8 280.2,666.9 280.4,665.9C280.6,665.0 280.7,664.0 281.0,663.1C281.3,662.2 282.0,661.3 282.4,660.3C282.8,659.3 283.4,658.1 283.3,657.3C283.2,656.5 282.4,656.2 282.0,655.6C281.5,655.1 280.6,654.6 280.6,654.0C280.6,653.4 281.3,652.7 281.8,652.1C282.2,651.5 282.8,650.9 283.3,650.4C283.8,649.9 284.4,649.5 284.8,649.0C285.3,648.6 285.4,647.7 286.2,647.5Z" fill="#808080" stroke="#000" stroke-width="2.4" stroke-linejoin="round"/>
<g clip-path="url(#bc13)">
<path d="M286.2,647.5C287.0,647.3 288.5,647.9 289.6,648.1C290.8,648.3 292.3,648.3 293.1,648.7C293.9,649.1 294.2,650.0 294.6,650.6C295.1,651.3 295.7,651.9 296.0,652.7C296.3,653.5 296.3,654.7 296.6,655.7C296.9,656.6 297.4,657.6 297.8,658.5C298.2,659.4 298.5,660.4 298.8,661.3C299.1,662.3 299.5,663.2 299.5,664.2C299.5,665.2 299.1,666.1 298.9,667.1C298.7,668.1 298.3,669.0 298.3,670.0C298.3,671.0 298.6,671.9 298.7,672.9C298.8,673.9 298.8,674.8 298.9,675.8C299.0,676.8 299.4,677.7 299.6,678.6C299.8,679.6 300.3,680.6 300.1,681.5C299.9,682.4 299.0,683.3 298.6,684.3C298.2,685.2 298.0,686.3 297.8,687.3C297.6,688.3 297.5,689.3 297.2,690.3C296.9,691.3 296.5,692.2 296.0,693.1C295.5,694.0 294.9,695.0 294.3,696.0C293.8,696.9 293.2,698.1 292.6,698.8C292.0,699.5 291.4,699.9 290.7,700.4C290.0,700.9 289.0,701.1 288.5,701.7C288.0,702.3 288.0,703.1 287.8,703.8C287.5,704.5 287.4,705.6 286.8,705.9C286.2,706.2 284.4,706.3 283.9,705.9C283.4,705.5 284.1,704.4 284.0,703.7C283.9,703.0 283.8,702.2 283.3,701.7C282.8,701.2 281.9,701.3 281.2,701.0C280.6,700.7 279.9,700.7 279.3,700.0C278.7,699.3 278.0,698.0 277.4,697.1C276.7,696.1 275.8,695.1 275.3,694.2C274.8,693.3 274.8,692.7 274.6,691.9C274.4,691.1 273.9,690.3 274.1,689.6C274.3,688.9 275.2,688.6 275.7,688.0C276.2,687.4 276.5,686.9 277.0,686.1C277.5,685.3 277.9,684.2 278.4,683.2C278.9,682.3 279.6,681.4 279.9,680.4C280.2,679.4 279.8,678.4 279.9,677.5C280.0,676.5 280.5,675.6 280.5,674.6C280.5,673.6 280.2,672.7 280.1,671.7C280.0,670.7 279.9,669.8 279.9,668.8C279.9,667.8 280.2,666.9 280.4,665.9C280.6,665.0 280.7,664.0 281.0,663.1C281.3,662.2 282.0,661.3 282.4,660.3C282.8,659.3 283.4,658.1 283.3,657.3C283.2,656.5 282.4,656.2 282.0,655.6C281.5,655.1 280.6,654.6 280.6,654.0C280.6,653.4 281.3,652.7 281.8,652.1C282.2,651.5 282.8,650.9 283.3,650.4C283.8,649.9 284.4,649.5 284.8,649.0C285.3,648.6 285.4,647.7 286.2,647.5Z" fill="none" stroke="#060606" stroke-width="3.0" filter="url(#b08)"/>
<ellipse cx="277.5" cy="692" rx="2.0" ry="4" fill="#0a0a0a" opacity="1" filter="url(#soft3)" transform="rotate(25 277.5 692)"/>
<ellipse cx="296.5" cy="672" rx="1.5" ry="8" fill="#999" opacity="0.7" filter="url(#soft3)" transform="rotate(0 296.5 672)"/>
</g>
<path d="M295.2,666.6C295.2,668.0 294.9,669.6 294.5,670.8C294.0,672.0 293.3,673.2 292.5,673.9C291.7,674.6 290.7,675.0 289.8,675.0C288.9,675.0 287.9,674.6 287.1,673.9C286.3,673.2 285.6,672.0 285.1,670.8C284.7,669.6 284.4,668.0 284.4,666.6C284.4,665.2 284.7,663.6 285.1,662.4C285.6,661.2 286.3,660.0 287.1,659.3C287.9,658.6 288.9,658.2 289.8,658.2C290.7,658.2 291.7,658.6 292.5,659.3C293.3,660.0 294.0,661.2 294.5,662.4C294.9,663.6 295.2,665.2 295.2,666.6Z" fill="#8a8a8a"/>
<path d="M294.4,666.6C294.4,667.8 294.2,669.2 293.8,670.2C293.4,671.2 292.8,672.2 292.1,672.8C291.4,673.4 290.6,673.8 289.8,673.8C289.0,673.8 288.2,673.4 287.5,672.8C286.8,672.2 286.2,671.2 285.8,670.2C285.4,669.2 285.2,667.8 285.2,666.6C285.2,665.4 285.4,664.0 285.8,663.0C286.2,662.0 286.8,661.0 287.5,660.4C288.2,659.8 289.0,659.4 289.8,659.4C290.6,659.4 291.4,659.8 292.1,660.4C292.8,661.0 293.4,662.0 293.8,663.0C294.2,664.0 294.4,665.4 294.4,666.6Z" fill="none" stroke="#0c0c0c" stroke-width="1.5" filter="url(#b06)"/>
<path d="M295.2,666.6C295.2,668.0 294.9,669.6 294.5,670.8C294.0,672.0 293.3,673.2 292.5,673.9C291.7,674.6 290.7,675.0 289.8,675.0C288.9,675.0 287.9,674.6 287.1,673.9C286.3,673.2 285.6,672.0 285.1,670.8C284.7,669.6 284.4,668.0 284.4,666.6C284.4,665.2 284.7,663.6 285.1,662.4C285.6,661.2 286.3,660.0 287.1,659.3C287.9,658.6 288.9,658.2 289.8,658.2C290.7,658.2 291.7,658.6 292.5,659.3C293.3,660.0 294.0,661.2 294.5,662.4C294.9,663.6 295.2,665.2 295.2,666.6Z" fill="none" stroke="#fff" stroke-width="0.85"/>
<path d="M293.1,666.8C293.1,667.9 292.9,669.1 292.7,670.0C292.4,670.9 292.0,671.8 291.5,672.3C291.0,672.9 290.4,673.2 289.9,673.2C289.4,673.2 288.8,672.9 288.3,672.3C287.8,671.8 287.4,670.9 287.1,670.0C286.9,669.1 286.7,667.9 286.7,666.8C286.7,665.7 286.9,664.5 287.1,663.6C287.4,662.7 287.8,661.8 288.3,661.3C288.8,660.7 289.4,660.4 289.9,660.4C290.4,660.4 291.0,660.7 291.5,661.3C292.0,661.8 292.4,662.7 292.7,663.6C292.9,664.5 293.1,665.7 293.1,666.8Z" fill="#a0a0a0"/>
<path d="M292.6,666.8C292.6,667.7 292.4,668.7 292.2,669.5C292.0,670.3 291.6,671.0 291.2,671.4C290.9,671.9 290.3,672.2 289.9,672.2C289.5,672.2 288.9,671.9 288.6,671.4C288.2,671.0 287.8,670.3 287.6,669.5C287.4,668.7 287.2,667.7 287.2,666.8C287.2,665.9 287.4,664.9 287.6,664.1C287.8,663.3 288.2,662.6 288.6,662.2C288.9,661.7 289.5,661.4 289.9,661.4C290.3,661.4 290.9,661.7 291.2,662.2C291.6,662.6 292.0,663.3 292.2,664.1C292.4,664.9 292.6,665.9 292.6,666.8Z" fill="none" stroke="#0c0c0c" stroke-width="1.2" filter="url(#b06)"/>
<path d="M293.1,666.8C293.1,667.9 292.9,669.1 292.7,670.0C292.4,670.9 292.0,671.8 291.5,672.3C291.0,672.9 290.4,673.2 289.9,673.2C289.4,673.2 288.8,672.9 288.3,672.3C287.8,671.8 287.4,670.9 287.1,670.0C286.9,669.1 286.7,667.9 286.7,666.8C286.7,665.7 286.9,664.5 287.1,663.6C287.4,662.7 287.8,661.8 288.3,661.3C288.8,660.7 289.4,660.4 289.9,660.4C290.4,660.4 291.0,660.7 291.5,661.3C292.0,661.8 292.4,662.7 292.7,663.6C292.9,664.5 293.1,665.7 293.1,666.8Z" fill="none" stroke="#fff" stroke-width="0.85"/>
<ellipse cx="289.7" cy="664.2" rx="1.0" ry="2.2" fill="#111" filter="url(#b06)" transform="rotate(0 289.7 664.2)"/>
<ellipse cx="290.2" cy="671" rx="0.9" ry="1.8" fill="#111" filter="url(#b06)" transform="rotate(0 290.2 671)"/>
<path d="M294.4,693.0C293.9,694.1 293.0,695.2 292.0,696.0C291.1,696.7 289.8,697.2 288.7,697.4C287.6,697.6 286.3,697.4 285.3,696.9C284.3,696.4 283.3,695.6 282.7,694.6C282.1,693.7 281.7,692.3 281.7,691.1C281.6,689.9 281.9,688.5 282.4,687.4C282.9,686.3 283.8,685.2 284.8,684.4C285.7,683.7 287.0,683.2 288.1,683.0C289.2,682.8 290.5,683.0 291.5,683.5C292.5,684.0 293.5,684.8 294.1,685.8C294.7,686.7 295.1,688.1 295.1,689.3C295.2,690.5 294.9,691.9 294.4,693.0Z" fill="#8a8a8a"/>
<path d="M293.5,692.6C293.1,693.5 292.3,694.5 291.5,695.1C290.7,695.8 289.6,696.2 288.6,696.4C287.7,696.5 286.6,696.3 285.7,695.9C284.9,695.6 284.0,694.8 283.5,694.0C283.0,693.2 282.7,692.0 282.6,691.0C282.6,690.0 282.8,688.8 283.3,687.8C283.7,686.9 284.5,685.9 285.3,685.3C286.1,684.6 287.2,684.2 288.2,684.0C289.1,683.9 290.2,684.1 291.1,684.5C291.9,684.8 292.8,685.6 293.3,686.4C293.8,687.2 294.1,688.4 294.2,689.4C294.2,690.4 294.0,691.6 293.5,692.6Z" fill="none" stroke="#0c0c0c" stroke-width="1.5" filter="url(#b06)"/>
<path d="M294.4,693.0C293.9,694.1 293.0,695.2 292.0,696.0C291.1,696.7 289.8,697.2 288.7,697.4C287.6,697.6 286.3,697.4 285.3,696.9C284.3,696.4 283.3,695.6 282.7,694.6C282.1,693.7 281.7,692.3 281.7,691.1C281.6,689.9 281.9,688.5 282.4,687.4C282.9,686.3 283.8,685.2 284.8,684.4C285.7,683.7 287.0,683.2 288.1,683.0C289.2,682.8 290.5,683.0 291.5,683.5C292.5,684.0 293.5,684.8 294.1,685.8C294.7,686.7 295.1,688.1 295.1,689.3C295.2,690.5 294.9,691.9 294.4,693.0Z" fill="none" stroke="#fff" stroke-width="0.85"/>
<path d="M292.5,691.8C292.1,692.5 291.6,693.2 291.0,693.6C290.5,694.1 289.7,694.5 289.1,694.6C288.4,694.7 287.7,694.6 287.2,694.4C286.6,694.1 286.1,693.6 285.7,693.0C285.4,692.5 285.2,691.7 285.2,690.9C285.2,690.2 285.4,689.3 285.7,688.6C286.1,687.9 286.6,687.2 287.2,686.8C287.7,686.3 288.5,685.9 289.1,685.8C289.8,685.7 290.5,685.8 291.0,686.0C291.6,686.3 292.1,686.8 292.5,687.4C292.8,687.9 293.0,688.7 293.0,689.5C293.0,690.2 292.8,691.1 292.5,691.8Z" fill="#a8a8a8"/>
<path d="M291.8,691.5C291.5,692.0 291.1,692.6 290.7,693.0C290.2,693.4 289.6,693.6 289.1,693.7C288.6,693.8 288.0,693.8 287.5,693.6C287.1,693.4 286.6,692.9 286.4,692.5C286.1,692.0 286.0,691.4 286.0,690.8C286.0,690.2 286.1,689.5 286.4,688.9C286.7,688.4 287.1,687.8 287.5,687.4C288.0,687.0 288.6,686.8 289.1,686.7C289.6,686.6 290.2,686.6 290.7,686.8C291.1,687.0 291.6,687.5 291.8,687.9C292.1,688.4 292.2,689.0 292.2,689.6C292.2,690.2 292.1,690.9 291.8,691.5Z" fill="none" stroke="#0c0c0c" stroke-width="1.2" filter="url(#b06)"/>
<path d="M292.5,691.8C292.1,692.5 291.6,693.2 291.0,693.6C290.5,694.1 289.7,694.5 289.1,694.6C288.4,694.7 287.7,694.6 287.2,694.4C286.6,694.1 286.1,693.6 285.7,693.0C285.4,692.5 285.2,691.7 285.2,690.9C285.2,690.2 285.4,689.3 285.7,688.6C286.1,687.9 286.6,687.2 287.2,686.8C287.7,686.3 288.5,685.9 289.1,685.8C289.8,685.7 290.5,685.8 291.0,686.0C291.6,686.3 292.1,686.8 292.5,687.4C292.8,687.9 293.0,688.7 293.0,689.5C293.0,690.2 292.8,691.1 292.5,691.8Z" fill="none" stroke="#fff" stroke-width="0.85"/>
<ellipse cx="289.1" cy="690.2" rx="1.5" ry="2.3" fill="#111" filter="url(#b06)" transform="rotate(25 289.1 690.2)"/>
<path d="M288.2,678.0C288.2,678.0 291.2,681.6 291.2,681.6" fill="none" stroke="#fff" stroke-width="0.95" stroke-linecap="round"/>
<path d="M291.2,678.0C291.2,678.0 288.2,681.6 288.2,681.6" fill="none" stroke="#fff" stroke-width="0.95" stroke-linecap="round"/>
<ellipse cx="282.8" cy="653.3" rx="1.1" ry="1.0" fill="#fff" stroke="#fff" stroke-width="0.5"/>
<rect x="275.6" y="668.6" width="3.2" height="3.4" fill="#888"/>
<rect x="284.0" y="702" width="2.8" height="3.4" fill="#999"/>
<line x1="59.2" y1="451.0" x2="59.2" y2="627.3" stroke="#777" stroke-width="1.0" stroke-linecap="butt"/>
<line x1="147.7" y1="451.0" x2="147.7" y2="627.3" stroke="#b0b0b0" stroke-width="1.0" stroke-linecap="butt"/>
<line x1="236.0" y1="451.0" x2="236.0" y2="627.3" stroke="#b0b0b0" stroke-width="1.0" stroke-linecap="butt"/>
<line x1="324.2" y1="451.0" x2="324.2" y2="627.3" stroke="#b0b0b0" stroke-width="1.0" stroke-linecap="butt"/>
<line x1="60.3" y1="627.3" x2="60.3" y2="715.9" stroke="#777" stroke-width="1.0" stroke-linecap="butt"/>
<line x1="148.6" y1="627.3" x2="148.6" y2="715.9" stroke="#8a8a8a" stroke-width="1.0" stroke-linecap="butt"/>
<line x1="236.4" y1="627.3" x2="236.4" y2="715.9" stroke="#8a8a8a" stroke-width="1.0" stroke-linecap="butt"/>
<line x1="324.8" y1="627.3" x2="324.8" y2="715.9" stroke="#8a8a8a" stroke-width="1.0" stroke-linecap="butt"/>
<line x1="59.2" y1="451.0" x2="324.2" y2="451.0" stroke="#b4b4b4" stroke-width="1.0" stroke-linecap="butt"/>
<line x1="59.2" y1="538.9" x2="326.7" y2="538.9" stroke="#5a5a5a" stroke-width="1.2" stroke-linecap="butt"/>
<line x1="59.2" y1="627.3" x2="324.7" y2="627.3" stroke="#4a4a4a" stroke-width="1.2" stroke-linecap="butt"/>
<line x1="60.3" y1="715.9" x2="324.8" y2="715.9" stroke="#888" stroke-width="1.1" stroke-linecap="butt"/>
<text x="56.6" y="452.6" font-size="5.7" text-anchor="end" fill="#000">10<tspan font-size="3.99" dy="-2.56">4</tspan></text>
<text x="56.6" y="474.57500000000005" font-size="5.7" text-anchor="end" fill="#000">10<tspan font-size="3.99" dy="-2.56">3</tspan></text>
<text x="56.6" y="496.55" font-size="5.7" text-anchor="end" fill="#000">10<tspan font-size="3.99" dy="-2.56">2</tspan></text>
<text x="56.6" y="518.525" font-size="5.7" text-anchor="end" fill="#000">10<tspan font-size="3.99" dy="-2.56">1</tspan></text>
<text x="56.6" y="540.5" font-size="5.7" text-anchor="end" fill="#000">10<tspan font-size="3.99" dy="-2.56">4</tspan></text>
<text x="56.6" y="562.6" font-size="5.7" text-anchor="end" fill="#000">10<tspan font-size="3.99" dy="-2.56">3</tspan></text>
<text x="56.6" y="584.6999999999999" font-size="5.7" text-anchor="end" fill="#000">10<tspan font-size="3.99" dy="-2.56">2</tspan></text>
<text x="56.6" y="606.8" font-size="5.7" text-anchor="end" fill="#000">10<tspan font-size="3.99" dy="-2.56">1</tspan></text>
<text x="56.6" y="628.9" font-size="5.7" text-anchor="end" fill="#000">10<tspan font-size="3.99" dy="-2.56">4</tspan></text>
<text x="56.6" y="651.05" font-size="5.7" text-anchor="end" fill="#000">10<tspan font-size="3.99" dy="-2.56">3</tspan></text>
<text x="56.6" y="673.1999999999999" font-size="5.7" text-anchor="end" fill="#000">10<tspan font-size="3.99" dy="-2.56">2</tspan></text>
<text x="56.6" y="695.35" font-size="5.7" text-anchor="end" fill="#000">10<tspan font-size="3.99" dy="-2.56">1</tspan></text>
<text x="56.6" y="717.5" font-size="5.7" text-anchor="end" fill="#000">10<tspan font-size="3.99" dy="-2.56">0</tspan></text>
<text x="60.8" y="723.8" font-size="5.7" text-anchor="middle" fill="#000">10<tspan font-size="3.99" dy="-2.56">0</tspan></text>
<text x="82.4" y="723.8" font-size="5.7" text-anchor="middle" fill="#000">10<tspan font-size="3.99" dy="-2.56">1</tspan></text>
<text x="104.2" y="723.8" font-size="5.7" text-anchor="middle" fill="#000">10<tspan font-size="3.99" dy="-2.56">2</tspan></text>
<text x="126" y="723.8" font-size="5.7" text-anchor="middle" fill="#000">10<tspan font-size="3.99" dy="-2.56">3</tspan></text>
<text x="147" y="723.8" font-size="5.7" text-anchor="middle" fill="#000">10<tspan font-size="3.99" dy="-2.56">4</tspan></text>
<text x="170.7" y="723.8" font-size="5.7" text-anchor="middle" fill="#000">10<tspan font-size="3.99" dy="-2.56">1</tspan></text>
<text x="214.2" y="723.8" font-size="5.7" text-anchor="middle" fill="#000">10<tspan font-size="3.99" dy="-2.56">3</tspan></text>
<text x="235.6" y="723.8" font-size="5.7" text-anchor="middle" fill="#000">10<tspan font-size="3.99" dy="-2.56">4</tspan></text>
<text x="259.2" y="723.8" font-size="5.7" text-anchor="middle" fill="#000">10<tspan font-size="3.99" dy="-2.56">1</tspan></text>
<text x="280.6" y="723.8" font-size="5.7" text-anchor="middle" fill="#000">10<tspan font-size="3.99" dy="-2.56">2</tspan></text>
<text x="302" y="723.8" font-size="5.7" text-anchor="middle" fill="#000">10<tspan font-size="3.99" dy="-2.56">3</tspan></text>
<text x="323.7" y="723.8" font-size="5.7" text-anchor="middle" fill="#000">10<tspan font-size="3.99" dy="-2.56">4</tspan></text>
<rect x="181.5" y="713.5" width="21.6" height="6" fill="#fff"/>
<text x="88.3" y="443.8" font-size="11.6" text-anchor="start" fill="#000">MHC<tspan font-size="6.73" dy="-4.18">-/-</tspan></text>
<text x="189.5" y="443.8" font-size="12.3" text-anchor="start" fill="#000">D<tspan font-size="7.38" dy="-4.67">b</tspan></text>
<text x="273.8" y="443.8" font-size="12.3" text-anchor="start" fill="#000">D<tspan font-size="7.38" dy="-4.67">d</tspan></text>
<text x="5.3" y="494.0" font-size="12" text-anchor="start" textLength="33.2" lengthAdjust="spacingAndGlyphs" fill="#000">Ly49D</text>
<text x="5.7" y="581.5" font-size="12" text-anchor="start" textLength="31.5" lengthAdjust="spacingAndGlyphs" fill="#000">NK1.1</text>
<text x="5.5" y="663" font-size="12" text-anchor="start" textLength="40.8" lengthAdjust="spacingAndGlyphs" fill="#000">NKG2D</text>
<line x1="41.5" y1="684.2" x2="41.5" y2="668.2" stroke="#111" stroke-width="2.1" stroke-linecap="butt"/>
<path d="M36.57,673.0 L41.5,667.2 L46.43,673.0" fill="none" stroke="#111" stroke-width="2.1" />
<text x="44.6" y="717.3" font-size="12" text-anchor="start" textLength="31.5" lengthAdjust="spacingAndGlyphs" fill="#000" transform="rotate(-90 44.6 717.3)">IFN-γ</text>
<text x="50.4" y="736.3" font-size="12" text-anchor="start" textLength="33.5" lengthAdjust="spacingAndGlyphs" fill="#000">Ly49A</text>
<line x1="89" y1="732.3" x2="104.6" y2="732.3" stroke="#111" stroke-width="2.1" stroke-linecap="butt"/>
<path d="M99.8,727.37 L105.6,732.3 L99.8,737.2299999999999" fill="none" stroke="#111" stroke-width="2.1" />
<text x="113.8" y="736.3" font-size="12" text-anchor="start" textLength="176" lengthAdjust="spacingAndGlyphs" fill="#000">CD3<tspan font-size="7.44" dy="-4.56">-</tspan><tspan dy="4.56"> Ly49C/I/G2</tspan><tspan font-size="7.44" dy="-4.56">-</tspan><tspan dy="4.56"> NK1.1</tspan><tspan font-size="7.44" dy="-4.56">+</tspan><tspan dy="4.56"> Ly49A</tspan><tspan font-size="7.44" dy="-4.56">+</tspan></text>
<rect x="97.9" y="465.2" width="31.5" height="32.60000000000002" fill="none" stroke="#555" stroke-width="1.0"/>
<path d="M94.8,465.2 L92.8,465.2 L92.8,497.8 L94.8,497.8" fill="none" stroke="#111" stroke-width="1.3" />
<text x="113.8" y="463" font-size="12" text-anchor="middle" fill="#000">38%</text>
<text x="66.3" y="475.8" font-size="12" text-anchor="start" textLength="23.6" lengthAdjust="spacingAndGlyphs" fill="#000">MFI:</text>
<text x="66.3" y="492" font-size="12.2" text-anchor="start" fill="#000">169</text>
<rect x="186" y="465.2" width="31.69999999999999" height="32.60000000000002" fill="none" stroke="#555" stroke-width="1.0"/>
<path d="M182.8,465.2 L180.8,465.2 L180.8,497.8 L182.8,497.8" fill="none" stroke="#111" stroke-width="1.3" />
<text x="202" y="463" font-size="12" text-anchor="middle" fill="#000">42%</text>
<text x="155.7" y="475.8" font-size="12" text-anchor="start" textLength="23.6" lengthAdjust="spacingAndGlyphs" fill="#000">MFI:</text>
<text x="155.7" y="492" font-size="12.2" text-anchor="start" fill="#000">200</text>
<rect x="271.2" y="465.2" width="31.400000000000034" height="32.60000000000002" fill="none" stroke="#555" stroke-width="1.0"/>
<path d="M268.4,465.2 L266.4,465.2 L266.4,497.8 L268.4,497.8" fill="none" stroke="#111" stroke-width="1.3" />
<text x="287" y="463" font-size="12" text-anchor="middle" fill="#000">56%</text>
<text x="241.8" y="475.8" font-size="12" text-anchor="start" textLength="23.6" lengthAdjust="spacingAndGlyphs" fill="#000">MFI:</text>
<text x="241.8" y="492" font-size="12.2" text-anchor="start" fill="#000">271</text>
<rect x="97.9" y="555.2" width="31.5" height="31.0" fill="none" stroke="#555" stroke-width="1.0"/>
<path d="M94.8,555.2 L92.8,555.2 L92.8,586.2 L94.8,586.2" fill="none" stroke="#111" stroke-width="1.3" />
<text x="113.8" y="551.5" font-size="12" text-anchor="middle" fill="#000">18%</text>
<text x="66.3" y="565" font-size="12" text-anchor="start" textLength="23.6" lengthAdjust="spacingAndGlyphs" fill="#000">MFI:</text>
<text x="66.3" y="581.3" font-size="12.2" text-anchor="start" fill="#000">169</text>
<rect x="187.1" y="555.2" width="31.5" height="31.199999999999932" fill="none" stroke="#555" stroke-width="1.0"/>
<path d="M185.3,555.2 L183.3,555.2 L183.3,586.4 L185.3,586.4" fill="none" stroke="#111" stroke-width="1.3" />
<text x="204.2" y="551.5" font-size="12" text-anchor="middle" fill="#000">21%</text>
<text x="157" y="565" font-size="12" text-anchor="start" textLength="23.6" lengthAdjust="spacingAndGlyphs" fill="#000">MFI:</text>
<text x="157" y="581.3" font-size="12.2" text-anchor="start" fill="#000">170</text>
<rect x="271.2" y="555.2" width="31.400000000000034" height="31.199999999999932" fill="none" stroke="#555" stroke-width="1.0"/>
<path d="M268.8,555.2 L266.8,555.2 L266.8,586.4 L268.8,586.4" fill="none" stroke="#111" stroke-width="1.3" />
<text x="287" y="551.5" font-size="12" text-anchor="middle" fill="#000">34%</text>
<text x="241.8" y="565" font-size="12" text-anchor="start" textLength="23.6" lengthAdjust="spacingAndGlyphs" fill="#000">MFI:</text>
<text x="241.8" y="581.3" font-size="12.2" text-anchor="start" fill="#000">219</text>
<rect x="100.6" y="644.4" width="31.099999999999994" height="29.899999999999977" fill="none" stroke="#222" stroke-width="1.0"/>
<path d="M97.6,643.5 L95.6,643.5 L95.6,675.2 L97.6,675.2" fill="none" stroke="#111" stroke-width="1.3" />
<text x="116.5" y="640.5" font-size="12" text-anchor="middle" fill="#000">30%</text>
<text x="69.5" y="653.5" font-size="12" text-anchor="start" textLength="23.6" lengthAdjust="spacingAndGlyphs" fill="#000">MFI:</text>
<text x="69.5" y="669.5" font-size="12.2" text-anchor="start" fill="#000">179</text>
<rect x="192.3" y="644.4" width="31.099999999999994" height="29.899999999999977" fill="none" stroke="#222" stroke-width="1.0"/>
<path d="M189.9,643.5 L187.9,643.5 L187.9,675.2 L189.9,675.2" fill="none" stroke="#111" stroke-width="1.3" />
<text x="209" y="640.5" font-size="12" text-anchor="middle" fill="#000">42%</text>
<text x="163.3" y="653.5" font-size="12" text-anchor="start" textLength="23.6" lengthAdjust="spacingAndGlyphs" fill="#000">MFI:</text>
<text x="163.3" y="669.5" font-size="12.2" text-anchor="start" fill="#000">190</text>
<rect x="274.1" y="644.4" width="31.5" height="29.899999999999977" fill="none" stroke="#222" stroke-width="1.0"/>
<path d="M272.1,643.5 L270.1,643.5 L270.1,675.2 L272.1,675.2" fill="none" stroke="#111" stroke-width="1.3" />
<text x="290" y="640.5" font-size="12" text-anchor="middle" fill="#000">47%</text>
<text x="243.5" y="653.5" font-size="12" text-anchor="start" textLength="23.6" lengthAdjust="spacingAndGlyphs" fill="#000">MFI:</text>
<text x="243.5" y="669.5" font-size="12.2" text-anchor="start" fill="#000">219</text>
<clipPath id="clipE"><rect x="50" y="758.4" width="300" height="87.40000000000002"/></clipPath>
<g clip-path="url(#clipE)">
<clipPath id="bc14"><path d="M112.7,807.3C113.5,807.2 114.1,807.3 114.8,807.5C115.5,807.7 116.2,808.0 116.7,808.4C117.2,808.8 117.4,809.5 117.6,810.0C117.8,810.6 118.0,811.3 117.9,811.9C117.8,812.5 117.4,812.9 117.1,813.4C116.8,813.9 116.2,814.3 116.1,814.8C116.0,815.3 116.4,816.0 116.6,816.6C116.8,817.2 116.8,817.7 117.3,818.3C117.8,818.9 118.7,819.4 119.3,820.1C119.9,820.8 120.3,821.5 120.8,822.3C121.3,823.1 121.9,824.1 122.2,825.1C122.6,826.1 122.8,827.2 123.1,828.1C123.4,829.0 123.7,829.6 123.9,830.4C124.0,831.1 124.3,831.9 124.2,832.7C124.1,833.5 123.4,834.2 123.2,834.9C122.9,835.7 122.8,836.5 122.5,837.3C122.2,838.1 121.8,838.8 121.3,839.5C120.8,840.1 120.0,840.5 119.6,841.3C119.2,842.1 119.0,843.2 118.8,844.1C118.6,845.1 119.6,846.5 118.4,847.0C117.2,847.5 113.8,846.9 111.5,846.9C109.2,846.9 105.9,847.4 104.6,847.0C103.3,846.6 103.9,845.2 103.8,844.2C103.6,843.3 103.9,841.9 103.5,841.3C103.1,840.7 102.1,840.7 101.5,840.4C100.8,840.1 100.0,840.2 99.4,839.6C98.8,839.0 98.4,837.7 97.9,836.7C97.4,835.8 96.6,834.6 96.5,833.8C96.4,833.0 96.8,832.6 97.0,832.1C97.2,831.5 97.2,830.9 97.7,830.4C98.2,829.9 99.3,829.8 99.9,829.3C100.6,828.8 101.2,828.3 101.7,827.5C102.2,826.7 102.6,825.6 103.2,824.7C103.8,823.9 104.6,823.1 105.2,822.3C105.8,821.5 106.0,820.5 106.6,819.8C107.2,819.0 108.1,818.3 108.6,817.7C109.1,817.1 109.3,816.6 109.5,816.1C109.7,815.5 109.9,814.8 109.8,814.2C109.7,813.6 109.2,813.1 108.9,812.5C108.6,812.0 108.1,811.4 108.1,810.8C108.1,810.2 108.5,809.7 108.7,809.2C109.0,808.7 109.1,808.2 109.8,807.9C110.5,807.6 111.9,807.4 112.7,807.3Z"/></clipPath>
<path d="M112.7,807.3C113.5,807.2 114.1,807.3 114.8,807.5C115.5,807.7 116.2,808.0 116.7,808.4C117.2,808.8 117.4,809.5 117.6,810.0C117.8,810.6 118.0,811.3 117.9,811.9C117.8,812.5 117.4,812.9 117.1,813.4C116.8,813.9 116.2,814.3 116.1,814.8C116.0,815.3 116.4,816.0 116.6,816.6C116.8,817.2 116.8,817.7 117.3,818.3C117.8,818.9 118.7,819.4 119.3,820.1C119.9,820.8 120.3,821.5 120.8,822.3C121.3,823.1 121.9,824.1 122.2,825.1C122.6,826.1 122.8,827.2 123.1,828.1C123.4,829.0 123.7,829.6 123.9,830.4C124.0,831.1 124.3,831.9 124.2,832.7C124.1,833.5 123.4,834.2 123.2,834.9C122.9,835.7 122.8,836.5 122.5,837.3C122.2,838.1 121.8,838.8 121.3,839.5C120.8,840.1 120.0,840.5 119.6,841.3C119.2,842.1 119.0,843.2 118.8,844.1C118.6,845.1 119.6,846.5 118.4,847.0C117.2,847.5 113.8,846.9 111.5,846.9C109.2,846.9 105.9,847.4 104.6,847.0C103.3,846.6 103.9,845.2 103.8,844.2C103.6,843.3 103.9,841.9 103.5,841.3C103.1,840.7 102.1,840.7 101.5,840.4C100.8,840.1 100.0,840.2 99.4,839.6C98.8,839.0 98.4,837.7 97.9,836.7C97.4,835.8 96.6,834.6 96.5,833.8C96.4,833.0 96.8,832.6 97.0,832.1C97.2,831.5 97.2,830.9 97.7,830.4C98.2,829.9 99.3,829.8 99.9,829.3C100.6,828.8 101.2,828.3 101.7,827.5C102.2,826.7 102.6,825.6 103.2,824.7C103.8,823.9 104.6,823.1 105.2,822.3C105.8,821.5 106.0,820.5 106.6,819.8C107.2,819.0 108.1,818.3 108.6,817.7C109.1,817.1 109.3,816.6 109.5,816.1C109.7,815.5 109.9,814.8 109.8,814.2C109.7,813.6 109.2,813.1 108.9,812.5C108.6,812.0 108.1,811.4 108.1,810.8C108.1,810.2 108.5,809.7 108.7,809.2C109.0,808.7 109.1,808.2 109.8,807.9C110.5,807.6 111.9,807.4 112.7,807.3Z" fill="#808080" stroke="#000" stroke-width="2.4" stroke-linejoin="round"/>
<g clip-path="url(#bc14)">
<path d="M112.7,807.3C113.5,807.2 114.1,807.3 114.8,807.5C115.5,807.7 116.2,808.0 116.7,808.4C117.2,808.8 117.4,809.5 117.6,810.0C117.8,810.6 118.0,811.3 117.9,811.9C117.8,812.5 117.4,812.9 117.1,813.4C116.8,813.9 116.2,814.3 116.1,814.8C116.0,815.3 116.4,816.0 116.6,816.6C116.8,817.2 116.8,817.7 117.3,818.3C117.8,818.9 118.7,819.4 119.3,820.1C119.9,820.8 120.3,821.5 120.8,822.3C121.3,823.1 121.9,824.1 122.2,825.1C122.6,826.1 122.8,827.2 123.1,828.1C123.4,829.0 123.7,829.6 123.9,830.4C124.0,831.1 124.3,831.9 124.2,832.7C124.1,833.5 123.4,834.2 123.2,834.9C122.9,835.7 122.8,836.5 122.5,837.3C122.2,838.1 121.8,838.8 121.3,839.5C120.8,840.1 120.0,840.5 119.6,841.3C119.2,842.1 119.0,843.2 118.8,844.1C118.6,845.1 119.6,846.5 118.4,847.0C117.2,847.5 113.8,846.9 111.5,846.9C109.2,846.9 105.9,847.4 104.6,847.0C103.3,846.6 103.9,845.2 103.8,844.2C103.6,843.3 103.9,841.9 103.5,841.3C103.1,840.7 102.1,840.7 101.5,840.4C100.8,840.1 100.0,840.2 99.4,839.6C98.8,839.0 98.4,837.7 97.9,836.7C97.4,835.8 96.6,834.6 96.5,833.8C96.4,833.0 96.8,832.6 97.0,832.1C97.2,831.5 97.2,830.9 97.7,830.4C98.2,829.9 99.3,829.8 99.9,829.3C100.6,828.8 101.2,828.3 101.7,827.5C102.2,826.7 102.6,825.6 103.2,824.7C103.8,823.9 104.6,823.1 105.2,822.3C105.8,821.5 106.0,820.5 106.6,819.8C107.2,819.0 108.1,818.3 108.6,817.7C109.1,817.1 109.3,816.6 109.5,816.1C109.7,815.5 109.9,814.8 109.8,814.2C109.7,813.6 109.2,813.1 108.9,812.5C108.6,812.0 108.1,811.4 108.1,810.8C108.1,810.2 108.5,809.7 108.7,809.2C109.0,808.7 109.1,808.2 109.8,807.9C110.5,807.6 111.9,807.4 112.7,807.3Z" fill="none" stroke="#060606" stroke-width="3.0" filter="url(#b08)"/>
<ellipse cx="113" cy="811" rx="2" ry="2" fill="#999" opacity="0.8" filter="url(#soft3)" transform="rotate(0 113 811)"/>
</g>
<path d="M112.9,817.5C114.2,817.4 115.8,820.1 117.0,822.0C118.2,823.9 120.3,826.7 120.4,829.0C120.5,831.3 118.7,833.6 117.4,836.0C116.1,838.4 114.1,843.1 112.6,843.2C111.1,843.3 109.3,838.9 108.2,836.5C107.1,834.1 106.1,831.3 106.2,829.0C106.3,826.7 107.9,824.4 109.0,822.5C110.1,820.6 111.6,817.6 112.9,817.5Z" fill="#868686"/>
<path d="M112.9,818.9C114.1,818.8 115.4,821.2 116.5,822.9C117.7,824.6 119.5,827.0 119.6,829.1C119.6,831.2 118.1,833.2 116.9,835.3C115.7,837.4 114.0,841.7 112.6,841.8C111.3,841.8 109.7,837.9 108.7,835.8C107.8,833.7 106.8,831.2 106.9,829.1C107.0,827.0 108.4,825.0 109.4,823.3C110.4,821.6 111.7,818.9 112.9,818.9Z" fill="none" stroke="#080808" stroke-width="1.7" filter="url(#b06)"/>
<path d="M112.9,817.5C114.2,817.4 115.8,820.1 117.0,822.0C118.2,823.9 120.3,826.7 120.4,829.0C120.5,831.3 118.7,833.6 117.4,836.0C116.1,838.4 114.1,843.1 112.6,843.2C111.1,843.3 109.3,838.9 108.2,836.5C107.1,834.1 106.1,831.3 106.2,829.0C106.3,826.7 107.9,824.4 109.0,822.5C110.1,820.6 111.6,817.6 112.9,817.5Z" fill="none" stroke="#fff" stroke-width="0.85"/>
<path d="M112.9,820.8C113.9,820.7 115.0,822.7 115.9,824.1C116.8,825.5 118.4,827.5 118.4,829.3C118.5,831.0 117.2,832.7 116.2,834.4C115.2,836.2 113.8,839.7 112.7,839.8C111.5,839.8 110.2,836.6 109.4,834.8C108.6,833.1 107.8,831.0 107.9,829.3C108.0,827.5 109.2,825.9 110.0,824.5C110.8,823.0 111.9,820.8 112.9,820.8Z" fill="#868686"/>
<path d="M112.9,822.1C113.7,822.1 114.7,823.7 115.4,825.0C116.2,826.2 117.5,827.9 117.6,829.4C117.6,830.8 116.5,832.3 115.7,833.8C114.9,835.3 113.6,838.3 112.7,838.3C111.7,838.4 110.6,835.6 109.9,834.1C109.2,832.6 108.6,830.8 108.6,829.4C108.7,827.9 109.7,826.5 110.4,825.3C111.1,824.1 112.0,822.2 112.9,822.1Z" fill="none" stroke="#080808" stroke-width="1.7" filter="url(#b06)"/>
<path d="M112.9,820.8C113.9,820.7 115.0,822.7 115.9,824.1C116.8,825.5 118.4,827.5 118.4,829.3C118.5,831.0 117.2,832.7 116.2,834.4C115.2,836.2 113.8,839.7 112.7,839.8C111.5,839.8 110.2,836.6 109.4,834.8C108.6,833.1 107.8,831.0 107.9,829.3C108.0,827.5 109.2,825.9 110.0,824.5C110.8,823.0 111.9,820.8 112.9,820.8Z" fill="none" stroke="#fff" stroke-width="0.85"/>
<path d="M112.8,824.2C113.5,824.2 114.2,825.4 114.7,826.3C115.3,827.2 116.3,828.5 116.3,829.5C116.3,830.6 115.5,831.7 114.9,832.8C114.3,833.8 113.4,836.0 112.7,836.1C112.0,836.1 111.2,834.1 110.7,833.0C110.2,831.9 109.7,830.6 109.8,829.5C109.8,828.5 110.5,827.4 111.1,826.5C111.6,825.7 112.2,824.3 112.8,824.2Z" fill="#868686"/>
<path d="M112.8,825.6C113.3,825.6 113.8,826.5 114.3,827.2C114.7,827.9 115.4,828.8 115.5,829.6C115.5,830.5 114.9,831.3 114.4,832.1C114.0,832.9 113.3,834.6 112.7,834.6C112.2,834.7 111.6,833.1 111.2,832.3C110.8,831.4 110.4,830.5 110.5,829.6C110.5,828.8 111.1,828.0 111.5,827.4C111.9,826.7 112.4,825.6 112.8,825.6Z" fill="none" stroke="#080808" stroke-width="1.7" filter="url(#b06)"/>
<path d="M112.8,824.2C113.5,824.2 114.2,825.4 114.7,826.3C115.3,827.2 116.3,828.5 116.3,829.5C116.3,830.6 115.5,831.7 114.9,832.8C114.3,833.8 113.4,836.0 112.7,836.1C112.0,836.1 111.2,834.1 110.7,833.0C110.2,831.9 109.7,830.6 109.8,829.5C109.8,828.5 110.5,827.4 111.1,826.5C111.6,825.7 112.2,824.3 112.8,824.2Z" fill="none" stroke="#fff" stroke-width="0.85"/>
<ellipse cx="112.9" cy="830.3" rx="1.3" ry="2.0" fill="#111" filter="url(#b06)" transform="rotate(0 112.9 830.3)"/>
<path d="M107.5,845.5C106.8,845.0 110.2,842.5 111.5,842.5C112.8,842.5 116.2,845.0 115.5,845.5" fill="none" stroke="#fff" stroke-width="0.95" stroke-linecap="round"/>
<circle cx="101.7" cy="833.8" r="1.3" fill="#ddd" stroke="#111" stroke-width="0.9"/>
<ellipse cx="106.3" cy="803.8" rx="0.8" ry="1.5" fill="#111"/>
<clipPath id="bc15"><path d="M208.3,795.2C208.7,795.2 209.3,796.0 209.7,796.4C210.1,796.9 210.2,797.5 210.6,798.1C211.0,798.7 211.7,799.5 212.2,800.3C212.7,801.0 212.9,802.1 213.4,802.7C213.9,803.3 214.7,803.6 215.4,804.1C216.0,804.6 217.1,805.3 217.1,805.8C217.1,806.3 216.0,806.4 215.6,806.9C215.2,807.3 214.9,807.9 214.6,808.4C214.3,808.9 214.2,809.6 214.0,810.2C213.8,810.7 213.2,811.3 213.4,811.9C213.6,812.5 214.4,813.2 215.0,813.8C215.6,814.4 216.3,814.7 216.9,815.4C217.5,816.1 218.3,817.0 218.9,817.8C219.5,818.7 220.3,819.7 220.4,820.6C220.5,821.5 220.0,822.3 219.8,823.2C219.6,824.1 219.4,824.9 219.2,825.8C219.0,826.7 218.6,827.6 218.4,828.6C218.2,829.5 218.4,830.6 218.1,831.5C217.8,832.4 217.1,833.0 216.6,833.8C216.2,834.6 215.8,835.5 215.2,836.1C214.6,836.7 213.8,837.0 213.2,837.6C212.6,838.2 212.1,838.7 211.7,839.6C211.3,840.5 211.1,842.0 210.9,843.3C210.8,844.5 211.3,846.4 210.8,847.0C210.3,847.6 208.6,847.5 208.1,847.0C207.6,846.5 207.9,844.9 207.8,843.9C207.7,842.8 208.1,841.2 207.7,840.7C207.3,840.2 206.3,840.9 205.6,840.8C204.9,840.8 203.9,840.6 203.6,840.2C203.3,839.8 204.0,839.1 204.1,838.5C204.2,837.9 204.5,837.3 204.2,836.7C203.9,836.1 202.8,835.6 202.3,834.9C201.7,834.2 201.3,833.5 200.8,832.7C200.3,831.9 199.8,830.9 199.5,829.9C199.2,828.9 199.0,827.9 199.0,826.9C199.0,825.9 199.6,825.0 199.8,824.0C200.0,823.1 199.8,821.9 200.2,821.1C200.6,820.3 201.4,819.7 201.9,818.9C202.4,818.2 202.9,817.3 203.1,816.5C203.3,815.7 203.2,814.9 203.1,814.2C203.0,813.4 202.4,812.5 202.5,811.9C202.6,811.3 203.6,810.9 204.0,810.3C204.3,809.8 204.6,809.2 204.8,808.4C205.0,807.6 205.0,806.5 205.2,805.5C205.4,804.6 205.8,803.6 206.0,802.7C206.2,801.8 205.9,801.1 206.1,800.3C206.2,799.6 206.6,798.7 206.8,798.1C207.0,797.5 207.0,797.0 207.3,796.5C207.5,796.0 207.9,795.2 208.3,795.2Z"/></clipPath>
<path d="M208.3,795.2C208.7,795.2 209.3,796.0 209.7,796.4C210.1,796.9 210.2,797.5 210.6,798.1C211.0,798.7 211.7,799.5 212.2,800.3C212.7,801.0 212.9,802.1 213.4,802.7C213.9,803.3 214.7,803.6 215.4,804.1C216.0,804.6 217.1,805.3 217.1,805.8C217.1,806.3 216.0,806.4 215.6,806.9C215.2,807.3 214.9,807.9 214.6,808.4C214.3,808.9 214.2,809.6 214.0,810.2C213.8,810.7 213.2,811.3 213.4,811.9C213.6,812.5 214.4,813.2 215.0,813.8C215.6,814.4 216.3,814.7 216.9,815.4C217.5,816.1 218.3,817.0 218.9,817.8C219.5,818.7 220.3,819.7 220.4,820.6C220.5,821.5 220.0,822.3 219.8,823.2C219.6,824.1 219.4,824.9 219.2,825.8C219.0,826.7 218.6,827.6 218.4,828.6C218.2,829.5 218.4,830.6 218.1,831.5C217.8,832.4 217.1,833.0 216.6,833.8C216.2,834.6 215.8,835.5 215.2,836.1C214.6,836.7 213.8,837.0 213.2,837.6C212.6,838.2 212.1,838.7 211.7,839.6C211.3,840.5 211.1,842.0 210.9,843.3C210.8,844.5 211.3,846.4 210.8,847.0C210.3,847.6 208.6,847.5 208.1,847.0C207.6,846.5 207.9,844.9 207.8,843.9C207.7,842.8 208.1,841.2 207.7,840.7C207.3,840.2 206.3,840.9 205.6,840.8C204.9,840.8 203.9,840.6 203.6,840.2C203.3,839.8 204.0,839.1 204.1,838.5C204.2,837.9 204.5,837.3 204.2,836.7C203.9,836.1 202.8,835.6 202.3,834.9C201.7,834.2 201.3,833.5 200.8,832.7C200.3,831.9 199.8,830.9 199.5,829.9C199.2,828.9 199.0,827.9 199.0,826.9C199.0,825.9 199.6,825.0 199.8,824.0C200.0,823.1 199.8,821.9 200.2,821.1C200.6,820.3 201.4,819.7 201.9,818.9C202.4,818.2 202.9,817.3 203.1,816.5C203.3,815.7 203.2,814.9 203.1,814.2C203.0,813.4 202.4,812.5 202.5,811.9C202.6,811.3 203.6,810.9 204.0,810.3C204.3,809.8 204.6,809.2 204.8,808.4C205.0,807.6 205.0,806.5 205.2,805.5C205.4,804.6 205.8,803.6 206.0,802.7C206.2,801.8 205.9,801.1 206.1,800.3C206.2,799.6 206.6,798.7 206.8,798.1C207.0,797.5 207.0,797.0 207.3,796.5C207.5,796.0 207.9,795.2 208.3,795.2Z" fill="#808080" stroke="#000" stroke-width="2.4" stroke-linejoin="round"/>
<g clip-path="url(#bc15)">
<path d="M208.3,795.2C208.7,795.2 209.3,796.0 209.7,796.4C210.1,796.9 210.2,797.5 210.6,798.1C211.0,798.7 211.7,799.5 212.2,800.3C212.7,801.0 212.9,802.1 213.4,802.7C213.9,803.3 214.7,803.6 215.4,804.1C216.0,804.6 217.1,805.3 217.1,805.8C217.1,806.3 216.0,806.4 215.6,806.9C215.2,807.3 214.9,807.9 214.6,808.4C214.3,808.9 214.2,809.6 214.0,810.2C213.8,810.7 213.2,811.3 213.4,811.9C213.6,812.5 214.4,813.2 215.0,813.8C215.6,814.4 216.3,814.7 216.9,815.4C217.5,816.1 218.3,817.0 218.9,817.8C219.5,818.7 220.3,819.7 220.4,820.6C220.5,821.5 220.0,822.3 219.8,823.2C219.6,824.1 219.4,824.9 219.2,825.8C219.0,826.7 218.6,827.6 218.4,828.6C218.2,829.5 218.4,830.6 218.1,831.5C217.8,832.4 217.1,833.0 216.6,833.8C216.2,834.6 215.8,835.5 215.2,836.1C214.6,836.7 213.8,837.0 213.2,837.6C212.6,838.2 212.1,838.7 211.7,839.6C211.3,840.5 211.1,842.0 210.9,843.3C210.8,844.5 211.3,846.4 210.8,847.0C210.3,847.6 208.6,847.5 208.1,847.0C207.6,846.5 207.9,844.9 207.8,843.9C207.7,842.8 208.1,841.2 207.7,840.7C207.3,840.2 206.3,840.9 205.6,840.8C204.9,840.8 203.9,840.6 203.6,840.2C203.3,839.8 204.0,839.1 204.1,838.5C204.2,837.9 204.5,837.3 204.2,836.7C203.9,836.1 202.8,835.6 202.3,834.9C201.7,834.2 201.3,833.5 200.8,832.7C200.3,831.9 199.8,830.9 199.5,829.9C199.2,828.9 199.0,827.9 199.0,826.9C199.0,825.9 199.6,825.0 199.8,824.0C200.0,823.1 199.8,821.9 200.2,821.1C200.6,820.3 201.4,819.7 201.9,818.9C202.4,818.2 202.9,817.3 203.1,816.5C203.3,815.7 203.2,814.9 203.1,814.2C203.0,813.4 202.4,812.5 202.5,811.9C202.6,811.3 203.6,810.9 204.0,810.3C204.3,809.8 204.6,809.2 204.8,808.4C205.0,807.6 205.0,806.5 205.2,805.5C205.4,804.6 205.8,803.6 206.0,802.7C206.2,801.8 205.9,801.1 206.1,800.3C206.2,799.6 206.6,798.7 206.8,798.1C207.0,797.5 207.0,797.0 207.3,796.5C207.5,796.0 207.9,795.2 208.3,795.2Z" fill="none" stroke="#060606" stroke-width="3.0" filter="url(#b08)"/>
<ellipse cx="209.5" cy="803" rx="1.5" ry="4" fill="#909090" opacity="0.8" filter="url(#soft3)" transform="rotate(0 209.5 803)"/>
<ellipse cx="209" cy="812.5" rx="2.5" ry="2" fill="#060606" opacity="1" filter="url(#soft3)" transform="rotate(0 209 812.5)"/>
</g>
<path d="M215.9,824.6C216.1,825.9 216.0,827.5 215.7,828.7C215.4,830.0 214.7,831.2 214.0,832.0C213.2,832.8 212.1,833.4 211.1,833.5C210.2,833.7 209.0,833.4 208.0,832.8C207.1,832.3 206.1,831.3 205.4,830.2C204.8,829.1 204.2,827.6 204.1,826.2C203.9,824.9 204.0,823.3 204.3,822.1C204.6,820.8 205.3,819.6 206.0,818.8C206.8,818.0 207.9,817.4 208.9,817.3C209.8,817.1 211.0,817.4 212.0,818.0C212.9,818.5 213.9,819.5 214.6,820.6C215.2,821.7 215.8,823.2 215.9,824.6Z" fill="#8a8a8a"/>
<path d="M215.1,824.7C215.3,825.8 215.2,827.2 214.9,828.3C214.6,829.3 214.1,830.4 213.4,831.1C212.7,831.8 211.8,832.3 211.0,832.4C210.1,832.5 209.1,832.3 208.3,831.8C207.5,831.3 206.6,830.5 206.1,829.5C205.5,828.6 205.1,827.3 204.9,826.1C204.7,825.0 204.8,823.6 205.1,822.5C205.4,821.5 205.9,820.4 206.6,819.7C207.3,819.0 208.2,818.5 209.0,818.4C209.9,818.3 210.9,818.5 211.7,819.0C212.5,819.5 213.4,820.3 213.9,821.3C214.5,822.2 214.9,823.5 215.1,824.7Z" fill="none" stroke="#0c0c0c" stroke-width="1.5" filter="url(#b06)"/>
<path d="M215.9,824.6C216.1,825.9 216.0,827.5 215.7,828.7C215.4,830.0 214.7,831.2 214.0,832.0C213.2,832.8 212.1,833.4 211.1,833.5C210.2,833.7 209.0,833.4 208.0,832.8C207.1,832.3 206.1,831.3 205.4,830.2C204.8,829.1 204.2,827.6 204.1,826.2C203.9,824.9 204.0,823.3 204.3,822.1C204.6,820.8 205.3,819.6 206.0,818.8C206.8,818.0 207.9,817.4 208.9,817.3C209.8,817.1 211.0,817.4 212.0,818.0C212.9,818.5 213.9,819.5 214.6,820.6C215.2,821.7 215.8,823.2 215.9,824.6Z" fill="none" stroke="#fff" stroke-width="0.85"/>
<path d="M214.2,824.7C214.3,825.7 214.2,826.7 214.0,827.6C213.8,828.4 213.3,829.3 212.8,829.8C212.3,830.4 211.6,830.8 210.9,830.8C210.2,830.9 209.4,830.8 208.7,830.4C208.1,830.0 207.4,829.3 207.0,828.6C206.5,827.8 206.2,826.8 206.0,825.9C205.9,824.9 206.0,823.9 206.2,823.0C206.4,822.2 206.9,821.3 207.4,820.8C207.9,820.2 208.6,819.8 209.3,819.8C210.0,819.7 210.8,819.8 211.5,820.2C212.1,820.6 212.8,821.3 213.2,822.0C213.7,822.8 214.0,823.8 214.2,824.7Z" fill="#a0a0a0"/>
<path d="M213.5,824.8C213.6,825.6 213.6,826.5 213.4,827.2C213.2,827.9 212.8,828.6 212.4,829.1C211.9,829.5 211.3,829.9 210.8,829.9C210.2,830.0 209.5,829.9 209.0,829.6C208.4,829.2 207.9,828.7 207.5,828.0C207.1,827.4 206.8,826.5 206.7,825.8C206.6,825.0 206.6,824.1 206.8,823.4C207.0,822.7 207.4,822.0 207.8,821.5C208.3,821.1 208.9,820.7 209.4,820.7C210.0,820.6 210.7,820.7 211.2,821.0C211.8,821.4 212.3,821.9 212.7,822.6C213.1,823.2 213.4,824.1 213.5,824.8Z" fill="none" stroke="#0c0c0c" stroke-width="1.2" filter="url(#b06)"/>
<path d="M214.2,824.7C214.3,825.7 214.2,826.7 214.0,827.6C213.8,828.4 213.3,829.3 212.8,829.8C212.3,830.4 211.6,830.8 210.9,830.8C210.2,830.9 209.4,830.8 208.7,830.4C208.1,830.0 207.4,829.3 207.0,828.6C206.5,827.8 206.2,826.8 206.0,825.9C205.9,824.9 206.0,823.9 206.2,823.0C206.4,822.2 206.9,821.3 207.4,820.8C207.9,820.2 208.6,819.8 209.3,819.8C210.0,819.7 210.8,819.8 211.5,820.2C212.1,820.6 212.8,821.3 213.2,822.0C213.7,822.8 214.0,823.8 214.2,824.7Z" fill="none" stroke="#fff" stroke-width="0.85"/>
<path d="M212.4,824.9C212.5,825.4 212.4,826.1 212.3,826.6C212.2,827.1 212.0,827.6 211.7,827.9C211.4,828.2 211.0,828.4 210.7,828.5C210.3,828.5 209.9,828.4 209.5,828.2C209.2,828.0 208.8,827.5 208.5,827.1C208.3,826.7 208.1,826.1 208.0,825.5C207.9,825.0 208.0,824.3 208.1,823.8C208.2,823.3 208.4,822.8 208.7,822.5C209.0,822.2 209.4,822.0 209.7,821.9C210.1,821.9 210.5,822.0 210.9,822.2C211.2,822.4 211.6,822.9 211.9,823.3C212.1,823.7 212.3,824.3 212.4,824.9Z" fill="#b0b0b0"/>
<path d="M211.9,825.0C212.0,825.4 211.9,825.9 211.9,826.3C211.8,826.7 211.6,827.1 211.4,827.3C211.1,827.5 210.8,827.7 210.6,827.8C210.3,827.8 209.9,827.7 209.7,827.5C209.4,827.4 209.1,827.0 208.9,826.7C208.7,826.3 208.6,825.9 208.5,825.4C208.4,825.0 208.5,824.5 208.5,824.1C208.6,823.7 208.8,823.3 209.0,823.1C209.3,822.9 209.6,822.7 209.8,822.6C210.1,822.6 210.5,822.7 210.7,822.9C211.0,823.0 211.3,823.4 211.5,823.7C211.7,824.1 211.8,824.5 211.9,825.0Z" fill="none" stroke="#0c0c0c" stroke-width="0.9" filter="url(#b06)"/>
<path d="M212.4,824.9C212.5,825.4 212.4,826.1 212.3,826.6C212.2,827.1 212.0,827.6 211.7,827.9C211.4,828.2 211.0,828.4 210.7,828.5C210.3,828.5 209.9,828.4 209.5,828.2C209.2,828.0 208.8,827.5 208.5,827.1C208.3,826.7 208.1,826.1 208.0,825.5C207.9,825.0 208.0,824.3 208.1,823.8C208.2,823.3 208.4,822.8 208.7,822.5C209.0,822.2 209.4,822.0 209.7,821.9C210.1,821.9 210.5,822.0 210.9,822.2C211.2,822.4 211.6,822.9 211.9,823.3C212.1,823.7 212.3,824.3 212.4,824.9Z" fill="none" stroke="#fff" stroke-width="0.85"/>
<circle cx="210.2" cy="787.1" r="1.2" fill="#ddd" stroke="#111" stroke-width="0.9"/>
<ellipse cx="196.1" cy="818.8" rx="1.0" ry="1.0" fill="#111"/>
<clipPath id="bc16"><path d="M294.5,786.0C295.3,786.0 296.2,786.6 297.1,786.9C297.9,787.2 299.1,787.2 299.7,787.7C300.3,788.2 300.4,789.3 300.8,790.0C301.1,790.8 301.9,791.4 302.0,792.3C302.1,793.2 301.5,794.2 301.4,795.2C301.3,796.1 301.2,797.1 301.4,798.1C301.6,799.1 302.2,799.9 302.5,800.9C302.8,801.8 302.9,802.7 303.2,803.8C303.5,804.9 303.7,806.2 304.0,807.4C304.3,808.6 305.2,810.4 305.1,811.0C305.0,811.6 304.0,811.0 303.5,811.1C302.9,811.3 302.4,811.4 302.0,811.9C301.6,812.4 301.1,813.3 300.8,814.1C300.6,814.9 300.2,815.8 300.3,816.5C300.4,817.2 301.3,817.5 301.7,818.1C302.0,818.7 302.1,819.4 302.6,820.0C303.1,820.6 304.1,821.2 304.8,821.8C305.6,822.4 306.6,822.6 307.2,823.4C307.8,824.2 308.1,825.4 308.6,826.3C309.0,827.3 309.9,828.2 310.1,829.2C310.3,830.2 309.7,831.1 309.5,832.1C309.3,833.1 309.3,834.1 308.9,835.0C308.5,835.9 307.6,836.7 307.2,837.7C306.7,838.6 306.4,839.7 306.1,840.7C305.8,841.7 305.7,842.8 305.5,843.8C305.3,844.9 306.5,846.5 304.9,847.0C303.3,847.5 298.9,847.0 295.9,847.0C293.0,847.0 288.6,847.5 287.0,847.0C285.4,846.5 286.8,845.2 286.5,844.3C286.2,843.5 285.7,842.9 285.3,841.9C284.9,840.9 284.6,839.6 284.3,838.4C283.9,837.3 283.2,836.1 283.0,835.0C282.8,833.9 282.8,833.1 282.8,832.1C282.8,831.1 282.7,829.9 283.0,829.2C283.3,828.5 284.1,828.1 284.7,827.6C285.2,827.1 285.9,826.8 286.5,826.3C287.1,825.8 287.6,825.3 288.2,824.8C288.8,824.4 289.6,824.0 289.9,823.4C290.2,822.8 290.0,821.8 290.2,821.0C290.4,820.2 291.0,819.6 291.1,818.8C291.2,818.0 290.8,817.2 290.6,816.5C290.4,815.7 289.8,815.1 289.9,814.2C290.0,813.3 290.6,812.3 290.9,811.4C291.2,810.4 291.6,809.4 291.6,808.4C291.6,807.4 291.2,806.5 291.0,805.6C290.8,804.6 290.6,803.7 290.5,802.7C290.4,801.7 290.4,800.7 290.2,799.7C290.0,798.8 289.3,797.8 289.3,796.9C289.3,796.0 290.0,795.0 290.2,794.1C290.4,793.1 290.3,791.9 290.5,791.1C290.7,790.3 291.1,789.8 291.4,789.1C291.7,788.5 291.7,787.6 292.2,787.1C292.7,786.6 293.7,786.0 294.5,786.0Z"/></clipPath>
<path d="M294.5,786.0C295.3,786.0 296.2,786.6 297.1,786.9C297.9,787.2 299.1,787.2 299.7,787.7C300.3,788.2 300.4,789.3 300.8,790.0C301.1,790.8 301.9,791.4 302.0,792.3C302.1,793.2 301.5,794.2 301.4,795.2C301.3,796.1 301.2,797.1 301.4,798.1C301.6,799.1 302.2,799.9 302.5,800.9C302.8,801.8 302.9,802.7 303.2,803.8C303.5,804.9 303.7,806.2 304.0,807.4C304.3,808.6 305.2,810.4 305.1,811.0C305.0,811.6 304.0,811.0 303.5,811.1C302.9,811.3 302.4,811.4 302.0,811.9C301.6,812.4 301.1,813.3 300.8,814.1C300.6,814.9 300.2,815.8 300.3,816.5C300.4,817.2 301.3,817.5 301.7,818.1C302.0,818.7 302.1,819.4 302.6,820.0C303.1,820.6 304.1,821.2 304.8,821.8C305.6,822.4 306.6,822.6 307.2,823.4C307.8,824.2 308.1,825.4 308.6,826.3C309.0,827.3 309.9,828.2 310.1,829.2C310.3,830.2 309.7,831.1 309.5,832.1C309.3,833.1 309.3,834.1 308.9,835.0C308.5,835.9 307.6,836.7 307.2,837.7C306.7,838.6 306.4,839.7 306.1,840.7C305.8,841.7 305.7,842.8 305.5,843.8C305.3,844.9 306.5,846.5 304.9,847.0C303.3,847.5 298.9,847.0 295.9,847.0C293.0,847.0 288.6,847.5 287.0,847.0C285.4,846.5 286.8,845.2 286.5,844.3C286.2,843.5 285.7,842.9 285.3,841.9C284.9,840.9 284.6,839.6 284.3,838.4C283.9,837.3 283.2,836.1 283.0,835.0C282.8,833.9 282.8,833.1 282.8,832.1C282.8,831.1 282.7,829.9 283.0,829.2C283.3,828.5 284.1,828.1 284.7,827.6C285.2,827.1 285.9,826.8 286.5,826.3C287.1,825.8 287.6,825.3 288.2,824.8C288.8,824.4 289.6,824.0 289.9,823.4C290.2,822.8 290.0,821.8 290.2,821.0C290.4,820.2 291.0,819.6 291.1,818.8C291.2,818.0 290.8,817.2 290.6,816.5C290.4,815.7 289.8,815.1 289.9,814.2C290.0,813.3 290.6,812.3 290.9,811.4C291.2,810.4 291.6,809.4 291.6,808.4C291.6,807.4 291.2,806.5 291.0,805.6C290.8,804.6 290.6,803.7 290.5,802.7C290.4,801.7 290.4,800.7 290.2,799.7C290.0,798.8 289.3,797.8 289.3,796.9C289.3,796.0 290.0,795.0 290.2,794.1C290.4,793.1 290.3,791.9 290.5,791.1C290.7,790.3 291.1,789.8 291.4,789.1C291.7,788.5 291.7,787.6 292.2,787.1C292.7,786.6 293.7,786.0 294.5,786.0Z" fill="#808080" stroke="#000" stroke-width="2.4" stroke-linejoin="round"/>
<g clip-path="url(#bc16)">
<path d="M294.5,786.0C295.3,786.0 296.2,786.6 297.1,786.9C297.9,787.2 299.1,787.2 299.7,787.7C300.3,788.2 300.4,789.3 300.8,790.0C301.1,790.8 301.9,791.4 302.0,792.3C302.1,793.2 301.5,794.2 301.4,795.2C301.3,796.1 301.2,797.1 301.4,798.1C301.6,799.1 302.2,799.9 302.5,800.9C302.8,801.8 302.9,802.7 303.2,803.8C303.5,804.9 303.7,806.2 304.0,807.4C304.3,808.6 305.2,810.4 305.1,811.0C305.0,811.6 304.0,811.0 303.5,811.1C302.9,811.3 302.4,811.4 302.0,811.9C301.6,812.4 301.1,813.3 300.8,814.1C300.6,814.9 300.2,815.8 300.3,816.5C300.4,817.2 301.3,817.5 301.7,818.1C302.0,818.7 302.1,819.4 302.6,820.0C303.1,820.6 304.1,821.2 304.8,821.8C305.6,822.4 306.6,822.6 307.2,823.4C307.8,824.2 308.1,825.4 308.6,826.3C309.0,827.3 309.9,828.2 310.1,829.2C310.3,830.2 309.7,831.1 309.5,832.1C309.3,833.1 309.3,834.1 308.9,835.0C308.5,835.9 307.6,836.7 307.2,837.7C306.7,838.6 306.4,839.7 306.1,840.7C305.8,841.7 305.7,842.8 305.5,843.8C305.3,844.9 306.5,846.5 304.9,847.0C303.3,847.5 298.9,847.0 295.9,847.0C293.0,847.0 288.6,847.5 287.0,847.0C285.4,846.5 286.8,845.2 286.5,844.3C286.2,843.5 285.7,842.9 285.3,841.9C284.9,840.9 284.6,839.6 284.3,838.4C283.9,837.3 283.2,836.1 283.0,835.0C282.8,833.9 282.8,833.1 282.8,832.1C282.8,831.1 282.7,829.9 283.0,829.2C283.3,828.5 284.1,828.1 284.7,827.6C285.2,827.1 285.9,826.8 286.5,826.3C287.1,825.8 287.6,825.3 288.2,824.8C288.8,824.4 289.6,824.0 289.9,823.4C290.2,822.8 290.0,821.8 290.2,821.0C290.4,820.2 291.0,819.6 291.1,818.8C291.2,818.0 290.8,817.2 290.6,816.5C290.4,815.7 289.8,815.1 289.9,814.2C290.0,813.3 290.6,812.3 290.9,811.4C291.2,810.4 291.6,809.4 291.6,808.4C291.6,807.4 291.2,806.5 291.0,805.6C290.8,804.6 290.6,803.7 290.5,802.7C290.4,801.7 290.4,800.7 290.2,799.7C290.0,798.8 289.3,797.8 289.3,796.9C289.3,796.0 290.0,795.0 290.2,794.1C290.4,793.1 290.3,791.9 290.5,791.1C290.7,790.3 291.1,789.8 291.4,789.1C291.7,788.5 291.7,787.6 292.2,787.1C292.7,786.6 293.7,786.0 294.5,786.0Z" fill="none" stroke="#060606" stroke-width="3.0" filter="url(#b08)"/>
<ellipse cx="286" cy="833" rx="2.2" ry="5" fill="#060606" opacity="1" filter="url(#soft3)" transform="rotate(0 286 833)"/>
<ellipse cx="300" cy="797" rx="1.2" ry="3" fill="#999" opacity="0.7" filter="url(#soft3)" transform="rotate(0 300 797)"/>
</g>
<path d="M298.1,792.8C298.1,793.3 297.9,793.9 297.7,794.4C297.4,794.9 297.0,795.3 296.5,795.6C296.0,795.8 295.4,796.0 294.9,796.0C294.4,796.0 293.8,795.8 293.3,795.6C292.8,795.3 292.4,794.9 292.1,794.4C291.9,793.9 291.7,793.3 291.7,792.8C291.7,792.3 291.9,791.7 292.1,791.2C292.4,790.7 292.8,790.3 293.3,790.0C293.8,789.8 294.4,789.6 294.9,789.6C295.4,789.6 296.0,789.8 296.5,790.0C297.0,790.3 297.4,790.7 297.7,791.2C297.9,791.7 298.1,792.3 298.1,792.8Z" fill="#8a8a8a"/>
<path d="M297.3,792.8C297.3,793.2 297.2,793.7 297.0,794.0C296.8,794.3 296.4,794.7 296.1,794.9C295.8,795.1 295.3,795.2 294.9,795.2C294.5,795.2 294.0,795.1 293.7,794.9C293.4,794.7 293.0,794.3 292.8,794.0C292.6,793.7 292.5,793.2 292.5,792.8C292.5,792.4 292.6,791.9 292.8,791.6C293.0,791.3 293.4,790.9 293.7,790.7C294.0,790.5 294.5,790.4 294.9,790.4C295.3,790.4 295.8,790.5 296.1,790.7C296.4,790.9 296.8,791.3 297.0,791.6C297.2,791.9 297.3,792.4 297.3,792.8Z" fill="none" stroke="#0c0c0c" stroke-width="1.2" filter="url(#b06)"/>
<path d="M298.1,792.8C298.1,793.3 297.9,793.9 297.7,794.4C297.4,794.9 297.0,795.3 296.5,795.6C296.0,795.8 295.4,796.0 294.9,796.0C294.4,796.0 293.8,795.8 293.3,795.6C292.8,795.3 292.4,794.9 292.1,794.4C291.9,793.9 291.7,793.3 291.7,792.8C291.7,792.3 291.9,791.7 292.1,791.2C292.4,790.7 292.8,790.3 293.3,790.0C293.8,789.8 294.4,789.6 294.9,789.6C295.4,789.6 296.0,789.8 296.5,790.0C297.0,790.3 297.4,790.7 297.7,791.2C297.9,791.7 298.1,792.3 298.1,792.8Z" fill="none" stroke="#fff" stroke-width="0.85"/>
<ellipse cx="294.8" cy="792.9" rx="1.4" ry="1.4" fill="#e8e8e8" stroke="#fff" stroke-width="0.5"/>
<path d="M300.0,807.2C299.6,808.4 299.0,809.6 298.4,810.6C297.8,811.5 297.0,812.3 296.4,812.7C295.8,813.2 295.1,813.3 294.7,813.2C294.2,813.0 293.8,812.4 293.6,811.7C293.4,811.0 293.4,809.9 293.5,808.8C293.6,807.7 294.0,806.3 294.4,805.2C294.8,804.0 295.4,802.8 296.0,801.8C296.6,800.9 297.4,800.1 298.0,799.7C298.6,799.2 299.3,799.1 299.7,799.2C300.2,799.4 300.6,800.0 300.8,800.7C301.0,801.4 301.0,802.5 300.9,803.6C300.8,804.7 300.4,806.1 300.0,807.2Z" fill="#a0a0a0"/>
<path d="M299.6,807.1C299.2,808.1 298.7,809.1 298.2,809.9C297.7,810.7 297.1,811.4 296.5,811.8C296.0,812.1 295.4,812.3 295.0,812.1C294.6,812.0 294.3,811.5 294.1,810.9C294.0,810.3 293.9,809.3 294.0,808.4C294.2,807.5 294.4,806.3 294.8,805.3C295.2,804.3 295.7,803.3 296.2,802.5C296.7,801.7 297.3,801.0 297.9,800.6C298.4,800.3 299.0,800.1 299.4,800.3C299.8,800.4 300.1,800.9 300.3,801.5C300.4,802.1 300.5,803.1 300.4,804.0C300.2,804.9 300.0,806.1 299.6,807.1Z" fill="none" stroke="#0c0c0c" stroke-width="1.2" filter="url(#b06)"/>
<path d="M300.0,807.2C299.6,808.4 299.0,809.6 298.4,810.6C297.8,811.5 297.0,812.3 296.4,812.7C295.8,813.2 295.1,813.3 294.7,813.2C294.2,813.0 293.8,812.4 293.6,811.7C293.4,811.0 293.4,809.9 293.5,808.8C293.6,807.7 294.0,806.3 294.4,805.2C294.8,804.0 295.4,802.8 296.0,801.8C296.6,800.9 297.4,800.1 298.0,799.7C298.6,799.2 299.3,799.1 299.7,799.2C300.2,799.4 300.6,800.0 300.8,800.7C301.0,801.4 301.0,802.5 300.9,803.6C300.8,804.7 300.4,806.1 300.0,807.2Z" fill="none" stroke="#fff" stroke-width="0.85"/>
<ellipse cx="297.0" cy="808.3" rx="1.0" ry="3.2" fill="#111" filter="url(#b06)" transform="rotate(25 297.0 808.3)"/>
<path d="M299.0,801.3C299.0,801.8 298.8,802.4 298.6,802.7C298.4,803.0 297.9,803.3 297.6,803.3C297.3,803.3 296.8,803.0 296.6,802.7C296.4,802.4 296.2,801.8 296.2,801.3C296.2,800.8 296.4,800.2 296.6,799.9C296.8,799.6 297.3,799.3 297.6,799.3C297.9,799.3 298.4,799.6 298.6,799.9C298.8,800.2 299.0,800.8 299.0,801.3Z" fill="none" stroke="#fff" stroke-width="0.95" stroke-linecap="round"/>
<path d="M307.0,832.4C307.0,834.1 306.6,836.0 305.8,837.5C305.1,839.0 303.9,840.4 302.6,841.2C301.3,842.1 299.7,842.6 298.2,842.6C296.7,842.6 295.1,842.1 293.8,841.2C292.5,840.4 291.3,839.0 290.6,837.5C289.8,836.0 289.4,834.1 289.4,832.4C289.4,830.7 289.8,828.8 290.6,827.3C291.3,825.8 292.5,824.4 293.8,823.6C295.1,822.7 296.7,822.2 298.2,822.2C299.7,822.2 301.3,822.7 302.6,823.6C303.9,824.4 305.1,825.8 305.8,827.3C306.6,828.8 307.0,830.7 307.0,832.4Z" fill="#7c7c7c"/>
<path d="M306.1,832.4C306.1,833.9 305.7,835.6 305.0,837.0C304.4,838.3 303.3,839.5 302.1,840.3C301.0,841.1 299.5,841.5 298.2,841.5C296.9,841.5 295.4,841.1 294.3,840.3C293.1,839.5 292.0,838.3 291.4,837.0C290.7,835.6 290.3,833.9 290.3,832.4C290.3,830.9 290.7,829.2 291.4,827.8C292.0,826.5 293.1,825.3 294.3,824.5C295.4,823.7 296.9,823.3 298.2,823.3C299.5,823.3 301.0,823.7 302.1,824.5C303.3,825.3 304.4,826.5 305.0,827.8C305.7,829.2 306.1,830.9 306.1,832.4Z" fill="none" stroke="#0c0c0c" stroke-width="1.6" filter="url(#b06)"/>
<path d="M307.0,832.4C307.0,834.1 306.6,836.0 305.8,837.5C305.1,839.0 303.9,840.4 302.6,841.2C301.3,842.1 299.7,842.6 298.2,842.6C296.7,842.6 295.1,842.1 293.8,841.2C292.5,840.4 291.3,839.0 290.6,837.5C289.8,836.0 289.4,834.1 289.4,832.4C289.4,830.7 289.8,828.8 290.6,827.3C291.3,825.8 292.5,824.4 293.8,823.6C295.1,822.7 296.7,822.2 298.2,822.2C299.7,822.2 301.3,822.7 302.6,823.6C303.9,824.4 305.1,825.8 305.8,827.3C306.6,828.8 307.0,830.7 307.0,832.4Z" fill="none" stroke="#fff" stroke-width="0.85"/>
<path d="M305.0,831.8C305.0,833.1 304.7,834.6 304.1,835.7C303.6,836.8 302.7,837.9 301.7,838.6C300.7,839.2 299.5,839.6 298.4,839.6C297.3,839.6 296.1,839.2 295.1,838.6C294.1,837.9 293.2,836.8 292.7,835.7C292.1,834.6 291.8,833.1 291.8,831.8C291.8,830.5 292.1,829.0 292.7,827.9C293.2,826.8 294.1,825.7 295.1,825.0C296.1,824.4 297.3,824.0 298.4,824.0C299.5,824.0 300.7,824.4 301.7,825.0C302.7,825.7 303.6,826.8 304.1,827.9C304.7,829.0 305.0,830.5 305.0,831.8Z" fill="#9a9a9a"/>
<path d="M304.2,831.8C304.2,832.9 303.9,834.2 303.4,835.2C302.9,836.2 302.1,837.1 301.3,837.7C300.5,838.3 299.4,838.6 298.4,838.6C297.4,838.6 296.3,838.3 295.5,837.7C294.7,837.1 293.9,836.2 293.4,835.2C292.9,834.2 292.6,832.9 292.6,831.8C292.6,830.7 292.9,829.4 293.4,828.4C293.9,827.4 294.7,826.5 295.5,825.9C296.3,825.3 297.4,825.0 298.4,825.0C299.4,825.0 300.5,825.3 301.3,825.9C302.1,826.5 302.9,827.4 303.4,828.4C303.9,829.4 304.2,830.7 304.2,831.8Z" fill="none" stroke="#0c0c0c" stroke-width="1.4" filter="url(#b06)"/>
<path d="M305.0,831.8C305.0,833.1 304.7,834.6 304.1,835.7C303.6,836.8 302.7,837.9 301.7,838.6C300.7,839.2 299.5,839.6 298.4,839.6C297.3,839.6 296.1,839.2 295.1,838.6C294.1,837.9 293.2,836.8 292.7,835.7C292.1,834.6 291.8,833.1 291.8,831.8C291.8,830.5 292.1,829.0 292.7,827.9C293.2,826.8 294.1,825.7 295.1,825.0C296.1,824.4 297.3,824.0 298.4,824.0C299.5,824.0 300.7,824.4 301.7,825.0C302.7,825.7 303.6,826.8 304.1,827.9C304.7,829.0 305.0,830.5 305.0,831.8Z" fill="none" stroke="#fff" stroke-width="0.85"/>
<path d="M302.8,831.5C302.8,832.4 302.6,833.5 302.2,834.3C301.9,835.1 301.3,835.9 300.7,836.3C300.1,836.8 299.3,837.1 298.6,837.1C297.9,837.1 297.1,836.8 296.5,836.3C295.9,835.9 295.3,835.1 295.0,834.3C294.6,833.5 294.4,832.4 294.4,831.5C294.4,830.6 294.6,829.5 295.0,828.7C295.3,827.9 295.9,827.1 296.5,826.7C297.1,826.2 297.9,825.9 298.6,825.9C299.3,825.9 300.1,826.2 300.7,826.7C301.3,827.1 301.9,827.9 302.2,828.7C302.6,829.5 302.8,830.6 302.8,831.5Z" fill="#a8a8a8"/>
<path d="M302.1,831.5C302.1,832.3 301.9,833.2 301.6,833.8C301.4,834.5 300.9,835.2 300.4,835.6C299.9,836.0 299.2,836.2 298.6,836.2C298.0,836.2 297.3,836.0 296.8,835.6C296.3,835.2 295.8,834.5 295.6,833.8C295.3,833.2 295.1,832.3 295.1,831.5C295.1,830.7 295.3,829.8 295.6,829.2C295.8,828.5 296.3,827.8 296.8,827.4C297.3,827.0 298.0,826.8 298.6,826.8C299.2,826.8 299.9,827.0 300.4,827.4C300.9,827.8 301.4,828.5 301.6,829.2C301.9,829.8 302.1,830.7 302.1,831.5Z" fill="none" stroke="#0c0c0c" stroke-width="1.2" filter="url(#b06)"/>
<path d="M302.8,831.5C302.8,832.4 302.6,833.5 302.2,834.3C301.9,835.1 301.3,835.9 300.7,836.3C300.1,836.8 299.3,837.1 298.6,837.1C297.9,837.1 297.1,836.8 296.5,836.3C295.9,835.9 295.3,835.1 295.0,834.3C294.6,833.5 294.4,832.4 294.4,831.5C294.4,830.6 294.6,829.5 295.0,828.7C295.3,827.9 295.9,827.1 296.5,826.7C297.1,826.2 297.9,825.9 298.6,825.9C299.3,825.9 300.1,826.2 300.7,826.7C301.3,827.1 301.9,827.9 302.2,828.7C302.6,829.5 302.8,830.6 302.8,831.5Z" fill="none" stroke="#fff" stroke-width="0.85"/>
<ellipse cx="298.3" cy="829" rx="1.4" ry="1.8" fill="#111" filter="url(#b06)" transform="rotate(0 298.3 829)"/>
<ellipse cx="299" cy="834.3" rx="1.4" ry="1.8" fill="#111" filter="url(#b06)" transform="rotate(0 299 834.3)"/>
</g>
<rect x="58.8" y="758.4" width="88.8" height="87.10000000000002" fill="none" stroke="#999" stroke-width="1.0"/>
<line x1="58.8" y1="845.5" x2="147.6" y2="845.5" stroke="#666" stroke-width="1.1" stroke-linecap="butt"/>
<text x="60.599999999999994" y="854.3" font-size="5.7" text-anchor="middle" fill="#000">10<tspan font-size="3.99" dy="-2.56">0</tspan></text>
<text x="82.52592592592592" y="854.3" font-size="5.7" text-anchor="middle" fill="#000">10<tspan font-size="3.99" dy="-2.56">1</tspan></text>
<text x="104.45185185185186" y="854.3" font-size="5.7" text-anchor="middle" fill="#000">10<tspan font-size="3.99" dy="-2.56">2</tspan></text>
<text x="126.37777777777777" y="854.3" font-size="5.7" text-anchor="middle" fill="#000">10<tspan font-size="3.99" dy="-2.56">3</tspan></text>
<text x="148.30370370370372" y="854.3" font-size="5.7" text-anchor="middle" fill="#000">10<tspan font-size="3.99" dy="-2.56">4</tspan></text>
<rect x="155.4" y="758.4" width="88.8" height="87.10000000000002" fill="none" stroke="#999" stroke-width="1.0"/>
<line x1="155.4" y1="845.5" x2="244.2" y2="845.5" stroke="#666" stroke-width="1.1" stroke-linecap="butt"/>
<text x="157.20000000000002" y="854.3" font-size="5.7" text-anchor="middle" fill="#000">10<tspan font-size="3.99" dy="-2.56">0</tspan></text>
<text x="179.12592592592594" y="854.3" font-size="5.7" text-anchor="middle" fill="#000">10<tspan font-size="3.99" dy="-2.56">1</tspan></text>
<text x="201.05185185185186" y="854.3" font-size="5.7" text-anchor="middle" fill="#000">10<tspan font-size="3.99" dy="-2.56">2</tspan></text>
<text x="222.9777777777778" y="854.3" font-size="5.7" text-anchor="middle" fill="#000">10<tspan font-size="3.99" dy="-2.56">3</tspan></text>
<text x="244.90370370370374" y="854.3" font-size="5.7" text-anchor="middle" fill="#000">10<tspan font-size="3.99" dy="-2.56">4</tspan></text>
<rect x="252.1" y="758.4" width="88.8" height="87.10000000000002" fill="none" stroke="#999" stroke-width="1.0"/>
<line x1="252.1" y1="845.5" x2="340.9" y2="845.5" stroke="#666" stroke-width="1.1" stroke-linecap="butt"/>
<text x="253.9" y="854.3" font-size="5.7" text-anchor="middle" fill="#000">10<tspan font-size="3.99" dy="-2.56">0</tspan></text>
<text x="275.82592592592596" y="854.3" font-size="5.7" text-anchor="middle" fill="#000">10<tspan font-size="3.99" dy="-2.56">1</tspan></text>
<text x="297.7518518518519" y="854.3" font-size="5.7" text-anchor="middle" fill="#000">10<tspan font-size="3.99" dy="-2.56">2</tspan></text>
<text x="319.67777777777775" y="854.3" font-size="5.7" text-anchor="middle" fill="#000">10<tspan font-size="3.99" dy="-2.56">3</tspan></text>
<text x="341.60370370370373" y="854.3" font-size="5.7" text-anchor="middle" fill="#000">10<tspan font-size="3.99" dy="-2.56">4</tspan></text>
<text x="56.4" y="760.0" font-size="5.7" text-anchor="end" fill="#000">10<tspan font-size="3.99" dy="-2.56">4</tspan></text>
<text x="56.4" y="781.775" font-size="5.7" text-anchor="end" fill="#000">10<tspan font-size="3.99" dy="-2.56">3</tspan></text>
<text x="56.4" y="803.5500000000001" font-size="5.7" text-anchor="end" fill="#000">10<tspan font-size="3.99" dy="-2.56">2</tspan></text>
<text x="56.4" y="825.325" font-size="5.7" text-anchor="end" fill="#000">10<tspan font-size="3.99" dy="-2.56">1</tspan></text>
<text x="56.4" y="847.1" font-size="5.7" text-anchor="end" fill="#000">10<tspan font-size="3.99" dy="-2.56">0</tspan></text>
<text x="85.8" y="753.8" font-size="11.6" text-anchor="start" fill="#000">MHC<tspan font-size="6.73" dy="-4.18">-/-</tspan></text>
<text x="196" y="754.6" font-size="12.3" text-anchor="start" fill="#000">D<tspan font-size="7.38" dy="-4.67">b</tspan></text>
<text x="292.9" y="754.6" font-size="12.3" text-anchor="start" fill="#000">D<tspan font-size="7.38" dy="-4.67">d</tspan></text>
<rect x="97.1" y="782.5" width="31.200000000000017" height="32.89999999999998" fill="none" stroke="#222" stroke-width="1.0"/>
<path d="M95.3,783.7 L93.3,783.7 L93.3,816 L95.3,816" fill="none" stroke="#111" stroke-width="1.3" />
<text x="113.8" y="776.3" font-size="12" text-anchor="middle" fill="#000">7%</text>
<text x="66.3" y="795.8" font-size="12" text-anchor="start" textLength="23.6" lengthAdjust="spacingAndGlyphs" fill="#000">MFI:</text>
<text x="66.3" y="810" font-size="12.2" text-anchor="start" fill="#000">55</text>
<rect x="196.1" y="780.2" width="31.0" height="33.39999999999998" fill="none" stroke="#222" stroke-width="1.0"/>
<path d="M194.1,782.5 L192.1,782.5 L192.1,815.4 L194.1,815.4" fill="none" stroke="#111" stroke-width="1.3" />
<text x="213.7" y="775.4" font-size="12" text-anchor="middle" fill="#000">15%</text>
<text x="165.6" y="794.4" font-size="12" text-anchor="start" textLength="23.6" lengthAdjust="spacingAndGlyphs" fill="#000">MFI:</text>
<text x="165.6" y="808.3" font-size="12.2" text-anchor="start" fill="#000">61</text>
<rect x="284.1" y="783.3" width="31.0" height="33.80000000000007" fill="none" stroke="#222" stroke-width="1.0"/>
<path d="M282.5,784.8 L280.5,784.8 L280.5,816.5 L282.5,816.5" fill="none" stroke="#111" stroke-width="1.3" />
<text x="300.6" y="775.4" font-size="12" text-anchor="middle" fill="#000">27%</text>
<text x="255.6" y="794.4" font-size="12" text-anchor="start" textLength="23.6" lengthAdjust="spacingAndGlyphs" fill="#000">MFI:</text>
<text x="255.6" y="808.3" font-size="12.2" text-anchor="start" fill="#000">90</text>
<text x="8" y="784.6" font-size="12" text-anchor="start" textLength="33.8" lengthAdjust="spacingAndGlyphs" fill="#000">Ly49D</text>
<line x1="40.3" y1="808" x2="40.3" y2="792.7" stroke="#111" stroke-width="2.1" stroke-linecap="butt"/>
<path d="M35.37,797.5 L40.3,791.7 L45.23,797.5" fill="none" stroke="#111" stroke-width="2.1" />
<text x="43.2" y="839.2" font-size="12" text-anchor="start" textLength="30" lengthAdjust="spacingAndGlyphs" fill="#000" transform="rotate(-90 43.2 839.2)">IFN-γ</text>
<text x="50" y="867.7" font-size="12" text-anchor="start" textLength="33.8" lengthAdjust="spacingAndGlyphs" fill="#000">Ly49A</text>
<line x1="89" y1="863.5" x2="104.6" y2="863.5" stroke="#111" stroke-width="2.1" stroke-linecap="butt"/>
<path d="M99.8,858.57 L105.6,863.5 L99.8,868.43" fill="none" stroke="#111" stroke-width="2.1" />
<text x="113.8" y="867.7" font-size="12" text-anchor="start" textLength="176" lengthAdjust="spacingAndGlyphs" fill="#000">CD3<tspan font-size="7.44" dy="-4.56">-</tspan><tspan dy="4.56"> Ly49C/I/G2</tspan><tspan font-size="7.44" dy="-4.56">-</tspan><tspan dy="4.56"> NK1.1</tspan><tspan font-size="7.44" dy="-4.56">+</tspan><tspan dy="4.56"> Ly49A</tspan><tspan font-size="7.44" dy="-4.56">+</tspan></text>
</g>
</svg>
</body></html>
